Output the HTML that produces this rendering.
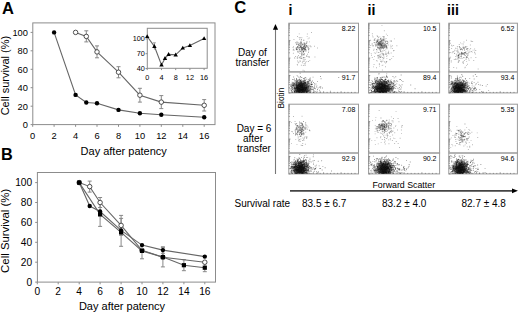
<!DOCTYPE html>
<html><head><meta charset="utf-8"><style>
html,body{margin:0;padding:0;background:#fff;}
body{width:520px;height:314px;overflow:hidden;}
svg{display:block;}
</style></head><body>
<svg width="520" height="314" viewBox="0 0 520 314">
<defs><filter id="soft" x="0" y="0" width="520" height="314" filterUnits="userSpaceOnUse"><feGaussianBlur stdDeviation="0.3"/></filter></defs>
<rect width="520" height="314" fill="#fff"/>
<text x="1.9" y="13.8" font-size="16.5" font-weight="bold" font-family="'Liberation Sans', sans-serif">A</text>
<rect x="32.8" y="22.9" width="182.2" height="101.69999999999999" fill="none" stroke="#8c8c8c" stroke-width="1"/>
<line x1="30.599999999999998" y1="124.6" x2="32.8" y2="124.6" stroke="#8c8c8c"/>
<text x="27.9" y="128.0" font-size="9.3" text-anchor="end" font-family="'Liberation Sans', sans-serif">0</text>
<line x1="30.599999999999998" y1="106.2" x2="32.8" y2="106.2" stroke="#8c8c8c"/>
<text x="27.9" y="109.6" font-size="9.3" text-anchor="end" font-family="'Liberation Sans', sans-serif">20</text>
<line x1="30.599999999999998" y1="87.7" x2="32.8" y2="87.7" stroke="#8c8c8c"/>
<text x="27.9" y="91.1" font-size="9.3" text-anchor="end" font-family="'Liberation Sans', sans-serif">40</text>
<line x1="30.599999999999998" y1="69.3" x2="32.8" y2="69.3" stroke="#8c8c8c"/>
<text x="27.9" y="72.7" font-size="9.3" text-anchor="end" font-family="'Liberation Sans', sans-serif">60</text>
<line x1="30.599999999999998" y1="50.8" x2="32.8" y2="50.8" stroke="#8c8c8c"/>
<text x="27.9" y="54.2" font-size="9.3" text-anchor="end" font-family="'Liberation Sans', sans-serif">80</text>
<line x1="30.599999999999998" y1="32.4" x2="32.8" y2="32.4" stroke="#8c8c8c"/>
<text x="27.9" y="35.8" font-size="9.3" text-anchor="end" font-family="'Liberation Sans', sans-serif">100</text>
<line x1="32.7" y1="124.6" x2="32.7" y2="126.8" stroke="#8c8c8c"/>
<text x="32.7" y="138.9" font-size="9.3" text-anchor="middle" font-family="'Liberation Sans', sans-serif">0</text>
<line x1="54.1" y1="124.6" x2="54.1" y2="126.8" stroke="#8c8c8c"/>
<text x="54.1" y="138.9" font-size="9.3" text-anchor="middle" font-family="'Liberation Sans', sans-serif">2</text>
<line x1="75.6" y1="124.6" x2="75.6" y2="126.8" stroke="#8c8c8c"/>
<text x="75.6" y="138.9" font-size="9.3" text-anchor="middle" font-family="'Liberation Sans', sans-serif">4</text>
<line x1="97.0" y1="124.6" x2="97.0" y2="126.8" stroke="#8c8c8c"/>
<text x="97.0" y="138.9" font-size="9.3" text-anchor="middle" font-family="'Liberation Sans', sans-serif">6</text>
<line x1="118.5" y1="124.6" x2="118.5" y2="126.8" stroke="#8c8c8c"/>
<text x="118.5" y="138.9" font-size="9.3" text-anchor="middle" font-family="'Liberation Sans', sans-serif">8</text>
<line x1="139.9" y1="124.6" x2="139.9" y2="126.8" stroke="#8c8c8c"/>
<text x="139.9" y="138.9" font-size="9.3" text-anchor="middle" font-family="'Liberation Sans', sans-serif">10</text>
<line x1="161.3" y1="124.6" x2="161.3" y2="126.8" stroke="#8c8c8c"/>
<text x="161.3" y="138.9" font-size="9.3" text-anchor="middle" font-family="'Liberation Sans', sans-serif">12</text>
<line x1="182.8" y1="124.6" x2="182.8" y2="126.8" stroke="#8c8c8c"/>
<text x="182.8" y="138.9" font-size="9.3" text-anchor="middle" font-family="'Liberation Sans', sans-serif">14</text>
<line x1="204.2" y1="124.6" x2="204.2" y2="126.8" stroke="#8c8c8c"/>
<text x="204.2" y="138.9" font-size="9.3" text-anchor="middle" font-family="'Liberation Sans', sans-serif">16</text>
<text x="123.7" y="154.7" font-size="11" text-anchor="middle" font-family="'Liberation Sans', sans-serif">Day after patency</text>
<text transform="translate(8.9,75.6) rotate(-90)" font-size="11" text-anchor="middle" font-family="'Liberation Sans', sans-serif">Cell survival (%)</text>
<path d="M86.3 30.8V41.9M84.3 30.8h4M84.3 41.9h4" stroke="#888" stroke-width="1" fill="none"/>
<path d="M97.0 45.9V57.8M95.0 45.9h4M95.0 57.8h4" stroke="#888" stroke-width="1" fill="none"/>
<path d="M118.5 66.7V77.8M116.5 66.7h4M116.5 77.8h4" stroke="#888" stroke-width="1" fill="none"/>
<path d="M139.9 88.3V102.1M137.9 88.3h4M137.9 102.1h4" stroke="#888" stroke-width="1" fill="none"/>
<path d="M161.3 95.6V108.6M159.3 95.6h4M159.3 108.6h4" stroke="#888" stroke-width="1" fill="none"/>
<path d="M204.2 99.6V111.0M202.2 99.6h4M202.2 111.0h4" stroke="#888" stroke-width="1" fill="none"/>
<polyline points="54.1,32.4 75.6,94.9 86.3,102.5 97.0,103.2 118.5,109.9 139.9,113.3 161.3,114.7 204.2,117.3" fill="none" stroke="#666" stroke-width="1.1"/>
<polyline points="75.6,32.4 86.3,36.4 97.0,51.9 118.5,72.2 139.9,95.2 161.3,102.1 204.2,105.3" fill="none" stroke="#666" stroke-width="1.1"/>
<circle cx="54.1" cy="32.4" r="2.2" fill="#000"/>
<circle cx="75.6" cy="94.9" r="2.2" fill="#000"/>
<circle cx="86.3" cy="102.5" r="2.2" fill="#000"/>
<circle cx="97.0" cy="103.2" r="2.2" fill="#000"/>
<circle cx="118.5" cy="109.9" r="2.2" fill="#000"/>
<circle cx="139.9" cy="113.3" r="2.2" fill="#000"/>
<circle cx="161.3" cy="114.7" r="2.2" fill="#000"/>
<circle cx="204.2" cy="117.3" r="2.2" fill="#000"/>
<circle cx="75.6" cy="32.4" r="2.25" fill="#fff" stroke="#333" stroke-width="0.85"/>
<circle cx="86.3" cy="36.4" r="2.25" fill="#fff" stroke="#333" stroke-width="0.85"/>
<circle cx="97.0" cy="51.9" r="2.25" fill="#fff" stroke="#333" stroke-width="0.85"/>
<circle cx="118.5" cy="72.2" r="2.25" fill="#fff" stroke="#333" stroke-width="0.85"/>
<circle cx="139.9" cy="95.2" r="2.25" fill="#fff" stroke="#333" stroke-width="0.85"/>
<circle cx="161.3" cy="102.1" r="2.25" fill="#fff" stroke="#333" stroke-width="0.85"/>
<circle cx="204.2" cy="105.3" r="2.25" fill="#fff" stroke="#333" stroke-width="0.85"/>
<rect x="147.3" y="28.3" width="59.89999999999998" height="40.0" fill="#fff" stroke="#8c8c8c" stroke-width="1"/>
<line x1="145.5" y1="68.5" x2="147.3" y2="68.5" stroke="#8c8c8c"/>
<text x="144.9" y="71.0" font-size="7.3" text-anchor="end" font-family="'Liberation Sans', sans-serif">40</text>
<line x1="145.5" y1="53.7" x2="147.3" y2="53.7" stroke="#8c8c8c"/>
<text x="144.9" y="56.2" font-size="7.3" text-anchor="end" font-family="'Liberation Sans', sans-serif">70</text>
<line x1="145.5" y1="38.9" x2="147.3" y2="38.9" stroke="#8c8c8c"/>
<text x="144.9" y="41.4" font-size="7.3" text-anchor="end" font-family="'Liberation Sans', sans-serif">100</text>
<line x1="147.2" y1="68.3" x2="147.2" y2="70.1" stroke="#8c8c8c"/>
<text x="147.2" y="79.6" font-size="7.3" text-anchor="middle" font-family="'Liberation Sans', sans-serif">0</text>
<line x1="161.5" y1="68.3" x2="161.5" y2="70.1" stroke="#8c8c8c"/>
<text x="161.5" y="79.6" font-size="7.3" text-anchor="middle" font-family="'Liberation Sans', sans-serif">4</text>
<line x1="175.7" y1="68.3" x2="175.7" y2="70.1" stroke="#8c8c8c"/>
<text x="175.7" y="79.6" font-size="7.3" text-anchor="middle" font-family="'Liberation Sans', sans-serif">8</text>
<line x1="189.9" y1="68.3" x2="189.9" y2="70.1" stroke="#8c8c8c"/>
<text x="189.9" y="79.6" font-size="7.3" text-anchor="middle" font-family="'Liberation Sans', sans-serif">12</text>
<line x1="204.1" y1="68.3" x2="204.1" y2="70.1" stroke="#8c8c8c"/>
<text x="204.1" y="79.6" font-size="7.3" text-anchor="middle" font-family="'Liberation Sans', sans-serif">16</text>
<path d="M152.9 42.8h3M154.4 42.8V49.7" stroke="#777" stroke-width="0.7" fill="none"/>
<polyline points="147.2,36.5 154.4,46.3 161.5,64.9 165.0,58.4 168.6,54.4 175.7,54.8 182.8,48.0 189.9,45.5 204.1,38.5" fill="none" stroke="#666" stroke-width="1.1"/>
<path d="M147.2 34.2L149.4 38.1H145.1Z" fill="#000"/>
<path d="M154.4 44.0L156.6 47.9H152.2Z" fill="#000"/>
<path d="M161.5 62.6L163.7 66.5H159.3Z" fill="#000"/>
<path d="M165.0 56.1L167.2 60.0H162.8Z" fill="#000"/>
<path d="M168.6 52.1L170.8 56.0H166.4Z" fill="#000"/>
<path d="M175.7 52.5L177.9 56.4H173.5Z" fill="#000"/>
<path d="M182.8 45.7L185.0 49.6H180.6Z" fill="#000"/>
<path d="M189.9 43.2L192.1 47.1H187.7Z" fill="#000"/>
<path d="M204.1 36.2L206.3 40.1H201.9Z" fill="#000"/>
<text x="0.9" y="159.8" font-size="16.3" font-weight="bold" font-family="'Liberation Sans', sans-serif">B</text>
<rect x="37.4" y="172.5" width="178.1" height="109.60000000000002" fill="none" stroke="#8c8c8c" stroke-width="1"/>
<line x1="35.199999999999996" y1="282.1" x2="37.4" y2="282.1" stroke="#8c8c8c"/>
<text x="32.2" y="285.8" font-size="10.2" text-anchor="end" font-family="'Liberation Sans', sans-serif">0</text>
<line x1="35.199999999999996" y1="262.2" x2="37.4" y2="262.2" stroke="#8c8c8c"/>
<text x="32.2" y="265.9" font-size="10.2" text-anchor="end" font-family="'Liberation Sans', sans-serif">20</text>
<line x1="35.199999999999996" y1="242.3" x2="37.4" y2="242.3" stroke="#8c8c8c"/>
<text x="32.2" y="246.0" font-size="10.2" text-anchor="end" font-family="'Liberation Sans', sans-serif">40</text>
<line x1="35.199999999999996" y1="222.4" x2="37.4" y2="222.4" stroke="#8c8c8c"/>
<text x="32.2" y="226.1" font-size="10.2" text-anchor="end" font-family="'Liberation Sans', sans-serif">60</text>
<line x1="35.199999999999996" y1="202.5" x2="37.4" y2="202.5" stroke="#8c8c8c"/>
<text x="32.2" y="206.2" font-size="10.2" text-anchor="end" font-family="'Liberation Sans', sans-serif">80</text>
<line x1="35.199999999999996" y1="182.6" x2="37.4" y2="182.6" stroke="#8c8c8c"/>
<text x="32.2" y="186.3" font-size="10.2" text-anchor="end" font-family="'Liberation Sans', sans-serif">100</text>
<line x1="37.3" y1="282.1" x2="37.3" y2="284.3" stroke="#8c8c8c"/>
<text x="37.3" y="294.9" font-size="10.2" text-anchor="middle" font-family="'Liberation Sans', sans-serif">0</text>
<line x1="58.2" y1="282.1" x2="58.2" y2="284.3" stroke="#8c8c8c"/>
<text x="58.2" y="294.9" font-size="10.2" text-anchor="middle" font-family="'Liberation Sans', sans-serif">2</text>
<line x1="79.2" y1="282.1" x2="79.2" y2="284.3" stroke="#8c8c8c"/>
<text x="79.2" y="294.9" font-size="10.2" text-anchor="middle" font-family="'Liberation Sans', sans-serif">4</text>
<line x1="100.1" y1="282.1" x2="100.1" y2="284.3" stroke="#8c8c8c"/>
<text x="100.1" y="294.9" font-size="10.2" text-anchor="middle" font-family="'Liberation Sans', sans-serif">6</text>
<line x1="121.1" y1="282.1" x2="121.1" y2="284.3" stroke="#8c8c8c"/>
<text x="121.1" y="294.9" font-size="10.2" text-anchor="middle" font-family="'Liberation Sans', sans-serif">8</text>
<line x1="142.0" y1="282.1" x2="142.0" y2="284.3" stroke="#8c8c8c"/>
<text x="142.0" y="294.9" font-size="10.2" text-anchor="middle" font-family="'Liberation Sans', sans-serif">10</text>
<line x1="162.9" y1="282.1" x2="162.9" y2="284.3" stroke="#8c8c8c"/>
<text x="162.9" y="294.9" font-size="10.2" text-anchor="middle" font-family="'Liberation Sans', sans-serif">12</text>
<line x1="183.9" y1="282.1" x2="183.9" y2="284.3" stroke="#8c8c8c"/>
<text x="183.9" y="294.9" font-size="10.2" text-anchor="middle" font-family="'Liberation Sans', sans-serif">14</text>
<line x1="204.8" y1="282.1" x2="204.8" y2="284.3" stroke="#8c8c8c"/>
<text x="204.8" y="294.9" font-size="10.2" text-anchor="middle" font-family="'Liberation Sans', sans-serif">16</text>
<text x="122" y="309.9" font-size="11" text-anchor="middle" font-family="'Liberation Sans', sans-serif">Day after patency</text>
<text transform="translate(8.6,230.8) rotate(-90)" font-size="11.4" text-anchor="middle" font-family="'Liberation Sans', sans-serif">Cell Survival (%)</text>
<path d="M89.7 181.1V192.1M87.7 181.1h4M87.7 192.1h4" stroke="#888" stroke-width="1" fill="none"/>
<path d="M100.1 197.5V207.5M98.1 197.5h4M98.1 207.5h4" stroke="#888" stroke-width="1" fill="none"/>
<path d="M121.1 215.4V235.3M119.1 215.4h4M119.1 235.3h4" stroke="#888" stroke-width="1" fill="none"/>
<path d="M162.9 246.8V253.3M160.9 246.8h4M160.9 253.3h4" stroke="#888" stroke-width="1" fill="none"/>
<path d="M100.1 202.5V226.4M98.1 202.5h4M98.1 226.4h4" stroke="#888" stroke-width="1" fill="none"/>
<path d="M121.1 218.4V246.3M119.1 218.4h4M119.1 246.3h4" stroke="#888" stroke-width="1" fill="none"/>
<path d="M142.0 250.9V258.8M140.0 250.9h4M140.0 258.8h4" stroke="#888" stroke-width="1" fill="none"/>
<path d="M162.9 247.4V266.9M160.9 247.4h4M160.9 266.9h4" stroke="#888" stroke-width="1" fill="none"/>
<path d="M183.9 259.7V270.7M181.9 259.7h4M181.9 270.7h4" stroke="#888" stroke-width="1" fill="none"/>
<path d="M204.8 263.7V271.7M202.8 263.7h4M202.8 271.7h4" stroke="#888" stroke-width="1" fill="none"/>
<polyline points="79.2,182.6 89.7,186.6 100.1,202.5 121.1,225.4 142.0,250.3 162.9,257.2 204.8,262.2" fill="none" stroke="#666" stroke-width="1.1"/>
<polyline points="79.2,182.6 89.7,206.0 100.1,211.5 121.1,230.4 142.0,245.1 162.9,250.1 204.8,256.6" fill="none" stroke="#666" stroke-width="1.1"/>
<polyline points="79.2,182.6 100.1,214.4 121.1,232.4 142.0,250.9 162.9,257.1 183.9,265.2 204.8,267.7" fill="none" stroke="#666" stroke-width="1.1"/>
<circle cx="79.2" cy="182.6" r="2.25" fill="#fff" stroke="#333" stroke-width="0.85"/>
<circle cx="89.7" cy="186.6" r="2.25" fill="#fff" stroke="#333" stroke-width="0.85"/>
<circle cx="100.1" cy="202.5" r="2.25" fill="#fff" stroke="#333" stroke-width="0.85"/>
<circle cx="121.1" cy="225.4" r="2.25" fill="#fff" stroke="#333" stroke-width="0.85"/>
<circle cx="142.0" cy="250.3" r="2.25" fill="#fff" stroke="#333" stroke-width="0.85"/>
<circle cx="162.9" cy="257.2" r="2.25" fill="#fff" stroke="#333" stroke-width="0.85"/>
<circle cx="204.8" cy="262.2" r="2.25" fill="#fff" stroke="#333" stroke-width="0.85"/>
<circle cx="79.2" cy="182.6" r="2.2" fill="#000"/>
<circle cx="89.7" cy="206.0" r="2.2" fill="#000"/>
<circle cx="100.1" cy="211.5" r="2.2" fill="#000"/>
<circle cx="121.1" cy="230.4" r="2.2" fill="#000"/>
<circle cx="142.0" cy="245.1" r="2.2" fill="#000"/>
<circle cx="162.9" cy="250.1" r="2.2" fill="#000"/>
<circle cx="204.8" cy="256.6" r="2.2" fill="#000"/>
<rect x="77.1" y="180.5" width="4.2" height="4.2" fill="#000"/>
<rect x="98.0" y="212.3" width="4.2" height="4.2" fill="#000"/>
<rect x="119.0" y="230.3" width="4.2" height="4.2" fill="#000"/>
<rect x="139.9" y="248.8" width="4.2" height="4.2" fill="#000"/>
<rect x="160.8" y="255.0" width="4.2" height="4.2" fill="#000"/>
<rect x="181.8" y="263.1" width="4.2" height="4.2" fill="#000"/>
<rect x="202.7" y="265.6" width="4.2" height="4.2" fill="#000"/>
<text x="234.2" y="13.2" font-size="16.6" font-weight="bold" font-family="'Liberation Sans', sans-serif">C</text>
<text x="288.6" y="15.4" font-size="14.2" font-weight="bold" font-family="'Liberation Sans', sans-serif">i</text>
<text x="367.5" y="15.4" font-size="14.2" font-weight="bold" font-family="'Liberation Sans', sans-serif">ii</text>
<text x="447" y="15.4" font-size="14.2" font-weight="bold" font-family="'Liberation Sans', sans-serif">iii</text>
<rect x="288.8" y="23.2" width="69.69999999999999" height="48.7" fill="none" stroke="#999"/>
<rect x="288.8" y="71.9" width="69.69999999999999" height="21.0" fill="none" stroke="#999"/>
<path d="M288.8 92.9h1.6M288.8 87.7h1.0M288.8 84.6h1.0M288.8 82.4h1.0M288.8 80.7h1.0M288.8 79.3h1.0M288.8 78.2h1.0M288.8 77.2h1.0M288.8 76.3h1.0M288.8 75.5h1.6M288.8 70.2h1.0M288.8 67.2h1.0M288.8 65.0h1.0M288.8 63.3h1.0M288.8 61.9h1.0M288.8 60.7h1.0M288.8 59.7h1.0M288.8 58.8h1.0M288.8 58.1h1.6M288.8 52.8h1.0M288.8 49.7h1.0M288.8 47.6h1.0M288.8 45.9h1.0M288.8 44.5h1.0M288.8 43.3h1.0M288.8 42.3h1.0M288.8 41.4h1.0M288.8 40.6h1.6M288.8 35.4h1.0M288.8 32.3h1.0M288.8 30.1h1.0M288.8 28.4h1.0M288.8 27.1h1.0M288.8 25.9h1.0M288.8 24.9h1.0M288.8 24.0h1.0M292.3 92.9v-1.0M295.8 92.9v-1.0M299.3 92.9v-1.0M302.7 92.9v-1.0M306.2 92.9v-1.6M309.7 92.9v-1.0M313.2 92.9v-1.0M316.7 92.9v-1.0M320.2 92.9v-1.0M323.6 92.9v-1.6M327.1 92.9v-1.0M330.6 92.9v-1.0M334.1 92.9v-1.0M337.6 92.9v-1.0M341.1 92.9v-1.6M344.6 92.9v-1.0M348.0 92.9v-1.0M351.5 92.9v-1.0M355.0 92.9v-1.0" stroke="#666" stroke-width="0.7" fill="none"/>
<text x="355.4" y="30.7" font-size="7" text-anchor="end" font-family="'Liberation Sans', sans-serif">8.22</text>
<text x="355.4" y="80.2" font-size="7" text-anchor="end" font-family="'Liberation Sans', sans-serif">91.7</text>
<rect x="368.6" y="23.2" width="71.0" height="48.7" fill="none" stroke="#999"/>
<rect x="368.6" y="71.9" width="71.0" height="21.0" fill="none" stroke="#999"/>
<path d="M368.6 92.9h1.6M368.6 87.7h1.0M368.6 84.6h1.0M368.6 82.4h1.0M368.6 80.7h1.0M368.6 79.3h1.0M368.6 78.2h1.0M368.6 77.2h1.0M368.6 76.3h1.0M368.6 75.5h1.6M368.6 70.2h1.0M368.6 67.2h1.0M368.6 65.0h1.0M368.6 63.3h1.0M368.6 61.9h1.0M368.6 60.7h1.0M368.6 59.7h1.0M368.6 58.8h1.0M368.6 58.1h1.6M368.6 52.8h1.0M368.6 49.7h1.0M368.6 47.6h1.0M368.6 45.9h1.0M368.6 44.5h1.0M368.6 43.3h1.0M368.6 42.3h1.0M368.6 41.4h1.0M368.6 40.6h1.6M368.6 35.4h1.0M368.6 32.3h1.0M368.6 30.1h1.0M368.6 28.4h1.0M368.6 27.1h1.0M368.6 25.9h1.0M368.6 24.9h1.0M368.6 24.0h1.0M372.2 92.9v-1.0M375.7 92.9v-1.0M379.2 92.9v-1.0M382.8 92.9v-1.0M386.4 92.9v-1.6M389.9 92.9v-1.0M393.5 92.9v-1.0M397.0 92.9v-1.0M400.6 92.9v-1.0M404.1 92.9v-1.6M407.7 92.9v-1.0M411.2 92.9v-1.0M414.8 92.9v-1.0M418.3 92.9v-1.0M421.9 92.9v-1.6M425.4 92.9v-1.0M429.0 92.9v-1.0M432.5 92.9v-1.0M436.1 92.9v-1.0" stroke="#666" stroke-width="0.7" fill="none"/>
<text x="436.5" y="30.7" font-size="7" text-anchor="end" font-family="'Liberation Sans', sans-serif">10.5</text>
<text x="436.5" y="80.2" font-size="7" text-anchor="end" font-family="'Liberation Sans', sans-serif">89.4</text>
<rect x="448.8" y="23.2" width="68.59999999999997" height="48.7" fill="none" stroke="#999"/>
<rect x="448.8" y="71.9" width="68.59999999999997" height="21.0" fill="none" stroke="#999"/>
<path d="M448.8 92.9h1.6M448.8 87.7h1.0M448.8 84.6h1.0M448.8 82.4h1.0M448.8 80.7h1.0M448.8 79.3h1.0M448.8 78.2h1.0M448.8 77.2h1.0M448.8 76.3h1.0M448.8 75.5h1.6M448.8 70.2h1.0M448.8 67.2h1.0M448.8 65.0h1.0M448.8 63.3h1.0M448.8 61.9h1.0M448.8 60.7h1.0M448.8 59.7h1.0M448.8 58.8h1.0M448.8 58.1h1.6M448.8 52.8h1.0M448.8 49.7h1.0M448.8 47.6h1.0M448.8 45.9h1.0M448.8 44.5h1.0M448.8 43.3h1.0M448.8 42.3h1.0M448.8 41.4h1.0M448.8 40.6h1.6M448.8 35.4h1.0M448.8 32.3h1.0M448.8 30.1h1.0M448.8 28.4h1.0M448.8 27.1h1.0M448.8 25.9h1.0M448.8 24.9h1.0M448.8 24.0h1.0M452.2 92.9v-1.0M455.7 92.9v-1.0M459.1 92.9v-1.0M462.5 92.9v-1.0M465.9 92.9v-1.6M469.4 92.9v-1.0M472.8 92.9v-1.0M476.2 92.9v-1.0M479.7 92.9v-1.0M483.1 92.9v-1.6M486.5 92.9v-1.0M490.0 92.9v-1.0M493.4 92.9v-1.0M496.8 92.9v-1.0M500.2 92.9v-1.6M503.7 92.9v-1.0M507.1 92.9v-1.0M510.5 92.9v-1.0M514.0 92.9v-1.0" stroke="#666" stroke-width="0.7" fill="none"/>
<text x="514.3" y="30.7" font-size="7" text-anchor="end" font-family="'Liberation Sans', sans-serif">6.52</text>
<text x="514.3" y="80.2" font-size="7" text-anchor="end" font-family="'Liberation Sans', sans-serif">93.4</text>
<rect x="288.8" y="104.2" width="69.69999999999999" height="48.8" fill="none" stroke="#999"/>
<rect x="288.8" y="153" width="69.69999999999999" height="20.900000000000006" fill="none" stroke="#999"/>
<path d="M288.8 173.9h1.6M288.8 168.7h1.0M288.8 165.6h1.0M288.8 163.4h1.0M288.8 161.7h1.0M288.8 160.3h1.0M288.8 159.2h1.0M288.8 158.2h1.0M288.8 157.3h1.0M288.8 156.5h1.6M288.8 151.2h1.0M288.8 148.2h1.0M288.8 146.0h1.0M288.8 144.3h1.0M288.8 142.9h1.0M288.8 141.7h1.0M288.8 140.7h1.0M288.8 139.8h1.0M288.8 139.1h1.6M288.8 133.8h1.0M288.8 130.7h1.0M288.8 128.6h1.0M288.8 126.9h1.0M288.8 125.5h1.0M288.8 124.3h1.0M288.8 123.3h1.0M288.8 122.4h1.0M288.8 121.6h1.6M288.8 116.4h1.0M288.8 113.3h1.0M288.8 111.1h1.0M288.8 109.4h1.0M288.8 108.1h1.0M288.8 106.9h1.0M288.8 105.9h1.0M288.8 105.0h1.0M292.3 173.9v-1.0M295.8 173.9v-1.0M299.3 173.9v-1.0M302.7 173.9v-1.0M306.2 173.9v-1.6M309.7 173.9v-1.0M313.2 173.9v-1.0M316.7 173.9v-1.0M320.2 173.9v-1.0M323.6 173.9v-1.6M327.1 173.9v-1.0M330.6 173.9v-1.0M334.1 173.9v-1.0M337.6 173.9v-1.0M341.1 173.9v-1.6M344.6 173.9v-1.0M348.0 173.9v-1.0M351.5 173.9v-1.0M355.0 173.9v-1.0" stroke="#666" stroke-width="0.7" fill="none"/>
<text x="355.4" y="111.7" font-size="7" text-anchor="end" font-family="'Liberation Sans', sans-serif">7.08</text>
<text x="355.4" y="161.3" font-size="7" text-anchor="end" font-family="'Liberation Sans', sans-serif">92.9</text>
<rect x="368.6" y="104.2" width="71.0" height="48.8" fill="none" stroke="#999"/>
<rect x="368.6" y="153" width="71.0" height="20.900000000000006" fill="none" stroke="#999"/>
<path d="M368.6 173.9h1.6M368.6 168.7h1.0M368.6 165.6h1.0M368.6 163.4h1.0M368.6 161.7h1.0M368.6 160.3h1.0M368.6 159.2h1.0M368.6 158.2h1.0M368.6 157.3h1.0M368.6 156.5h1.6M368.6 151.2h1.0M368.6 148.2h1.0M368.6 146.0h1.0M368.6 144.3h1.0M368.6 142.9h1.0M368.6 141.7h1.0M368.6 140.7h1.0M368.6 139.8h1.0M368.6 139.1h1.6M368.6 133.8h1.0M368.6 130.7h1.0M368.6 128.6h1.0M368.6 126.9h1.0M368.6 125.5h1.0M368.6 124.3h1.0M368.6 123.3h1.0M368.6 122.4h1.0M368.6 121.6h1.6M368.6 116.4h1.0M368.6 113.3h1.0M368.6 111.1h1.0M368.6 109.4h1.0M368.6 108.1h1.0M368.6 106.9h1.0M368.6 105.9h1.0M368.6 105.0h1.0M372.2 173.9v-1.0M375.7 173.9v-1.0M379.2 173.9v-1.0M382.8 173.9v-1.0M386.4 173.9v-1.6M389.9 173.9v-1.0M393.5 173.9v-1.0M397.0 173.9v-1.0M400.6 173.9v-1.0M404.1 173.9v-1.6M407.7 173.9v-1.0M411.2 173.9v-1.0M414.8 173.9v-1.0M418.3 173.9v-1.0M421.9 173.9v-1.6M425.4 173.9v-1.0M429.0 173.9v-1.0M432.5 173.9v-1.0M436.1 173.9v-1.0" stroke="#666" stroke-width="0.7" fill="none"/>
<text x="436.5" y="111.7" font-size="7" text-anchor="end" font-family="'Liberation Sans', sans-serif">9.71</text>
<text x="436.5" y="161.3" font-size="7" text-anchor="end" font-family="'Liberation Sans', sans-serif">90.2</text>
<rect x="448.8" y="104.2" width="68.59999999999997" height="48.8" fill="none" stroke="#999"/>
<rect x="448.8" y="153" width="68.59999999999997" height="20.900000000000006" fill="none" stroke="#999"/>
<path d="M448.8 173.9h1.6M448.8 168.7h1.0M448.8 165.6h1.0M448.8 163.4h1.0M448.8 161.7h1.0M448.8 160.3h1.0M448.8 159.2h1.0M448.8 158.2h1.0M448.8 157.3h1.0M448.8 156.5h1.6M448.8 151.2h1.0M448.8 148.2h1.0M448.8 146.0h1.0M448.8 144.3h1.0M448.8 142.9h1.0M448.8 141.7h1.0M448.8 140.7h1.0M448.8 139.8h1.0M448.8 139.1h1.6M448.8 133.8h1.0M448.8 130.7h1.0M448.8 128.6h1.0M448.8 126.9h1.0M448.8 125.5h1.0M448.8 124.3h1.0M448.8 123.3h1.0M448.8 122.4h1.0M448.8 121.6h1.6M448.8 116.4h1.0M448.8 113.3h1.0M448.8 111.1h1.0M448.8 109.4h1.0M448.8 108.1h1.0M448.8 106.9h1.0M448.8 105.9h1.0M448.8 105.0h1.0M452.2 173.9v-1.0M455.7 173.9v-1.0M459.1 173.9v-1.0M462.5 173.9v-1.0M465.9 173.9v-1.6M469.4 173.9v-1.0M472.8 173.9v-1.0M476.2 173.9v-1.0M479.7 173.9v-1.0M483.1 173.9v-1.6M486.5 173.9v-1.0M490.0 173.9v-1.0M493.4 173.9v-1.0M496.8 173.9v-1.0M500.2 173.9v-1.6M503.7 173.9v-1.0M507.1 173.9v-1.0M510.5 173.9v-1.0M514.0 173.9v-1.0" stroke="#666" stroke-width="0.7" fill="none"/>
<text x="514.3" y="111.7" font-size="7" text-anchor="end" font-family="'Liberation Sans', sans-serif">5.35</text>
<text x="514.3" y="161.3" font-size="7" text-anchor="end" font-family="'Liberation Sans', sans-serif">94.6</text>
<g filter="url(#soft)">
<path d="M297.9 47.7h0.9v0.9h-0.9zM302.6 50.0h0.9v0.9h-0.9zM305.6 49.6h0.9v0.9h-0.9zM299.1 42.9h0.9v0.9h-0.9zM302.1 48.7h0.9v0.9h-0.9zM297.3 46.0h0.9v0.9h-0.9zM310.5 46.3h0.9v0.9h-0.9zM301.0 47.7h0.9v0.9h-0.9zM306.5 44.9h0.9v0.9h-0.9zM304.1 46.1h0.9v0.9h-0.9zM303.4 48.0h0.9v0.9h-0.9zM302.1 47.2h0.9v0.9h-0.9zM303.0 51.3h0.9v0.9h-0.9zM301.8 49.0h0.9v0.9h-0.9zM302.0 49.6h0.9v0.9h-0.9zM301.8 48.9h0.9v0.9h-0.9zM304.4 48.8h0.9v0.9h-0.9zM304.4 45.6h0.9v0.9h-0.9zM305.6 43.3h0.9v0.9h-0.9zM303.6 53.9h0.9v0.9h-0.9zM308.3 48.5h0.9v0.9h-0.9zM299.4 45.0h0.9v0.9h-0.9zM296.2 44.2h0.9v0.9h-0.9zM303.5 46.8h0.9v0.9h-0.9zM300.0 45.8h0.9v0.9h-0.9zM300.0 42.5h0.9v0.9h-0.9zM299.1 38.7h0.9v0.9h-0.9zM296.8 57.6h0.9v0.9h-0.9zM300.9 41.5h0.9v0.9h-0.9zM305.9 42.7h0.9v0.9h-0.9zM299.4 44.3h0.9v0.9h-0.9zM307.1 46.2h0.9v0.9h-0.9zM296.3 48.7h0.9v0.9h-0.9zM299.3 46.8h0.9v0.9h-0.9zM301.3 47.0h0.9v0.9h-0.9zM304.7 43.9h0.9v0.9h-0.9zM302.2 49.7h0.9v0.9h-0.9z" fill="#000" fill-opacity="0.4"/>
<path d="M304.1 44.9h0.9v0.9h-0.9zM297.9 42.4h0.9v0.9h-0.9zM301.0 45.6h0.9v0.9h-0.9zM301.6 47.0h0.9v0.9h-0.9zM304.4 47.2h0.9v0.9h-0.9zM297.2 46.5h0.9v0.9h-0.9zM303.7 42.3h0.9v0.9h-0.9zM301.6 43.3h0.9v0.9h-0.9zM303.2 46.5h0.9v0.9h-0.9zM304.8 48.5h0.9v0.9h-0.9zM305.9 45.3h0.9v0.9h-0.9zM301.8 44.6h0.9v0.9h-0.9zM304.0 49.9h0.9v0.9h-0.9zM306.3 45.5h0.9v0.9h-0.9zM303.7 42.9h0.9v0.9h-0.9zM301.7 43.7h0.9v0.9h-0.9zM301.5 50.8h0.9v0.9h-0.9zM296.3 43.6h0.9v0.9h-0.9zM301.3 48.6h0.9v0.9h-0.9zM304.1 43.6h0.9v0.9h-0.9zM301.6 51.5h0.9v0.9h-0.9zM303.3 51.1h0.9v0.9h-0.9zM299.6 44.8h0.9v0.9h-0.9zM300.4 46.9h0.9v0.9h-0.9zM297.5 51.6h0.9v0.9h-0.9zM301.8 47.2h0.9v0.9h-0.9zM305.2 47.1h0.9v0.9h-0.9zM304.4 48.3h0.9v0.9h-0.9zM303.0 39.7h0.9v0.9h-0.9zM297.0 49.3h0.9v0.9h-0.9zM298.0 44.3h0.9v0.9h-0.9zM300.9 43.4h0.9v0.9h-0.9zM305.3 49.2h0.9v0.9h-0.9zM300.3 42.9h0.9v0.9h-0.9zM300.0 51.1h0.9v0.9h-0.9zM295.8 48.9h0.9v0.9h-0.9zM303.4 39.8h0.9v0.9h-0.9z" fill="#000" fill-opacity="0.4"/>
<path d="M297.6 46.3h0.9v0.9h-0.9zM303.3 48.0h0.9v0.9h-0.9zM308.5 45.6h0.9v0.9h-0.9zM300.3 46.3h0.9v0.9h-0.9zM296.3 48.7h0.9v0.9h-0.9zM299.1 47.2h0.9v0.9h-0.9zM300.5 48.6h0.9v0.9h-0.9zM302.9 43.9h0.9v0.9h-0.9zM304.0 44.6h0.9v0.9h-0.9zM301.7 44.0h0.9v0.9h-0.9zM302.9 48.1h0.9v0.9h-0.9zM298.5 45.2h0.9v0.9h-0.9zM303.5 48.7h0.9v0.9h-0.9zM299.4 52.8h0.9v0.9h-0.9zM308.1 52.2h0.9v0.9h-0.9zM301.0 47.7h0.9v0.9h-0.9zM299.2 49.0h0.9v0.9h-0.9zM302.0 48.2h0.9v0.9h-0.9zM300.9 38.9h0.9v0.9h-0.9zM300.1 47.2h0.9v0.9h-0.9zM301.1 52.5h0.9v0.9h-0.9zM303.1 47.5h0.9v0.9h-0.9zM302.9 45.4h0.9v0.9h-0.9zM302.5 49.2h0.9v0.9h-0.9zM305.4 45.9h0.9v0.9h-0.9zM307.4 47.3h0.9v0.9h-0.9zM296.8 47.1h0.9v0.9h-0.9zM300.8 39.7h0.9v0.9h-0.9zM298.8 50.4h0.9v0.9h-0.9zM303.7 43.3h0.9v0.9h-0.9zM304.8 48.7h0.9v0.9h-0.9zM301.0 42.3h0.9v0.9h-0.9zM305.0 47.3h0.9v0.9h-0.9zM296.6 41.8h0.9v0.9h-0.9zM301.8 48.4h0.9v0.9h-0.9zM299.4 50.7h0.9v0.9h-0.9z" fill="#000" fill-opacity="0.4"/>
<path d="M306.0 45.3h0.9v0.9h-0.9zM306.2 56.2h0.9v0.9h-0.9zM298.8 33.4h0.9v0.9h-0.9zM297.8 51.7h0.9v0.9h-0.9zM297.5 44.2h0.9v0.9h-0.9zM308.0 49.1h0.9v0.9h-0.9zM303.1 48.5h0.9v0.9h-0.9zM298.5 61.6h0.9v0.9h-0.9zM300.8 50.4h0.9v0.9h-0.9zM303.1 51.7h0.9v0.9h-0.9zM296.5 42.6h0.9v0.9h-0.9zM300.5 45.7h0.9v0.9h-0.9zM308.2 50.5h0.9v0.9h-0.9zM301.3 56.4h0.9v0.9h-0.9zM295.0 42.3h0.9v0.9h-0.9zM304.0 48.3h0.9v0.9h-0.9zM306.1 55.6h0.9v0.9h-0.9zM296.9 56.3h0.9v0.9h-0.9zM307.8 47.3h0.9v0.9h-0.9zM300.2 37.3h0.9v0.9h-0.9zM304.7 64.6h0.9v0.9h-0.9zM292.5 47.2h0.9v0.9h-0.9zM305.1 44.9h0.9v0.9h-0.9zM293.1 46.3h0.9v0.9h-0.9zM302.7 47.6h0.9v0.9h-0.9zM297.1 60.6h0.9v0.9h-0.9zM293.2 48.8h0.9v0.9h-0.9zM308.0 47.3h0.9v0.9h-0.9zM303.2 58.4h0.9v0.9h-0.9zM297.7 43.5h0.9v0.9h-0.9zM300.0 56.3h0.9v0.9h-0.9zM304.8 63.2h0.9v0.9h-0.9zM298.7 47.9h0.9v0.9h-0.9zM301.0 49.0h0.9v0.9h-0.9zM294.0 57.4h0.9v0.9h-0.9zM301.3 47.6h0.9v0.9h-0.9zM314.0 45.8h0.9v0.9h-0.9zM306.1 55.3h0.9v0.9h-0.9zM297.2 50.9h0.9v0.9h-0.9zM304.6 48.3h0.9v0.9h-0.9zM303.4 54.7h0.9v0.9h-0.9zM297.3 57.7h0.9v0.9h-0.9zM306.7 55.8h0.9v0.9h-0.9zM296.2 48.6h0.9v0.9h-0.9zM298.8 49.2h0.9v0.9h-0.9zM297.6 43.4h0.9v0.9h-0.9zM304.5 46.0h0.9v0.9h-0.9zM305.9 46.5h0.9v0.9h-0.9zM304.2 47.6h0.9v0.9h-0.9zM301.9 53.2h0.9v0.9h-0.9zM302.7 46.5h0.9v0.9h-0.9zM305.7 50.5h0.9v0.9h-0.9zM304.7 49.3h0.9v0.9h-0.9zM293.6 49.8h0.9v0.9h-0.9zM303.2 51.2h0.9v0.9h-0.9zM299.2 48.4h0.9v0.9h-0.9zM311.0 32.0h0.9v0.9h-0.9zM314.5 56.5h0.9v0.9h-0.9zM299.1 57.0h0.9v0.9h-0.9zM301.3 49.3h0.9v0.9h-0.9zM304.6 65.0h0.9v0.9h-0.9zM303.7 63.3h0.9v0.9h-0.9zM307.9 56.5h0.9v0.9h-0.9zM300.6 58.0h0.9v0.9h-0.9zM309.3 60.2h0.9v0.9h-0.9zM302.8 54.1h0.9v0.9h-0.9zM308.7 56.0h0.9v0.9h-0.9zM303.3 56.9h0.9v0.9h-0.9zM300.9 64.8h0.9v0.9h-0.9zM299.8 56.7h0.9v0.9h-0.9zM301.4 57.9h0.9v0.9h-0.9zM299.6 60.2h0.9v0.9h-0.9zM301.2 54.5h0.9v0.9h-0.9zM298.7 56.7h0.9v0.9h-0.9zM305.2 61.8h0.9v0.9h-0.9z" fill="#000" fill-opacity="0.3"/>
<path d="M297.8 47.0h0.9v0.9h-0.9zM307.6 38.4h0.9v0.9h-0.9zM301.4 54.2h0.9v0.9h-0.9zM303.3 57.1h0.9v0.9h-0.9zM297.8 62.3h0.9v0.9h-0.9zM303.2 50.8h0.9v0.9h-0.9zM300.2 41.2h0.9v0.9h-0.9zM305.0 50.5h0.9v0.9h-0.9zM303.9 45.5h0.9v0.9h-0.9zM297.9 44.5h0.9v0.9h-0.9zM306.9 33.5h0.9v0.9h-0.9zM298.6 50.7h0.9v0.9h-0.9zM301.2 45.7h0.9v0.9h-0.9zM299.8 42.0h0.9v0.9h-0.9zM294.4 57.7h0.9v0.9h-0.9zM310.0 45.4h0.9v0.9h-0.9zM293.5 39.1h0.9v0.9h-0.9zM309.1 41.4h0.9v0.9h-0.9zM299.8 46.1h0.9v0.9h-0.9zM296.5 41.4h0.9v0.9h-0.9zM317.0 47.6h0.9v0.9h-0.9zM296.8 63.9h0.9v0.9h-0.9zM307.1 53.8h0.9v0.9h-0.9zM300.7 50.1h0.9v0.9h-0.9zM303.0 45.9h0.9v0.9h-0.9zM304.0 53.1h0.9v0.9h-0.9zM306.5 41.0h0.9v0.9h-0.9zM304.2 49.1h0.9v0.9h-0.9zM299.8 61.0h0.9v0.9h-0.9zM305.9 42.5h0.9v0.9h-0.9zM308.7 37.6h0.9v0.9h-0.9zM308.6 48.3h0.9v0.9h-0.9zM295.7 48.1h0.9v0.9h-0.9zM308.5 48.4h0.9v0.9h-0.9zM296.1 46.9h0.9v0.9h-0.9zM296.5 48.3h0.9v0.9h-0.9zM301.3 57.9h0.9v0.9h-0.9zM306.7 36.2h0.9v0.9h-0.9zM304.7 59.1h0.9v0.9h-0.9zM302.2 48.5h0.9v0.9h-0.9zM300.1 44.3h0.9v0.9h-0.9zM309.0 56.9h0.9v0.9h-0.9zM302.0 54.6h0.9v0.9h-0.9zM298.0 55.1h0.9v0.9h-0.9zM304.2 59.5h0.9v0.9h-0.9zM306.5 42.3h0.9v0.9h-0.9zM301.4 37.3h0.9v0.9h-0.9zM297.1 64.5h0.9v0.9h-0.9zM302.6 61.2h0.9v0.9h-0.9zM304.8 43.6h0.9v0.9h-0.9zM295.1 56.1h0.9v0.9h-0.9zM297.0 36.0h0.9v0.9h-0.9zM292.7 49.6h0.9v0.9h-0.9zM302.8 52.5h0.9v0.9h-0.9zM295.7 47.3h0.9v0.9h-0.9zM303.5 54.3h0.9v0.9h-0.9zM304.2 48.6h0.9v0.9h-0.9zM292.9 52.8h0.9v0.9h-0.9zM296.2 49.3h0.9v0.9h-0.9zM298.8 37.1h0.9v0.9h-0.9zM302.8 56.9h0.9v0.9h-0.9zM302.4 60.9h0.9v0.9h-0.9zM301.0 53.4h0.9v0.9h-0.9zM299.6 58.2h0.9v0.9h-0.9zM302.6 69.8h0.9v0.9h-0.9zM304.4 57.3h0.9v0.9h-0.9zM301.0 54.6h0.9v0.9h-0.9zM302.8 59.5h0.9v0.9h-0.9zM306.3 61.2h0.9v0.9h-0.9zM303.9 70.6h0.9v0.9h-0.9zM300.6 56.6h0.9v0.9h-0.9zM308.0 61.0h0.9v0.9h-0.9zM303.7 60.9h0.9v0.9h-0.9zM302.9 65.0h0.9v0.9h-0.9zM301.9 62.3h0.9v0.9h-0.9z" fill="#000" fill-opacity="0.3"/>
<path d="M296.4 87.0h0.9v0.9h-0.9zM299.8 87.6h0.9v0.9h-0.9zM300.8 89.7h0.9v0.9h-0.9zM300.1 84.1h0.9v0.9h-0.9zM295.4 90.6h0.9v0.9h-0.9zM302.0 83.0h0.9v0.9h-0.9zM302.1 88.8h0.9v0.9h-0.9zM300.6 80.9h0.9v0.9h-0.9zM294.1 78.6h0.9v0.9h-0.9zM301.0 86.9h0.9v0.9h-0.9zM308.9 83.9h0.9v0.9h-0.9zM302.2 83.7h0.9v0.9h-0.9zM301.3 87.1h0.9v0.9h-0.9zM294.2 87.6h0.9v0.9h-0.9zM303.5 83.2h0.9v0.9h-0.9zM298.9 89.6h0.9v0.9h-0.9zM293.4 84.1h0.9v0.9h-0.9zM303.9 86.6h0.9v0.9h-0.9zM299.2 86.0h0.9v0.9h-0.9zM292.8 78.9h0.9v0.9h-0.9zM305.8 87.0h0.9v0.9h-0.9zM299.5 91.7h0.9v0.9h-0.9zM304.6 88.8h0.9v0.9h-0.9zM299.7 92.0h0.9v0.9h-0.9zM301.9 89.9h0.9v0.9h-0.9zM304.4 86.5h0.9v0.9h-0.9zM297.9 83.9h0.9v0.9h-0.9zM305.5 88.1h0.9v0.9h-0.9zM296.0 87.1h0.9v0.9h-0.9zM303.2 89.0h0.9v0.9h-0.9zM298.6 87.5h0.9v0.9h-0.9zM296.9 89.3h0.9v0.9h-0.9zM296.1 87.7h0.9v0.9h-0.9zM303.8 91.6h0.9v0.9h-0.9zM296.8 81.6h0.9v0.9h-0.9zM300.2 89.8h0.9v0.9h-0.9zM298.2 89.0h0.9v0.9h-0.9zM300.3 85.1h0.9v0.9h-0.9zM300.2 85.9h0.9v0.9h-0.9zM296.4 90.3h0.9v0.9h-0.9zM294.5 90.1h0.9v0.9h-0.9zM303.1 87.8h0.9v0.9h-0.9zM295.7 84.9h0.9v0.9h-0.9zM301.5 85.7h0.9v0.9h-0.9zM304.5 90.0h0.9v0.9h-0.9zM303.6 89.2h0.9v0.9h-0.9zM301.2 91.5h0.9v0.9h-0.9zM300.0 87.4h0.9v0.9h-0.9zM299.7 89.5h0.9v0.9h-0.9zM304.2 87.0h0.9v0.9h-0.9zM300.0 87.9h0.9v0.9h-0.9zM302.7 86.4h0.9v0.9h-0.9zM295.9 79.9h0.9v0.9h-0.9zM297.2 91.1h0.9v0.9h-0.9zM305.1 90.1h0.9v0.9h-0.9zM307.1 86.1h0.9v0.9h-0.9zM301.8 91.2h0.9v0.9h-0.9zM294.0 85.7h0.9v0.9h-0.9zM300.8 83.6h0.9v0.9h-0.9zM301.4 84.0h0.9v0.9h-0.9zM297.1 86.8h0.9v0.9h-0.9zM292.8 83.6h0.9v0.9h-0.9zM301.6 89.3h0.9v0.9h-0.9zM295.9 83.9h0.9v0.9h-0.9zM298.8 88.6h0.9v0.9h-0.9zM303.4 86.4h0.9v0.9h-0.9zM309.1 78.8h0.9v0.9h-0.9zM301.4 88.3h0.9v0.9h-0.9zM300.0 85.6h0.9v0.9h-0.9zM303.6 86.5h0.9v0.9h-0.9zM298.4 91.9h0.9v0.9h-0.9zM302.3 91.9h0.9v0.9h-0.9zM295.8 88.3h0.9v0.9h-0.9zM297.8 85.4h0.9v0.9h-0.9zM303.8 83.6h0.9v0.9h-0.9zM302.5 86.5h0.9v0.9h-0.9zM299.6 89.9h0.9v0.9h-0.9zM300.2 88.8h0.9v0.9h-0.9zM302.1 89.9h0.9v0.9h-0.9zM297.2 90.9h0.9v0.9h-0.9zM298.0 90.1h0.9v0.9h-0.9zM296.7 85.8h0.9v0.9h-0.9zM297.5 89.3h0.9v0.9h-0.9zM304.8 90.3h0.9v0.9h-0.9zM304.0 91.6h0.9v0.9h-0.9zM297.6 88.2h0.9v0.9h-0.9zM305.5 87.6h0.9v0.9h-0.9zM296.1 82.4h0.9v0.9h-0.9zM298.2 90.6h0.9v0.9h-0.9zM305.2 90.4h0.9v0.9h-0.9zM304.8 88.7h0.9v0.9h-0.9zM302.4 89.1h0.9v0.9h-0.9zM307.0 90.9h0.9v0.9h-0.9zM300.5 84.3h0.9v0.9h-0.9zM303.3 90.9h0.9v0.9h-0.9zM299.8 88.7h0.9v0.9h-0.9zM296.9 91.9h0.9v0.9h-0.9zM307.5 91.4h0.9v0.9h-0.9zM306.7 89.9h0.9v0.9h-0.9zM299.3 87.2h0.9v0.9h-0.9zM300.8 89.3h0.9v0.9h-0.9zM305.7 82.4h0.9v0.9h-0.9zM305.1 86.9h0.9v0.9h-0.9zM301.8 87.5h0.9v0.9h-0.9zM298.3 88.1h0.9v0.9h-0.9zM305.7 87.6h0.9v0.9h-0.9zM295.8 85.2h0.9v0.9h-0.9zM301.8 88.7h0.9v0.9h-0.9zM302.8 85.0h0.9v0.9h-0.9zM301.5 85.0h0.9v0.9h-0.9zM300.9 91.3h0.9v0.9h-0.9zM295.5 84.9h0.9v0.9h-0.9zM303.2 87.6h0.9v0.9h-0.9zM299.9 90.9h0.9v0.9h-0.9zM304.9 86.3h0.9v0.9h-0.9zM301.7 88.4h0.9v0.9h-0.9zM304.1 88.8h0.9v0.9h-0.9zM296.6 91.0h0.9v0.9h-0.9zM300.2 90.9h0.9v0.9h-0.9zM297.0 88.2h0.9v0.9h-0.9zM299.3 89.1h0.9v0.9h-0.9zM297.2 88.4h0.9v0.9h-0.9zM301.6 86.1h0.9v0.9h-0.9zM303.1 86.0h0.9v0.9h-0.9zM292.3 84.5h0.9v0.9h-0.9zM299.2 84.0h0.9v0.9h-0.9zM299.2 91.3h0.9v0.9h-0.9zM306.1 86.7h0.9v0.9h-0.9zM303.2 86.8h0.9v0.9h-0.9zM299.1 89.3h0.9v0.9h-0.9zM295.0 85.6h0.9v0.9h-0.9zM304.3 90.3h0.9v0.9h-0.9zM299.7 84.3h0.9v0.9h-0.9zM307.6 87.5h0.9v0.9h-0.9zM290.2 85.8h0.9v0.9h-0.9zM296.8 91.9h0.9v0.9h-0.9zM299.4 78.8h0.9v0.9h-0.9zM303.7 90.0h0.9v0.9h-0.9zM300.8 91.0h0.9v0.9h-0.9zM302.8 86.6h0.9v0.9h-0.9zM305.9 85.4h0.9v0.9h-0.9zM295.8 87.1h0.9v0.9h-0.9zM297.8 83.2h0.9v0.9h-0.9zM297.4 88.2h0.9v0.9h-0.9zM296.1 87.6h0.9v0.9h-0.9zM305.8 82.9h0.9v0.9h-0.9zM303.4 89.9h0.9v0.9h-0.9zM303.1 91.7h0.9v0.9h-0.9zM297.4 87.5h0.9v0.9h-0.9zM298.8 86.1h0.9v0.9h-0.9zM291.1 90.2h0.9v0.9h-0.9zM302.1 85.8h0.9v0.9h-0.9zM301.1 91.8h0.9v0.9h-0.9zM297.2 91.8h0.9v0.9h-0.9zM298.2 87.3h0.9v0.9h-0.9zM302.2 90.4h0.9v0.9h-0.9zM303.2 90.6h0.9v0.9h-0.9zM298.9 86.8h0.9v0.9h-0.9zM300.1 91.8h0.9v0.9h-0.9zM293.5 84.6h0.9v0.9h-0.9zM298.6 86.2h0.9v0.9h-0.9zM304.3 88.5h0.9v0.9h-0.9zM298.1 90.6h0.9v0.9h-0.9zM300.2 83.3h0.9v0.9h-0.9zM299.5 89.9h0.9v0.9h-0.9zM299.7 90.2h0.9v0.9h-0.9zM305.2 88.8h0.9v0.9h-0.9zM296.9 88.9h0.9v0.9h-0.9zM295.5 84.4h0.9v0.9h-0.9zM306.2 90.9h0.9v0.9h-0.9zM301.1 89.7h0.9v0.9h-0.9zM299.8 90.7h0.9v0.9h-0.9zM298.5 85.5h0.9v0.9h-0.9zM296.1 91.7h0.9v0.9h-0.9zM303.7 86.9h0.9v0.9h-0.9zM296.3 83.0h0.9v0.9h-0.9zM304.8 89.4h0.9v0.9h-0.9zM308.6 82.5h0.9v0.9h-0.9zM298.9 83.7h0.9v0.9h-0.9zM297.9 87.2h0.9v0.9h-0.9zM298.8 84.9h0.9v0.9h-0.9zM312.3 88.7h0.9v0.9h-0.9zM304.5 86.1h0.9v0.9h-0.9zM300.0 85.0h0.9v0.9h-0.9zM304.1 89.2h0.9v0.9h-0.9zM302.1 91.7h0.9v0.9h-0.9zM303.4 88.4h0.9v0.9h-0.9zM301.4 87.1h0.9v0.9h-0.9zM299.2 85.3h0.9v0.9h-0.9zM303.5 85.9h0.9v0.9h-0.9zM302.7 81.2h0.9v0.9h-0.9zM300.9 83.0h0.9v0.9h-0.9zM301.3 85.3h0.9v0.9h-0.9zM307.6 82.3h0.9v0.9h-0.9zM306.9 84.4h0.9v0.9h-0.9zM301.4 87.5h0.9v0.9h-0.9zM300.7 81.7h0.9v0.9h-0.9zM305.0 82.5h0.9v0.9h-0.9zM305.0 88.2h0.9v0.9h-0.9zM298.7 83.9h0.9v0.9h-0.9zM308.6 89.5h0.9v0.9h-0.9zM298.2 83.7h0.9v0.9h-0.9zM300.6 88.8h0.9v0.9h-0.9zM304.3 88.8h0.9v0.9h-0.9zM299.4 88.2h0.9v0.9h-0.9zM300.7 80.8h0.9v0.9h-0.9zM300.6 91.3h0.9v0.9h-0.9zM299.8 83.7h0.9v0.9h-0.9zM292.0 87.0h0.9v0.9h-0.9zM310.8 88.6h0.9v0.9h-0.9zM301.1 91.3h0.9v0.9h-0.9zM300.0 85.7h0.9v0.9h-0.9zM308.6 90.7h0.9v0.9h-0.9zM294.2 91.1h0.9v0.9h-0.9zM299.7 89.1h0.9v0.9h-0.9zM296.1 85.3h0.9v0.9h-0.9zM304.5 82.0h0.9v0.9h-0.9zM307.2 87.2h0.9v0.9h-0.9zM303.4 82.5h0.9v0.9h-0.9zM302.0 89.6h0.9v0.9h-0.9zM297.5 84.0h0.9v0.9h-0.9zM303.2 87.4h0.9v0.9h-0.9zM297.2 80.9h0.9v0.9h-0.9zM306.3 78.8h0.9v0.9h-0.9zM300.3 85.7h0.9v0.9h-0.9zM298.1 87.5h0.9v0.9h-0.9zM301.4 90.0h0.9v0.9h-0.9zM291.7 83.0h0.9v0.9h-0.9zM306.2 88.3h0.9v0.9h-0.9zM297.5 84.7h0.9v0.9h-0.9zM302.7 86.9h0.9v0.9h-0.9zM293.5 91.4h0.9v0.9h-0.9zM306.2 90.2h0.9v0.9h-0.9zM302.8 81.6h0.9v0.9h-0.9zM315.5 83.5h0.9v0.9h-0.9zM299.3 91.3h0.9v0.9h-0.9zM311.2 83.4h0.9v0.9h-0.9zM291.6 81.7h0.9v0.9h-0.9zM311.6 89.2h0.9v0.9h-0.9zM304.3 82.3h0.9v0.9h-0.9zM304.1 80.2h0.9v0.9h-0.9zM312.2 86.2h0.9v0.9h-0.9zM305.1 79.8h0.9v0.9h-0.9zM303.7 88.6h0.9v0.9h-0.9zM303.6 82.4h0.9v0.9h-0.9zM298.0 81.9h0.9v0.9h-0.9zM299.8 82.8h0.9v0.9h-0.9zM295.0 87.7h0.9v0.9h-0.9zM307.0 81.4h0.9v0.9h-0.9zM304.7 82.1h0.9v0.9h-0.9zM309.5 88.7h0.9v0.9h-0.9zM301.9 84.6h0.9v0.9h-0.9zM306.6 89.1h0.9v0.9h-0.9zM297.1 89.2h0.9v0.9h-0.9zM310.5 83.8h0.9v0.9h-0.9zM309.2 80.1h0.9v0.9h-0.9zM290.7 86.2h0.9v0.9h-0.9zM303.2 83.1h0.9v0.9h-0.9zM317.6 87.6h0.9v0.9h-0.9zM290.5 83.8h0.9v0.9h-0.9zM316.4 85.4h0.9v0.9h-0.9zM313.8 87.7h0.9v0.9h-0.9zM295.9 90.4h0.9v0.9h-0.9zM305.9 87.3h0.9v0.9h-0.9zM316.7 90.8h0.9v0.9h-0.9z" fill="#000" fill-opacity="0.42"/>
<path d="M305.7 87.4h0.9v0.9h-0.9zM304.6 87.1h0.9v0.9h-0.9zM300.8 87.2h0.9v0.9h-0.9zM307.9 87.5h0.9v0.9h-0.9zM297.9 89.4h0.9v0.9h-0.9zM298.8 91.0h0.9v0.9h-0.9zM299.5 87.2h0.9v0.9h-0.9zM302.6 89.4h0.9v0.9h-0.9zM300.6 79.5h0.9v0.9h-0.9zM303.7 90.2h0.9v0.9h-0.9zM304.4 86.3h0.9v0.9h-0.9zM303.4 84.1h0.9v0.9h-0.9zM294.2 86.5h0.9v0.9h-0.9zM298.0 90.7h0.9v0.9h-0.9zM305.1 82.7h0.9v0.9h-0.9zM300.1 76.2h0.9v0.9h-0.9zM302.6 88.9h0.9v0.9h-0.9zM291.4 85.6h0.9v0.9h-0.9zM305.2 88.8h0.9v0.9h-0.9zM308.0 88.6h0.9v0.9h-0.9zM302.9 85.8h0.9v0.9h-0.9zM303.8 90.1h0.9v0.9h-0.9zM300.1 85.6h0.9v0.9h-0.9zM300.7 91.2h0.9v0.9h-0.9zM298.1 82.9h0.9v0.9h-0.9zM295.2 88.1h0.9v0.9h-0.9zM304.3 88.9h0.9v0.9h-0.9zM299.2 81.1h0.9v0.9h-0.9zM298.0 87.3h0.9v0.9h-0.9zM310.0 87.7h0.9v0.9h-0.9zM297.8 88.1h0.9v0.9h-0.9zM296.6 84.2h0.9v0.9h-0.9zM300.2 89.7h0.9v0.9h-0.9zM296.9 88.4h0.9v0.9h-0.9zM294.6 91.9h0.9v0.9h-0.9zM306.5 84.0h0.9v0.9h-0.9zM302.9 86.9h0.9v0.9h-0.9zM307.2 83.8h0.9v0.9h-0.9zM302.0 91.2h0.9v0.9h-0.9zM299.6 88.3h0.9v0.9h-0.9zM298.3 88.5h0.9v0.9h-0.9zM301.2 86.1h0.9v0.9h-0.9zM293.7 84.9h0.9v0.9h-0.9zM302.8 91.2h0.9v0.9h-0.9zM299.0 90.6h0.9v0.9h-0.9zM302.5 87.1h0.9v0.9h-0.9zM298.1 87.5h0.9v0.9h-0.9zM304.2 84.5h0.9v0.9h-0.9zM299.5 85.0h0.9v0.9h-0.9zM301.4 82.1h0.9v0.9h-0.9zM298.8 87.9h0.9v0.9h-0.9zM301.0 89.6h0.9v0.9h-0.9zM302.7 86.3h0.9v0.9h-0.9zM300.9 90.3h0.9v0.9h-0.9zM297.0 86.2h0.9v0.9h-0.9zM297.0 84.5h0.9v0.9h-0.9zM299.6 85.9h0.9v0.9h-0.9zM304.2 87.8h0.9v0.9h-0.9zM301.0 91.5h0.9v0.9h-0.9zM301.7 87.5h0.9v0.9h-0.9zM299.3 83.1h0.9v0.9h-0.9zM302.9 88.1h0.9v0.9h-0.9zM302.8 88.4h0.9v0.9h-0.9zM304.6 88.0h0.9v0.9h-0.9zM300.5 89.2h0.9v0.9h-0.9zM303.0 89.7h0.9v0.9h-0.9zM293.9 91.1h0.9v0.9h-0.9zM293.8 87.3h0.9v0.9h-0.9zM301.5 88.0h0.9v0.9h-0.9zM303.7 90.5h0.9v0.9h-0.9zM305.4 88.8h0.9v0.9h-0.9zM303.0 88.4h0.9v0.9h-0.9zM299.2 84.4h0.9v0.9h-0.9zM296.4 85.5h0.9v0.9h-0.9zM307.6 85.6h0.9v0.9h-0.9zM305.2 90.8h0.9v0.9h-0.9zM304.3 89.3h0.9v0.9h-0.9zM299.0 91.4h0.9v0.9h-0.9zM305.8 86.5h0.9v0.9h-0.9zM291.5 88.1h0.9v0.9h-0.9zM299.4 85.9h0.9v0.9h-0.9zM304.0 90.5h0.9v0.9h-0.9zM298.3 83.7h0.9v0.9h-0.9zM296.2 91.9h0.9v0.9h-0.9zM308.5 89.3h0.9v0.9h-0.9zM301.3 85.5h0.9v0.9h-0.9zM296.3 91.6h0.9v0.9h-0.9zM304.7 89.7h0.9v0.9h-0.9zM300.6 85.4h0.9v0.9h-0.9zM297.0 87.3h0.9v0.9h-0.9zM301.3 88.4h0.9v0.9h-0.9zM300.8 91.7h0.9v0.9h-0.9zM306.0 90.2h0.9v0.9h-0.9zM296.0 78.1h0.9v0.9h-0.9zM300.7 87.0h0.9v0.9h-0.9zM297.3 90.1h0.9v0.9h-0.9zM302.8 85.3h0.9v0.9h-0.9zM295.9 90.8h0.9v0.9h-0.9zM296.3 86.4h0.9v0.9h-0.9zM301.3 83.2h0.9v0.9h-0.9zM297.9 87.8h0.9v0.9h-0.9zM297.0 85.3h0.9v0.9h-0.9zM297.5 87.0h0.9v0.9h-0.9zM300.1 87.2h0.9v0.9h-0.9zM297.2 87.9h0.9v0.9h-0.9zM303.0 91.0h0.9v0.9h-0.9zM296.7 84.9h0.9v0.9h-0.9zM303.7 83.1h0.9v0.9h-0.9zM299.0 91.7h0.9v0.9h-0.9zM301.9 91.2h0.9v0.9h-0.9zM298.3 91.2h0.9v0.9h-0.9zM293.7 89.6h0.9v0.9h-0.9zM305.4 84.2h0.9v0.9h-0.9zM304.2 91.9h0.9v0.9h-0.9zM302.7 91.5h0.9v0.9h-0.9zM301.1 84.5h0.9v0.9h-0.9zM303.7 89.3h0.9v0.9h-0.9zM297.4 89.4h0.9v0.9h-0.9zM300.3 85.6h0.9v0.9h-0.9zM305.4 88.5h0.9v0.9h-0.9zM301.7 85.7h0.9v0.9h-0.9zM301.7 91.1h0.9v0.9h-0.9zM302.1 85.4h0.9v0.9h-0.9zM301.4 76.9h0.9v0.9h-0.9zM297.9 84.9h0.9v0.9h-0.9zM299.5 91.4h0.9v0.9h-0.9zM296.3 87.8h0.9v0.9h-0.9zM297.4 90.6h0.9v0.9h-0.9zM298.3 88.1h0.9v0.9h-0.9zM291.2 90.1h0.9v0.9h-0.9zM296.2 91.8h0.9v0.9h-0.9zM299.0 88.9h0.9v0.9h-0.9zM298.0 91.7h0.9v0.9h-0.9zM296.1 92.0h0.9v0.9h-0.9zM304.8 88.9h0.9v0.9h-0.9zM299.2 81.9h0.9v0.9h-0.9zM296.3 87.7h0.9v0.9h-0.9zM298.7 82.8h0.9v0.9h-0.9zM302.0 89.6h0.9v0.9h-0.9zM297.5 89.1h0.9v0.9h-0.9zM302.5 91.8h0.9v0.9h-0.9zM301.8 89.2h0.9v0.9h-0.9zM298.5 91.5h0.9v0.9h-0.9zM305.8 84.1h0.9v0.9h-0.9zM302.8 80.3h0.9v0.9h-0.9zM298.4 82.9h0.9v0.9h-0.9zM305.6 87.6h0.9v0.9h-0.9zM299.6 87.0h0.9v0.9h-0.9zM295.9 85.8h0.9v0.9h-0.9zM303.3 82.6h0.9v0.9h-0.9zM299.5 91.3h0.9v0.9h-0.9zM300.3 86.0h0.9v0.9h-0.9zM304.2 83.4h0.9v0.9h-0.9zM301.7 88.8h0.9v0.9h-0.9zM303.3 89.0h0.9v0.9h-0.9zM301.7 88.7h0.9v0.9h-0.9zM301.5 90.3h0.9v0.9h-0.9zM300.5 89.0h0.9v0.9h-0.9zM300.8 81.5h0.9v0.9h-0.9zM308.3 88.5h0.9v0.9h-0.9zM308.0 79.3h0.9v0.9h-0.9zM299.9 87.4h0.9v0.9h-0.9zM300.6 84.0h0.9v0.9h-0.9zM296.1 79.2h0.9v0.9h-0.9zM300.2 87.8h0.9v0.9h-0.9zM297.8 82.8h0.9v0.9h-0.9zM296.1 88.2h0.9v0.9h-0.9zM297.2 89.0h0.9v0.9h-0.9zM297.7 89.6h0.9v0.9h-0.9zM299.8 87.7h0.9v0.9h-0.9zM297.3 85.8h0.9v0.9h-0.9zM300.5 81.8h0.9v0.9h-0.9zM299.2 90.3h0.9v0.9h-0.9zM298.0 91.4h0.9v0.9h-0.9zM299.4 89.9h0.9v0.9h-0.9zM299.6 90.8h0.9v0.9h-0.9zM304.2 84.6h0.9v0.9h-0.9zM301.1 82.7h0.9v0.9h-0.9zM302.6 81.3h0.9v0.9h-0.9zM301.4 85.0h0.9v0.9h-0.9zM298.2 88.2h0.9v0.9h-0.9zM302.7 85.1h0.9v0.9h-0.9zM303.3 91.2h0.9v0.9h-0.9zM298.8 87.6h0.9v0.9h-0.9zM298.5 91.0h0.9v0.9h-0.9zM301.6 82.0h0.9v0.9h-0.9zM301.5 86.6h0.9v0.9h-0.9zM299.3 90.9h0.9v0.9h-0.9zM297.0 88.7h0.9v0.9h-0.9zM296.3 90.2h0.9v0.9h-0.9zM305.7 84.5h0.9v0.9h-0.9zM293.9 83.4h0.9v0.9h-0.9zM306.2 91.6h0.9v0.9h-0.9zM303.8 91.6h0.9v0.9h-0.9zM301.2 91.5h0.9v0.9h-0.9zM301.0 91.5h0.9v0.9h-0.9zM297.7 88.3h0.9v0.9h-0.9zM299.4 87.9h0.9v0.9h-0.9zM298.2 83.2h0.9v0.9h-0.9zM301.1 88.7h0.9v0.9h-0.9zM295.9 84.4h0.9v0.9h-0.9zM304.3 79.0h0.9v0.9h-0.9zM303.4 83.6h0.9v0.9h-0.9zM298.3 90.5h0.9v0.9h-0.9zM298.9 91.2h0.9v0.9h-0.9zM307.5 88.0h0.9v0.9h-0.9zM310.7 81.6h0.9v0.9h-0.9zM307.7 88.6h0.9v0.9h-0.9zM300.0 86.7h0.9v0.9h-0.9zM300.9 77.2h0.9v0.9h-0.9zM301.4 89.3h0.9v0.9h-0.9zM298.0 81.5h0.9v0.9h-0.9zM299.8 89.8h0.9v0.9h-0.9zM300.9 88.2h0.9v0.9h-0.9zM305.5 81.8h0.9v0.9h-0.9zM303.1 81.4h0.9v0.9h-0.9zM301.7 85.9h0.9v0.9h-0.9zM307.3 82.4h0.9v0.9h-0.9zM303.4 85.0h0.9v0.9h-0.9zM298.9 89.5h0.9v0.9h-0.9zM303.3 89.3h0.9v0.9h-0.9zM301.0 89.2h0.9v0.9h-0.9zM298.2 87.0h0.9v0.9h-0.9zM293.5 82.8h0.9v0.9h-0.9zM304.5 89.2h0.9v0.9h-0.9zM303.8 91.5h0.9v0.9h-0.9zM298.4 88.1h0.9v0.9h-0.9zM297.1 85.1h0.9v0.9h-0.9zM299.6 89.6h0.9v0.9h-0.9zM298.3 84.1h0.9v0.9h-0.9zM300.2 86.1h0.9v0.9h-0.9zM304.5 91.8h0.9v0.9h-0.9zM297.6 88.8h0.9v0.9h-0.9zM297.4 87.5h0.9v0.9h-0.9zM305.6 86.2h0.9v0.9h-0.9zM314.3 84.6h0.9v0.9h-0.9zM305.9 91.5h0.9v0.9h-0.9zM310.2 85.9h0.9v0.9h-0.9zM305.1 89.7h0.9v0.9h-0.9zM303.7 83.7h0.9v0.9h-0.9zM299.7 87.5h0.9v0.9h-0.9zM298.5 85.8h0.9v0.9h-0.9zM310.4 89.6h0.9v0.9h-0.9zM320.2 87.7h0.9v0.9h-0.9zM295.2 82.3h0.9v0.9h-0.9zM308.4 80.8h0.9v0.9h-0.9zM295.3 81.9h0.9v0.9h-0.9zM293.9 79.8h0.9v0.9h-0.9zM293.9 83.9h0.9v0.9h-0.9zM319.4 87.2h0.9v0.9h-0.9zM306.9 89.0h0.9v0.9h-0.9zM311.4 84.1h0.9v0.9h-0.9zM304.4 86.8h0.9v0.9h-0.9zM299.2 90.1h0.9v0.9h-0.9zM300.5 85.0h0.9v0.9h-0.9zM310.1 91.9h0.9v0.9h-0.9zM301.4 84.0h0.9v0.9h-0.9zM313.7 90.5h0.9v0.9h-0.9zM291.5 92.0h0.9v0.9h-0.9zM295.7 82.6h0.9v0.9h-0.9zM313.5 91.9h0.9v0.9h-0.9zM307.4 90.6h0.9v0.9h-0.9zM307.5 85.9h0.9v0.9h-0.9zM319.6 86.3h0.9v0.9h-0.9z" fill="#000" fill-opacity="0.42"/>
<path d="M306.4 88.3h0.9v0.9h-0.9zM295.6 87.6h0.9v0.9h-0.9zM310.2 87.8h0.9v0.9h-0.9zM299.3 87.3h0.9v0.9h-0.9zM297.3 86.4h0.9v0.9h-0.9zM298.8 83.8h0.9v0.9h-0.9zM299.3 88.1h0.9v0.9h-0.9zM302.8 83.3h0.9v0.9h-0.9zM297.4 90.2h0.9v0.9h-0.9zM299.9 82.4h0.9v0.9h-0.9zM301.9 85.3h0.9v0.9h-0.9zM303.1 86.3h0.9v0.9h-0.9zM302.2 89.3h0.9v0.9h-0.9zM306.5 87.3h0.9v0.9h-0.9zM304.9 81.3h0.9v0.9h-0.9zM299.1 90.2h0.9v0.9h-0.9zM301.9 91.1h0.9v0.9h-0.9zM298.1 88.8h0.9v0.9h-0.9zM299.6 83.2h0.9v0.9h-0.9zM304.9 82.4h0.9v0.9h-0.9zM301.8 84.5h0.9v0.9h-0.9zM294.7 89.8h0.9v0.9h-0.9zM296.8 86.8h0.9v0.9h-0.9zM300.4 84.9h0.9v0.9h-0.9zM303.5 83.9h0.9v0.9h-0.9zM301.6 81.1h0.9v0.9h-0.9zM303.8 90.9h0.9v0.9h-0.9zM299.0 86.6h0.9v0.9h-0.9zM311.0 81.8h0.9v0.9h-0.9zM299.0 85.6h0.9v0.9h-0.9zM297.6 87.0h0.9v0.9h-0.9zM301.1 81.8h0.9v0.9h-0.9zM299.5 80.0h0.9v0.9h-0.9zM306.5 90.5h0.9v0.9h-0.9zM293.1 85.0h0.9v0.9h-0.9zM297.9 90.8h0.9v0.9h-0.9zM302.7 85.3h0.9v0.9h-0.9zM300.3 86.4h0.9v0.9h-0.9zM297.3 82.4h0.9v0.9h-0.9zM298.2 86.6h0.9v0.9h-0.9zM295.5 86.5h0.9v0.9h-0.9zM298.6 86.7h0.9v0.9h-0.9zM301.8 90.6h0.9v0.9h-0.9zM304.1 89.4h0.9v0.9h-0.9zM301.9 88.3h0.9v0.9h-0.9zM298.2 90.6h0.9v0.9h-0.9zM292.0 90.7h0.9v0.9h-0.9zM304.1 85.6h0.9v0.9h-0.9zM300.7 89.3h0.9v0.9h-0.9zM301.5 88.1h0.9v0.9h-0.9zM300.0 85.5h0.9v0.9h-0.9zM306.2 89.4h0.9v0.9h-0.9zM299.7 87.2h0.9v0.9h-0.9zM299.3 83.7h0.9v0.9h-0.9zM299.4 91.2h0.9v0.9h-0.9zM297.4 90.7h0.9v0.9h-0.9zM305.7 88.5h0.9v0.9h-0.9zM298.8 82.8h0.9v0.9h-0.9zM299.7 90.7h0.9v0.9h-0.9zM301.9 84.7h0.9v0.9h-0.9zM304.2 82.2h0.9v0.9h-0.9zM299.2 84.6h0.9v0.9h-0.9zM300.4 89.3h0.9v0.9h-0.9zM299.1 83.8h0.9v0.9h-0.9zM298.8 87.6h0.9v0.9h-0.9zM296.8 88.9h0.9v0.9h-0.9zM300.4 86.0h0.9v0.9h-0.9zM302.5 82.2h0.9v0.9h-0.9zM298.3 87.2h0.9v0.9h-0.9zM300.7 85.7h0.9v0.9h-0.9zM298.0 90.5h0.9v0.9h-0.9zM298.3 85.6h0.9v0.9h-0.9zM298.7 84.9h0.9v0.9h-0.9zM302.8 87.5h0.9v0.9h-0.9zM302.2 83.9h0.9v0.9h-0.9zM301.8 84.0h0.9v0.9h-0.9zM305.7 82.8h0.9v0.9h-0.9zM298.6 86.1h0.9v0.9h-0.9zM299.2 90.6h0.9v0.9h-0.9zM298.9 84.6h0.9v0.9h-0.9zM299.0 89.6h0.9v0.9h-0.9zM299.1 85.3h0.9v0.9h-0.9zM311.3 86.5h0.9v0.9h-0.9zM303.2 91.6h0.9v0.9h-0.9zM308.6 85.6h0.9v0.9h-0.9zM299.7 89.2h0.9v0.9h-0.9zM307.4 80.7h0.9v0.9h-0.9zM303.5 90.0h0.9v0.9h-0.9zM298.0 91.6h0.9v0.9h-0.9zM301.1 90.3h0.9v0.9h-0.9zM292.5 82.9h0.9v0.9h-0.9zM302.0 84.5h0.9v0.9h-0.9zM292.3 85.6h0.9v0.9h-0.9zM302.1 87.7h0.9v0.9h-0.9zM298.3 84.1h0.9v0.9h-0.9zM296.7 80.3h0.9v0.9h-0.9zM296.9 86.2h0.9v0.9h-0.9zM290.9 84.5h0.9v0.9h-0.9zM299.7 90.5h0.9v0.9h-0.9zM307.9 83.1h0.9v0.9h-0.9zM300.0 91.4h0.9v0.9h-0.9zM300.3 83.6h0.9v0.9h-0.9zM300.0 87.2h0.9v0.9h-0.9zM305.8 89.5h0.9v0.9h-0.9zM298.2 88.5h0.9v0.9h-0.9zM310.7 84.4h0.9v0.9h-0.9zM302.3 87.8h0.9v0.9h-0.9zM295.7 87.8h0.9v0.9h-0.9zM307.5 89.1h0.9v0.9h-0.9zM299.7 91.9h0.9v0.9h-0.9zM310.9 82.0h0.9v0.9h-0.9zM305.4 88.9h0.9v0.9h-0.9zM304.9 87.1h0.9v0.9h-0.9zM295.9 87.2h0.9v0.9h-0.9zM297.8 87.1h0.9v0.9h-0.9zM303.0 89.3h0.9v0.9h-0.9zM298.1 85.9h0.9v0.9h-0.9zM303.2 87.0h0.9v0.9h-0.9zM298.8 87.3h0.9v0.9h-0.9zM297.9 85.2h0.9v0.9h-0.9zM304.1 82.2h0.9v0.9h-0.9zM304.3 82.3h0.9v0.9h-0.9zM305.4 89.2h0.9v0.9h-0.9zM299.4 87.1h0.9v0.9h-0.9zM298.1 91.0h0.9v0.9h-0.9zM297.2 79.7h0.9v0.9h-0.9zM308.4 90.3h0.9v0.9h-0.9zM302.7 88.0h0.9v0.9h-0.9zM300.9 87.1h0.9v0.9h-0.9zM301.8 87.6h0.9v0.9h-0.9zM298.5 83.5h0.9v0.9h-0.9zM308.1 86.3h0.9v0.9h-0.9zM297.6 89.5h0.9v0.9h-0.9zM300.6 85.2h0.9v0.9h-0.9zM301.1 85.4h0.9v0.9h-0.9zM300.7 83.2h0.9v0.9h-0.9zM305.3 84.8h0.9v0.9h-0.9zM302.6 85.1h0.9v0.9h-0.9zM302.5 82.2h0.9v0.9h-0.9zM294.1 91.1h0.9v0.9h-0.9zM300.1 85.8h0.9v0.9h-0.9zM294.5 83.8h0.9v0.9h-0.9zM300.8 91.8h0.9v0.9h-0.9zM296.7 84.4h0.9v0.9h-0.9zM300.9 89.3h0.9v0.9h-0.9zM300.7 84.1h0.9v0.9h-0.9zM297.5 88.2h0.9v0.9h-0.9zM292.3 84.9h0.9v0.9h-0.9zM303.5 88.8h0.9v0.9h-0.9zM300.9 87.1h0.9v0.9h-0.9zM302.0 86.2h0.9v0.9h-0.9zM290.6 88.8h0.9v0.9h-0.9zM306.6 87.7h0.9v0.9h-0.9zM304.5 88.1h0.9v0.9h-0.9zM293.4 90.0h0.9v0.9h-0.9zM303.5 85.8h0.9v0.9h-0.9zM302.0 90.6h0.9v0.9h-0.9zM304.8 85.0h0.9v0.9h-0.9zM298.0 79.9h0.9v0.9h-0.9zM295.3 80.1h0.9v0.9h-0.9zM299.9 86.1h0.9v0.9h-0.9zM300.2 85.7h0.9v0.9h-0.9zM299.9 86.4h0.9v0.9h-0.9zM302.5 89.2h0.9v0.9h-0.9zM300.9 89.5h0.9v0.9h-0.9zM304.5 85.1h0.9v0.9h-0.9zM302.7 89.3h0.9v0.9h-0.9zM302.0 88.5h0.9v0.9h-0.9zM300.9 89.1h0.9v0.9h-0.9zM304.0 87.1h0.9v0.9h-0.9zM305.9 86.7h0.9v0.9h-0.9zM298.7 82.4h0.9v0.9h-0.9zM306.1 87.6h0.9v0.9h-0.9zM298.6 91.5h0.9v0.9h-0.9zM302.1 87.4h0.9v0.9h-0.9zM301.9 89.6h0.9v0.9h-0.9zM305.0 91.2h0.9v0.9h-0.9zM294.1 89.7h0.9v0.9h-0.9zM302.6 89.7h0.9v0.9h-0.9zM304.8 82.5h0.9v0.9h-0.9zM297.9 89.2h0.9v0.9h-0.9zM303.2 88.1h0.9v0.9h-0.9zM299.5 81.7h0.9v0.9h-0.9zM304.5 89.6h0.9v0.9h-0.9zM302.8 85.2h0.9v0.9h-0.9zM301.6 85.5h0.9v0.9h-0.9zM303.9 83.4h0.9v0.9h-0.9zM302.0 89.0h0.9v0.9h-0.9zM300.6 89.8h0.9v0.9h-0.9zM302.6 88.8h0.9v0.9h-0.9zM298.8 84.5h0.9v0.9h-0.9zM305.0 89.9h0.9v0.9h-0.9zM300.6 87.1h0.9v0.9h-0.9zM303.5 90.8h0.9v0.9h-0.9zM295.4 89.9h0.9v0.9h-0.9zM302.7 80.2h0.9v0.9h-0.9zM295.1 87.6h0.9v0.9h-0.9zM300.0 80.9h0.9v0.9h-0.9zM299.5 84.9h0.9v0.9h-0.9zM298.5 90.3h0.9v0.9h-0.9zM298.0 86.0h0.9v0.9h-0.9zM305.3 77.3h0.9v0.9h-0.9zM306.0 88.0h0.9v0.9h-0.9zM300.2 86.8h0.9v0.9h-0.9zM303.5 82.2h0.9v0.9h-0.9zM297.0 84.7h0.9v0.9h-0.9zM307.5 82.7h0.9v0.9h-0.9zM308.4 91.6h0.9v0.9h-0.9zM299.7 82.4h0.9v0.9h-0.9zM299.6 87.7h0.9v0.9h-0.9zM296.7 88.7h0.9v0.9h-0.9zM300.4 85.5h0.9v0.9h-0.9zM299.2 90.6h0.9v0.9h-0.9zM296.2 86.8h0.9v0.9h-0.9zM303.3 87.5h0.9v0.9h-0.9zM303.0 91.1h0.9v0.9h-0.9zM300.1 89.6h0.9v0.9h-0.9zM306.2 90.8h0.9v0.9h-0.9zM299.6 89.0h0.9v0.9h-0.9zM303.3 83.6h0.9v0.9h-0.9zM294.0 91.7h0.9v0.9h-0.9zM307.8 89.8h0.9v0.9h-0.9zM298.8 85.8h0.9v0.9h-0.9zM297.1 84.8h0.9v0.9h-0.9zM293.9 91.6h0.9v0.9h-0.9zM307.9 82.2h0.9v0.9h-0.9zM297.5 84.3h0.9v0.9h-0.9zM301.2 85.2h0.9v0.9h-0.9zM306.0 89.1h0.9v0.9h-0.9zM305.7 91.7h0.9v0.9h-0.9zM311.5 88.9h0.9v0.9h-0.9zM295.9 89.4h0.9v0.9h-0.9zM302.3 90.9h0.9v0.9h-0.9zM291.8 88.9h0.9v0.9h-0.9zM305.7 82.4h0.9v0.9h-0.9zM309.5 80.7h0.9v0.9h-0.9zM305.2 82.2h0.9v0.9h-0.9zM311.8 85.9h0.9v0.9h-0.9zM303.9 80.6h0.9v0.9h-0.9zM309.6 90.3h0.9v0.9h-0.9zM293.2 76.5h0.9v0.9h-0.9zM302.3 82.2h0.9v0.9h-0.9zM302.9 90.2h0.9v0.9h-0.9zM310.5 84.9h0.9v0.9h-0.9zM304.2 87.7h0.9v0.9h-0.9zM320.1 76.0h0.9v0.9h-0.9zM296.4 82.7h0.9v0.9h-0.9zM304.6 77.0h0.9v0.9h-0.9zM302.2 86.5h0.9v0.9h-0.9zM309.1 87.8h0.9v0.9h-0.9zM312.8 88.4h0.9v0.9h-0.9zM292.1 78.9h0.9v0.9h-0.9zM290.1 84.7h0.9v0.9h-0.9zM307.3 90.3h0.9v0.9h-0.9zM298.3 89.4h0.9v0.9h-0.9zM297.0 87.3h0.9v0.9h-0.9zM307.8 87.0h0.9v0.9h-0.9zM306.9 87.3h0.9v0.9h-0.9zM309.7 89.3h0.9v0.9h-0.9zM291.7 88.6h0.9v0.9h-0.9zM317.1 89.0h0.9v0.9h-0.9zM307.7 91.4h0.9v0.9h-0.9zM317.1 81.2h0.9v0.9h-0.9zM314.1 87.9h0.9v0.9h-0.9z" fill="#000" fill-opacity="0.42"/>
<path d="M301.4 87.0h0.9v0.9h-0.9zM298.7 91.0h0.9v0.9h-0.9zM296.8 90.5h0.9v0.9h-0.9zM297.7 85.4h0.9v0.9h-0.9zM301.6 83.7h0.9v0.9h-0.9zM296.2 85.4h0.9v0.9h-0.9zM305.8 91.6h0.9v0.9h-0.9zM301.1 85.7h0.9v0.9h-0.9zM302.2 89.3h0.9v0.9h-0.9zM300.4 90.7h0.9v0.9h-0.9zM308.4 85.1h0.9v0.9h-0.9zM305.5 89.2h0.9v0.9h-0.9zM300.1 80.0h0.9v0.9h-0.9zM296.0 88.7h0.9v0.9h-0.9zM306.2 87.0h0.9v0.9h-0.9zM303.9 89.7h0.9v0.9h-0.9zM298.5 86.9h0.9v0.9h-0.9zM309.8 91.5h0.9v0.9h-0.9zM302.1 90.5h0.9v0.9h-0.9zM303.5 90.1h0.9v0.9h-0.9zM302.3 87.6h0.9v0.9h-0.9zM303.9 91.0h0.9v0.9h-0.9zM312.8 89.3h0.9v0.9h-0.9zM305.5 86.8h0.9v0.9h-0.9zM303.2 90.0h0.9v0.9h-0.9zM298.2 90.9h0.9v0.9h-0.9zM293.9 88.1h0.9v0.9h-0.9zM303.3 90.0h0.9v0.9h-0.9zM303.0 83.6h0.9v0.9h-0.9zM297.8 82.7h0.9v0.9h-0.9zM300.1 87.6h0.9v0.9h-0.9zM304.8 81.8h0.9v0.9h-0.9zM300.2 83.1h0.9v0.9h-0.9zM298.0 88.0h0.9v0.9h-0.9zM304.3 92.0h0.9v0.9h-0.9zM299.8 87.9h0.9v0.9h-0.9zM298.4 88.9h0.9v0.9h-0.9zM297.7 79.6h0.9v0.9h-0.9zM304.7 85.0h0.9v0.9h-0.9zM303.5 90.2h0.9v0.9h-0.9zM301.8 83.8h0.9v0.9h-0.9zM294.5 91.0h0.9v0.9h-0.9zM305.3 89.0h0.9v0.9h-0.9zM297.4 85.1h0.9v0.9h-0.9zM294.2 88.9h0.9v0.9h-0.9zM299.4 89.2h0.9v0.9h-0.9zM298.5 91.2h0.9v0.9h-0.9zM302.2 90.8h0.9v0.9h-0.9zM302.1 91.3h0.9v0.9h-0.9zM299.5 88.3h0.9v0.9h-0.9zM299.9 82.6h0.9v0.9h-0.9zM294.3 85.6h0.9v0.9h-0.9zM297.3 90.3h0.9v0.9h-0.9zM300.5 87.7h0.9v0.9h-0.9zM304.4 89.0h0.9v0.9h-0.9zM303.6 85.8h0.9v0.9h-0.9zM298.5 90.3h0.9v0.9h-0.9zM307.9 86.8h0.9v0.9h-0.9zM298.8 88.3h0.9v0.9h-0.9zM300.2 85.5h0.9v0.9h-0.9zM303.5 91.3h0.9v0.9h-0.9zM298.1 85.5h0.9v0.9h-0.9zM296.5 87.3h0.9v0.9h-0.9zM301.5 86.4h0.9v0.9h-0.9zM298.6 86.2h0.9v0.9h-0.9zM302.2 84.7h0.9v0.9h-0.9zM303.1 88.9h0.9v0.9h-0.9zM303.9 82.5h0.9v0.9h-0.9zM297.9 91.0h0.9v0.9h-0.9zM300.6 83.5h0.9v0.9h-0.9zM291.4 86.2h0.9v0.9h-0.9zM299.1 86.3h0.9v0.9h-0.9zM298.7 90.4h0.9v0.9h-0.9zM300.5 85.0h0.9v0.9h-0.9zM302.2 88.4h0.9v0.9h-0.9zM304.9 83.1h0.9v0.9h-0.9zM302.6 90.2h0.9v0.9h-0.9zM296.0 84.8h0.9v0.9h-0.9zM306.8 88.3h0.9v0.9h-0.9zM304.3 86.9h0.9v0.9h-0.9zM303.2 86.6h0.9v0.9h-0.9zM308.4 82.6h0.9v0.9h-0.9zM304.7 88.3h0.9v0.9h-0.9zM300.7 86.8h0.9v0.9h-0.9zM304.4 89.1h0.9v0.9h-0.9zM296.8 86.9h0.9v0.9h-0.9zM300.3 88.8h0.9v0.9h-0.9zM296.2 81.6h0.9v0.9h-0.9zM297.2 89.0h0.9v0.9h-0.9zM298.5 91.0h0.9v0.9h-0.9zM298.6 91.0h0.9v0.9h-0.9zM303.3 85.4h0.9v0.9h-0.9zM300.3 87.8h0.9v0.9h-0.9zM301.6 84.3h0.9v0.9h-0.9zM302.3 89.8h0.9v0.9h-0.9zM294.8 88.7h0.9v0.9h-0.9zM304.3 88.1h0.9v0.9h-0.9zM304.4 86.1h0.9v0.9h-0.9zM307.1 86.4h0.9v0.9h-0.9zM299.4 85.0h0.9v0.9h-0.9zM303.8 91.9h0.9v0.9h-0.9zM296.1 80.9h0.9v0.9h-0.9zM302.3 87.4h0.9v0.9h-0.9zM306.7 87.8h0.9v0.9h-0.9zM299.7 84.5h0.9v0.9h-0.9zM309.2 85.7h0.9v0.9h-0.9zM291.0 87.3h0.9v0.9h-0.9zM301.1 81.2h0.9v0.9h-0.9zM297.3 87.9h0.9v0.9h-0.9zM299.9 82.6h0.9v0.9h-0.9zM299.2 89.9h0.9v0.9h-0.9zM299.8 89.5h0.9v0.9h-0.9zM299.4 90.0h0.9v0.9h-0.9zM301.2 83.6h0.9v0.9h-0.9zM303.6 78.2h0.9v0.9h-0.9zM301.0 89.3h0.9v0.9h-0.9zM295.4 89.4h0.9v0.9h-0.9zM307.8 85.4h0.9v0.9h-0.9zM303.8 87.4h0.9v0.9h-0.9zM304.7 91.0h0.9v0.9h-0.9zM296.7 88.4h0.9v0.9h-0.9zM309.4 87.3h0.9v0.9h-0.9zM294.2 82.9h0.9v0.9h-0.9zM300.6 87.1h0.9v0.9h-0.9zM303.1 88.8h0.9v0.9h-0.9zM303.5 86.8h0.9v0.9h-0.9zM296.5 87.5h0.9v0.9h-0.9zM295.4 91.0h0.9v0.9h-0.9zM300.3 85.0h0.9v0.9h-0.9zM303.6 89.9h0.9v0.9h-0.9zM306.7 90.3h0.9v0.9h-0.9zM295.6 88.9h0.9v0.9h-0.9zM297.9 85.6h0.9v0.9h-0.9zM299.2 78.8h0.9v0.9h-0.9zM298.7 86.7h0.9v0.9h-0.9zM296.3 86.6h0.9v0.9h-0.9zM298.9 89.6h0.9v0.9h-0.9zM300.0 88.3h0.9v0.9h-0.9zM300.5 87.6h0.9v0.9h-0.9zM296.0 86.2h0.9v0.9h-0.9zM306.7 83.0h0.9v0.9h-0.9zM302.5 89.2h0.9v0.9h-0.9zM300.8 89.2h0.9v0.9h-0.9zM299.2 84.1h0.9v0.9h-0.9zM300.5 89.5h0.9v0.9h-0.9zM296.8 91.5h0.9v0.9h-0.9zM303.8 84.8h0.9v0.9h-0.9zM294.7 91.2h0.9v0.9h-0.9zM299.3 86.2h0.9v0.9h-0.9zM307.6 90.0h0.9v0.9h-0.9zM297.2 84.4h0.9v0.9h-0.9zM301.0 91.7h0.9v0.9h-0.9zM298.1 85.7h0.9v0.9h-0.9zM299.7 90.5h0.9v0.9h-0.9zM296.1 84.0h0.9v0.9h-0.9zM301.8 89.1h0.9v0.9h-0.9zM297.1 87.6h0.9v0.9h-0.9zM297.0 91.6h0.9v0.9h-0.9zM304.8 83.1h0.9v0.9h-0.9zM303.3 91.7h0.9v0.9h-0.9zM302.3 86.3h0.9v0.9h-0.9zM294.6 89.2h0.9v0.9h-0.9zM302.9 78.3h0.9v0.9h-0.9zM305.0 89.5h0.9v0.9h-0.9zM301.5 89.7h0.9v0.9h-0.9zM294.0 84.6h0.9v0.9h-0.9zM296.2 84.7h0.9v0.9h-0.9zM299.5 89.5h0.9v0.9h-0.9zM304.2 85.5h0.9v0.9h-0.9zM301.6 89.2h0.9v0.9h-0.9zM306.5 84.4h0.9v0.9h-0.9zM298.9 89.0h0.9v0.9h-0.9zM296.4 85.3h0.9v0.9h-0.9zM304.8 82.6h0.9v0.9h-0.9zM301.8 91.7h0.9v0.9h-0.9zM302.2 83.3h0.9v0.9h-0.9zM302.2 89.5h0.9v0.9h-0.9zM299.7 86.4h0.9v0.9h-0.9zM303.0 89.2h0.9v0.9h-0.9zM305.7 88.5h0.9v0.9h-0.9zM300.0 86.8h0.9v0.9h-0.9zM301.1 81.1h0.9v0.9h-0.9zM296.8 90.2h0.9v0.9h-0.9zM300.2 89.3h0.9v0.9h-0.9zM301.6 90.2h0.9v0.9h-0.9zM304.1 80.2h0.9v0.9h-0.9zM303.9 84.9h0.9v0.9h-0.9zM296.6 91.1h0.9v0.9h-0.9zM299.9 91.7h0.9v0.9h-0.9zM301.9 83.5h0.9v0.9h-0.9zM295.8 87.4h0.9v0.9h-0.9zM294.5 88.9h0.9v0.9h-0.9zM305.2 86.5h0.9v0.9h-0.9zM297.1 90.9h0.9v0.9h-0.9zM298.0 86.2h0.9v0.9h-0.9zM300.6 90.4h0.9v0.9h-0.9zM301.5 91.3h0.9v0.9h-0.9zM301.4 87.5h0.9v0.9h-0.9zM299.9 87.3h0.9v0.9h-0.9zM301.2 91.3h0.9v0.9h-0.9zM300.0 89.8h0.9v0.9h-0.9zM300.2 88.7h0.9v0.9h-0.9zM304.8 83.0h0.9v0.9h-0.9zM294.6 91.9h0.9v0.9h-0.9zM299.2 83.4h0.9v0.9h-0.9zM297.7 88.3h0.9v0.9h-0.9zM305.2 91.3h0.9v0.9h-0.9zM302.7 84.2h0.9v0.9h-0.9zM297.3 86.5h0.9v0.9h-0.9zM301.4 89.6h0.9v0.9h-0.9zM299.0 88.1h0.9v0.9h-0.9zM308.4 83.9h0.9v0.9h-0.9zM295.9 90.8h0.9v0.9h-0.9zM298.7 79.0h0.9v0.9h-0.9zM302.8 88.6h0.9v0.9h-0.9zM308.5 89.9h0.9v0.9h-0.9zM301.2 84.0h0.9v0.9h-0.9zM305.2 87.1h0.9v0.9h-0.9zM302.0 83.5h0.9v0.9h-0.9zM304.1 84.7h0.9v0.9h-0.9zM305.7 86.6h0.9v0.9h-0.9zM302.4 86.8h0.9v0.9h-0.9zM301.6 89.2h0.9v0.9h-0.9zM299.1 92.0h0.9v0.9h-0.9zM296.3 87.1h0.9v0.9h-0.9zM296.5 88.0h0.9v0.9h-0.9zM297.6 85.3h0.9v0.9h-0.9zM297.9 91.6h0.9v0.9h-0.9zM299.7 83.1h0.9v0.9h-0.9zM299.6 84.5h0.9v0.9h-0.9zM304.4 86.1h0.9v0.9h-0.9zM302.2 83.3h0.9v0.9h-0.9zM297.0 90.1h0.9v0.9h-0.9zM295.5 87.9h0.9v0.9h-0.9zM307.9 86.6h0.9v0.9h-0.9zM313.1 82.0h0.9v0.9h-0.9zM300.0 84.9h0.9v0.9h-0.9zM298.0 85.8h0.9v0.9h-0.9zM314.2 85.8h0.9v0.9h-0.9zM307.1 91.9h0.9v0.9h-0.9zM300.3 82.0h0.9v0.9h-0.9zM298.0 88.2h0.9v0.9h-0.9zM311.7 84.2h0.9v0.9h-0.9zM316.0 86.6h0.9v0.9h-0.9zM306.7 91.6h0.9v0.9h-0.9zM309.5 78.4h0.9v0.9h-0.9zM303.5 90.2h0.9v0.9h-0.9zM299.7 72.8h0.9v0.9h-0.9zM301.4 91.6h0.9v0.9h-0.9zM314.1 83.2h0.9v0.9h-0.9zM292.2 81.9h0.9v0.9h-0.9zM297.2 84.8h0.9v0.9h-0.9zM293.9 81.4h0.9v0.9h-0.9zM314.9 90.9h0.9v0.9h-0.9zM302.3 85.6h0.9v0.9h-0.9zM299.5 89.0h0.9v0.9h-0.9zM301.3 89.0h0.9v0.9h-0.9zM296.3 86.2h0.9v0.9h-0.9zM298.5 85.3h0.9v0.9h-0.9zM309.4 87.1h0.9v0.9h-0.9zM329.9 90.8h0.9v0.9h-0.9zM308.4 90.6h0.9v0.9h-0.9zM310.4 91.0h0.9v0.9h-0.9zM307.6 83.2h0.9v0.9h-0.9z" fill="#000" fill-opacity="0.42"/>
<path d="M295.4 84.6h0.9v0.9h-0.9zM298.0 84.3h0.9v0.9h-0.9zM303.7 88.0h0.9v0.9h-0.9zM301.2 89.8h0.9v0.9h-0.9zM310.4 88.4h0.9v0.9h-0.9zM300.9 85.9h0.9v0.9h-0.9zM295.6 86.7h0.9v0.9h-0.9zM298.1 89.9h0.9v0.9h-0.9zM296.7 86.7h0.9v0.9h-0.9zM299.5 90.0h0.9v0.9h-0.9zM298.3 91.3h0.9v0.9h-0.9zM295.9 87.1h0.9v0.9h-0.9zM305.6 91.4h0.9v0.9h-0.9zM299.7 82.3h0.9v0.9h-0.9zM294.7 87.6h0.9v0.9h-0.9zM301.2 86.0h0.9v0.9h-0.9zM302.1 91.5h0.9v0.9h-0.9zM302.0 84.8h0.9v0.9h-0.9zM299.5 91.3h0.9v0.9h-0.9zM300.4 86.7h0.9v0.9h-0.9zM302.0 86.1h0.9v0.9h-0.9zM290.9 91.0h0.9v0.9h-0.9zM301.6 85.9h0.9v0.9h-0.9zM300.2 85.0h0.9v0.9h-0.9zM301.9 90.2h0.9v0.9h-0.9zM300.2 88.9h0.9v0.9h-0.9zM303.2 83.6h0.9v0.9h-0.9zM295.5 85.6h0.9v0.9h-0.9zM302.0 86.3h0.9v0.9h-0.9zM301.0 87.8h0.9v0.9h-0.9zM299.8 86.5h0.9v0.9h-0.9zM297.3 90.8h0.9v0.9h-0.9zM300.8 85.1h0.9v0.9h-0.9zM300.9 90.0h0.9v0.9h-0.9zM300.9 88.5h0.9v0.9h-0.9zM309.0 90.2h0.9v0.9h-0.9zM310.1 79.5h0.9v0.9h-0.9zM299.3 89.0h0.9v0.9h-0.9zM301.2 91.9h0.9v0.9h-0.9zM300.9 85.5h0.9v0.9h-0.9zM293.3 88.2h0.9v0.9h-0.9zM302.4 81.6h0.9v0.9h-0.9zM296.9 90.2h0.9v0.9h-0.9zM302.2 91.2h0.9v0.9h-0.9zM303.0 88.3h0.9v0.9h-0.9zM313.5 91.3h0.9v0.9h-0.9zM306.1 87.9h0.9v0.9h-0.9zM306.7 88.2h0.9v0.9h-0.9zM300.1 85.4h0.9v0.9h-0.9zM298.5 90.3h0.9v0.9h-0.9zM302.4 90.7h0.9v0.9h-0.9zM304.0 88.0h0.9v0.9h-0.9zM304.4 90.0h0.9v0.9h-0.9zM297.9 90.9h0.9v0.9h-0.9zM304.7 85.3h0.9v0.9h-0.9zM301.7 87.9h0.9v0.9h-0.9zM295.2 88.7h0.9v0.9h-0.9zM295.8 88.8h0.9v0.9h-0.9zM302.2 89.1h0.9v0.9h-0.9zM300.1 85.0h0.9v0.9h-0.9zM299.4 86.0h0.9v0.9h-0.9zM311.5 83.6h0.9v0.9h-0.9zM298.5 91.0h0.9v0.9h-0.9zM301.6 90.2h0.9v0.9h-0.9zM298.8 90.8h0.9v0.9h-0.9zM305.4 90.3h0.9v0.9h-0.9zM301.9 89.6h0.9v0.9h-0.9zM302.6 88.3h0.9v0.9h-0.9zM296.9 82.4h0.9v0.9h-0.9zM299.8 86.2h0.9v0.9h-0.9zM300.1 86.1h0.9v0.9h-0.9zM294.7 82.9h0.9v0.9h-0.9zM296.7 85.4h0.9v0.9h-0.9zM299.8 76.5h0.9v0.9h-0.9zM305.0 83.9h0.9v0.9h-0.9zM292.7 85.9h0.9v0.9h-0.9zM294.6 82.7h0.9v0.9h-0.9zM301.7 90.4h0.9v0.9h-0.9zM300.5 84.7h0.9v0.9h-0.9zM300.6 83.1h0.9v0.9h-0.9zM297.7 90.2h0.9v0.9h-0.9zM306.3 89.3h0.9v0.9h-0.9zM303.5 83.4h0.9v0.9h-0.9zM296.2 83.9h0.9v0.9h-0.9zM296.1 87.4h0.9v0.9h-0.9zM301.9 87.0h0.9v0.9h-0.9zM300.2 82.2h0.9v0.9h-0.9zM305.6 86.8h0.9v0.9h-0.9zM296.9 90.4h0.9v0.9h-0.9zM298.0 88.8h0.9v0.9h-0.9zM296.8 85.1h0.9v0.9h-0.9zM302.5 85.4h0.9v0.9h-0.9zM306.8 85.8h0.9v0.9h-0.9zM300.8 84.6h0.9v0.9h-0.9zM292.6 85.2h0.9v0.9h-0.9zM302.7 91.7h0.9v0.9h-0.9zM299.9 85.7h0.9v0.9h-0.9zM298.0 88.7h0.9v0.9h-0.9zM301.4 86.8h0.9v0.9h-0.9zM306.7 86.6h0.9v0.9h-0.9zM300.3 91.7h0.9v0.9h-0.9zM301.3 85.4h0.9v0.9h-0.9zM299.0 87.7h0.9v0.9h-0.9zM305.0 83.0h0.9v0.9h-0.9zM299.2 88.6h0.9v0.9h-0.9zM306.6 81.2h0.9v0.9h-0.9zM302.7 88.9h0.9v0.9h-0.9zM302.3 88.5h0.9v0.9h-0.9zM298.8 84.6h0.9v0.9h-0.9zM302.0 83.7h0.9v0.9h-0.9zM302.5 81.7h0.9v0.9h-0.9zM302.7 87.4h0.9v0.9h-0.9zM303.0 89.6h0.9v0.9h-0.9zM302.3 88.0h0.9v0.9h-0.9zM295.7 89.9h0.9v0.9h-0.9zM295.1 88.5h0.9v0.9h-0.9zM299.3 91.9h0.9v0.9h-0.9zM302.5 86.9h0.9v0.9h-0.9zM305.7 92.0h0.9v0.9h-0.9zM295.3 89.2h0.9v0.9h-0.9zM291.9 85.2h0.9v0.9h-0.9zM298.0 81.9h0.9v0.9h-0.9zM305.9 86.1h0.9v0.9h-0.9zM305.3 83.4h0.9v0.9h-0.9zM301.6 85.7h0.9v0.9h-0.9zM306.0 86.8h0.9v0.9h-0.9zM300.7 85.5h0.9v0.9h-0.9zM301.2 83.4h0.9v0.9h-0.9zM301.4 82.8h0.9v0.9h-0.9zM299.4 84.5h0.9v0.9h-0.9zM301.7 89.5h0.9v0.9h-0.9zM303.2 90.8h0.9v0.9h-0.9zM296.6 89.8h0.9v0.9h-0.9zM297.6 83.6h0.9v0.9h-0.9zM305.6 90.4h0.9v0.9h-0.9zM302.9 88.3h0.9v0.9h-0.9zM297.4 85.8h0.9v0.9h-0.9zM302.8 91.3h0.9v0.9h-0.9zM304.0 81.3h0.9v0.9h-0.9zM303.6 88.3h0.9v0.9h-0.9zM306.6 90.3h0.9v0.9h-0.9zM306.8 89.3h0.9v0.9h-0.9zM300.6 90.4h0.9v0.9h-0.9zM297.5 90.6h0.9v0.9h-0.9zM302.4 83.2h0.9v0.9h-0.9zM309.6 80.1h0.9v0.9h-0.9zM302.3 88.4h0.9v0.9h-0.9zM296.5 85.6h0.9v0.9h-0.9zM306.7 91.5h0.9v0.9h-0.9zM302.5 90.6h0.9v0.9h-0.9zM301.9 88.0h0.9v0.9h-0.9zM305.9 85.5h0.9v0.9h-0.9zM299.9 83.9h0.9v0.9h-0.9zM293.6 83.6h0.9v0.9h-0.9zM301.2 82.1h0.9v0.9h-0.9zM303.8 84.0h0.9v0.9h-0.9zM296.9 88.3h0.9v0.9h-0.9zM302.7 87.7h0.9v0.9h-0.9zM300.3 80.5h0.9v0.9h-0.9zM298.9 87.7h0.9v0.9h-0.9zM297.5 87.2h0.9v0.9h-0.9zM306.5 81.2h0.9v0.9h-0.9zM301.3 89.4h0.9v0.9h-0.9zM303.5 83.1h0.9v0.9h-0.9zM298.8 88.1h0.9v0.9h-0.9zM296.1 78.8h0.9v0.9h-0.9zM307.7 88.1h0.9v0.9h-0.9zM299.8 86.4h0.9v0.9h-0.9zM302.2 90.1h0.9v0.9h-0.9zM298.3 84.8h0.9v0.9h-0.9zM305.3 89.7h0.9v0.9h-0.9zM302.8 89.9h0.9v0.9h-0.9zM301.5 83.1h0.9v0.9h-0.9zM297.4 81.6h0.9v0.9h-0.9zM298.0 90.0h0.9v0.9h-0.9zM305.1 88.9h0.9v0.9h-0.9zM298.9 89.7h0.9v0.9h-0.9zM296.8 87.7h0.9v0.9h-0.9zM304.0 87.6h0.9v0.9h-0.9zM303.6 89.8h0.9v0.9h-0.9zM302.5 90.5h0.9v0.9h-0.9zM303.3 87.4h0.9v0.9h-0.9zM297.1 89.3h0.9v0.9h-0.9zM304.4 90.5h0.9v0.9h-0.9zM307.4 89.1h0.9v0.9h-0.9zM292.9 82.5h0.9v0.9h-0.9zM303.8 89.5h0.9v0.9h-0.9zM296.7 91.5h0.9v0.9h-0.9zM301.5 89.1h0.9v0.9h-0.9zM297.2 88.7h0.9v0.9h-0.9zM293.7 87.3h0.9v0.9h-0.9zM303.6 88.6h0.9v0.9h-0.9zM305.2 89.5h0.9v0.9h-0.9zM296.0 90.6h0.9v0.9h-0.9zM304.2 88.3h0.9v0.9h-0.9zM311.0 86.3h0.9v0.9h-0.9zM310.1 86.1h0.9v0.9h-0.9zM306.7 90.9h0.9v0.9h-0.9zM305.9 84.7h0.9v0.9h-0.9zM295.6 91.6h0.9v0.9h-0.9zM300.1 87.4h0.9v0.9h-0.9zM296.6 84.7h0.9v0.9h-0.9zM305.1 88.2h0.9v0.9h-0.9zM300.9 89.2h0.9v0.9h-0.9zM305.1 83.6h0.9v0.9h-0.9zM304.6 88.0h0.9v0.9h-0.9zM302.4 89.3h0.9v0.9h-0.9zM299.9 88.8h0.9v0.9h-0.9zM297.7 88.0h0.9v0.9h-0.9zM296.7 84.9h0.9v0.9h-0.9zM306.1 89.5h0.9v0.9h-0.9zM299.6 88.2h0.9v0.9h-0.9zM299.8 87.0h0.9v0.9h-0.9zM299.9 85.8h0.9v0.9h-0.9zM297.3 85.7h0.9v0.9h-0.9zM297.8 81.9h0.9v0.9h-0.9zM304.0 88.2h0.9v0.9h-0.9zM304.8 90.3h0.9v0.9h-0.9zM299.0 89.7h0.9v0.9h-0.9zM302.5 91.2h0.9v0.9h-0.9zM300.7 89.7h0.9v0.9h-0.9zM305.9 89.0h0.9v0.9h-0.9zM298.6 86.6h0.9v0.9h-0.9zM298.1 87.2h0.9v0.9h-0.9zM296.9 85.4h0.9v0.9h-0.9zM303.2 90.0h0.9v0.9h-0.9zM298.3 86.3h0.9v0.9h-0.9zM300.2 82.2h0.9v0.9h-0.9zM301.7 84.3h0.9v0.9h-0.9zM305.2 87.6h0.9v0.9h-0.9zM298.0 85.1h0.9v0.9h-0.9zM298.3 86.6h0.9v0.9h-0.9zM298.3 86.6h0.9v0.9h-0.9zM294.4 83.2h0.9v0.9h-0.9zM307.8 86.4h0.9v0.9h-0.9zM303.5 90.8h0.9v0.9h-0.9zM303.3 89.2h0.9v0.9h-0.9zM312.9 89.7h0.9v0.9h-0.9zM293.6 88.1h0.9v0.9h-0.9zM289.6 89.7h0.9v0.9h-0.9zM295.6 85.3h0.9v0.9h-0.9zM296.0 83.0h0.9v0.9h-0.9zM302.7 83.1h0.9v0.9h-0.9zM301.7 84.7h0.9v0.9h-0.9zM295.7 82.8h0.9v0.9h-0.9zM299.3 80.1h0.9v0.9h-0.9zM297.5 76.2h0.9v0.9h-0.9zM294.7 87.7h0.9v0.9h-0.9zM307.1 85.2h0.9v0.9h-0.9zM309.8 77.5h0.9v0.9h-0.9zM301.2 79.6h0.9v0.9h-0.9zM294.2 87.0h0.9v0.9h-0.9zM301.0 83.1h0.9v0.9h-0.9zM312.1 80.6h0.9v0.9h-0.9zM303.1 84.0h0.9v0.9h-0.9zM291.4 84.4h0.9v0.9h-0.9zM302.1 88.4h0.9v0.9h-0.9zM305.1 80.2h0.9v0.9h-0.9zM319.7 91.3h0.9v0.9h-0.9zM313.3 91.5h0.9v0.9h-0.9zM320.4 86.4h0.9v0.9h-0.9zM319.2 89.8h0.9v0.9h-0.9zM315.0 88.3h0.9v0.9h-0.9zM309.8 86.7h0.9v0.9h-0.9z" fill="#000" fill-opacity="0.42"/>
<path d="M309.4 91.1h0.9v0.9h-0.9zM300.6 89.1h0.9v0.9h-0.9zM291.7 87.1h0.9v0.9h-0.9zM298.8 88.1h0.9v0.9h-0.9zM300.5 85.6h0.9v0.9h-0.9zM307.7 84.3h0.9v0.9h-0.9zM297.7 91.8h0.9v0.9h-0.9zM302.2 84.9h0.9v0.9h-0.9zM299.5 85.4h0.9v0.9h-0.9zM299.5 83.5h0.9v0.9h-0.9zM297.7 90.9h0.9v0.9h-0.9zM306.3 87.3h0.9v0.9h-0.9zM299.1 86.1h0.9v0.9h-0.9zM304.3 86.4h0.9v0.9h-0.9zM302.1 84.5h0.9v0.9h-0.9zM304.8 90.2h0.9v0.9h-0.9zM302.6 84.3h0.9v0.9h-0.9zM296.2 87.7h0.9v0.9h-0.9zM304.0 85.0h0.9v0.9h-0.9zM296.4 89.1h0.9v0.9h-0.9zM296.2 87.2h0.9v0.9h-0.9zM303.5 83.4h0.9v0.9h-0.9zM298.4 86.3h0.9v0.9h-0.9zM301.6 86.9h0.9v0.9h-0.9zM299.5 89.4h0.9v0.9h-0.9zM307.6 87.7h0.9v0.9h-0.9zM304.8 85.6h0.9v0.9h-0.9zM298.0 91.9h0.9v0.9h-0.9zM299.3 88.0h0.9v0.9h-0.9zM303.2 91.6h0.9v0.9h-0.9zM305.9 87.1h0.9v0.9h-0.9zM293.1 85.0h0.9v0.9h-0.9zM299.6 87.7h0.9v0.9h-0.9zM309.4 83.0h0.9v0.9h-0.9zM300.9 91.9h0.9v0.9h-0.9zM310.6 84.1h0.9v0.9h-0.9zM302.6 89.1h0.9v0.9h-0.9zM301.4 91.9h0.9v0.9h-0.9zM306.0 85.9h0.9v0.9h-0.9zM301.8 88.4h0.9v0.9h-0.9zM298.9 84.1h0.9v0.9h-0.9zM299.8 88.5h0.9v0.9h-0.9zM296.4 86.4h0.9v0.9h-0.9zM304.1 82.4h0.9v0.9h-0.9zM294.6 90.3h0.9v0.9h-0.9zM301.3 82.0h0.9v0.9h-0.9zM304.6 89.5h0.9v0.9h-0.9zM302.5 86.4h0.9v0.9h-0.9zM299.4 90.3h0.9v0.9h-0.9zM303.0 89.1h0.9v0.9h-0.9zM297.6 90.7h0.9v0.9h-0.9zM296.6 80.6h0.9v0.9h-0.9zM300.4 90.8h0.9v0.9h-0.9zM304.5 90.1h0.9v0.9h-0.9zM293.5 81.9h0.9v0.9h-0.9zM303.0 88.2h0.9v0.9h-0.9zM295.6 86.8h0.9v0.9h-0.9zM298.6 90.9h0.9v0.9h-0.9zM304.0 91.4h0.9v0.9h-0.9zM304.8 82.2h0.9v0.9h-0.9zM301.1 89.1h0.9v0.9h-0.9zM306.7 90.4h0.9v0.9h-0.9zM303.1 81.2h0.9v0.9h-0.9zM303.5 87.3h0.9v0.9h-0.9zM302.1 89.0h0.9v0.9h-0.9zM297.8 83.8h0.9v0.9h-0.9zM303.5 88.7h0.9v0.9h-0.9zM304.6 87.3h0.9v0.9h-0.9zM298.9 91.1h0.9v0.9h-0.9zM302.5 89.9h0.9v0.9h-0.9zM304.1 87.4h0.9v0.9h-0.9zM304.2 84.1h0.9v0.9h-0.9zM299.8 88.4h0.9v0.9h-0.9zM298.0 88.7h0.9v0.9h-0.9zM296.2 89.9h0.9v0.9h-0.9zM301.4 86.3h0.9v0.9h-0.9zM305.3 84.0h0.9v0.9h-0.9zM299.3 84.3h0.9v0.9h-0.9zM294.4 91.9h0.9v0.9h-0.9zM299.5 89.0h0.9v0.9h-0.9zM304.1 81.5h0.9v0.9h-0.9zM297.2 89.2h0.9v0.9h-0.9zM296.7 75.2h0.9v0.9h-0.9zM300.0 81.6h0.9v0.9h-0.9zM302.0 89.8h0.9v0.9h-0.9zM302.1 86.6h0.9v0.9h-0.9zM302.7 88.8h0.9v0.9h-0.9zM292.4 88.4h0.9v0.9h-0.9zM307.9 90.8h0.9v0.9h-0.9zM300.8 83.9h0.9v0.9h-0.9zM294.3 87.8h0.9v0.9h-0.9zM302.1 82.9h0.9v0.9h-0.9zM300.4 88.3h0.9v0.9h-0.9zM296.8 89.9h0.9v0.9h-0.9zM293.5 86.8h0.9v0.9h-0.9zM296.8 85.9h0.9v0.9h-0.9zM298.1 87.1h0.9v0.9h-0.9zM300.8 86.6h0.9v0.9h-0.9zM301.4 85.8h0.9v0.9h-0.9zM300.4 85.4h0.9v0.9h-0.9zM302.4 86.8h0.9v0.9h-0.9zM309.4 91.6h0.9v0.9h-0.9zM304.1 88.3h0.9v0.9h-0.9zM299.3 88.3h0.9v0.9h-0.9zM295.8 88.9h0.9v0.9h-0.9zM305.3 89.1h0.9v0.9h-0.9zM307.5 81.1h0.9v0.9h-0.9zM303.7 78.0h0.9v0.9h-0.9zM301.8 90.5h0.9v0.9h-0.9zM306.6 91.7h0.9v0.9h-0.9zM298.5 90.8h0.9v0.9h-0.9zM309.6 86.2h0.9v0.9h-0.9zM300.1 89.5h0.9v0.9h-0.9zM301.1 90.1h0.9v0.9h-0.9zM303.3 84.8h0.9v0.9h-0.9zM298.4 89.1h0.9v0.9h-0.9zM304.6 85.0h0.9v0.9h-0.9zM289.6 87.9h0.9v0.9h-0.9zM292.0 88.7h0.9v0.9h-0.9zM303.9 87.9h0.9v0.9h-0.9zM296.3 88.8h0.9v0.9h-0.9zM299.1 81.4h0.9v0.9h-0.9zM306.1 90.8h0.9v0.9h-0.9zM302.5 80.6h0.9v0.9h-0.9zM297.0 82.8h0.9v0.9h-0.9zM307.3 86.9h0.9v0.9h-0.9zM302.0 89.1h0.9v0.9h-0.9zM295.0 81.2h0.9v0.9h-0.9zM299.6 84.2h0.9v0.9h-0.9zM303.7 91.5h0.9v0.9h-0.9zM300.1 88.6h0.9v0.9h-0.9zM296.8 88.3h0.9v0.9h-0.9zM303.9 85.5h0.9v0.9h-0.9zM295.6 90.8h0.9v0.9h-0.9zM304.0 81.6h0.9v0.9h-0.9zM301.5 85.0h0.9v0.9h-0.9zM292.0 84.3h0.9v0.9h-0.9zM307.1 81.8h0.9v0.9h-0.9zM299.7 85.1h0.9v0.9h-0.9zM294.2 91.6h0.9v0.9h-0.9zM307.7 91.4h0.9v0.9h-0.9zM302.2 91.4h0.9v0.9h-0.9zM303.3 84.8h0.9v0.9h-0.9zM296.4 88.4h0.9v0.9h-0.9zM300.2 91.0h0.9v0.9h-0.9zM307.2 84.7h0.9v0.9h-0.9zM301.4 88.5h0.9v0.9h-0.9zM305.5 85.0h0.9v0.9h-0.9zM299.1 87.8h0.9v0.9h-0.9zM303.1 88.9h0.9v0.9h-0.9zM297.3 87.0h0.9v0.9h-0.9zM303.1 89.5h0.9v0.9h-0.9zM305.0 90.2h0.9v0.9h-0.9zM294.2 88.5h0.9v0.9h-0.9zM307.7 90.9h0.9v0.9h-0.9zM301.7 87.9h0.9v0.9h-0.9zM299.7 88.7h0.9v0.9h-0.9zM301.7 87.9h0.9v0.9h-0.9zM308.9 86.3h0.9v0.9h-0.9zM301.1 87.1h0.9v0.9h-0.9zM301.0 88.5h0.9v0.9h-0.9zM297.8 90.2h0.9v0.9h-0.9zM298.7 89.8h0.9v0.9h-0.9zM293.5 86.2h0.9v0.9h-0.9zM295.0 84.0h0.9v0.9h-0.9zM297.9 85.2h0.9v0.9h-0.9zM293.8 88.2h0.9v0.9h-0.9zM303.2 91.9h0.9v0.9h-0.9zM305.8 84.3h0.9v0.9h-0.9zM306.4 84.4h0.9v0.9h-0.9zM308.2 86.0h0.9v0.9h-0.9zM302.9 84.3h0.9v0.9h-0.9zM308.2 81.1h0.9v0.9h-0.9zM300.8 92.0h0.9v0.9h-0.9zM300.7 87.5h0.9v0.9h-0.9zM298.0 86.5h0.9v0.9h-0.9zM305.9 88.2h0.9v0.9h-0.9zM294.7 87.9h0.9v0.9h-0.9zM296.8 90.2h0.9v0.9h-0.9zM301.4 83.2h0.9v0.9h-0.9zM295.8 87.4h0.9v0.9h-0.9zM302.5 90.1h0.9v0.9h-0.9zM295.1 90.2h0.9v0.9h-0.9zM307.8 85.8h0.9v0.9h-0.9zM301.2 86.9h0.9v0.9h-0.9zM303.0 87.6h0.9v0.9h-0.9zM305.7 86.6h0.9v0.9h-0.9zM300.6 89.2h0.9v0.9h-0.9zM300.0 88.6h0.9v0.9h-0.9zM300.8 83.8h0.9v0.9h-0.9zM301.6 87.5h0.9v0.9h-0.9zM300.0 80.3h0.9v0.9h-0.9zM299.8 90.1h0.9v0.9h-0.9zM309.2 85.1h0.9v0.9h-0.9zM302.5 88.7h0.9v0.9h-0.9zM299.9 84.1h0.9v0.9h-0.9zM307.5 85.0h0.9v0.9h-0.9zM292.6 89.1h0.9v0.9h-0.9zM302.2 84.3h0.9v0.9h-0.9zM305.8 85.4h0.9v0.9h-0.9zM297.2 80.5h0.9v0.9h-0.9zM304.3 84.3h0.9v0.9h-0.9zM303.9 86.1h0.9v0.9h-0.9zM297.8 88.0h0.9v0.9h-0.9zM302.7 89.2h0.9v0.9h-0.9zM306.0 91.0h0.9v0.9h-0.9zM302.7 87.8h0.9v0.9h-0.9zM300.5 87.4h0.9v0.9h-0.9zM299.1 90.4h0.9v0.9h-0.9zM303.9 87.6h0.9v0.9h-0.9zM301.7 87.6h0.9v0.9h-0.9zM303.8 89.9h0.9v0.9h-0.9zM299.5 88.2h0.9v0.9h-0.9zM305.9 91.8h0.9v0.9h-0.9zM302.2 90.1h0.9v0.9h-0.9zM292.2 89.1h0.9v0.9h-0.9zM293.7 91.9h0.9v0.9h-0.9zM304.4 90.5h0.9v0.9h-0.9zM299.4 88.9h0.9v0.9h-0.9zM303.6 84.0h0.9v0.9h-0.9zM297.1 87.0h0.9v0.9h-0.9zM306.3 85.0h0.9v0.9h-0.9zM307.5 85.4h0.9v0.9h-0.9zM295.9 82.3h0.9v0.9h-0.9zM298.6 83.9h0.9v0.9h-0.9zM300.3 91.2h0.9v0.9h-0.9zM295.0 89.9h0.9v0.9h-0.9zM305.3 88.0h0.9v0.9h-0.9zM300.5 83.1h0.9v0.9h-0.9zM299.3 90.4h0.9v0.9h-0.9zM302.7 91.7h0.9v0.9h-0.9zM293.3 86.1h0.9v0.9h-0.9zM297.6 85.4h0.9v0.9h-0.9zM293.2 84.1h0.9v0.9h-0.9zM305.6 86.1h0.9v0.9h-0.9zM299.2 86.3h0.9v0.9h-0.9zM290.8 85.7h0.9v0.9h-0.9zM304.7 86.8h0.9v0.9h-0.9zM298.5 76.9h0.9v0.9h-0.9zM311.3 84.1h0.9v0.9h-0.9zM292.3 91.4h0.9v0.9h-0.9zM299.6 81.2h0.9v0.9h-0.9zM300.2 84.2h0.9v0.9h-0.9zM303.3 84.1h0.9v0.9h-0.9zM296.2 81.1h0.9v0.9h-0.9zM303.1 88.3h0.9v0.9h-0.9zM300.1 89.9h0.9v0.9h-0.9zM299.0 82.5h0.9v0.9h-0.9zM320.6 78.3h0.9v0.9h-0.9zM307.1 91.3h0.9v0.9h-0.9zM306.5 83.8h0.9v0.9h-0.9zM296.7 91.3h0.9v0.9h-0.9zM302.5 83.1h0.9v0.9h-0.9zM312.6 76.7h0.9v0.9h-0.9zM294.8 88.7h0.9v0.9h-0.9zM306.0 85.3h0.9v0.9h-0.9zM312.6 87.0h0.9v0.9h-0.9zM295.3 85.3h0.9v0.9h-0.9zM338.3 77.0h0.9v0.9h-0.9zM296.5 86.5h0.9v0.9h-0.9zM322.0 87.6h0.9v0.9h-0.9zM314.2 87.2h0.9v0.9h-0.9zM310.3 89.5h0.9v0.9h-0.9zM308.8 88.8h0.9v0.9h-0.9z" fill="#000" fill-opacity="0.42"/>
<path d="M381.6 40.0h0.9v0.9h-0.9zM383.8 50.2h0.9v0.9h-0.9zM380.3 45.4h0.9v0.9h-0.9zM380.4 50.9h0.9v0.9h-0.9zM375.3 44.6h0.9v0.9h-0.9zM380.4 39.4h0.9v0.9h-0.9zM377.2 40.5h0.9v0.9h-0.9zM383.7 44.2h0.9v0.9h-0.9zM383.7 38.6h0.9v0.9h-0.9zM381.8 45.8h0.9v0.9h-0.9zM380.7 41.1h0.9v0.9h-0.9zM379.3 43.0h0.9v0.9h-0.9zM371.7 43.4h0.9v0.9h-0.9zM374.0 39.8h0.9v0.9h-0.9zM384.8 44.2h0.9v0.9h-0.9zM380.6 41.7h0.9v0.9h-0.9zM377.1 47.2h0.9v0.9h-0.9zM380.6 37.8h0.9v0.9h-0.9zM378.8 48.8h0.9v0.9h-0.9zM384.8 44.2h0.9v0.9h-0.9zM377.8 43.1h0.9v0.9h-0.9zM376.4 41.2h0.9v0.9h-0.9zM381.7 47.4h0.9v0.9h-0.9zM386.2 43.0h0.9v0.9h-0.9zM381.1 44.7h0.9v0.9h-0.9zM377.6 43.0h0.9v0.9h-0.9zM380.4 43.9h0.9v0.9h-0.9zM381.8 43.3h0.9v0.9h-0.9zM378.0 47.3h0.9v0.9h-0.9zM387.2 41.1h0.9v0.9h-0.9zM381.4 39.3h0.9v0.9h-0.9zM378.1 44.5h0.9v0.9h-0.9zM386.3 47.6h0.9v0.9h-0.9zM379.5 44.8h0.9v0.9h-0.9zM383.5 44.9h0.9v0.9h-0.9zM380.0 43.6h0.9v0.9h-0.9zM378.3 43.0h0.9v0.9h-0.9zM382.4 40.8h0.9v0.9h-0.9zM382.4 42.4h0.9v0.9h-0.9zM381.3 45.2h0.9v0.9h-0.9zM378.6 42.1h0.9v0.9h-0.9zM381.9 41.9h0.9v0.9h-0.9zM378.3 42.8h0.9v0.9h-0.9zM386.1 46.7h0.9v0.9h-0.9zM383.6 43.6h0.9v0.9h-0.9zM384.0 43.9h0.9v0.9h-0.9zM374.7 43.5h0.9v0.9h-0.9zM380.3 40.7h0.9v0.9h-0.9zM380.5 47.0h0.9v0.9h-0.9zM378.6 38.9h0.9v0.9h-0.9zM376.7 42.4h0.9v0.9h-0.9zM378.6 47.9h0.9v0.9h-0.9zM376.7 46.2h0.9v0.9h-0.9zM384.2 45.8h0.9v0.9h-0.9zM387.0 43.1h0.9v0.9h-0.9zM381.7 43.5h0.9v0.9h-0.9zM381.0 46.9h0.9v0.9h-0.9z" fill="#000" fill-opacity="0.4"/>
<path d="M384.8 44.5h0.9v0.9h-0.9zM382.1 46.8h0.9v0.9h-0.9zM381.0 44.3h0.9v0.9h-0.9zM377.4 45.0h0.9v0.9h-0.9zM380.3 40.9h0.9v0.9h-0.9zM384.4 46.8h0.9v0.9h-0.9zM383.2 44.8h0.9v0.9h-0.9zM383.2 40.1h0.9v0.9h-0.9zM379.8 41.6h0.9v0.9h-0.9zM381.3 43.3h0.9v0.9h-0.9zM386.1 46.2h0.9v0.9h-0.9zM380.2 39.2h0.9v0.9h-0.9zM377.1 44.3h0.9v0.9h-0.9zM379.6 49.8h0.9v0.9h-0.9zM374.6 38.3h0.9v0.9h-0.9zM378.8 40.7h0.9v0.9h-0.9zM377.8 42.7h0.9v0.9h-0.9zM380.8 42.4h0.9v0.9h-0.9zM380.7 44.0h0.9v0.9h-0.9zM377.3 41.2h0.9v0.9h-0.9zM380.8 45.2h0.9v0.9h-0.9zM379.8 47.5h0.9v0.9h-0.9zM380.0 38.1h0.9v0.9h-0.9zM378.9 45.3h0.9v0.9h-0.9zM378.7 41.1h0.9v0.9h-0.9zM380.1 44.4h0.9v0.9h-0.9zM383.6 43.1h0.9v0.9h-0.9zM375.9 44.2h0.9v0.9h-0.9zM381.6 44.1h0.9v0.9h-0.9zM379.1 43.2h0.9v0.9h-0.9zM378.7 42.8h0.9v0.9h-0.9zM381.5 43.2h0.9v0.9h-0.9zM381.3 47.5h0.9v0.9h-0.9zM379.5 40.8h0.9v0.9h-0.9zM376.0 49.1h0.9v0.9h-0.9zM379.3 43.4h0.9v0.9h-0.9zM378.1 42.2h0.9v0.9h-0.9zM381.7 45.7h0.9v0.9h-0.9zM379.4 44.1h0.9v0.9h-0.9zM376.1 42.3h0.9v0.9h-0.9zM385.4 44.3h0.9v0.9h-0.9zM378.9 47.3h0.9v0.9h-0.9zM380.6 44.8h0.9v0.9h-0.9zM382.2 43.1h0.9v0.9h-0.9zM378.7 45.5h0.9v0.9h-0.9zM378.2 43.8h0.9v0.9h-0.9zM377.3 47.5h0.9v0.9h-0.9zM382.0 46.3h0.9v0.9h-0.9zM382.1 39.7h0.9v0.9h-0.9zM377.9 37.2h0.9v0.9h-0.9zM383.0 42.6h0.9v0.9h-0.9zM380.4 43.4h0.9v0.9h-0.9zM379.0 43.8h0.9v0.9h-0.9zM377.2 40.8h0.9v0.9h-0.9zM375.1 45.7h0.9v0.9h-0.9zM381.0 45.6h0.9v0.9h-0.9zM384.4 40.4h0.9v0.9h-0.9z" fill="#000" fill-opacity="0.4"/>
<path d="M382.8 39.7h0.9v0.9h-0.9zM378.6 43.9h0.9v0.9h-0.9zM377.6 40.0h0.9v0.9h-0.9zM384.7 41.6h0.9v0.9h-0.9zM385.2 45.6h0.9v0.9h-0.9zM383.1 48.3h0.9v0.9h-0.9zM380.3 42.1h0.9v0.9h-0.9zM380.7 44.7h0.9v0.9h-0.9zM380.5 43.1h0.9v0.9h-0.9zM383.3 47.6h0.9v0.9h-0.9zM387.4 42.3h0.9v0.9h-0.9zM383.1 39.1h0.9v0.9h-0.9zM376.8 39.5h0.9v0.9h-0.9zM382.6 41.6h0.9v0.9h-0.9zM375.7 41.8h0.9v0.9h-0.9zM381.0 45.9h0.9v0.9h-0.9zM385.8 45.3h0.9v0.9h-0.9zM379.8 46.8h0.9v0.9h-0.9zM379.5 43.8h0.9v0.9h-0.9zM384.2 45.1h0.9v0.9h-0.9zM377.5 43.8h0.9v0.9h-0.9zM380.2 48.5h0.9v0.9h-0.9zM373.6 42.2h0.9v0.9h-0.9zM379.3 42.4h0.9v0.9h-0.9zM385.6 40.9h0.9v0.9h-0.9zM385.5 47.4h0.9v0.9h-0.9zM381.0 40.2h0.9v0.9h-0.9zM387.6 44.5h0.9v0.9h-0.9zM385.3 46.2h0.9v0.9h-0.9zM381.1 40.0h0.9v0.9h-0.9zM381.3 44.5h0.9v0.9h-0.9zM380.6 42.0h0.9v0.9h-0.9zM377.7 42.0h0.9v0.9h-0.9zM375.7 40.2h0.9v0.9h-0.9zM379.0 42.1h0.9v0.9h-0.9zM383.0 46.2h0.9v0.9h-0.9zM380.2 42.6h0.9v0.9h-0.9zM379.5 42.5h0.9v0.9h-0.9zM372.6 45.6h0.9v0.9h-0.9zM381.9 45.2h0.9v0.9h-0.9zM384.4 39.5h0.9v0.9h-0.9zM377.1 40.7h0.9v0.9h-0.9zM384.4 44.9h0.9v0.9h-0.9zM384.9 42.6h0.9v0.9h-0.9zM382.7 44.4h0.9v0.9h-0.9zM386.4 40.6h0.9v0.9h-0.9zM381.0 40.7h0.9v0.9h-0.9zM384.3 46.6h0.9v0.9h-0.9zM384.8 40.9h0.9v0.9h-0.9zM376.6 41.0h0.9v0.9h-0.9zM381.9 46.8h0.9v0.9h-0.9zM381.6 47.5h0.9v0.9h-0.9zM377.3 36.0h0.9v0.9h-0.9zM376.7 43.4h0.9v0.9h-0.9zM377.6 38.8h0.9v0.9h-0.9zM383.5 37.3h0.9v0.9h-0.9z" fill="#000" fill-opacity="0.4"/>
<path d="M370.2 39.8h0.9v0.9h-0.9zM385.9 46.7h0.9v0.9h-0.9zM379.6 54.2h0.9v0.9h-0.9zM383.6 47.5h0.9v0.9h-0.9zM390.3 44.7h0.9v0.9h-0.9zM383.2 53.1h0.9v0.9h-0.9zM382.5 50.6h0.9v0.9h-0.9zM386.1 54.3h0.9v0.9h-0.9zM370.3 45.0h0.9v0.9h-0.9zM382.5 35.9h0.9v0.9h-0.9zM383.0 47.0h0.9v0.9h-0.9zM384.3 46.7h0.9v0.9h-0.9zM382.9 38.6h0.9v0.9h-0.9zM383.5 57.5h0.9v0.9h-0.9zM385.4 51.5h0.9v0.9h-0.9zM382.1 50.6h0.9v0.9h-0.9zM372.0 35.4h0.9v0.9h-0.9zM373.3 58.9h0.9v0.9h-0.9zM393.9 38.4h0.9v0.9h-0.9zM387.6 52.9h0.9v0.9h-0.9zM380.5 48.7h0.9v0.9h-0.9zM380.2 57.0h0.9v0.9h-0.9zM380.4 44.3h0.9v0.9h-0.9zM378.4 47.4h0.9v0.9h-0.9zM372.6 45.0h0.9v0.9h-0.9zM378.6 52.2h0.9v0.9h-0.9zM381.9 52.8h0.9v0.9h-0.9zM370.8 53.2h0.9v0.9h-0.9zM380.8 55.7h0.9v0.9h-0.9zM376.6 49.6h0.9v0.9h-0.9zM383.5 57.3h0.9v0.9h-0.9zM380.7 52.7h0.9v0.9h-0.9zM383.4 45.4h0.9v0.9h-0.9zM369.6 47.2h0.9v0.9h-0.9zM382.4 48.2h0.9v0.9h-0.9zM386.6 48.3h0.9v0.9h-0.9zM382.3 54.4h0.9v0.9h-0.9zM385.9 53.2h0.9v0.9h-0.9zM390.5 47.6h0.9v0.9h-0.9zM396.4 45.3h0.9v0.9h-0.9zM388.2 50.8h0.9v0.9h-0.9zM381.9 69.6h0.9v0.9h-0.9zM385.0 66.3h0.9v0.9h-0.9zM380.3 46.6h0.9v0.9h-0.9zM382.0 38.7h0.9v0.9h-0.9zM390.9 41.0h0.9v0.9h-0.9zM383.5 54.2h0.9v0.9h-0.9zM380.7 48.3h0.9v0.9h-0.9zM378.9 48.3h0.9v0.9h-0.9zM380.3 51.2h0.9v0.9h-0.9zM385.1 53.2h0.9v0.9h-0.9zM380.6 60.5h0.9v0.9h-0.9zM377.4 46.7h0.9v0.9h-0.9zM389.5 59.3h0.9v0.9h-0.9zM383.4 36.4h0.9v0.9h-0.9zM376.7 60.7h0.9v0.9h-0.9zM388.1 52.1h0.9v0.9h-0.9zM393.6 50.1h0.9v0.9h-0.9zM377.8 55.0h0.9v0.9h-0.9zM379.4 36.4h0.9v0.9h-0.9zM383.1 55.2h0.9v0.9h-0.9zM381.5 24.9h0.9v0.9h-0.9zM390.6 46.1h0.9v0.9h-0.9zM375.2 52.8h0.9v0.9h-0.9zM377.9 52.0h0.9v0.9h-0.9zM376.0 67.3h0.9v0.9h-0.9zM381.7 60.9h0.9v0.9h-0.9zM376.3 60.1h0.9v0.9h-0.9zM383.7 60.9h0.9v0.9h-0.9zM378.9 63.2h0.9v0.9h-0.9zM385.2 62.5h0.9v0.9h-0.9zM380.5 56.7h0.9v0.9h-0.9zM378.9 64.1h0.9v0.9h-0.9zM385.8 61.0h0.9v0.9h-0.9zM382.4 64.7h0.9v0.9h-0.9zM386.0 62.2h0.9v0.9h-0.9zM374.1 56.2h0.9v0.9h-0.9zM373.1 66.4h0.9v0.9h-0.9zM378.5 57.7h0.9v0.9h-0.9zM381.7 64.9h0.9v0.9h-0.9z" fill="#000" fill-opacity="0.3"/>
<path d="M383.3 46.5h0.9v0.9h-0.9zM373.4 39.7h0.9v0.9h-0.9zM389.8 40.6h0.9v0.9h-0.9zM374.1 39.2h0.9v0.9h-0.9zM380.5 51.4h0.9v0.9h-0.9zM376.2 45.2h0.9v0.9h-0.9zM376.7 35.3h0.9v0.9h-0.9zM386.6 47.1h0.9v0.9h-0.9zM393.1 50.3h0.9v0.9h-0.9zM377.1 55.3h0.9v0.9h-0.9zM388.5 53.3h0.9v0.9h-0.9zM383.5 55.7h0.9v0.9h-0.9zM379.9 45.9h0.9v0.9h-0.9zM380.6 44.8h0.9v0.9h-0.9zM376.4 51.5h0.9v0.9h-0.9zM371.9 33.3h0.9v0.9h-0.9zM386.8 55.4h0.9v0.9h-0.9zM374.3 42.0h0.9v0.9h-0.9zM385.2 54.1h0.9v0.9h-0.9zM382.5 59.5h0.9v0.9h-0.9zM383.4 45.5h0.9v0.9h-0.9zM390.7 52.5h0.9v0.9h-0.9zM378.7 45.3h0.9v0.9h-0.9zM379.7 56.0h0.9v0.9h-0.9zM385.9 45.0h0.9v0.9h-0.9zM380.6 40.8h0.9v0.9h-0.9zM371.0 54.8h0.9v0.9h-0.9zM373.2 49.8h0.9v0.9h-0.9zM380.6 44.9h0.9v0.9h-0.9zM379.6 54.6h0.9v0.9h-0.9zM385.3 49.4h0.9v0.9h-0.9zM385.6 38.1h0.9v0.9h-0.9zM383.0 54.0h0.9v0.9h-0.9zM387.0 35.2h0.9v0.9h-0.9zM377.7 54.8h0.9v0.9h-0.9zM389.5 59.0h0.9v0.9h-0.9zM386.3 61.0h0.9v0.9h-0.9zM381.8 53.5h0.9v0.9h-0.9zM380.5 41.0h0.9v0.9h-0.9zM378.2 43.9h0.9v0.9h-0.9zM392.1 47.9h0.9v0.9h-0.9zM379.7 46.6h0.9v0.9h-0.9zM383.8 36.2h0.9v0.9h-0.9zM385.7 45.6h0.9v0.9h-0.9zM373.7 48.7h0.9v0.9h-0.9zM371.8 57.0h0.9v0.9h-0.9zM380.2 50.1h0.9v0.9h-0.9zM391.9 45.3h0.9v0.9h-0.9zM380.2 60.9h0.9v0.9h-0.9zM373.9 52.4h0.9v0.9h-0.9zM371.7 43.7h0.9v0.9h-0.9zM392.7 56.0h0.9v0.9h-0.9zM385.9 33.7h0.9v0.9h-0.9zM386.4 46.2h0.9v0.9h-0.9zM375.6 45.0h0.9v0.9h-0.9zM383.9 30.3h0.9v0.9h-0.9zM379.8 42.9h0.9v0.9h-0.9zM382.8 36.4h0.9v0.9h-0.9zM382.0 44.9h0.9v0.9h-0.9zM372.6 36.6h0.9v0.9h-0.9zM379.2 56.5h0.9v0.9h-0.9zM390.9 40.2h0.9v0.9h-0.9zM380.8 44.7h0.9v0.9h-0.9zM391.2 57.9h0.9v0.9h-0.9zM387.5 52.6h0.9v0.9h-0.9zM378.2 57.2h0.9v0.9h-0.9zM378.9 55.5h0.9v0.9h-0.9zM373.6 64.1h0.9v0.9h-0.9zM382.0 57.1h0.9v0.9h-0.9zM379.1 65.7h0.9v0.9h-0.9zM380.2 56.9h0.9v0.9h-0.9zM379.7 58.9h0.9v0.9h-0.9zM377.6 57.5h0.9v0.9h-0.9zM383.1 57.9h0.9v0.9h-0.9zM381.2 61.6h0.9v0.9h-0.9zM386.1 55.9h0.9v0.9h-0.9zM382.8 57.7h0.9v0.9h-0.9zM386.4 58.2h0.9v0.9h-0.9zM384.0 61.7h0.9v0.9h-0.9zM377.8 55.9h0.9v0.9h-0.9z" fill="#000" fill-opacity="0.3"/>
<path d="M381.6 88.4h0.9v0.9h-0.9zM379.0 90.9h0.9v0.9h-0.9zM382.8 82.4h0.9v0.9h-0.9zM391.2 87.6h0.9v0.9h-0.9zM390.9 81.9h0.9v0.9h-0.9zM380.2 83.8h0.9v0.9h-0.9zM383.3 82.7h0.9v0.9h-0.9zM377.8 81.1h0.9v0.9h-0.9zM378.1 83.6h0.9v0.9h-0.9zM382.5 87.9h0.9v0.9h-0.9zM383.2 91.1h0.9v0.9h-0.9zM386.0 90.5h0.9v0.9h-0.9zM388.2 87.1h0.9v0.9h-0.9zM379.2 90.9h0.9v0.9h-0.9zM377.6 91.2h0.9v0.9h-0.9zM386.4 90.0h0.9v0.9h-0.9zM382.4 88.3h0.9v0.9h-0.9zM381.8 90.1h0.9v0.9h-0.9zM369.8 84.6h0.9v0.9h-0.9zM379.7 83.8h0.9v0.9h-0.9zM380.5 91.6h0.9v0.9h-0.9zM382.7 87.5h0.9v0.9h-0.9zM380.2 82.0h0.9v0.9h-0.9zM376.6 88.8h0.9v0.9h-0.9zM384.7 89.1h0.9v0.9h-0.9zM381.2 83.9h0.9v0.9h-0.9zM387.8 80.6h0.9v0.9h-0.9zM386.2 83.0h0.9v0.9h-0.9zM377.8 88.5h0.9v0.9h-0.9zM382.7 76.6h0.9v0.9h-0.9zM380.9 81.6h0.9v0.9h-0.9zM382.2 88.2h0.9v0.9h-0.9zM376.5 87.0h0.9v0.9h-0.9zM380.4 87.3h0.9v0.9h-0.9zM377.0 87.2h0.9v0.9h-0.9zM387.9 89.6h0.9v0.9h-0.9zM380.2 85.5h0.9v0.9h-0.9zM385.0 85.1h0.9v0.9h-0.9zM379.6 85.8h0.9v0.9h-0.9zM380.9 87.7h0.9v0.9h-0.9zM391.9 88.6h0.9v0.9h-0.9zM382.5 84.6h0.9v0.9h-0.9zM380.6 86.5h0.9v0.9h-0.9zM378.9 84.8h0.9v0.9h-0.9zM379.4 91.0h0.9v0.9h-0.9zM378.0 88.2h0.9v0.9h-0.9zM380.3 83.9h0.9v0.9h-0.9zM373.4 90.4h0.9v0.9h-0.9zM379.3 82.5h0.9v0.9h-0.9zM380.1 87.8h0.9v0.9h-0.9zM384.0 87.6h0.9v0.9h-0.9zM380.2 91.1h0.9v0.9h-0.9zM384.9 88.3h0.9v0.9h-0.9zM376.3 86.5h0.9v0.9h-0.9zM385.2 90.6h0.9v0.9h-0.9zM376.3 87.3h0.9v0.9h-0.9zM383.1 91.7h0.9v0.9h-0.9zM384.0 85.3h0.9v0.9h-0.9zM390.8 81.2h0.9v0.9h-0.9zM383.8 91.0h0.9v0.9h-0.9zM380.2 86.3h0.9v0.9h-0.9zM381.1 82.4h0.9v0.9h-0.9zM387.0 88.1h0.9v0.9h-0.9zM382.0 88.0h0.9v0.9h-0.9zM383.4 82.9h0.9v0.9h-0.9zM384.6 84.9h0.9v0.9h-0.9zM380.7 86.7h0.9v0.9h-0.9zM381.2 90.1h0.9v0.9h-0.9zM379.4 88.4h0.9v0.9h-0.9zM386.2 88.4h0.9v0.9h-0.9zM379.9 88.0h0.9v0.9h-0.9zM381.3 87.7h0.9v0.9h-0.9zM387.2 90.6h0.9v0.9h-0.9zM387.2 90.0h0.9v0.9h-0.9zM384.4 88.1h0.9v0.9h-0.9zM381.9 80.0h0.9v0.9h-0.9zM386.5 81.1h0.9v0.9h-0.9zM374.4 77.9h0.9v0.9h-0.9zM384.0 90.2h0.9v0.9h-0.9zM383.4 91.0h0.9v0.9h-0.9zM385.0 89.4h0.9v0.9h-0.9zM383.3 89.9h0.9v0.9h-0.9zM385.9 86.3h0.9v0.9h-0.9zM389.1 84.0h0.9v0.9h-0.9zM374.0 91.1h0.9v0.9h-0.9zM378.4 83.5h0.9v0.9h-0.9zM375.6 83.2h0.9v0.9h-0.9zM383.1 80.3h0.9v0.9h-0.9zM385.1 84.6h0.9v0.9h-0.9zM378.4 87.5h0.9v0.9h-0.9zM383.3 91.0h0.9v0.9h-0.9zM379.5 85.5h0.9v0.9h-0.9zM387.1 87.9h0.9v0.9h-0.9zM371.9 91.1h0.9v0.9h-0.9zM378.7 84.0h0.9v0.9h-0.9zM380.8 81.8h0.9v0.9h-0.9zM376.6 90.5h0.9v0.9h-0.9zM374.2 89.7h0.9v0.9h-0.9zM382.2 91.6h0.9v0.9h-0.9zM379.6 86.0h0.9v0.9h-0.9zM381.0 87.2h0.9v0.9h-0.9zM376.8 87.9h0.9v0.9h-0.9zM382.8 91.8h0.9v0.9h-0.9zM379.1 90.8h0.9v0.9h-0.9zM384.2 84.1h0.9v0.9h-0.9zM375.0 91.4h0.9v0.9h-0.9zM382.1 91.3h0.9v0.9h-0.9zM384.0 80.3h0.9v0.9h-0.9zM383.7 89.9h0.9v0.9h-0.9zM380.9 85.6h0.9v0.9h-0.9zM379.9 86.5h0.9v0.9h-0.9zM384.0 90.1h0.9v0.9h-0.9zM382.1 87.6h0.9v0.9h-0.9zM378.0 84.5h0.9v0.9h-0.9zM376.3 88.4h0.9v0.9h-0.9zM384.9 86.2h0.9v0.9h-0.9zM380.3 87.3h0.9v0.9h-0.9zM377.7 87.6h0.9v0.9h-0.9zM386.2 89.8h0.9v0.9h-0.9zM380.9 85.7h0.9v0.9h-0.9zM380.4 89.6h0.9v0.9h-0.9zM382.9 86.4h0.9v0.9h-0.9zM375.1 88.0h0.9v0.9h-0.9zM375.4 85.4h0.9v0.9h-0.9zM379.5 87.0h0.9v0.9h-0.9zM387.9 88.1h0.9v0.9h-0.9zM382.9 87.1h0.9v0.9h-0.9zM378.1 82.9h0.9v0.9h-0.9zM384.5 85.0h0.9v0.9h-0.9zM375.2 91.6h0.9v0.9h-0.9zM385.5 89.5h0.9v0.9h-0.9zM378.9 83.5h0.9v0.9h-0.9zM385.4 86.8h0.9v0.9h-0.9zM373.8 83.4h0.9v0.9h-0.9zM378.5 89.0h0.9v0.9h-0.9zM384.3 88.5h0.9v0.9h-0.9zM382.4 91.7h0.9v0.9h-0.9zM384.5 87.4h0.9v0.9h-0.9zM381.8 86.4h0.9v0.9h-0.9zM385.2 90.0h0.9v0.9h-0.9zM387.3 87.3h0.9v0.9h-0.9zM381.7 84.2h0.9v0.9h-0.9zM379.8 87.2h0.9v0.9h-0.9zM383.2 85.8h0.9v0.9h-0.9zM381.7 88.8h0.9v0.9h-0.9zM382.3 90.7h0.9v0.9h-0.9zM379.0 87.8h0.9v0.9h-0.9zM384.9 87.6h0.9v0.9h-0.9zM374.5 85.5h0.9v0.9h-0.9zM382.0 90.6h0.9v0.9h-0.9zM377.5 88.6h0.9v0.9h-0.9zM373.8 86.9h0.9v0.9h-0.9zM381.3 88.5h0.9v0.9h-0.9zM385.7 88.9h0.9v0.9h-0.9zM383.6 87.4h0.9v0.9h-0.9zM377.0 82.4h0.9v0.9h-0.9zM376.4 87.3h0.9v0.9h-0.9zM382.8 82.0h0.9v0.9h-0.9zM378.1 90.5h0.9v0.9h-0.9zM376.6 78.2h0.9v0.9h-0.9zM377.9 90.4h0.9v0.9h-0.9zM383.9 91.0h0.9v0.9h-0.9zM377.7 87.4h0.9v0.9h-0.9zM382.2 91.1h0.9v0.9h-0.9zM382.6 82.0h0.9v0.9h-0.9zM382.4 88.0h0.9v0.9h-0.9zM381.3 89.2h0.9v0.9h-0.9zM379.7 90.4h0.9v0.9h-0.9zM373.0 82.7h0.9v0.9h-0.9zM379.9 78.9h0.9v0.9h-0.9zM381.8 88.8h0.9v0.9h-0.9zM384.6 89.0h0.9v0.9h-0.9zM386.6 86.0h0.9v0.9h-0.9zM387.7 89.3h0.9v0.9h-0.9zM375.8 88.7h0.9v0.9h-0.9zM382.4 89.6h0.9v0.9h-0.9zM380.9 79.0h0.9v0.9h-0.9zM379.3 84.1h0.9v0.9h-0.9zM385.7 91.6h0.9v0.9h-0.9zM385.1 86.7h0.9v0.9h-0.9zM374.5 85.4h0.9v0.9h-0.9zM382.6 89.6h0.9v0.9h-0.9zM385.1 78.9h0.9v0.9h-0.9zM385.7 81.7h0.9v0.9h-0.9zM379.1 86.9h0.9v0.9h-0.9zM377.1 91.2h0.9v0.9h-0.9zM376.8 89.8h0.9v0.9h-0.9zM381.5 84.1h0.9v0.9h-0.9zM381.0 89.1h0.9v0.9h-0.9zM381.9 85.1h0.9v0.9h-0.9zM377.8 82.1h0.9v0.9h-0.9zM375.4 80.6h0.9v0.9h-0.9zM380.5 83.6h0.9v0.9h-0.9zM387.1 86.7h0.9v0.9h-0.9zM389.7 85.7h0.9v0.9h-0.9zM373.4 87.8h0.9v0.9h-0.9zM375.0 81.6h0.9v0.9h-0.9zM378.3 88.5h0.9v0.9h-0.9zM380.2 83.8h0.9v0.9h-0.9zM387.6 89.0h0.9v0.9h-0.9zM380.7 84.2h0.9v0.9h-0.9zM384.5 90.2h0.9v0.9h-0.9zM381.7 85.4h0.9v0.9h-0.9zM381.6 86.6h0.9v0.9h-0.9zM382.6 85.5h0.9v0.9h-0.9zM390.7 79.4h0.9v0.9h-0.9zM384.4 85.4h0.9v0.9h-0.9zM379.8 85.7h0.9v0.9h-0.9zM383.4 83.1h0.9v0.9h-0.9zM385.8 88.1h0.9v0.9h-0.9zM384.7 89.1h0.9v0.9h-0.9zM375.8 85.9h0.9v0.9h-0.9zM379.4 86.8h0.9v0.9h-0.9zM386.7 90.1h0.9v0.9h-0.9zM384.1 86.3h0.9v0.9h-0.9zM380.4 80.9h0.9v0.9h-0.9zM375.6 87.0h0.9v0.9h-0.9zM384.4 86.0h0.9v0.9h-0.9zM383.9 90.1h0.9v0.9h-0.9zM372.2 83.8h0.9v0.9h-0.9zM388.9 83.8h0.9v0.9h-0.9zM375.2 91.3h0.9v0.9h-0.9zM385.7 83.4h0.9v0.9h-0.9zM385.7 87.4h0.9v0.9h-0.9zM379.8 91.1h0.9v0.9h-0.9zM385.4 91.5h0.9v0.9h-0.9zM384.8 86.9h0.9v0.9h-0.9zM380.0 85.6h0.9v0.9h-0.9zM381.9 82.7h0.9v0.9h-0.9zM388.3 84.9h0.9v0.9h-0.9zM380.1 79.8h0.9v0.9h-0.9zM385.6 85.3h0.9v0.9h-0.9zM379.4 87.2h0.9v0.9h-0.9zM385.3 88.8h0.9v0.9h-0.9zM385.3 91.5h0.9v0.9h-0.9zM374.1 83.2h0.9v0.9h-0.9zM377.0 90.7h0.9v0.9h-0.9zM381.9 84.7h0.9v0.9h-0.9zM381.8 84.7h0.9v0.9h-0.9zM381.5 87.6h0.9v0.9h-0.9zM382.2 82.5h0.9v0.9h-0.9zM381.8 89.7h0.9v0.9h-0.9zM383.4 90.3h0.9v0.9h-0.9zM381.6 87.5h0.9v0.9h-0.9zM379.5 84.1h0.9v0.9h-0.9zM386.5 87.3h0.9v0.9h-0.9zM383.1 88.2h0.9v0.9h-0.9zM393.1 83.0h0.9v0.9h-0.9zM375.5 88.7h0.9v0.9h-0.9zM388.9 90.9h0.9v0.9h-0.9zM376.7 87.8h0.9v0.9h-0.9zM389.6 87.9h0.9v0.9h-0.9zM381.6 88.9h0.9v0.9h-0.9zM388.4 86.7h0.9v0.9h-0.9zM381.8 90.2h0.9v0.9h-0.9zM381.2 85.0h0.9v0.9h-0.9zM381.5 89.5h0.9v0.9h-0.9zM377.1 90.6h0.9v0.9h-0.9zM388.8 89.0h0.9v0.9h-0.9zM384.0 87.9h0.9v0.9h-0.9zM400.5 88.6h0.9v0.9h-0.9zM393.5 85.5h0.9v0.9h-0.9zM397.8 88.4h0.9v0.9h-0.9zM387.9 86.3h0.9v0.9h-0.9zM373.9 91.1h0.9v0.9h-0.9zM376.8 78.8h0.9v0.9h-0.9zM381.9 79.1h0.9v0.9h-0.9zM380.0 89.5h0.9v0.9h-0.9zM395.3 76.3h0.9v0.9h-0.9zM381.0 81.9h0.9v0.9h-0.9zM381.2 82.6h0.9v0.9h-0.9zM389.0 88.1h0.9v0.9h-0.9zM377.8 87.7h0.9v0.9h-0.9zM385.5 81.2h0.9v0.9h-0.9zM379.6 85.2h0.9v0.9h-0.9zM372.3 82.7h0.9v0.9h-0.9zM382.8 87.8h0.9v0.9h-0.9zM388.4 88.9h0.9v0.9h-0.9zM378.4 73.7h0.9v0.9h-0.9zM371.0 89.9h0.9v0.9h-0.9zM385.0 90.9h0.9v0.9h-0.9zM390.3 88.8h0.9v0.9h-0.9zM400.1 79.0h0.9v0.9h-0.9zM384.1 81.3h0.9v0.9h-0.9zM382.9 90.6h0.9v0.9h-0.9zM390.9 85.5h0.9v0.9h-0.9zM393.8 91.6h0.9v0.9h-0.9zM386.7 85.9h0.9v0.9h-0.9zM393.6 80.3h0.9v0.9h-0.9zM386.4 86.9h0.9v0.9h-0.9zM388.6 88.3h0.9v0.9h-0.9zM391.3 87.5h0.9v0.9h-0.9zM396.3 83.4h0.9v0.9h-0.9z" fill="#000" fill-opacity="0.42"/>
<path d="M382.1 90.4h0.9v0.9h-0.9zM387.4 88.5h0.9v0.9h-0.9zM381.3 85.6h0.9v0.9h-0.9zM383.4 90.6h0.9v0.9h-0.9zM382.1 81.1h0.9v0.9h-0.9zM388.3 85.7h0.9v0.9h-0.9zM383.3 87.4h0.9v0.9h-0.9zM382.8 86.4h0.9v0.9h-0.9zM383.6 87.8h0.9v0.9h-0.9zM382.2 88.0h0.9v0.9h-0.9zM381.9 87.7h0.9v0.9h-0.9zM377.2 90.7h0.9v0.9h-0.9zM370.6 88.4h0.9v0.9h-0.9zM386.5 87.3h0.9v0.9h-0.9zM369.4 90.0h0.9v0.9h-0.9zM374.3 90.1h0.9v0.9h-0.9zM377.7 89.3h0.9v0.9h-0.9zM372.1 86.3h0.9v0.9h-0.9zM383.2 83.5h0.9v0.9h-0.9zM374.8 81.6h0.9v0.9h-0.9zM385.6 83.9h0.9v0.9h-0.9zM384.2 87.0h0.9v0.9h-0.9zM383.8 84.3h0.9v0.9h-0.9zM384.0 88.1h0.9v0.9h-0.9zM385.7 88.2h0.9v0.9h-0.9zM384.3 90.9h0.9v0.9h-0.9zM385.2 91.5h0.9v0.9h-0.9zM375.6 91.9h0.9v0.9h-0.9zM377.2 88.4h0.9v0.9h-0.9zM381.0 88.4h0.9v0.9h-0.9zM383.1 91.1h0.9v0.9h-0.9zM379.7 91.7h0.9v0.9h-0.9zM376.8 91.5h0.9v0.9h-0.9zM376.9 87.9h0.9v0.9h-0.9zM386.8 86.6h0.9v0.9h-0.9zM380.1 91.6h0.9v0.9h-0.9zM378.9 85.4h0.9v0.9h-0.9zM388.1 81.3h0.9v0.9h-0.9zM381.1 88.9h0.9v0.9h-0.9zM378.7 88.0h0.9v0.9h-0.9zM382.0 83.1h0.9v0.9h-0.9zM385.4 81.6h0.9v0.9h-0.9zM378.9 84.5h0.9v0.9h-0.9zM382.3 85.1h0.9v0.9h-0.9zM378.3 86.0h0.9v0.9h-0.9zM385.5 86.0h0.9v0.9h-0.9zM381.5 87.2h0.9v0.9h-0.9zM390.2 89.2h0.9v0.9h-0.9zM383.7 87.2h0.9v0.9h-0.9zM380.8 91.1h0.9v0.9h-0.9zM381.2 84.6h0.9v0.9h-0.9zM381.5 88.1h0.9v0.9h-0.9zM382.4 81.8h0.9v0.9h-0.9zM386.2 81.7h0.9v0.9h-0.9zM378.5 91.7h0.9v0.9h-0.9zM380.0 84.8h0.9v0.9h-0.9zM379.3 80.0h0.9v0.9h-0.9zM373.9 89.4h0.9v0.9h-0.9zM389.3 86.7h0.9v0.9h-0.9zM384.0 87.2h0.9v0.9h-0.9zM386.2 87.9h0.9v0.9h-0.9zM379.4 87.6h0.9v0.9h-0.9zM388.1 89.6h0.9v0.9h-0.9zM380.1 91.1h0.9v0.9h-0.9zM374.4 90.0h0.9v0.9h-0.9zM375.6 86.1h0.9v0.9h-0.9zM378.8 88.2h0.9v0.9h-0.9zM379.2 82.8h0.9v0.9h-0.9zM380.6 88.9h0.9v0.9h-0.9zM380.7 90.9h0.9v0.9h-0.9zM385.3 82.4h0.9v0.9h-0.9zM384.5 88.9h0.9v0.9h-0.9zM382.5 82.5h0.9v0.9h-0.9zM386.3 88.3h0.9v0.9h-0.9zM380.6 86.1h0.9v0.9h-0.9zM383.5 90.6h0.9v0.9h-0.9zM374.3 79.2h0.9v0.9h-0.9zM376.9 91.6h0.9v0.9h-0.9zM381.8 87.6h0.9v0.9h-0.9zM382.9 91.6h0.9v0.9h-0.9zM376.7 88.9h0.9v0.9h-0.9zM382.9 89.0h0.9v0.9h-0.9zM380.8 83.7h0.9v0.9h-0.9zM385.2 85.7h0.9v0.9h-0.9zM371.0 90.2h0.9v0.9h-0.9zM375.0 87.7h0.9v0.9h-0.9zM382.4 91.1h0.9v0.9h-0.9zM381.2 89.2h0.9v0.9h-0.9zM378.5 87.8h0.9v0.9h-0.9zM375.9 89.1h0.9v0.9h-0.9zM384.5 81.7h0.9v0.9h-0.9zM377.4 91.5h0.9v0.9h-0.9zM378.7 83.8h0.9v0.9h-0.9zM382.2 82.1h0.9v0.9h-0.9zM380.8 83.3h0.9v0.9h-0.9zM390.3 81.5h0.9v0.9h-0.9zM379.4 80.8h0.9v0.9h-0.9zM373.2 91.6h0.9v0.9h-0.9zM387.2 87.4h0.9v0.9h-0.9zM377.8 89.1h0.9v0.9h-0.9zM386.6 84.9h0.9v0.9h-0.9zM383.6 90.4h0.9v0.9h-0.9zM382.6 87.4h0.9v0.9h-0.9zM380.4 84.3h0.9v0.9h-0.9zM388.5 90.2h0.9v0.9h-0.9zM385.4 85.7h0.9v0.9h-0.9zM384.1 82.8h0.9v0.9h-0.9zM393.5 87.3h0.9v0.9h-0.9zM382.4 86.1h0.9v0.9h-0.9zM381.3 82.8h0.9v0.9h-0.9zM384.4 85.1h0.9v0.9h-0.9zM381.2 85.5h0.9v0.9h-0.9zM380.3 87.3h0.9v0.9h-0.9zM375.6 88.7h0.9v0.9h-0.9zM383.9 79.6h0.9v0.9h-0.9zM376.7 88.7h0.9v0.9h-0.9zM375.6 85.4h0.9v0.9h-0.9zM385.2 90.5h0.9v0.9h-0.9zM380.9 89.3h0.9v0.9h-0.9zM381.2 88.9h0.9v0.9h-0.9zM382.6 86.0h0.9v0.9h-0.9zM377.9 88.9h0.9v0.9h-0.9zM381.4 91.2h0.9v0.9h-0.9zM374.2 87.1h0.9v0.9h-0.9zM378.1 87.6h0.9v0.9h-0.9zM376.5 80.0h0.9v0.9h-0.9zM387.6 82.6h0.9v0.9h-0.9zM387.1 90.6h0.9v0.9h-0.9zM380.4 90.5h0.9v0.9h-0.9zM386.2 85.0h0.9v0.9h-0.9zM385.5 87.4h0.9v0.9h-0.9zM374.0 89.1h0.9v0.9h-0.9zM388.2 82.4h0.9v0.9h-0.9zM376.0 87.9h0.9v0.9h-0.9zM379.1 90.4h0.9v0.9h-0.9zM386.2 86.6h0.9v0.9h-0.9zM375.9 88.0h0.9v0.9h-0.9zM386.0 80.8h0.9v0.9h-0.9zM375.4 81.8h0.9v0.9h-0.9zM382.5 82.2h0.9v0.9h-0.9zM381.3 90.8h0.9v0.9h-0.9zM391.4 88.2h0.9v0.9h-0.9zM382.4 92.0h0.9v0.9h-0.9zM381.1 90.8h0.9v0.9h-0.9zM382.1 87.4h0.9v0.9h-0.9zM386.0 76.5h0.9v0.9h-0.9zM384.2 89.5h0.9v0.9h-0.9zM371.8 83.5h0.9v0.9h-0.9zM380.7 81.3h0.9v0.9h-0.9zM378.5 88.2h0.9v0.9h-0.9zM380.9 90.4h0.9v0.9h-0.9zM382.5 89.0h0.9v0.9h-0.9zM377.4 86.2h0.9v0.9h-0.9zM375.7 86.8h0.9v0.9h-0.9zM369.4 87.1h0.9v0.9h-0.9zM381.4 85.9h0.9v0.9h-0.9zM382.2 89.4h0.9v0.9h-0.9zM380.7 86.3h0.9v0.9h-0.9zM383.3 90.5h0.9v0.9h-0.9zM381.0 86.8h0.9v0.9h-0.9zM378.6 84.5h0.9v0.9h-0.9zM380.8 90.0h0.9v0.9h-0.9zM384.8 77.4h0.9v0.9h-0.9zM378.2 87.9h0.9v0.9h-0.9zM380.6 82.4h0.9v0.9h-0.9zM380.7 90.5h0.9v0.9h-0.9zM377.6 83.6h0.9v0.9h-0.9zM375.5 84.9h0.9v0.9h-0.9zM376.6 86.5h0.9v0.9h-0.9zM383.3 87.4h0.9v0.9h-0.9zM378.6 91.9h0.9v0.9h-0.9zM372.8 85.2h0.9v0.9h-0.9zM379.2 90.3h0.9v0.9h-0.9zM383.3 81.1h0.9v0.9h-0.9zM382.4 91.5h0.9v0.9h-0.9zM378.4 83.2h0.9v0.9h-0.9zM375.8 86.4h0.9v0.9h-0.9zM381.7 91.3h0.9v0.9h-0.9zM386.5 91.9h0.9v0.9h-0.9zM384.7 91.7h0.9v0.9h-0.9zM382.9 86.6h0.9v0.9h-0.9zM387.7 84.8h0.9v0.9h-0.9zM378.2 91.9h0.9v0.9h-0.9zM382.8 88.0h0.9v0.9h-0.9zM378.0 88.3h0.9v0.9h-0.9zM385.6 91.8h0.9v0.9h-0.9zM381.6 86.8h0.9v0.9h-0.9zM379.6 88.7h0.9v0.9h-0.9zM372.6 87.3h0.9v0.9h-0.9zM373.4 84.7h0.9v0.9h-0.9zM380.5 87.4h0.9v0.9h-0.9zM382.0 83.9h0.9v0.9h-0.9zM378.8 91.5h0.9v0.9h-0.9zM385.3 86.8h0.9v0.9h-0.9zM382.0 90.7h0.9v0.9h-0.9zM389.3 84.4h0.9v0.9h-0.9zM384.9 88.1h0.9v0.9h-0.9zM386.1 85.9h0.9v0.9h-0.9zM382.7 84.7h0.9v0.9h-0.9zM378.1 87.1h0.9v0.9h-0.9zM383.1 84.3h0.9v0.9h-0.9zM379.3 91.0h0.9v0.9h-0.9zM383.1 89.1h0.9v0.9h-0.9zM376.3 91.4h0.9v0.9h-0.9zM381.5 76.7h0.9v0.9h-0.9zM376.2 86.0h0.9v0.9h-0.9zM376.3 89.1h0.9v0.9h-0.9zM379.9 88.8h0.9v0.9h-0.9zM381.3 87.9h0.9v0.9h-0.9zM380.9 88.8h0.9v0.9h-0.9zM378.9 86.3h0.9v0.9h-0.9zM385.0 89.1h0.9v0.9h-0.9zM385.4 90.3h0.9v0.9h-0.9zM376.1 85.4h0.9v0.9h-0.9zM379.1 90.2h0.9v0.9h-0.9zM381.6 89.8h0.9v0.9h-0.9zM383.6 85.6h0.9v0.9h-0.9zM381.2 84.2h0.9v0.9h-0.9zM378.4 87.6h0.9v0.9h-0.9zM391.1 88.3h0.9v0.9h-0.9zM381.1 88.5h0.9v0.9h-0.9zM383.3 91.9h0.9v0.9h-0.9zM381.2 87.0h0.9v0.9h-0.9zM381.8 85.6h0.9v0.9h-0.9zM382.6 83.7h0.9v0.9h-0.9zM378.4 90.0h0.9v0.9h-0.9zM385.5 90.6h0.9v0.9h-0.9zM384.9 80.1h0.9v0.9h-0.9zM370.4 92.0h0.9v0.9h-0.9zM385.5 91.0h0.9v0.9h-0.9zM390.3 88.9h0.9v0.9h-0.9zM385.6 83.2h0.9v0.9h-0.9zM383.7 91.2h0.9v0.9h-0.9zM383.9 89.7h0.9v0.9h-0.9zM388.8 89.7h0.9v0.9h-0.9zM386.3 91.0h0.9v0.9h-0.9zM385.7 91.5h0.9v0.9h-0.9zM378.9 85.6h0.9v0.9h-0.9zM383.9 82.3h0.9v0.9h-0.9zM380.1 83.6h0.9v0.9h-0.9zM383.0 90.3h0.9v0.9h-0.9zM382.4 88.1h0.9v0.9h-0.9zM384.0 83.4h0.9v0.9h-0.9zM378.5 88.1h0.9v0.9h-0.9zM380.3 87.6h0.9v0.9h-0.9zM378.9 89.0h0.9v0.9h-0.9zM381.6 88.1h0.9v0.9h-0.9zM384.5 82.7h0.9v0.9h-0.9zM381.8 90.3h0.9v0.9h-0.9zM371.5 86.9h0.9v0.9h-0.9zM376.5 82.4h0.9v0.9h-0.9zM380.0 87.5h0.9v0.9h-0.9zM377.0 88.3h0.9v0.9h-0.9zM377.6 85.3h0.9v0.9h-0.9zM379.9 86.8h0.9v0.9h-0.9zM387.1 86.4h0.9v0.9h-0.9zM377.2 87.0h0.9v0.9h-0.9zM380.7 88.8h0.9v0.9h-0.9zM382.9 87.8h0.9v0.9h-0.9zM389.3 87.2h0.9v0.9h-0.9zM372.8 88.1h0.9v0.9h-0.9zM376.4 83.9h0.9v0.9h-0.9zM373.2 86.5h0.9v0.9h-0.9zM387.1 80.6h0.9v0.9h-0.9zM386.0 75.3h0.9v0.9h-0.9zM373.3 88.0h0.9v0.9h-0.9zM378.5 86.0h0.9v0.9h-0.9zM371.4 86.7h0.9v0.9h-0.9zM387.0 76.7h0.9v0.9h-0.9zM375.0 85.8h0.9v0.9h-0.9zM393.6 81.5h0.9v0.9h-0.9zM390.4 88.4h0.9v0.9h-0.9zM384.0 86.4h0.9v0.9h-0.9zM395.3 81.4h0.9v0.9h-0.9zM392.0 85.9h0.9v0.9h-0.9zM379.0 81.3h0.9v0.9h-0.9zM390.7 81.9h0.9v0.9h-0.9zM394.5 91.9h0.9v0.9h-0.9zM384.9 85.9h0.9v0.9h-0.9zM382.2 77.1h0.9v0.9h-0.9zM386.1 88.4h0.9v0.9h-0.9zM384.3 87.9h0.9v0.9h-0.9zM382.9 85.6h0.9v0.9h-0.9zM379.7 91.8h0.9v0.9h-0.9zM391.2 84.2h0.9v0.9h-0.9zM402.5 81.1h0.9v0.9h-0.9zM382.7 89.0h0.9v0.9h-0.9zM377.0 90.1h0.9v0.9h-0.9zM394.3 87.5h0.9v0.9h-0.9zM391.6 87.7h0.9v0.9h-0.9zM386.2 87.8h0.9v0.9h-0.9zM393.7 91.6h0.9v0.9h-0.9zM398.1 90.6h0.9v0.9h-0.9z" fill="#000" fill-opacity="0.42"/>
<path d="M373.8 90.0h0.9v0.9h-0.9zM379.8 83.9h0.9v0.9h-0.9zM380.7 88.4h0.9v0.9h-0.9zM382.1 88.0h0.9v0.9h-0.9zM380.1 84.3h0.9v0.9h-0.9zM381.8 88.1h0.9v0.9h-0.9zM383.4 81.9h0.9v0.9h-0.9zM388.3 89.7h0.9v0.9h-0.9zM379.8 83.4h0.9v0.9h-0.9zM379.7 78.4h0.9v0.9h-0.9zM385.7 89.1h0.9v0.9h-0.9zM375.2 86.3h0.9v0.9h-0.9zM375.2 88.4h0.9v0.9h-0.9zM370.7 91.9h0.9v0.9h-0.9zM378.9 88.0h0.9v0.9h-0.9zM388.6 87.0h0.9v0.9h-0.9zM375.8 85.7h0.9v0.9h-0.9zM386.5 82.4h0.9v0.9h-0.9zM377.7 86.1h0.9v0.9h-0.9zM385.4 85.4h0.9v0.9h-0.9zM377.0 82.8h0.9v0.9h-0.9zM379.9 90.7h0.9v0.9h-0.9zM380.1 86.9h0.9v0.9h-0.9zM378.9 91.4h0.9v0.9h-0.9zM384.8 89.3h0.9v0.9h-0.9zM377.6 90.7h0.9v0.9h-0.9zM379.4 85.0h0.9v0.9h-0.9zM379.4 88.3h0.9v0.9h-0.9zM377.0 87.1h0.9v0.9h-0.9zM380.7 87.6h0.9v0.9h-0.9zM376.6 86.3h0.9v0.9h-0.9zM380.1 86.7h0.9v0.9h-0.9zM386.6 85.5h0.9v0.9h-0.9zM378.6 86.5h0.9v0.9h-0.9zM377.4 87.6h0.9v0.9h-0.9zM378.0 87.4h0.9v0.9h-0.9zM378.0 88.3h0.9v0.9h-0.9zM377.7 90.8h0.9v0.9h-0.9zM380.0 80.8h0.9v0.9h-0.9zM384.9 84.5h0.9v0.9h-0.9zM384.0 90.6h0.9v0.9h-0.9zM379.4 89.2h0.9v0.9h-0.9zM378.5 89.0h0.9v0.9h-0.9zM380.2 89.7h0.9v0.9h-0.9zM383.8 88.7h0.9v0.9h-0.9zM383.6 83.7h0.9v0.9h-0.9zM377.3 81.1h0.9v0.9h-0.9zM379.0 91.7h0.9v0.9h-0.9zM386.8 89.1h0.9v0.9h-0.9zM384.6 85.4h0.9v0.9h-0.9zM387.8 89.9h0.9v0.9h-0.9zM379.2 88.0h0.9v0.9h-0.9zM374.5 88.2h0.9v0.9h-0.9zM377.1 87.8h0.9v0.9h-0.9zM383.6 89.4h0.9v0.9h-0.9zM385.8 90.6h0.9v0.9h-0.9zM380.0 88.4h0.9v0.9h-0.9zM386.4 89.7h0.9v0.9h-0.9zM378.3 81.6h0.9v0.9h-0.9zM383.1 85.6h0.9v0.9h-0.9zM380.4 88.5h0.9v0.9h-0.9zM382.4 90.2h0.9v0.9h-0.9zM384.7 83.3h0.9v0.9h-0.9zM392.5 91.6h0.9v0.9h-0.9zM383.6 91.9h0.9v0.9h-0.9zM381.5 89.8h0.9v0.9h-0.9zM378.5 83.9h0.9v0.9h-0.9zM381.0 91.5h0.9v0.9h-0.9zM383.8 90.3h0.9v0.9h-0.9zM379.6 90.9h0.9v0.9h-0.9zM385.1 88.9h0.9v0.9h-0.9zM375.8 79.4h0.9v0.9h-0.9zM374.1 79.4h0.9v0.9h-0.9zM381.7 89.3h0.9v0.9h-0.9zM376.5 89.7h0.9v0.9h-0.9zM387.7 91.0h0.9v0.9h-0.9zM377.3 88.6h0.9v0.9h-0.9zM377.6 82.9h0.9v0.9h-0.9zM387.1 88.8h0.9v0.9h-0.9zM378.2 87.6h0.9v0.9h-0.9zM379.9 83.3h0.9v0.9h-0.9zM374.7 79.9h0.9v0.9h-0.9zM377.7 88.3h0.9v0.9h-0.9zM384.7 91.3h0.9v0.9h-0.9zM385.3 86.7h0.9v0.9h-0.9zM386.5 88.7h0.9v0.9h-0.9zM384.7 86.1h0.9v0.9h-0.9zM388.3 81.3h0.9v0.9h-0.9zM383.5 91.0h0.9v0.9h-0.9zM377.5 82.8h0.9v0.9h-0.9zM375.9 88.5h0.9v0.9h-0.9zM382.8 87.9h0.9v0.9h-0.9zM380.8 89.1h0.9v0.9h-0.9zM389.5 87.5h0.9v0.9h-0.9zM382.3 86.2h0.9v0.9h-0.9zM377.6 84.2h0.9v0.9h-0.9zM384.2 82.4h0.9v0.9h-0.9zM381.3 90.7h0.9v0.9h-0.9zM386.3 73.4h0.9v0.9h-0.9zM382.2 84.3h0.9v0.9h-0.9zM384.8 82.0h0.9v0.9h-0.9zM382.1 87.7h0.9v0.9h-0.9zM376.4 88.8h0.9v0.9h-0.9zM376.9 85.0h0.9v0.9h-0.9zM370.8 88.4h0.9v0.9h-0.9zM379.8 83.3h0.9v0.9h-0.9zM380.8 90.4h0.9v0.9h-0.9zM385.0 81.1h0.9v0.9h-0.9zM383.6 84.8h0.9v0.9h-0.9zM376.7 86.2h0.9v0.9h-0.9zM391.8 86.2h0.9v0.9h-0.9zM391.7 87.5h0.9v0.9h-0.9zM381.6 86.7h0.9v0.9h-0.9zM377.5 89.9h0.9v0.9h-0.9zM381.7 89.1h0.9v0.9h-0.9zM386.8 88.1h0.9v0.9h-0.9zM379.5 90.0h0.9v0.9h-0.9zM383.8 85.6h0.9v0.9h-0.9zM385.5 87.8h0.9v0.9h-0.9zM379.9 91.7h0.9v0.9h-0.9zM385.3 90.4h0.9v0.9h-0.9zM378.5 87.2h0.9v0.9h-0.9zM380.9 83.9h0.9v0.9h-0.9zM384.3 91.8h0.9v0.9h-0.9zM386.7 88.7h0.9v0.9h-0.9zM384.9 84.0h0.9v0.9h-0.9zM383.2 81.7h0.9v0.9h-0.9zM383.5 86.7h0.9v0.9h-0.9zM385.2 88.6h0.9v0.9h-0.9zM381.3 85.5h0.9v0.9h-0.9zM390.0 86.8h0.9v0.9h-0.9zM375.2 81.9h0.9v0.9h-0.9zM371.7 87.7h0.9v0.9h-0.9zM377.7 89.7h0.9v0.9h-0.9zM383.9 90.7h0.9v0.9h-0.9zM376.1 90.7h0.9v0.9h-0.9zM376.7 87.3h0.9v0.9h-0.9zM377.4 88.8h0.9v0.9h-0.9zM380.1 89.0h0.9v0.9h-0.9zM373.8 91.0h0.9v0.9h-0.9zM379.0 87.7h0.9v0.9h-0.9zM376.6 89.3h0.9v0.9h-0.9zM378.8 82.1h0.9v0.9h-0.9zM377.8 87.3h0.9v0.9h-0.9zM379.0 84.2h0.9v0.9h-0.9zM384.4 88.3h0.9v0.9h-0.9zM381.1 89.6h0.9v0.9h-0.9zM374.9 88.5h0.9v0.9h-0.9zM379.8 92.0h0.9v0.9h-0.9zM384.2 87.3h0.9v0.9h-0.9zM374.2 88.3h0.9v0.9h-0.9zM385.0 86.3h0.9v0.9h-0.9zM382.2 91.2h0.9v0.9h-0.9zM379.2 89.5h0.9v0.9h-0.9zM372.6 87.1h0.9v0.9h-0.9zM380.8 88.3h0.9v0.9h-0.9zM390.6 81.2h0.9v0.9h-0.9zM382.3 91.0h0.9v0.9h-0.9zM380.1 89.4h0.9v0.9h-0.9zM382.4 90.9h0.9v0.9h-0.9zM380.2 84.2h0.9v0.9h-0.9zM383.1 88.5h0.9v0.9h-0.9zM386.5 85.4h0.9v0.9h-0.9zM386.8 86.1h0.9v0.9h-0.9zM382.4 85.5h0.9v0.9h-0.9zM388.3 84.6h0.9v0.9h-0.9zM381.3 83.9h0.9v0.9h-0.9zM380.1 90.3h0.9v0.9h-0.9zM379.2 91.0h0.9v0.9h-0.9zM376.0 80.5h0.9v0.9h-0.9zM374.6 81.0h0.9v0.9h-0.9zM376.5 85.5h0.9v0.9h-0.9zM378.9 83.2h0.9v0.9h-0.9zM379.9 83.3h0.9v0.9h-0.9zM387.6 90.6h0.9v0.9h-0.9zM383.3 91.5h0.9v0.9h-0.9zM373.3 82.8h0.9v0.9h-0.9zM381.5 83.0h0.9v0.9h-0.9zM387.4 91.2h0.9v0.9h-0.9zM387.3 85.4h0.9v0.9h-0.9zM379.4 91.4h0.9v0.9h-0.9zM377.8 84.0h0.9v0.9h-0.9zM384.2 84.4h0.9v0.9h-0.9zM377.7 90.1h0.9v0.9h-0.9zM388.2 84.4h0.9v0.9h-0.9zM387.6 91.5h0.9v0.9h-0.9zM380.1 90.4h0.9v0.9h-0.9zM380.6 91.6h0.9v0.9h-0.9zM372.0 88.6h0.9v0.9h-0.9zM383.4 84.2h0.9v0.9h-0.9zM380.8 88.9h0.9v0.9h-0.9zM377.5 90.4h0.9v0.9h-0.9zM382.1 91.8h0.9v0.9h-0.9zM382.5 91.2h0.9v0.9h-0.9zM379.9 87.9h0.9v0.9h-0.9zM377.7 90.0h0.9v0.9h-0.9zM382.0 90.2h0.9v0.9h-0.9zM372.9 86.1h0.9v0.9h-0.9zM385.8 81.7h0.9v0.9h-0.9zM385.5 86.3h0.9v0.9h-0.9zM374.9 86.3h0.9v0.9h-0.9zM382.4 91.8h0.9v0.9h-0.9zM382.4 87.6h0.9v0.9h-0.9zM389.5 89.3h0.9v0.9h-0.9zM385.9 82.5h0.9v0.9h-0.9zM382.0 90.6h0.9v0.9h-0.9zM382.2 89.0h0.9v0.9h-0.9zM379.3 84.5h0.9v0.9h-0.9zM380.5 89.3h0.9v0.9h-0.9zM380.4 81.8h0.9v0.9h-0.9zM378.1 87.1h0.9v0.9h-0.9zM382.7 89.5h0.9v0.9h-0.9zM381.6 91.5h0.9v0.9h-0.9zM381.2 87.2h0.9v0.9h-0.9zM381.2 86.4h0.9v0.9h-0.9zM381.0 89.0h0.9v0.9h-0.9zM385.1 89.6h0.9v0.9h-0.9zM384.2 83.0h0.9v0.9h-0.9zM383.7 87.2h0.9v0.9h-0.9zM387.0 80.1h0.9v0.9h-0.9zM386.6 87.7h0.9v0.9h-0.9zM381.7 90.0h0.9v0.9h-0.9zM383.3 87.7h0.9v0.9h-0.9zM379.3 88.3h0.9v0.9h-0.9zM380.3 88.0h0.9v0.9h-0.9zM381.1 87.2h0.9v0.9h-0.9zM381.9 84.5h0.9v0.9h-0.9zM374.8 89.9h0.9v0.9h-0.9zM384.0 90.5h0.9v0.9h-0.9zM385.9 90.4h0.9v0.9h-0.9zM380.9 89.4h0.9v0.9h-0.9zM379.6 86.8h0.9v0.9h-0.9zM372.3 91.4h0.9v0.9h-0.9zM381.3 87.3h0.9v0.9h-0.9zM383.4 87.1h0.9v0.9h-0.9zM377.3 89.5h0.9v0.9h-0.9zM385.2 90.3h0.9v0.9h-0.9zM376.5 77.0h0.9v0.9h-0.9zM381.6 91.5h0.9v0.9h-0.9zM373.5 85.3h0.9v0.9h-0.9zM384.6 78.9h0.9v0.9h-0.9zM378.5 88.7h0.9v0.9h-0.9zM385.7 88.1h0.9v0.9h-0.9zM375.8 83.5h0.9v0.9h-0.9zM375.6 80.9h0.9v0.9h-0.9zM378.0 90.6h0.9v0.9h-0.9zM377.6 89.0h0.9v0.9h-0.9zM375.1 91.7h0.9v0.9h-0.9zM376.5 90.5h0.9v0.9h-0.9zM380.3 89.0h0.9v0.9h-0.9zM384.2 91.5h0.9v0.9h-0.9zM379.4 88.3h0.9v0.9h-0.9zM378.5 84.4h0.9v0.9h-0.9zM377.7 88.0h0.9v0.9h-0.9zM384.3 84.7h0.9v0.9h-0.9zM380.9 83.2h0.9v0.9h-0.9zM380.8 77.8h0.9v0.9h-0.9zM381.6 88.3h0.9v0.9h-0.9zM401.6 84.3h0.9v0.9h-0.9zM388.5 87.0h0.9v0.9h-0.9zM397.2 80.8h0.9v0.9h-0.9zM383.5 90.4h0.9v0.9h-0.9zM383.4 86.8h0.9v0.9h-0.9zM380.8 83.4h0.9v0.9h-0.9zM371.5 79.9h0.9v0.9h-0.9zM375.4 80.1h0.9v0.9h-0.9zM379.8 89.6h0.9v0.9h-0.9zM393.8 80.6h0.9v0.9h-0.9zM369.1 79.7h0.9v0.9h-0.9zM386.8 82.0h0.9v0.9h-0.9zM381.3 87.9h0.9v0.9h-0.9zM388.1 87.8h0.9v0.9h-0.9zM381.7 84.9h0.9v0.9h-0.9zM391.2 82.5h0.9v0.9h-0.9zM393.0 83.3h0.9v0.9h-0.9zM385.4 79.2h0.9v0.9h-0.9zM386.2 76.0h0.9v0.9h-0.9zM377.5 84.9h0.9v0.9h-0.9zM391.1 90.4h0.9v0.9h-0.9zM385.6 81.8h0.9v0.9h-0.9zM383.6 86.6h0.9v0.9h-0.9zM376.2 87.4h0.9v0.9h-0.9zM380.7 83.8h0.9v0.9h-0.9zM378.2 80.0h0.9v0.9h-0.9zM389.9 83.9h0.9v0.9h-0.9zM382.7 83.1h0.9v0.9h-0.9zM381.7 86.3h0.9v0.9h-0.9zM388.1 81.1h0.9v0.9h-0.9zM382.5 86.0h0.9v0.9h-0.9zM394.3 90.9h0.9v0.9h-0.9zM395.6 86.1h0.9v0.9h-0.9zM390.5 85.6h0.9v0.9h-0.9zM398.8 84.6h0.9v0.9h-0.9z" fill="#000" fill-opacity="0.42"/>
<path d="M382.6 85.2h0.9v0.9h-0.9zM378.4 85.6h0.9v0.9h-0.9zM380.4 88.4h0.9v0.9h-0.9zM391.3 86.4h0.9v0.9h-0.9zM372.4 84.2h0.9v0.9h-0.9zM385.8 86.8h0.9v0.9h-0.9zM390.4 88.0h0.9v0.9h-0.9zM382.6 86.0h0.9v0.9h-0.9zM385.6 86.2h0.9v0.9h-0.9zM380.1 89.3h0.9v0.9h-0.9zM383.6 86.1h0.9v0.9h-0.9zM377.1 91.4h0.9v0.9h-0.9zM379.0 83.1h0.9v0.9h-0.9zM383.3 80.4h0.9v0.9h-0.9zM377.0 88.1h0.9v0.9h-0.9zM377.6 85.1h0.9v0.9h-0.9zM372.7 83.1h0.9v0.9h-0.9zM377.5 85.3h0.9v0.9h-0.9zM388.4 84.1h0.9v0.9h-0.9zM380.5 86.9h0.9v0.9h-0.9zM377.9 91.3h0.9v0.9h-0.9zM377.3 85.2h0.9v0.9h-0.9zM385.7 90.8h0.9v0.9h-0.9zM376.1 90.5h0.9v0.9h-0.9zM378.7 90.9h0.9v0.9h-0.9zM379.7 87.1h0.9v0.9h-0.9zM386.3 86.8h0.9v0.9h-0.9zM388.3 83.7h0.9v0.9h-0.9zM381.9 82.4h0.9v0.9h-0.9zM376.6 85.4h0.9v0.9h-0.9zM382.5 85.0h0.9v0.9h-0.9zM379.0 80.2h0.9v0.9h-0.9zM381.4 83.8h0.9v0.9h-0.9zM385.7 85.8h0.9v0.9h-0.9zM378.1 89.4h0.9v0.9h-0.9zM380.9 85.0h0.9v0.9h-0.9zM375.3 87.0h0.9v0.9h-0.9zM387.2 87.4h0.9v0.9h-0.9zM380.5 77.3h0.9v0.9h-0.9zM385.9 88.9h0.9v0.9h-0.9zM381.2 86.4h0.9v0.9h-0.9zM384.9 86.5h0.9v0.9h-0.9zM375.7 84.3h0.9v0.9h-0.9zM384.5 89.2h0.9v0.9h-0.9zM378.5 82.5h0.9v0.9h-0.9zM379.0 85.1h0.9v0.9h-0.9zM379.8 83.8h0.9v0.9h-0.9zM379.7 83.3h0.9v0.9h-0.9zM379.3 86.4h0.9v0.9h-0.9zM388.6 82.3h0.9v0.9h-0.9zM380.2 89.0h0.9v0.9h-0.9zM380.1 91.7h0.9v0.9h-0.9zM381.0 81.0h0.9v0.9h-0.9zM388.5 88.0h0.9v0.9h-0.9zM386.8 86.9h0.9v0.9h-0.9zM384.2 82.8h0.9v0.9h-0.9zM383.3 88.9h0.9v0.9h-0.9zM386.6 86.1h0.9v0.9h-0.9zM382.5 91.1h0.9v0.9h-0.9zM382.7 84.5h0.9v0.9h-0.9zM381.3 90.5h0.9v0.9h-0.9zM380.7 88.3h0.9v0.9h-0.9zM383.1 88.7h0.9v0.9h-0.9zM376.7 86.7h0.9v0.9h-0.9zM379.2 86.1h0.9v0.9h-0.9zM375.8 82.2h0.9v0.9h-0.9zM392.1 86.1h0.9v0.9h-0.9zM387.1 88.2h0.9v0.9h-0.9zM380.2 88.2h0.9v0.9h-0.9zM389.0 90.3h0.9v0.9h-0.9zM384.0 84.4h0.9v0.9h-0.9zM381.0 87.6h0.9v0.9h-0.9zM384.8 82.6h0.9v0.9h-0.9zM383.7 91.9h0.9v0.9h-0.9zM382.1 82.6h0.9v0.9h-0.9zM372.4 83.0h0.9v0.9h-0.9zM384.0 86.2h0.9v0.9h-0.9zM378.2 91.1h0.9v0.9h-0.9zM376.1 90.0h0.9v0.9h-0.9zM381.2 90.5h0.9v0.9h-0.9zM381.0 87.0h0.9v0.9h-0.9zM379.1 87.0h0.9v0.9h-0.9zM380.5 88.4h0.9v0.9h-0.9zM389.0 91.4h0.9v0.9h-0.9zM377.0 87.4h0.9v0.9h-0.9zM379.0 82.1h0.9v0.9h-0.9zM389.1 85.3h0.9v0.9h-0.9zM391.9 89.2h0.9v0.9h-0.9zM384.8 87.3h0.9v0.9h-0.9zM391.8 83.2h0.9v0.9h-0.9zM381.4 82.9h0.9v0.9h-0.9zM385.8 85.1h0.9v0.9h-0.9zM377.4 90.5h0.9v0.9h-0.9zM385.0 89.4h0.9v0.9h-0.9zM375.4 89.6h0.9v0.9h-0.9zM376.8 89.2h0.9v0.9h-0.9zM381.5 88.6h0.9v0.9h-0.9zM379.5 87.5h0.9v0.9h-0.9zM379.7 85.8h0.9v0.9h-0.9zM380.2 90.8h0.9v0.9h-0.9zM383.3 91.7h0.9v0.9h-0.9zM388.0 89.5h0.9v0.9h-0.9zM380.8 91.0h0.9v0.9h-0.9zM379.0 79.1h0.9v0.9h-0.9zM377.2 90.9h0.9v0.9h-0.9zM378.6 87.6h0.9v0.9h-0.9zM378.1 82.3h0.9v0.9h-0.9zM382.8 86.0h0.9v0.9h-0.9zM375.7 91.9h0.9v0.9h-0.9zM380.8 88.9h0.9v0.9h-0.9zM382.7 89.2h0.9v0.9h-0.9zM386.6 84.0h0.9v0.9h-0.9zM374.0 89.1h0.9v0.9h-0.9zM382.0 82.5h0.9v0.9h-0.9zM389.7 80.1h0.9v0.9h-0.9zM391.6 83.0h0.9v0.9h-0.9zM377.9 84.5h0.9v0.9h-0.9zM382.3 88.0h0.9v0.9h-0.9zM388.7 88.5h0.9v0.9h-0.9zM383.0 89.7h0.9v0.9h-0.9zM389.9 83.6h0.9v0.9h-0.9zM378.2 87.6h0.9v0.9h-0.9zM378.9 86.5h0.9v0.9h-0.9zM382.3 87.8h0.9v0.9h-0.9zM386.4 87.8h0.9v0.9h-0.9zM376.2 89.5h0.9v0.9h-0.9zM388.2 91.1h0.9v0.9h-0.9zM384.4 86.7h0.9v0.9h-0.9zM376.5 89.7h0.9v0.9h-0.9zM393.2 87.5h0.9v0.9h-0.9zM388.9 90.3h0.9v0.9h-0.9zM390.7 88.0h0.9v0.9h-0.9zM382.1 88.4h0.9v0.9h-0.9zM387.7 87.3h0.9v0.9h-0.9zM381.1 86.6h0.9v0.9h-0.9zM383.6 89.8h0.9v0.9h-0.9zM382.1 85.4h0.9v0.9h-0.9zM383.9 85.1h0.9v0.9h-0.9zM382.7 89.1h0.9v0.9h-0.9zM375.9 91.4h0.9v0.9h-0.9zM382.7 91.1h0.9v0.9h-0.9zM375.8 85.0h0.9v0.9h-0.9zM379.1 87.9h0.9v0.9h-0.9zM383.9 90.9h0.9v0.9h-0.9zM376.6 91.4h0.9v0.9h-0.9zM381.9 88.9h0.9v0.9h-0.9zM393.2 86.7h0.9v0.9h-0.9zM385.1 90.9h0.9v0.9h-0.9zM377.4 86.2h0.9v0.9h-0.9zM374.4 90.8h0.9v0.9h-0.9zM378.5 85.7h0.9v0.9h-0.9zM380.1 80.0h0.9v0.9h-0.9zM389.9 84.5h0.9v0.9h-0.9zM384.0 87.0h0.9v0.9h-0.9zM374.6 89.1h0.9v0.9h-0.9zM387.8 87.4h0.9v0.9h-0.9zM382.9 86.1h0.9v0.9h-0.9zM378.8 88.8h0.9v0.9h-0.9zM381.1 89.7h0.9v0.9h-0.9zM382.9 87.3h0.9v0.9h-0.9zM384.8 83.8h0.9v0.9h-0.9zM387.0 84.8h0.9v0.9h-0.9zM381.6 84.4h0.9v0.9h-0.9zM373.9 91.8h0.9v0.9h-0.9zM378.7 87.9h0.9v0.9h-0.9zM379.2 83.1h0.9v0.9h-0.9zM387.2 85.3h0.9v0.9h-0.9zM376.9 84.6h0.9v0.9h-0.9zM381.1 91.1h0.9v0.9h-0.9zM383.6 89.6h0.9v0.9h-0.9zM385.7 90.2h0.9v0.9h-0.9zM386.4 87.6h0.9v0.9h-0.9zM385.5 87.3h0.9v0.9h-0.9zM374.6 86.4h0.9v0.9h-0.9zM382.8 85.5h0.9v0.9h-0.9zM382.3 87.4h0.9v0.9h-0.9zM387.9 87.5h0.9v0.9h-0.9zM381.9 85.8h0.9v0.9h-0.9zM378.0 87.8h0.9v0.9h-0.9zM383.2 84.1h0.9v0.9h-0.9zM386.3 88.5h0.9v0.9h-0.9zM382.4 90.7h0.9v0.9h-0.9zM383.8 90.5h0.9v0.9h-0.9zM381.2 82.1h0.9v0.9h-0.9zM376.8 82.8h0.9v0.9h-0.9zM386.4 89.6h0.9v0.9h-0.9zM377.5 86.1h0.9v0.9h-0.9zM383.8 81.5h0.9v0.9h-0.9zM379.0 90.6h0.9v0.9h-0.9zM373.8 88.8h0.9v0.9h-0.9zM378.5 82.1h0.9v0.9h-0.9zM374.1 87.6h0.9v0.9h-0.9zM377.2 90.8h0.9v0.9h-0.9zM382.4 86.6h0.9v0.9h-0.9zM385.2 87.3h0.9v0.9h-0.9zM378.6 85.2h0.9v0.9h-0.9zM379.1 91.8h0.9v0.9h-0.9zM377.0 81.7h0.9v0.9h-0.9zM384.3 87.2h0.9v0.9h-0.9zM378.4 88.0h0.9v0.9h-0.9zM383.4 86.7h0.9v0.9h-0.9zM381.1 86.4h0.9v0.9h-0.9zM376.9 85.0h0.9v0.9h-0.9zM384.4 90.6h0.9v0.9h-0.9zM376.1 84.3h0.9v0.9h-0.9zM384.9 84.6h0.9v0.9h-0.9zM378.1 86.3h0.9v0.9h-0.9zM382.4 85.7h0.9v0.9h-0.9zM393.9 84.5h0.9v0.9h-0.9zM375.2 90.8h0.9v0.9h-0.9zM388.1 87.2h0.9v0.9h-0.9zM380.0 88.2h0.9v0.9h-0.9zM381.1 89.2h0.9v0.9h-0.9zM388.1 84.2h0.9v0.9h-0.9zM374.3 90.0h0.9v0.9h-0.9zM387.9 80.1h0.9v0.9h-0.9zM372.9 88.0h0.9v0.9h-0.9zM381.6 88.3h0.9v0.9h-0.9zM381.0 88.3h0.9v0.9h-0.9zM386.5 82.4h0.9v0.9h-0.9zM379.4 88.3h0.9v0.9h-0.9zM381.5 84.2h0.9v0.9h-0.9zM375.1 82.9h0.9v0.9h-0.9zM379.8 86.8h0.9v0.9h-0.9zM383.1 86.1h0.9v0.9h-0.9zM386.6 86.9h0.9v0.9h-0.9zM384.9 79.1h0.9v0.9h-0.9zM387.0 90.2h0.9v0.9h-0.9zM380.7 87.4h0.9v0.9h-0.9zM386.4 83.4h0.9v0.9h-0.9zM377.5 85.0h0.9v0.9h-0.9zM380.7 82.9h0.9v0.9h-0.9zM381.1 86.6h0.9v0.9h-0.9zM378.0 86.2h0.9v0.9h-0.9zM376.1 91.2h0.9v0.9h-0.9zM381.6 91.4h0.9v0.9h-0.9zM384.1 89.8h0.9v0.9h-0.9zM382.5 85.5h0.9v0.9h-0.9zM373.2 90.9h0.9v0.9h-0.9zM385.6 91.7h0.9v0.9h-0.9zM379.7 87.9h0.9v0.9h-0.9zM378.9 90.6h0.9v0.9h-0.9zM382.4 89.3h0.9v0.9h-0.9zM381.9 84.6h0.9v0.9h-0.9zM376.1 90.8h0.9v0.9h-0.9zM381.8 88.0h0.9v0.9h-0.9zM382.3 87.0h0.9v0.9h-0.9zM387.9 87.6h0.9v0.9h-0.9zM380.9 84.3h0.9v0.9h-0.9zM388.4 89.0h0.9v0.9h-0.9zM378.9 88.5h0.9v0.9h-0.9zM383.8 90.8h0.9v0.9h-0.9zM385.7 90.5h0.9v0.9h-0.9zM384.9 85.1h0.9v0.9h-0.9zM380.9 85.2h0.9v0.9h-0.9zM381.9 85.1h0.9v0.9h-0.9zM376.2 85.0h0.9v0.9h-0.9zM381.6 87.6h0.9v0.9h-0.9zM380.3 91.4h0.9v0.9h-0.9zM389.0 81.5h0.9v0.9h-0.9zM370.4 84.5h0.9v0.9h-0.9zM393.5 83.6h0.9v0.9h-0.9zM378.9 81.2h0.9v0.9h-0.9zM401.1 79.9h0.9v0.9h-0.9zM381.8 84.4h0.9v0.9h-0.9zM376.3 88.1h0.9v0.9h-0.9zM380.5 86.3h0.9v0.9h-0.9zM401.2 91.0h0.9v0.9h-0.9zM379.3 81.8h0.9v0.9h-0.9zM369.6 89.2h0.9v0.9h-0.9zM384.7 87.3h0.9v0.9h-0.9zM376.4 83.6h0.9v0.9h-0.9zM389.2 88.2h0.9v0.9h-0.9zM377.8 91.6h0.9v0.9h-0.9zM392.2 90.2h0.9v0.9h-0.9zM400.2 85.6h0.9v0.9h-0.9zM388.0 86.5h0.9v0.9h-0.9zM384.4 81.1h0.9v0.9h-0.9zM375.6 85.5h0.9v0.9h-0.9zM384.3 91.9h0.9v0.9h-0.9zM374.9 82.2h0.9v0.9h-0.9zM384.4 85.0h0.9v0.9h-0.9zM371.8 84.4h0.9v0.9h-0.9zM401.1 86.7h0.9v0.9h-0.9zM377.0 81.3h0.9v0.9h-0.9zM391.7 91.4h0.9v0.9h-0.9zM385.7 85.0h0.9v0.9h-0.9zM391.6 87.5h0.9v0.9h-0.9zM390.2 90.4h0.9v0.9h-0.9zM391.5 87.1h0.9v0.9h-0.9zM390.8 83.2h0.9v0.9h-0.9zM396.8 87.7h0.9v0.9h-0.9z" fill="#000" fill-opacity="0.42"/>
<path d="M380.8 82.9h0.9v0.9h-0.9zM380.9 91.9h0.9v0.9h-0.9zM383.2 89.9h0.9v0.9h-0.9zM383.7 85.5h0.9v0.9h-0.9zM380.6 88.1h0.9v0.9h-0.9zM381.9 88.0h0.9v0.9h-0.9zM374.4 87.2h0.9v0.9h-0.9zM385.9 82.8h0.9v0.9h-0.9zM378.8 90.1h0.9v0.9h-0.9zM384.2 84.3h0.9v0.9h-0.9zM381.3 84.6h0.9v0.9h-0.9zM384.6 82.9h0.9v0.9h-0.9zM375.5 91.3h0.9v0.9h-0.9zM379.2 88.5h0.9v0.9h-0.9zM377.0 88.7h0.9v0.9h-0.9zM378.5 86.8h0.9v0.9h-0.9zM377.6 90.0h0.9v0.9h-0.9zM380.8 90.9h0.9v0.9h-0.9zM379.7 84.9h0.9v0.9h-0.9zM377.9 88.3h0.9v0.9h-0.9zM379.8 86.2h0.9v0.9h-0.9zM376.4 87.4h0.9v0.9h-0.9zM380.1 85.7h0.9v0.9h-0.9zM386.5 90.6h0.9v0.9h-0.9zM376.6 89.3h0.9v0.9h-0.9zM379.4 89.4h0.9v0.9h-0.9zM382.6 87.4h0.9v0.9h-0.9zM384.0 86.6h0.9v0.9h-0.9zM381.0 91.2h0.9v0.9h-0.9zM381.2 89.2h0.9v0.9h-0.9zM386.6 85.1h0.9v0.9h-0.9zM382.3 88.8h0.9v0.9h-0.9zM387.1 83.7h0.9v0.9h-0.9zM383.1 85.6h0.9v0.9h-0.9zM378.3 89.6h0.9v0.9h-0.9zM382.6 87.9h0.9v0.9h-0.9zM383.4 85.8h0.9v0.9h-0.9zM374.0 87.1h0.9v0.9h-0.9zM381.6 86.5h0.9v0.9h-0.9zM391.0 89.1h0.9v0.9h-0.9zM379.4 89.8h0.9v0.9h-0.9zM380.3 87.5h0.9v0.9h-0.9zM381.2 84.3h0.9v0.9h-0.9zM386.1 89.0h0.9v0.9h-0.9zM384.9 88.4h0.9v0.9h-0.9zM383.4 88.5h0.9v0.9h-0.9zM382.1 83.7h0.9v0.9h-0.9zM380.9 90.9h0.9v0.9h-0.9zM386.1 90.4h0.9v0.9h-0.9zM389.8 86.1h0.9v0.9h-0.9zM382.7 81.4h0.9v0.9h-0.9zM371.4 90.8h0.9v0.9h-0.9zM372.0 86.2h0.9v0.9h-0.9zM379.9 87.7h0.9v0.9h-0.9zM387.1 86.1h0.9v0.9h-0.9zM389.5 90.5h0.9v0.9h-0.9zM383.4 90.4h0.9v0.9h-0.9zM376.3 88.4h0.9v0.9h-0.9zM384.1 84.8h0.9v0.9h-0.9zM375.3 86.1h0.9v0.9h-0.9zM379.6 86.8h0.9v0.9h-0.9zM386.9 88.7h0.9v0.9h-0.9zM385.6 81.4h0.9v0.9h-0.9zM381.9 83.1h0.9v0.9h-0.9zM394.9 88.2h0.9v0.9h-0.9zM381.2 91.0h0.9v0.9h-0.9zM380.2 87.2h0.9v0.9h-0.9zM380.4 85.5h0.9v0.9h-0.9zM380.0 87.9h0.9v0.9h-0.9zM380.5 91.7h0.9v0.9h-0.9zM382.2 91.1h0.9v0.9h-0.9zM384.6 86.4h0.9v0.9h-0.9zM381.1 89.0h0.9v0.9h-0.9zM379.5 91.2h0.9v0.9h-0.9zM383.5 89.5h0.9v0.9h-0.9zM384.1 89.3h0.9v0.9h-0.9zM385.1 86.4h0.9v0.9h-0.9zM388.6 90.4h0.9v0.9h-0.9zM386.0 81.8h0.9v0.9h-0.9zM377.0 90.2h0.9v0.9h-0.9zM380.6 91.7h0.9v0.9h-0.9zM377.6 85.4h0.9v0.9h-0.9zM379.8 89.9h0.9v0.9h-0.9zM381.2 78.9h0.9v0.9h-0.9zM388.5 83.7h0.9v0.9h-0.9zM382.7 85.7h0.9v0.9h-0.9zM382.5 88.8h0.9v0.9h-0.9zM372.2 81.0h0.9v0.9h-0.9zM384.5 87.3h0.9v0.9h-0.9zM383.7 88.8h0.9v0.9h-0.9zM385.8 90.7h0.9v0.9h-0.9zM385.3 86.4h0.9v0.9h-0.9zM377.9 88.0h0.9v0.9h-0.9zM388.0 88.6h0.9v0.9h-0.9zM386.6 90.8h0.9v0.9h-0.9zM378.3 86.2h0.9v0.9h-0.9zM382.8 89.7h0.9v0.9h-0.9zM383.7 91.3h0.9v0.9h-0.9zM390.7 87.5h0.9v0.9h-0.9zM380.8 86.4h0.9v0.9h-0.9zM386.9 86.7h0.9v0.9h-0.9zM384.7 90.1h0.9v0.9h-0.9zM380.4 88.5h0.9v0.9h-0.9zM375.2 86.1h0.9v0.9h-0.9zM389.5 82.6h0.9v0.9h-0.9zM380.8 91.7h0.9v0.9h-0.9zM377.1 83.3h0.9v0.9h-0.9zM388.4 84.5h0.9v0.9h-0.9zM387.7 88.3h0.9v0.9h-0.9zM375.2 87.0h0.9v0.9h-0.9zM387.8 90.4h0.9v0.9h-0.9zM384.1 88.6h0.9v0.9h-0.9zM389.3 87.8h0.9v0.9h-0.9zM391.4 87.0h0.9v0.9h-0.9zM378.2 91.2h0.9v0.9h-0.9zM388.9 89.8h0.9v0.9h-0.9zM384.4 81.0h0.9v0.9h-0.9zM376.4 82.9h0.9v0.9h-0.9zM387.3 89.7h0.9v0.9h-0.9zM380.0 89.5h0.9v0.9h-0.9zM375.8 89.7h0.9v0.9h-0.9zM383.6 88.7h0.9v0.9h-0.9zM387.5 86.6h0.9v0.9h-0.9zM377.8 83.1h0.9v0.9h-0.9zM381.9 82.6h0.9v0.9h-0.9zM378.6 86.2h0.9v0.9h-0.9zM382.2 85.7h0.9v0.9h-0.9zM383.3 88.7h0.9v0.9h-0.9zM379.9 87.6h0.9v0.9h-0.9zM377.8 91.6h0.9v0.9h-0.9zM383.4 81.3h0.9v0.9h-0.9zM376.7 87.8h0.9v0.9h-0.9zM372.3 82.9h0.9v0.9h-0.9zM379.6 88.6h0.9v0.9h-0.9zM384.1 84.9h0.9v0.9h-0.9zM385.5 84.0h0.9v0.9h-0.9zM375.4 91.0h0.9v0.9h-0.9zM382.0 83.5h0.9v0.9h-0.9zM377.7 87.6h0.9v0.9h-0.9zM383.0 88.1h0.9v0.9h-0.9zM379.0 84.1h0.9v0.9h-0.9zM383.5 84.6h0.9v0.9h-0.9zM380.6 89.7h0.9v0.9h-0.9zM381.8 85.9h0.9v0.9h-0.9zM388.8 89.3h0.9v0.9h-0.9zM384.4 91.0h0.9v0.9h-0.9zM376.9 89.3h0.9v0.9h-0.9zM379.8 86.1h0.9v0.9h-0.9zM375.9 89.4h0.9v0.9h-0.9zM381.1 90.2h0.9v0.9h-0.9zM379.1 91.0h0.9v0.9h-0.9zM381.0 91.1h0.9v0.9h-0.9zM380.1 91.9h0.9v0.9h-0.9zM378.6 79.2h0.9v0.9h-0.9zM380.8 81.8h0.9v0.9h-0.9zM383.5 80.4h0.9v0.9h-0.9zM379.5 86.5h0.9v0.9h-0.9zM381.3 90.9h0.9v0.9h-0.9zM381.3 86.4h0.9v0.9h-0.9zM382.1 81.3h0.9v0.9h-0.9zM385.8 89.7h0.9v0.9h-0.9zM386.8 86.1h0.9v0.9h-0.9zM379.9 89.2h0.9v0.9h-0.9zM390.3 84.4h0.9v0.9h-0.9zM381.9 88.9h0.9v0.9h-0.9zM376.1 89.1h0.9v0.9h-0.9zM388.7 85.5h0.9v0.9h-0.9zM373.6 86.1h0.9v0.9h-0.9zM386.0 91.7h0.9v0.9h-0.9zM384.2 88.8h0.9v0.9h-0.9zM379.8 81.3h0.9v0.9h-0.9zM378.1 84.5h0.9v0.9h-0.9zM387.7 85.7h0.9v0.9h-0.9zM378.8 89.3h0.9v0.9h-0.9zM381.6 91.8h0.9v0.9h-0.9zM380.5 80.7h0.9v0.9h-0.9zM379.2 88.7h0.9v0.9h-0.9zM379.4 89.2h0.9v0.9h-0.9zM377.4 83.2h0.9v0.9h-0.9zM376.2 81.7h0.9v0.9h-0.9zM386.0 88.4h0.9v0.9h-0.9zM375.2 90.7h0.9v0.9h-0.9zM381.3 88.8h0.9v0.9h-0.9zM393.0 88.1h0.9v0.9h-0.9zM385.1 91.3h0.9v0.9h-0.9zM389.2 88.7h0.9v0.9h-0.9zM381.2 88.3h0.9v0.9h-0.9zM376.4 83.3h0.9v0.9h-0.9zM380.7 90.4h0.9v0.9h-0.9zM379.5 87.5h0.9v0.9h-0.9zM383.8 89.2h0.9v0.9h-0.9zM378.3 88.9h0.9v0.9h-0.9zM383.6 85.1h0.9v0.9h-0.9zM387.8 91.0h0.9v0.9h-0.9zM380.9 89.8h0.9v0.9h-0.9zM378.3 89.4h0.9v0.9h-0.9zM391.5 89.9h0.9v0.9h-0.9zM384.2 90.9h0.9v0.9h-0.9zM373.0 85.8h0.9v0.9h-0.9zM380.9 83.3h0.9v0.9h-0.9zM385.3 91.6h0.9v0.9h-0.9zM375.1 88.3h0.9v0.9h-0.9zM378.9 84.7h0.9v0.9h-0.9zM382.8 83.8h0.9v0.9h-0.9zM387.0 83.1h0.9v0.9h-0.9zM378.7 89.2h0.9v0.9h-0.9zM385.6 82.5h0.9v0.9h-0.9zM387.3 88.8h0.9v0.9h-0.9zM380.1 83.0h0.9v0.9h-0.9zM383.0 86.1h0.9v0.9h-0.9zM384.7 85.6h0.9v0.9h-0.9zM378.9 88.6h0.9v0.9h-0.9zM379.3 88.0h0.9v0.9h-0.9zM381.5 88.0h0.9v0.9h-0.9zM379.5 90.8h0.9v0.9h-0.9zM377.0 85.7h0.9v0.9h-0.9zM370.5 82.0h0.9v0.9h-0.9zM386.3 81.2h0.9v0.9h-0.9zM384.2 87.8h0.9v0.9h-0.9zM374.6 83.9h0.9v0.9h-0.9zM371.6 86.3h0.9v0.9h-0.9zM385.5 91.8h0.9v0.9h-0.9zM376.5 80.2h0.9v0.9h-0.9zM380.6 88.9h0.9v0.9h-0.9zM386.7 90.1h0.9v0.9h-0.9zM389.8 88.1h0.9v0.9h-0.9zM377.2 80.8h0.9v0.9h-0.9zM376.2 80.6h0.9v0.9h-0.9zM381.9 84.9h0.9v0.9h-0.9zM381.9 87.1h0.9v0.9h-0.9zM389.2 86.6h0.9v0.9h-0.9zM380.7 83.9h0.9v0.9h-0.9zM388.4 88.5h0.9v0.9h-0.9zM386.4 85.7h0.9v0.9h-0.9zM380.1 88.2h0.9v0.9h-0.9zM386.3 81.4h0.9v0.9h-0.9zM379.9 88.5h0.9v0.9h-0.9zM386.5 90.0h0.9v0.9h-0.9zM385.3 84.8h0.9v0.9h-0.9zM384.6 87.6h0.9v0.9h-0.9zM371.3 91.1h0.9v0.9h-0.9zM381.7 85.3h0.9v0.9h-0.9zM371.2 91.5h0.9v0.9h-0.9zM382.1 88.1h0.9v0.9h-0.9zM382.5 84.6h0.9v0.9h-0.9zM374.6 90.4h0.9v0.9h-0.9zM381.0 87.7h0.9v0.9h-0.9zM372.3 86.7h0.9v0.9h-0.9zM384.0 86.9h0.9v0.9h-0.9zM383.5 88.1h0.9v0.9h-0.9zM389.5 87.7h0.9v0.9h-0.9zM377.2 91.7h0.9v0.9h-0.9zM383.0 89.4h0.9v0.9h-0.9zM385.1 86.4h0.9v0.9h-0.9zM384.2 86.8h0.9v0.9h-0.9zM384.9 89.8h0.9v0.9h-0.9zM390.4 81.9h0.9v0.9h-0.9zM384.7 88.9h0.9v0.9h-0.9zM389.7 86.1h0.9v0.9h-0.9zM399.4 91.2h0.9v0.9h-0.9zM382.0 85.9h0.9v0.9h-0.9zM381.1 79.3h0.9v0.9h-0.9zM385.6 84.7h0.9v0.9h-0.9zM380.8 88.8h0.9v0.9h-0.9zM387.1 89.2h0.9v0.9h-0.9zM372.2 85.1h0.9v0.9h-0.9zM414.6 88.3h0.9v0.9h-0.9zM387.5 84.7h0.9v0.9h-0.9zM392.7 84.3h0.9v0.9h-0.9zM396.0 91.7h0.9v0.9h-0.9zM382.8 88.6h0.9v0.9h-0.9zM381.4 82.7h0.9v0.9h-0.9zM386.6 90.6h0.9v0.9h-0.9zM387.7 86.0h0.9v0.9h-0.9zM381.8 90.1h0.9v0.9h-0.9zM385.9 85.1h0.9v0.9h-0.9zM372.2 87.1h0.9v0.9h-0.9zM385.1 87.8h0.9v0.9h-0.9zM385.5 89.8h0.9v0.9h-0.9zM383.5 82.1h0.9v0.9h-0.9zM374.4 89.3h0.9v0.9h-0.9zM385.3 90.3h0.9v0.9h-0.9zM395.0 83.9h0.9v0.9h-0.9zM374.4 77.4h0.9v0.9h-0.9zM393.0 86.3h0.9v0.9h-0.9zM389.3 82.9h0.9v0.9h-0.9zM410.3 84.6h0.9v0.9h-0.9zM400.7 74.5h0.9v0.9h-0.9zM392.5 88.8h0.9v0.9h-0.9zM399.5 88.8h0.9v0.9h-0.9zM388.3 88.8h0.9v0.9h-0.9zM394.7 90.9h0.9v0.9h-0.9z" fill="#000" fill-opacity="0.42"/>
<path d="M380.9 87.7h0.9v0.9h-0.9zM383.4 89.6h0.9v0.9h-0.9zM381.9 90.2h0.9v0.9h-0.9zM380.4 78.7h0.9v0.9h-0.9zM373.1 91.3h0.9v0.9h-0.9zM379.9 91.7h0.9v0.9h-0.9zM383.7 83.9h0.9v0.9h-0.9zM382.8 90.6h0.9v0.9h-0.9zM383.7 85.5h0.9v0.9h-0.9zM381.9 87.4h0.9v0.9h-0.9zM382.2 82.4h0.9v0.9h-0.9zM382.3 90.6h0.9v0.9h-0.9zM382.0 85.7h0.9v0.9h-0.9zM380.2 89.8h0.9v0.9h-0.9zM378.9 83.4h0.9v0.9h-0.9zM385.1 84.5h0.9v0.9h-0.9zM381.5 83.2h0.9v0.9h-0.9zM373.7 91.3h0.9v0.9h-0.9zM381.3 84.1h0.9v0.9h-0.9zM379.9 86.5h0.9v0.9h-0.9zM381.7 79.0h0.9v0.9h-0.9zM375.8 83.6h0.9v0.9h-0.9zM385.0 87.6h0.9v0.9h-0.9zM373.7 91.5h0.9v0.9h-0.9zM376.4 86.0h0.9v0.9h-0.9zM374.6 86.7h0.9v0.9h-0.9zM384.2 84.3h0.9v0.9h-0.9zM381.7 87.3h0.9v0.9h-0.9zM376.9 90.8h0.9v0.9h-0.9zM384.1 90.4h0.9v0.9h-0.9zM379.4 83.4h0.9v0.9h-0.9zM374.2 83.3h0.9v0.9h-0.9zM377.8 88.3h0.9v0.9h-0.9zM385.7 85.1h0.9v0.9h-0.9zM385.2 90.4h0.9v0.9h-0.9zM390.0 91.5h0.9v0.9h-0.9zM376.3 86.2h0.9v0.9h-0.9zM377.3 85.4h0.9v0.9h-0.9zM382.2 86.2h0.9v0.9h-0.9zM386.8 84.2h0.9v0.9h-0.9zM379.1 85.3h0.9v0.9h-0.9zM393.2 84.9h0.9v0.9h-0.9zM377.9 87.4h0.9v0.9h-0.9zM393.8 91.7h0.9v0.9h-0.9zM382.0 84.7h0.9v0.9h-0.9zM385.6 83.1h0.9v0.9h-0.9zM381.6 86.0h0.9v0.9h-0.9zM388.5 88.3h0.9v0.9h-0.9zM376.8 87.0h0.9v0.9h-0.9zM380.6 86.6h0.9v0.9h-0.9zM383.9 87.5h0.9v0.9h-0.9zM381.1 84.1h0.9v0.9h-0.9zM370.9 90.5h0.9v0.9h-0.9zM379.8 91.9h0.9v0.9h-0.9zM389.3 86.6h0.9v0.9h-0.9zM386.6 90.0h0.9v0.9h-0.9zM380.8 90.8h0.9v0.9h-0.9zM377.0 83.5h0.9v0.9h-0.9zM388.7 89.4h0.9v0.9h-0.9zM380.9 85.7h0.9v0.9h-0.9zM382.6 90.6h0.9v0.9h-0.9zM379.0 87.3h0.9v0.9h-0.9zM382.3 86.7h0.9v0.9h-0.9zM378.9 89.3h0.9v0.9h-0.9zM377.2 83.2h0.9v0.9h-0.9zM379.2 89.7h0.9v0.9h-0.9zM378.0 88.0h0.9v0.9h-0.9zM388.1 86.1h0.9v0.9h-0.9zM379.9 91.9h0.9v0.9h-0.9zM388.2 79.5h0.9v0.9h-0.9zM377.1 76.9h0.9v0.9h-0.9zM375.6 86.9h0.9v0.9h-0.9zM383.1 88.5h0.9v0.9h-0.9zM393.7 77.4h0.9v0.9h-0.9zM385.3 78.6h0.9v0.9h-0.9zM380.9 86.8h0.9v0.9h-0.9zM381.6 85.8h0.9v0.9h-0.9zM383.3 85.0h0.9v0.9h-0.9zM376.7 89.7h0.9v0.9h-0.9zM389.2 89.1h0.9v0.9h-0.9zM376.9 89.0h0.9v0.9h-0.9zM384.6 89.4h0.9v0.9h-0.9zM376.1 89.2h0.9v0.9h-0.9zM379.7 83.5h0.9v0.9h-0.9zM378.1 90.9h0.9v0.9h-0.9zM391.9 83.6h0.9v0.9h-0.9zM386.7 88.4h0.9v0.9h-0.9zM379.9 84.8h0.9v0.9h-0.9zM383.3 89.2h0.9v0.9h-0.9zM381.4 90.7h0.9v0.9h-0.9zM384.4 88.1h0.9v0.9h-0.9zM380.9 87.8h0.9v0.9h-0.9zM375.9 86.8h0.9v0.9h-0.9zM386.6 84.3h0.9v0.9h-0.9zM383.1 87.6h0.9v0.9h-0.9zM383.2 83.5h0.9v0.9h-0.9zM379.7 88.4h0.9v0.9h-0.9zM379.8 76.9h0.9v0.9h-0.9zM393.0 88.7h0.9v0.9h-0.9zM377.7 85.7h0.9v0.9h-0.9zM375.4 78.6h0.9v0.9h-0.9zM387.1 89.6h0.9v0.9h-0.9zM385.1 88.7h0.9v0.9h-0.9zM379.9 87.9h0.9v0.9h-0.9zM382.1 84.0h0.9v0.9h-0.9zM382.5 88.4h0.9v0.9h-0.9zM380.6 87.9h0.9v0.9h-0.9zM389.6 84.0h0.9v0.9h-0.9zM379.6 91.1h0.9v0.9h-0.9zM390.5 81.2h0.9v0.9h-0.9zM375.4 88.8h0.9v0.9h-0.9zM376.8 85.9h0.9v0.9h-0.9zM382.2 85.0h0.9v0.9h-0.9zM382.2 86.6h0.9v0.9h-0.9zM377.1 83.6h0.9v0.9h-0.9zM385.4 91.7h0.9v0.9h-0.9zM381.7 84.3h0.9v0.9h-0.9zM388.0 83.8h0.9v0.9h-0.9zM382.5 91.8h0.9v0.9h-0.9zM384.6 87.2h0.9v0.9h-0.9zM381.6 85.3h0.9v0.9h-0.9zM382.7 84.1h0.9v0.9h-0.9zM382.9 84.7h0.9v0.9h-0.9zM378.8 82.3h0.9v0.9h-0.9zM386.9 89.7h0.9v0.9h-0.9zM380.4 87.6h0.9v0.9h-0.9zM379.7 89.1h0.9v0.9h-0.9zM381.6 85.8h0.9v0.9h-0.9zM390.7 88.7h0.9v0.9h-0.9zM381.7 91.6h0.9v0.9h-0.9zM379.7 87.6h0.9v0.9h-0.9zM385.2 90.4h0.9v0.9h-0.9zM376.1 86.3h0.9v0.9h-0.9zM380.7 87.5h0.9v0.9h-0.9zM378.5 91.3h0.9v0.9h-0.9zM383.4 80.5h0.9v0.9h-0.9zM384.1 86.5h0.9v0.9h-0.9zM383.7 81.3h0.9v0.9h-0.9zM390.9 90.6h0.9v0.9h-0.9zM376.1 86.2h0.9v0.9h-0.9zM384.8 86.5h0.9v0.9h-0.9zM381.1 91.7h0.9v0.9h-0.9zM386.4 88.4h0.9v0.9h-0.9zM389.9 88.1h0.9v0.9h-0.9zM382.2 87.5h0.9v0.9h-0.9zM388.7 86.8h0.9v0.9h-0.9zM373.6 85.9h0.9v0.9h-0.9zM385.8 87.7h0.9v0.9h-0.9zM381.6 86.2h0.9v0.9h-0.9zM383.6 91.5h0.9v0.9h-0.9zM385.6 91.2h0.9v0.9h-0.9zM382.2 85.0h0.9v0.9h-0.9zM379.3 91.8h0.9v0.9h-0.9zM382.2 84.7h0.9v0.9h-0.9zM381.7 85.6h0.9v0.9h-0.9zM387.9 87.8h0.9v0.9h-0.9zM382.1 88.2h0.9v0.9h-0.9zM382.0 90.4h0.9v0.9h-0.9zM379.2 88.9h0.9v0.9h-0.9zM383.8 84.7h0.9v0.9h-0.9zM376.1 91.0h0.9v0.9h-0.9zM376.9 87.2h0.9v0.9h-0.9zM379.2 84.7h0.9v0.9h-0.9zM389.4 89.7h0.9v0.9h-0.9zM377.0 84.6h0.9v0.9h-0.9zM381.9 90.0h0.9v0.9h-0.9zM377.8 91.5h0.9v0.9h-0.9zM388.5 85.9h0.9v0.9h-0.9zM374.2 91.5h0.9v0.9h-0.9zM390.0 85.7h0.9v0.9h-0.9zM379.0 86.1h0.9v0.9h-0.9zM385.6 90.5h0.9v0.9h-0.9zM386.7 82.3h0.9v0.9h-0.9zM388.8 86.4h0.9v0.9h-0.9zM381.0 86.5h0.9v0.9h-0.9zM379.3 85.5h0.9v0.9h-0.9zM376.9 88.8h0.9v0.9h-0.9zM383.4 91.9h0.9v0.9h-0.9zM387.1 83.2h0.9v0.9h-0.9zM374.6 91.9h0.9v0.9h-0.9zM380.7 87.9h0.9v0.9h-0.9zM376.5 89.7h0.9v0.9h-0.9zM390.1 91.9h0.9v0.9h-0.9zM373.8 82.7h0.9v0.9h-0.9zM378.8 91.5h0.9v0.9h-0.9zM388.3 86.1h0.9v0.9h-0.9zM388.0 81.2h0.9v0.9h-0.9zM375.8 91.0h0.9v0.9h-0.9zM382.4 84.2h0.9v0.9h-0.9zM379.9 89.9h0.9v0.9h-0.9zM384.3 87.2h0.9v0.9h-0.9zM381.4 90.6h0.9v0.9h-0.9zM377.4 85.4h0.9v0.9h-0.9zM379.1 90.4h0.9v0.9h-0.9zM375.9 88.9h0.9v0.9h-0.9zM382.7 90.1h0.9v0.9h-0.9zM377.5 90.9h0.9v0.9h-0.9zM378.3 90.6h0.9v0.9h-0.9zM384.6 85.6h0.9v0.9h-0.9zM381.1 90.7h0.9v0.9h-0.9zM379.3 91.8h0.9v0.9h-0.9zM389.6 89.6h0.9v0.9h-0.9zM376.8 89.9h0.9v0.9h-0.9zM378.6 72.9h0.9v0.9h-0.9zM383.0 91.1h0.9v0.9h-0.9zM387.4 85.5h0.9v0.9h-0.9zM378.7 83.7h0.9v0.9h-0.9zM383.3 88.0h0.9v0.9h-0.9zM381.9 86.3h0.9v0.9h-0.9zM379.5 83.4h0.9v0.9h-0.9zM382.5 80.2h0.9v0.9h-0.9zM387.7 88.0h0.9v0.9h-0.9zM382.1 85.6h0.9v0.9h-0.9zM380.7 91.3h0.9v0.9h-0.9zM378.7 88.3h0.9v0.9h-0.9zM378.0 86.4h0.9v0.9h-0.9zM384.3 76.6h0.9v0.9h-0.9zM385.6 81.7h0.9v0.9h-0.9zM382.4 86.8h0.9v0.9h-0.9zM382.0 79.0h0.9v0.9h-0.9zM383.5 84.3h0.9v0.9h-0.9zM384.1 85.4h0.9v0.9h-0.9zM383.5 86.7h0.9v0.9h-0.9zM387.5 87.7h0.9v0.9h-0.9zM381.8 89.6h0.9v0.9h-0.9zM380.9 90.0h0.9v0.9h-0.9zM379.9 87.6h0.9v0.9h-0.9zM384.1 89.7h0.9v0.9h-0.9zM383.2 83.0h0.9v0.9h-0.9zM377.0 88.9h0.9v0.9h-0.9zM374.0 89.9h0.9v0.9h-0.9zM384.8 89.3h0.9v0.9h-0.9zM380.8 85.4h0.9v0.9h-0.9zM378.1 81.1h0.9v0.9h-0.9zM378.1 90.6h0.9v0.9h-0.9zM375.3 87.9h0.9v0.9h-0.9zM377.5 84.3h0.9v0.9h-0.9zM375.5 88.1h0.9v0.9h-0.9zM376.4 87.6h0.9v0.9h-0.9zM378.9 86.2h0.9v0.9h-0.9zM385.7 90.6h0.9v0.9h-0.9zM384.5 88.2h0.9v0.9h-0.9zM387.8 86.2h0.9v0.9h-0.9zM380.8 90.8h0.9v0.9h-0.9zM379.7 89.3h0.9v0.9h-0.9zM390.5 90.7h0.9v0.9h-0.9zM377.6 85.5h0.9v0.9h-0.9zM379.5 83.1h0.9v0.9h-0.9zM384.0 85.5h0.9v0.9h-0.9zM383.7 83.5h0.9v0.9h-0.9zM379.9 92.0h0.9v0.9h-0.9zM384.2 87.6h0.9v0.9h-0.9zM387.5 81.4h0.9v0.9h-0.9zM380.1 83.9h0.9v0.9h-0.9zM383.1 88.4h0.9v0.9h-0.9zM382.4 91.0h0.9v0.9h-0.9zM373.3 91.4h0.9v0.9h-0.9zM388.0 90.6h0.9v0.9h-0.9zM391.7 87.6h0.9v0.9h-0.9zM387.0 89.1h0.9v0.9h-0.9zM382.8 88.4h0.9v0.9h-0.9zM388.3 84.6h0.9v0.9h-0.9zM386.0 90.7h0.9v0.9h-0.9zM379.8 89.4h0.9v0.9h-0.9zM389.4 88.4h0.9v0.9h-0.9zM390.5 90.2h0.9v0.9h-0.9zM391.6 86.2h0.9v0.9h-0.9zM392.5 76.0h0.9v0.9h-0.9zM395.9 80.3h0.9v0.9h-0.9zM371.2 83.5h0.9v0.9h-0.9zM386.9 86.3h0.9v0.9h-0.9zM379.7 82.7h0.9v0.9h-0.9zM380.1 89.7h0.9v0.9h-0.9zM377.0 77.5h0.9v0.9h-0.9zM399.0 79.2h0.9v0.9h-0.9zM378.9 86.6h0.9v0.9h-0.9zM392.3 85.6h0.9v0.9h-0.9zM386.9 76.7h0.9v0.9h-0.9zM394.4 85.1h0.9v0.9h-0.9zM387.8 84.6h0.9v0.9h-0.9zM391.9 82.1h0.9v0.9h-0.9zM392.4 89.8h0.9v0.9h-0.9zM383.9 88.1h0.9v0.9h-0.9zM377.6 79.6h0.9v0.9h-0.9zM391.9 90.7h0.9v0.9h-0.9zM385.6 78.9h0.9v0.9h-0.9zM393.4 81.7h0.9v0.9h-0.9zM382.9 86.6h0.9v0.9h-0.9zM390.7 90.5h0.9v0.9h-0.9zM398.9 87.1h0.9v0.9h-0.9zM391.3 89.4h0.9v0.9h-0.9zM398.8 91.3h0.9v0.9h-0.9z" fill="#000" fill-opacity="0.42"/>
<path d="M453.4 51.3h0.9v0.9h-0.9zM457.2 52.4h0.9v0.9h-0.9zM458.3 55.4h0.9v0.9h-0.9zM462.7 47.1h0.9v0.9h-0.9zM460.7 49.2h0.9v0.9h-0.9zM464.8 55.1h0.9v0.9h-0.9zM453.2 44.9h0.9v0.9h-0.9zM464.2 52.5h0.9v0.9h-0.9zM454.4 49.8h0.9v0.9h-0.9zM466.0 56.5h0.9v0.9h-0.9zM456.6 47.9h0.9v0.9h-0.9zM456.9 46.3h0.9v0.9h-0.9zM469.4 49.4h0.9v0.9h-0.9zM466.6 53.3h0.9v0.9h-0.9zM461.2 52.1h0.9v0.9h-0.9zM454.2 53.1h0.9v0.9h-0.9zM465.2 51.9h0.9v0.9h-0.9z" fill="#000" fill-opacity="0.4"/>
<path d="M462.9 53.2h0.9v0.9h-0.9zM462.0 53.9h0.9v0.9h-0.9zM458.0 56.6h0.9v0.9h-0.9zM467.1 55.3h0.9v0.9h-0.9zM457.0 50.7h0.9v0.9h-0.9zM462.7 47.5h0.9v0.9h-0.9zM461.1 56.4h0.9v0.9h-0.9zM457.8 54.7h0.9v0.9h-0.9zM464.2 50.2h0.9v0.9h-0.9zM461.3 48.9h0.9v0.9h-0.9zM460.7 48.2h0.9v0.9h-0.9zM461.1 53.6h0.9v0.9h-0.9zM470.2 48.2h0.9v0.9h-0.9zM461.8 48.9h0.9v0.9h-0.9zM458.7 53.9h0.9v0.9h-0.9zM464.6 52.0h0.9v0.9h-0.9zM461.4 53.2h0.9v0.9h-0.9z" fill="#000" fill-opacity="0.4"/>
<path d="M459.9 49.1h0.9v0.9h-0.9zM460.4 56.0h0.9v0.9h-0.9zM464.2 47.2h0.9v0.9h-0.9zM461.1 52.5h0.9v0.9h-0.9zM464.3 52.4h0.9v0.9h-0.9zM457.4 49.6h0.9v0.9h-0.9zM468.5 51.8h0.9v0.9h-0.9zM460.7 53.5h0.9v0.9h-0.9zM460.8 54.5h0.9v0.9h-0.9zM464.2 48.5h0.9v0.9h-0.9zM458.0 55.0h0.9v0.9h-0.9zM459.0 47.3h0.9v0.9h-0.9zM465.4 46.3h0.9v0.9h-0.9zM466.5 56.5h0.9v0.9h-0.9zM460.0 53.4h0.9v0.9h-0.9zM466.6 48.3h0.9v0.9h-0.9z" fill="#000" fill-opacity="0.4"/>
<path d="M470.6 40.6h0.9v0.9h-0.9zM466.9 53.7h0.9v0.9h-0.9zM467.2 48.7h0.9v0.9h-0.9zM458.0 53.7h0.9v0.9h-0.9zM465.5 57.7h0.9v0.9h-0.9zM453.8 59.1h0.9v0.9h-0.9zM462.3 52.0h0.9v0.9h-0.9zM451.0 44.8h0.9v0.9h-0.9zM465.0 51.6h0.9v0.9h-0.9zM468.6 59.8h0.9v0.9h-0.9zM463.9 54.3h0.9v0.9h-0.9zM462.9 56.9h0.9v0.9h-0.9zM462.7 45.7h0.9v0.9h-0.9zM458.7 46.2h0.9v0.9h-0.9zM462.4 62.3h0.9v0.9h-0.9zM464.8 46.2h0.9v0.9h-0.9zM457.5 58.8h0.9v0.9h-0.9zM463.4 54.1h0.9v0.9h-0.9zM457.8 55.1h0.9v0.9h-0.9zM456.2 50.6h0.9v0.9h-0.9zM464.4 67.4h0.9v0.9h-0.9zM459.0 53.0h0.9v0.9h-0.9zM455.0 58.5h0.9v0.9h-0.9zM470.9 41.1h0.9v0.9h-0.9zM463.1 47.9h0.9v0.9h-0.9zM461.8 57.9h0.9v0.9h-0.9zM450.8 60.3h0.9v0.9h-0.9zM466.0 39.8h0.9v0.9h-0.9zM458.2 57.1h0.9v0.9h-0.9zM462.5 62.0h0.9v0.9h-0.9zM477.7 68.5h0.9v0.9h-0.9zM467.1 48.6h0.9v0.9h-0.9zM461.8 53.1h0.9v0.9h-0.9zM460.6 48.0h0.9v0.9h-0.9zM465.4 53.1h0.9v0.9h-0.9zM460.6 57.8h0.9v0.9h-0.9zM462.7 61.0h0.9v0.9h-0.9zM470.6 57.3h0.9v0.9h-0.9zM466.3 51.4h0.9v0.9h-0.9zM474.2 48.5h0.9v0.9h-0.9zM458.5 60.8h0.9v0.9h-0.9zM462.8 43.6h0.9v0.9h-0.9zM463.5 41.6h0.9v0.9h-0.9zM458.8 59.9h0.9v0.9h-0.9zM471.0 51.1h0.9v0.9h-0.9zM449.8 52.0h0.9v0.9h-0.9zM472.2 41.1h0.9v0.9h-0.9zM468.7 59.8h0.9v0.9h-0.9zM464.8 66.8h0.9v0.9h-0.9zM465.6 59.1h0.9v0.9h-0.9zM463.9 54.5h0.9v0.9h-0.9zM457.8 61.8h0.9v0.9h-0.9zM465.3 47.1h0.9v0.9h-0.9zM457.6 56.6h0.9v0.9h-0.9zM471.8 51.7h0.9v0.9h-0.9zM460.0 42.4h0.9v0.9h-0.9zM473.3 60.0h0.9v0.9h-0.9zM459.4 58.2h0.9v0.9h-0.9zM455.9 53.8h0.9v0.9h-0.9zM463.4 57.4h0.9v0.9h-0.9zM462.8 53.6h0.9v0.9h-0.9zM463.4 46.7h0.9v0.9h-0.9zM451.7 45.6h0.9v0.9h-0.9zM459.0 56.9h0.9v0.9h-0.9zM460.8 51.7h0.9v0.9h-0.9z" fill="#000" fill-opacity="0.3"/>
<path d="M462.1 53.0h0.9v0.9h-0.9zM458.8 55.6h0.9v0.9h-0.9zM463.0 52.8h0.9v0.9h-0.9zM474.6 50.2h0.9v0.9h-0.9zM469.6 51.3h0.9v0.9h-0.9zM468.2 58.3h0.9v0.9h-0.9zM458.5 60.2h0.9v0.9h-0.9zM458.4 52.2h0.9v0.9h-0.9zM462.1 49.6h0.9v0.9h-0.9zM450.8 61.6h0.9v0.9h-0.9zM467.2 57.0h0.9v0.9h-0.9zM450.2 56.7h0.9v0.9h-0.9zM458.1 57.8h0.9v0.9h-0.9zM460.1 49.4h0.9v0.9h-0.9zM474.9 53.5h0.9v0.9h-0.9zM466.1 57.3h0.9v0.9h-0.9zM457.7 54.6h0.9v0.9h-0.9zM463.7 56.9h0.9v0.9h-0.9zM466.2 60.9h0.9v0.9h-0.9zM458.8 44.1h0.9v0.9h-0.9zM457.8 51.3h0.9v0.9h-0.9zM456.2 67.6h0.9v0.9h-0.9zM467.9 54.6h0.9v0.9h-0.9zM464.1 52.5h0.9v0.9h-0.9zM455.1 47.8h0.9v0.9h-0.9zM474.1 51.7h0.9v0.9h-0.9zM459.0 46.1h0.9v0.9h-0.9zM453.3 67.1h0.9v0.9h-0.9zM469.9 44.5h0.9v0.9h-0.9zM467.1 63.8h0.9v0.9h-0.9zM466.1 49.0h0.9v0.9h-0.9zM449.9 42.8h0.9v0.9h-0.9zM457.9 61.6h0.9v0.9h-0.9zM461.4 53.2h0.9v0.9h-0.9zM467.4 50.3h0.9v0.9h-0.9zM456.5 55.1h0.9v0.9h-0.9zM459.3 54.0h0.9v0.9h-0.9zM452.4 51.3h0.9v0.9h-0.9zM463.9 60.0h0.9v0.9h-0.9zM451.2 48.0h0.9v0.9h-0.9zM463.1 62.8h0.9v0.9h-0.9zM464.0 48.7h0.9v0.9h-0.9zM466.5 45.9h0.9v0.9h-0.9zM460.0 46.9h0.9v0.9h-0.9zM467.8 52.8h0.9v0.9h-0.9zM463.9 52.4h0.9v0.9h-0.9zM456.8 58.2h0.9v0.9h-0.9zM455.3 56.0h0.9v0.9h-0.9zM475.4 57.1h0.9v0.9h-0.9zM460.8 55.6h0.9v0.9h-0.9zM465.8 53.6h0.9v0.9h-0.9zM467.5 48.1h0.9v0.9h-0.9zM463.6 48.3h0.9v0.9h-0.9zM455.6 59.1h0.9v0.9h-0.9zM456.6 56.4h0.9v0.9h-0.9zM475.4 49.9h0.9v0.9h-0.9zM465.8 56.5h0.9v0.9h-0.9zM457.6 56.4h0.9v0.9h-0.9zM463.8 54.1h0.9v0.9h-0.9zM472.6 49.7h0.9v0.9h-0.9zM466.1 65.2h0.9v0.9h-0.9zM466.2 48.4h0.9v0.9h-0.9zM461.5 43.4h0.9v0.9h-0.9zM474.3 52.3h0.9v0.9h-0.9zM451.7 52.3h0.9v0.9h-0.9z" fill="#000" fill-opacity="0.3"/>
<path d="M454.7 85.6h0.9v0.9h-0.9zM462.1 85.8h0.9v0.9h-0.9zM461.6 88.3h0.9v0.9h-0.9zM463.1 89.7h0.9v0.9h-0.9zM455.1 86.8h0.9v0.9h-0.9zM454.4 89.1h0.9v0.9h-0.9zM458.4 85.8h0.9v0.9h-0.9zM457.1 89.2h0.9v0.9h-0.9zM459.5 88.1h0.9v0.9h-0.9zM459.2 88.6h0.9v0.9h-0.9zM464.9 90.5h0.9v0.9h-0.9zM456.9 84.9h0.9v0.9h-0.9zM458.6 88.7h0.9v0.9h-0.9zM457.3 83.1h0.9v0.9h-0.9zM459.2 91.7h0.9v0.9h-0.9zM454.6 86.2h0.9v0.9h-0.9zM457.3 89.9h0.9v0.9h-0.9zM454.1 87.7h0.9v0.9h-0.9zM456.1 84.2h0.9v0.9h-0.9zM456.6 90.2h0.9v0.9h-0.9zM459.7 87.5h0.9v0.9h-0.9zM459.4 86.6h0.9v0.9h-0.9zM457.0 91.0h0.9v0.9h-0.9zM460.7 87.4h0.9v0.9h-0.9zM456.2 90.0h0.9v0.9h-0.9zM457.6 88.3h0.9v0.9h-0.9zM455.4 91.1h0.9v0.9h-0.9zM466.2 89.4h0.9v0.9h-0.9zM463.4 88.6h0.9v0.9h-0.9zM454.9 85.2h0.9v0.9h-0.9zM458.3 88.0h0.9v0.9h-0.9zM459.6 88.7h0.9v0.9h-0.9zM464.7 83.2h0.9v0.9h-0.9zM456.1 83.9h0.9v0.9h-0.9zM460.3 91.6h0.9v0.9h-0.9zM460.8 88.9h0.9v0.9h-0.9zM461.0 88.4h0.9v0.9h-0.9zM461.8 87.2h0.9v0.9h-0.9zM458.8 84.7h0.9v0.9h-0.9zM457.2 88.3h0.9v0.9h-0.9zM460.5 88.2h0.9v0.9h-0.9zM454.0 89.3h0.9v0.9h-0.9zM462.2 88.5h0.9v0.9h-0.9zM458.5 91.0h0.9v0.9h-0.9zM464.6 87.6h0.9v0.9h-0.9zM454.1 86.8h0.9v0.9h-0.9zM458.8 85.1h0.9v0.9h-0.9zM456.1 85.3h0.9v0.9h-0.9zM461.8 84.2h0.9v0.9h-0.9zM463.7 86.7h0.9v0.9h-0.9zM455.5 87.6h0.9v0.9h-0.9zM463.3 82.8h0.9v0.9h-0.9zM457.6 85.6h0.9v0.9h-0.9zM455.2 80.1h0.9v0.9h-0.9zM458.9 90.9h0.9v0.9h-0.9zM460.1 87.0h0.9v0.9h-0.9zM461.7 84.5h0.9v0.9h-0.9zM455.1 87.3h0.9v0.9h-0.9zM457.9 91.9h0.9v0.9h-0.9zM452.9 91.7h0.9v0.9h-0.9zM456.0 87.2h0.9v0.9h-0.9zM463.5 86.9h0.9v0.9h-0.9zM466.6 90.4h0.9v0.9h-0.9zM461.2 85.1h0.9v0.9h-0.9zM461.1 89.5h0.9v0.9h-0.9zM455.5 81.9h0.9v0.9h-0.9zM453.0 87.0h0.9v0.9h-0.9zM449.8 84.7h0.9v0.9h-0.9zM459.8 90.9h0.9v0.9h-0.9zM462.7 85.8h0.9v0.9h-0.9zM463.4 87.1h0.9v0.9h-0.9zM462.3 84.8h0.9v0.9h-0.9zM456.4 87.4h0.9v0.9h-0.9zM457.7 90.7h0.9v0.9h-0.9zM458.3 90.6h0.9v0.9h-0.9zM460.6 86.4h0.9v0.9h-0.9zM461.1 87.4h0.9v0.9h-0.9zM456.1 87.3h0.9v0.9h-0.9zM463.5 80.1h0.9v0.9h-0.9zM452.2 82.6h0.9v0.9h-0.9zM451.2 89.5h0.9v0.9h-0.9zM461.5 87.3h0.9v0.9h-0.9zM455.3 84.9h0.9v0.9h-0.9zM456.1 91.7h0.9v0.9h-0.9zM462.3 80.2h0.9v0.9h-0.9zM462.8 86.6h0.9v0.9h-0.9zM461.4 83.1h0.9v0.9h-0.9zM458.6 86.3h0.9v0.9h-0.9zM456.3 89.7h0.9v0.9h-0.9zM461.5 88.8h0.9v0.9h-0.9zM462.0 86.3h0.9v0.9h-0.9zM453.7 83.6h0.9v0.9h-0.9zM460.7 86.7h0.9v0.9h-0.9zM457.2 85.1h0.9v0.9h-0.9zM457.4 88.1h0.9v0.9h-0.9zM452.6 87.0h0.9v0.9h-0.9zM453.8 82.2h0.9v0.9h-0.9zM454.9 78.8h0.9v0.9h-0.9zM460.7 86.9h0.9v0.9h-0.9zM461.4 87.6h0.9v0.9h-0.9zM456.9 90.5h0.9v0.9h-0.9zM462.0 85.9h0.9v0.9h-0.9zM456.5 85.2h0.9v0.9h-0.9zM462.5 87.5h0.9v0.9h-0.9zM460.3 89.3h0.9v0.9h-0.9zM468.7 84.9h0.9v0.9h-0.9zM457.4 89.2h0.9v0.9h-0.9zM464.9 87.4h0.9v0.9h-0.9zM454.4 83.5h0.9v0.9h-0.9zM457.6 88.3h0.9v0.9h-0.9zM459.6 84.4h0.9v0.9h-0.9zM455.5 90.8h0.9v0.9h-0.9zM457.1 84.2h0.9v0.9h-0.9zM459.9 87.3h0.9v0.9h-0.9zM457.1 89.8h0.9v0.9h-0.9zM450.7 83.2h0.9v0.9h-0.9zM464.7 91.3h0.9v0.9h-0.9zM463.7 85.4h0.9v0.9h-0.9zM463.4 85.2h0.9v0.9h-0.9zM456.1 83.5h0.9v0.9h-0.9zM456.3 87.1h0.9v0.9h-0.9zM459.3 88.4h0.9v0.9h-0.9zM453.7 91.0h0.9v0.9h-0.9zM452.8 88.0h0.9v0.9h-0.9zM456.6 88.4h0.9v0.9h-0.9zM457.5 89.6h0.9v0.9h-0.9zM460.7 91.9h0.9v0.9h-0.9zM458.6 87.8h0.9v0.9h-0.9zM457.7 86.6h0.9v0.9h-0.9zM456.7 91.6h0.9v0.9h-0.9zM458.0 88.3h0.9v0.9h-0.9zM455.7 90.6h0.9v0.9h-0.9zM459.5 83.1h0.9v0.9h-0.9zM455.3 88.4h0.9v0.9h-0.9zM458.9 87.1h0.9v0.9h-0.9zM460.6 89.1h0.9v0.9h-0.9zM459.2 87.8h0.9v0.9h-0.9zM466.0 87.4h0.9v0.9h-0.9zM459.2 90.3h0.9v0.9h-0.9zM454.7 87.3h0.9v0.9h-0.9zM466.4 91.7h0.9v0.9h-0.9zM460.4 84.3h0.9v0.9h-0.9zM462.7 87.0h0.9v0.9h-0.9zM459.4 86.3h0.9v0.9h-0.9zM453.7 85.4h0.9v0.9h-0.9zM450.1 88.8h0.9v0.9h-0.9zM458.6 91.5h0.9v0.9h-0.9zM451.9 82.0h0.9v0.9h-0.9zM451.5 85.9h0.9v0.9h-0.9zM459.2 88.3h0.9v0.9h-0.9zM461.4 91.4h0.9v0.9h-0.9zM463.7 83.4h0.9v0.9h-0.9zM458.9 89.6h0.9v0.9h-0.9zM457.0 83.0h0.9v0.9h-0.9zM456.4 86.3h0.9v0.9h-0.9zM457.7 89.4h0.9v0.9h-0.9zM461.9 91.9h0.9v0.9h-0.9zM458.9 90.5h0.9v0.9h-0.9zM455.9 90.6h0.9v0.9h-0.9zM460.7 85.6h0.9v0.9h-0.9zM460.0 89.6h0.9v0.9h-0.9zM459.7 89.7h0.9v0.9h-0.9zM460.7 81.1h0.9v0.9h-0.9zM460.2 82.4h0.9v0.9h-0.9zM455.8 91.3h0.9v0.9h-0.9zM457.5 87.6h0.9v0.9h-0.9zM459.1 89.7h0.9v0.9h-0.9zM461.0 83.8h0.9v0.9h-0.9zM457.1 82.6h0.9v0.9h-0.9zM462.3 76.1h0.9v0.9h-0.9zM456.5 91.3h0.9v0.9h-0.9zM462.5 89.7h0.9v0.9h-0.9zM454.5 84.1h0.9v0.9h-0.9zM458.8 84.0h0.9v0.9h-0.9zM458.1 85.2h0.9v0.9h-0.9zM460.0 88.6h0.9v0.9h-0.9zM459.4 84.2h0.9v0.9h-0.9zM458.0 88.0h0.9v0.9h-0.9zM463.6 88.5h0.9v0.9h-0.9zM455.8 84.9h0.9v0.9h-0.9zM458.3 84.0h0.9v0.9h-0.9zM459.3 84.3h0.9v0.9h-0.9zM452.1 89.3h0.9v0.9h-0.9zM458.2 91.8h0.9v0.9h-0.9zM459.2 91.6h0.9v0.9h-0.9zM465.8 82.8h0.9v0.9h-0.9zM459.6 86.3h0.9v0.9h-0.9zM460.7 88.7h0.9v0.9h-0.9zM454.6 90.7h0.9v0.9h-0.9zM464.1 89.4h0.9v0.9h-0.9zM462.0 86.1h0.9v0.9h-0.9zM458.1 91.1h0.9v0.9h-0.9zM461.9 89.2h0.9v0.9h-0.9zM455.4 83.6h0.9v0.9h-0.9zM453.2 86.0h0.9v0.9h-0.9zM456.3 84.4h0.9v0.9h-0.9zM458.2 84.7h0.9v0.9h-0.9zM460.7 89.8h0.9v0.9h-0.9zM461.8 87.9h0.9v0.9h-0.9zM456.6 85.3h0.9v0.9h-0.9zM461.4 89.8h0.9v0.9h-0.9zM456.4 88.9h0.9v0.9h-0.9zM463.8 91.0h0.9v0.9h-0.9zM458.5 86.7h0.9v0.9h-0.9zM459.8 76.7h0.9v0.9h-0.9zM459.0 91.3h0.9v0.9h-0.9zM463.4 86.0h0.9v0.9h-0.9zM459.4 86.0h0.9v0.9h-0.9zM455.6 82.7h0.9v0.9h-0.9zM459.1 86.1h0.9v0.9h-0.9zM459.6 89.1h0.9v0.9h-0.9zM455.6 90.5h0.9v0.9h-0.9zM455.8 85.4h0.9v0.9h-0.9zM464.3 90.0h0.9v0.9h-0.9zM455.0 84.9h0.9v0.9h-0.9zM457.4 88.2h0.9v0.9h-0.9zM458.7 91.6h0.9v0.9h-0.9zM452.7 83.5h0.9v0.9h-0.9zM457.2 82.8h0.9v0.9h-0.9zM465.2 83.8h0.9v0.9h-0.9zM456.9 89.9h0.9v0.9h-0.9zM451.6 88.8h0.9v0.9h-0.9zM462.9 89.3h0.9v0.9h-0.9zM458.3 85.5h0.9v0.9h-0.9zM457.4 89.9h0.9v0.9h-0.9zM463.7 90.8h0.9v0.9h-0.9zM452.2 89.6h0.9v0.9h-0.9zM469.1 86.9h0.9v0.9h-0.9zM460.9 77.4h0.9v0.9h-0.9zM458.6 86.1h0.9v0.9h-0.9zM461.5 83.6h0.9v0.9h-0.9zM456.9 77.6h0.9v0.9h-0.9zM456.5 79.0h0.9v0.9h-0.9zM472.8 88.0h0.9v0.9h-0.9zM464.8 84.8h0.9v0.9h-0.9zM460.1 89.5h0.9v0.9h-0.9zM456.9 78.1h0.9v0.9h-0.9zM469.2 90.3h0.9v0.9h-0.9zM468.7 82.7h0.9v0.9h-0.9zM456.8 79.1h0.9v0.9h-0.9zM458.9 88.2h0.9v0.9h-0.9zM469.5 90.1h0.9v0.9h-0.9zM462.5 79.6h0.9v0.9h-0.9zM457.2 87.7h0.9v0.9h-0.9zM467.4 81.7h0.9v0.9h-0.9zM475.2 84.4h0.9v0.9h-0.9zM461.2 74.2h0.9v0.9h-0.9zM460.5 90.9h0.9v0.9h-0.9zM468.1 88.5h0.9v0.9h-0.9zM462.3 91.7h0.9v0.9h-0.9zM485.7 85.7h0.9v0.9h-0.9zM477.5 81.8h0.9v0.9h-0.9zM459.2 90.8h0.9v0.9h-0.9zM469.1 86.8h0.9v0.9h-0.9zM473.3 89.1h0.9v0.9h-0.9z" fill="#000" fill-opacity="0.42"/>
<path d="M455.9 85.0h0.9v0.9h-0.9zM452.5 80.8h0.9v0.9h-0.9zM456.3 91.0h0.9v0.9h-0.9zM460.8 84.9h0.9v0.9h-0.9zM450.8 84.3h0.9v0.9h-0.9zM458.4 81.7h0.9v0.9h-0.9zM456.3 85.7h0.9v0.9h-0.9zM458.9 89.5h0.9v0.9h-0.9zM456.4 91.9h0.9v0.9h-0.9zM455.0 89.9h0.9v0.9h-0.9zM458.8 88.3h0.9v0.9h-0.9zM464.7 83.3h0.9v0.9h-0.9zM461.4 88.2h0.9v0.9h-0.9zM460.2 85.0h0.9v0.9h-0.9zM460.2 82.9h0.9v0.9h-0.9zM459.5 89.2h0.9v0.9h-0.9zM452.3 84.9h0.9v0.9h-0.9zM461.9 84.7h0.9v0.9h-0.9zM461.1 88.8h0.9v0.9h-0.9zM458.6 85.6h0.9v0.9h-0.9zM458.1 91.9h0.9v0.9h-0.9zM460.0 91.0h0.9v0.9h-0.9zM459.6 86.0h0.9v0.9h-0.9zM459.7 86.7h0.9v0.9h-0.9zM456.9 82.8h0.9v0.9h-0.9zM455.3 90.1h0.9v0.9h-0.9zM461.6 83.1h0.9v0.9h-0.9zM457.3 88.2h0.9v0.9h-0.9zM459.4 87.3h0.9v0.9h-0.9zM454.2 88.4h0.9v0.9h-0.9zM451.5 81.9h0.9v0.9h-0.9zM458.8 88.2h0.9v0.9h-0.9zM464.6 84.6h0.9v0.9h-0.9zM462.0 89.5h0.9v0.9h-0.9zM454.6 91.0h0.9v0.9h-0.9zM455.3 89.8h0.9v0.9h-0.9zM453.3 89.5h0.9v0.9h-0.9zM462.6 90.8h0.9v0.9h-0.9zM458.2 86.3h0.9v0.9h-0.9zM463.4 86.3h0.9v0.9h-0.9zM463.4 86.8h0.9v0.9h-0.9zM460.2 87.8h0.9v0.9h-0.9zM457.5 90.0h0.9v0.9h-0.9zM452.9 89.3h0.9v0.9h-0.9zM455.2 88.0h0.9v0.9h-0.9zM453.4 91.2h0.9v0.9h-0.9zM455.6 88.2h0.9v0.9h-0.9zM463.7 87.1h0.9v0.9h-0.9zM458.5 87.5h0.9v0.9h-0.9zM454.1 83.9h0.9v0.9h-0.9zM455.0 83.3h0.9v0.9h-0.9zM460.1 84.2h0.9v0.9h-0.9zM459.9 87.8h0.9v0.9h-0.9zM461.0 84.6h0.9v0.9h-0.9zM463.5 81.1h0.9v0.9h-0.9zM464.6 91.5h0.9v0.9h-0.9zM460.0 83.6h0.9v0.9h-0.9zM458.8 90.6h0.9v0.9h-0.9zM457.3 89.7h0.9v0.9h-0.9zM462.7 89.3h0.9v0.9h-0.9zM457.1 90.9h0.9v0.9h-0.9zM461.9 90.3h0.9v0.9h-0.9zM461.3 85.9h0.9v0.9h-0.9zM455.3 86.8h0.9v0.9h-0.9zM456.3 90.3h0.9v0.9h-0.9zM455.1 86.2h0.9v0.9h-0.9zM459.2 86.4h0.9v0.9h-0.9zM457.2 91.9h0.9v0.9h-0.9zM461.1 87.8h0.9v0.9h-0.9zM456.6 88.2h0.9v0.9h-0.9zM456.5 84.3h0.9v0.9h-0.9zM457.4 88.8h0.9v0.9h-0.9zM458.9 88.3h0.9v0.9h-0.9zM460.3 90.6h0.9v0.9h-0.9zM453.6 87.9h0.9v0.9h-0.9zM457.1 86.3h0.9v0.9h-0.9zM460.5 87.9h0.9v0.9h-0.9zM459.0 85.0h0.9v0.9h-0.9zM457.7 82.9h0.9v0.9h-0.9zM466.7 87.8h0.9v0.9h-0.9zM458.1 87.6h0.9v0.9h-0.9zM455.1 87.7h0.9v0.9h-0.9zM456.9 92.0h0.9v0.9h-0.9zM457.4 88.6h0.9v0.9h-0.9zM454.9 90.9h0.9v0.9h-0.9zM456.2 87.3h0.9v0.9h-0.9zM460.5 87.3h0.9v0.9h-0.9zM456.7 86.0h0.9v0.9h-0.9zM456.6 88.8h0.9v0.9h-0.9zM453.6 86.3h0.9v0.9h-0.9zM456.8 84.2h0.9v0.9h-0.9zM456.9 86.7h0.9v0.9h-0.9zM459.2 89.0h0.9v0.9h-0.9zM455.4 88.8h0.9v0.9h-0.9zM458.0 86.9h0.9v0.9h-0.9zM452.2 89.7h0.9v0.9h-0.9zM455.6 83.5h0.9v0.9h-0.9zM455.3 90.8h0.9v0.9h-0.9zM455.6 83.0h0.9v0.9h-0.9zM463.9 89.6h0.9v0.9h-0.9zM464.7 81.9h0.9v0.9h-0.9zM457.1 91.5h0.9v0.9h-0.9zM454.1 88.3h0.9v0.9h-0.9zM454.9 84.8h0.9v0.9h-0.9zM462.5 91.4h0.9v0.9h-0.9zM461.5 80.6h0.9v0.9h-0.9zM459.4 90.1h0.9v0.9h-0.9zM456.4 89.2h0.9v0.9h-0.9zM459.2 88.3h0.9v0.9h-0.9zM460.1 85.7h0.9v0.9h-0.9zM467.6 85.9h0.9v0.9h-0.9zM457.9 83.4h0.9v0.9h-0.9zM460.0 88.6h0.9v0.9h-0.9zM453.3 90.1h0.9v0.9h-0.9zM457.4 90.2h0.9v0.9h-0.9zM454.5 91.2h0.9v0.9h-0.9zM456.0 89.3h0.9v0.9h-0.9zM461.5 91.8h0.9v0.9h-0.9zM453.1 90.8h0.9v0.9h-0.9zM450.9 77.5h0.9v0.9h-0.9zM460.7 91.5h0.9v0.9h-0.9zM457.7 88.1h0.9v0.9h-0.9zM456.1 86.9h0.9v0.9h-0.9zM464.3 85.9h0.9v0.9h-0.9zM455.7 91.7h0.9v0.9h-0.9zM456.3 87.7h0.9v0.9h-0.9zM461.7 89.1h0.9v0.9h-0.9zM461.0 90.0h0.9v0.9h-0.9zM453.4 85.2h0.9v0.9h-0.9zM457.6 89.7h0.9v0.9h-0.9zM464.0 90.2h0.9v0.9h-0.9zM457.1 86.4h0.9v0.9h-0.9zM457.2 86.6h0.9v0.9h-0.9zM464.8 85.3h0.9v0.9h-0.9zM459.0 84.9h0.9v0.9h-0.9zM453.4 85.8h0.9v0.9h-0.9zM458.1 90.6h0.9v0.9h-0.9zM450.5 81.3h0.9v0.9h-0.9zM456.3 90.5h0.9v0.9h-0.9zM462.6 83.8h0.9v0.9h-0.9zM457.0 86.7h0.9v0.9h-0.9zM457.3 86.0h0.9v0.9h-0.9zM458.6 86.6h0.9v0.9h-0.9zM459.8 83.8h0.9v0.9h-0.9zM456.7 90.1h0.9v0.9h-0.9zM460.2 84.7h0.9v0.9h-0.9zM459.8 81.7h0.9v0.9h-0.9zM463.1 90.3h0.9v0.9h-0.9zM454.3 89.1h0.9v0.9h-0.9zM458.7 89.2h0.9v0.9h-0.9zM457.5 87.4h0.9v0.9h-0.9zM456.3 88.5h0.9v0.9h-0.9zM455.3 88.8h0.9v0.9h-0.9zM463.8 89.8h0.9v0.9h-0.9zM457.5 88.5h0.9v0.9h-0.9zM458.6 89.2h0.9v0.9h-0.9zM460.5 84.0h0.9v0.9h-0.9zM467.1 85.7h0.9v0.9h-0.9zM454.5 91.0h0.9v0.9h-0.9zM464.3 85.1h0.9v0.9h-0.9zM456.1 90.0h0.9v0.9h-0.9zM459.0 86.6h0.9v0.9h-0.9zM455.5 89.6h0.9v0.9h-0.9zM456.5 90.2h0.9v0.9h-0.9zM457.6 85.5h0.9v0.9h-0.9zM457.1 92.0h0.9v0.9h-0.9zM457.2 86.8h0.9v0.9h-0.9zM458.6 89.1h0.9v0.9h-0.9zM455.7 91.6h0.9v0.9h-0.9zM458.5 90.7h0.9v0.9h-0.9zM454.6 81.9h0.9v0.9h-0.9zM451.6 83.0h0.9v0.9h-0.9zM460.7 90.6h0.9v0.9h-0.9zM458.4 89.2h0.9v0.9h-0.9zM456.3 82.9h0.9v0.9h-0.9zM457.4 89.4h0.9v0.9h-0.9zM456.5 85.5h0.9v0.9h-0.9zM464.3 88.2h0.9v0.9h-0.9zM463.9 84.3h0.9v0.9h-0.9zM457.5 89.3h0.9v0.9h-0.9zM464.9 90.9h0.9v0.9h-0.9zM458.5 87.4h0.9v0.9h-0.9zM458.1 91.4h0.9v0.9h-0.9zM454.5 91.5h0.9v0.9h-0.9zM462.5 84.9h0.9v0.9h-0.9zM461.7 84.6h0.9v0.9h-0.9zM458.3 89.1h0.9v0.9h-0.9zM454.8 91.0h0.9v0.9h-0.9zM454.5 90.0h0.9v0.9h-0.9zM457.7 90.3h0.9v0.9h-0.9zM456.0 87.8h0.9v0.9h-0.9zM459.3 89.1h0.9v0.9h-0.9zM455.6 91.0h0.9v0.9h-0.9zM457.9 84.6h0.9v0.9h-0.9zM462.4 83.3h0.9v0.9h-0.9zM461.4 84.1h0.9v0.9h-0.9zM456.2 91.9h0.9v0.9h-0.9zM457.5 86.5h0.9v0.9h-0.9zM461.1 81.5h0.9v0.9h-0.9zM453.6 89.6h0.9v0.9h-0.9zM461.5 89.1h0.9v0.9h-0.9zM456.3 86.2h0.9v0.9h-0.9zM460.0 90.2h0.9v0.9h-0.9zM458.7 89.7h0.9v0.9h-0.9zM464.0 90.4h0.9v0.9h-0.9zM459.8 85.1h0.9v0.9h-0.9zM452.8 87.6h0.9v0.9h-0.9zM458.0 86.3h0.9v0.9h-0.9zM457.9 91.6h0.9v0.9h-0.9zM459.1 90.5h0.9v0.9h-0.9zM460.8 84.2h0.9v0.9h-0.9zM455.0 86.2h0.9v0.9h-0.9zM458.8 90.6h0.9v0.9h-0.9zM456.3 87.1h0.9v0.9h-0.9zM454.2 91.2h0.9v0.9h-0.9zM457.1 87.8h0.9v0.9h-0.9zM457.3 90.1h0.9v0.9h-0.9zM457.7 91.2h0.9v0.9h-0.9zM458.3 88.4h0.9v0.9h-0.9zM451.7 86.8h0.9v0.9h-0.9zM454.4 87.7h0.9v0.9h-0.9zM467.0 81.7h0.9v0.9h-0.9zM458.0 87.9h0.9v0.9h-0.9zM454.5 90.7h0.9v0.9h-0.9zM462.1 91.3h0.9v0.9h-0.9zM455.6 82.7h0.9v0.9h-0.9zM457.4 87.4h0.9v0.9h-0.9zM474.8 87.8h0.9v0.9h-0.9zM467.1 83.6h0.9v0.9h-0.9zM458.4 90.0h0.9v0.9h-0.9zM463.7 84.4h0.9v0.9h-0.9zM464.0 86.8h0.9v0.9h-0.9zM470.1 89.4h0.9v0.9h-0.9zM453.3 86.2h0.9v0.9h-0.9zM468.4 88.4h0.9v0.9h-0.9zM473.7 78.6h0.9v0.9h-0.9zM457.8 83.4h0.9v0.9h-0.9zM468.1 85.6h0.9v0.9h-0.9zM464.1 89.8h0.9v0.9h-0.9zM467.8 91.7h0.9v0.9h-0.9zM458.4 85.6h0.9v0.9h-0.9zM457.8 80.0h0.9v0.9h-0.9zM450.9 87.9h0.9v0.9h-0.9zM475.8 88.7h0.9v0.9h-0.9zM465.1 78.4h0.9v0.9h-0.9zM475.8 83.3h0.9v0.9h-0.9zM467.5 87.2h0.9v0.9h-0.9zM469.0 91.3h0.9v0.9h-0.9zM464.8 87.4h0.9v0.9h-0.9zM457.0 80.7h0.9v0.9h-0.9zM474.1 88.6h0.9v0.9h-0.9zM466.4 86.6h0.9v0.9h-0.9zM479.3 88.9h0.9v0.9h-0.9zM479.8 84.6h0.9v0.9h-0.9z" fill="#000" fill-opacity="0.42"/>
<path d="M461.2 87.8h0.9v0.9h-0.9zM465.9 86.7h0.9v0.9h-0.9zM459.4 86.2h0.9v0.9h-0.9zM451.5 82.9h0.9v0.9h-0.9zM460.7 86.8h0.9v0.9h-0.9zM457.4 88.0h0.9v0.9h-0.9zM460.1 88.3h0.9v0.9h-0.9zM456.0 86.7h0.9v0.9h-0.9zM458.0 89.9h0.9v0.9h-0.9zM459.7 81.8h0.9v0.9h-0.9zM455.5 87.6h0.9v0.9h-0.9zM459.9 84.7h0.9v0.9h-0.9zM454.3 89.5h0.9v0.9h-0.9zM457.8 90.2h0.9v0.9h-0.9zM456.6 83.2h0.9v0.9h-0.9zM461.6 85.7h0.9v0.9h-0.9zM462.4 85.5h0.9v0.9h-0.9zM457.7 88.8h0.9v0.9h-0.9zM461.3 91.8h0.9v0.9h-0.9zM456.9 90.4h0.9v0.9h-0.9zM458.4 84.9h0.9v0.9h-0.9zM456.5 91.4h0.9v0.9h-0.9zM457.7 90.8h0.9v0.9h-0.9zM453.1 86.8h0.9v0.9h-0.9zM459.4 84.1h0.9v0.9h-0.9zM464.1 90.7h0.9v0.9h-0.9zM452.8 91.4h0.9v0.9h-0.9zM458.8 85.7h0.9v0.9h-0.9zM460.0 91.3h0.9v0.9h-0.9zM456.4 89.8h0.9v0.9h-0.9zM454.4 88.4h0.9v0.9h-0.9zM458.5 89.6h0.9v0.9h-0.9zM458.2 89.3h0.9v0.9h-0.9zM457.9 86.4h0.9v0.9h-0.9zM457.7 89.8h0.9v0.9h-0.9zM458.3 87.8h0.9v0.9h-0.9zM456.0 90.0h0.9v0.9h-0.9zM455.2 86.6h0.9v0.9h-0.9zM454.7 85.6h0.9v0.9h-0.9zM460.8 85.4h0.9v0.9h-0.9zM458.0 89.8h0.9v0.9h-0.9zM458.1 91.5h0.9v0.9h-0.9zM460.0 91.1h0.9v0.9h-0.9zM458.1 87.6h0.9v0.9h-0.9zM458.0 91.9h0.9v0.9h-0.9zM465.5 90.0h0.9v0.9h-0.9zM458.3 91.0h0.9v0.9h-0.9zM462.9 86.9h0.9v0.9h-0.9zM454.6 86.2h0.9v0.9h-0.9zM457.7 89.2h0.9v0.9h-0.9zM458.9 87.0h0.9v0.9h-0.9zM455.6 90.6h0.9v0.9h-0.9zM456.4 89.9h0.9v0.9h-0.9zM467.2 90.3h0.9v0.9h-0.9zM456.0 84.1h0.9v0.9h-0.9zM463.0 89.3h0.9v0.9h-0.9zM465.5 89.8h0.9v0.9h-0.9zM464.1 90.3h0.9v0.9h-0.9zM460.9 86.8h0.9v0.9h-0.9zM460.3 88.1h0.9v0.9h-0.9zM457.7 80.0h0.9v0.9h-0.9zM465.1 89.6h0.9v0.9h-0.9zM460.7 88.5h0.9v0.9h-0.9zM456.5 86.4h0.9v0.9h-0.9zM454.5 89.7h0.9v0.9h-0.9zM456.0 88.3h0.9v0.9h-0.9zM457.1 86.3h0.9v0.9h-0.9zM454.6 84.3h0.9v0.9h-0.9zM460.1 86.5h0.9v0.9h-0.9zM452.9 83.9h0.9v0.9h-0.9zM460.8 87.5h0.9v0.9h-0.9zM459.1 89.7h0.9v0.9h-0.9zM460.6 84.5h0.9v0.9h-0.9zM461.0 90.1h0.9v0.9h-0.9zM456.0 88.5h0.9v0.9h-0.9zM456.6 86.0h0.9v0.9h-0.9zM457.5 86.5h0.9v0.9h-0.9zM457.3 84.3h0.9v0.9h-0.9zM462.7 90.7h0.9v0.9h-0.9zM462.9 80.8h0.9v0.9h-0.9zM459.4 86.7h0.9v0.9h-0.9zM458.9 84.0h0.9v0.9h-0.9zM459.9 88.6h0.9v0.9h-0.9zM466.6 91.5h0.9v0.9h-0.9zM455.4 82.5h0.9v0.9h-0.9zM456.5 86.2h0.9v0.9h-0.9zM463.6 83.7h0.9v0.9h-0.9zM458.5 84.1h0.9v0.9h-0.9zM460.5 90.8h0.9v0.9h-0.9zM456.3 90.3h0.9v0.9h-0.9zM456.7 87.6h0.9v0.9h-0.9zM459.7 86.3h0.9v0.9h-0.9zM458.4 83.4h0.9v0.9h-0.9zM458.3 89.1h0.9v0.9h-0.9zM462.0 87.0h0.9v0.9h-0.9zM458.8 84.7h0.9v0.9h-0.9zM455.4 86.3h0.9v0.9h-0.9zM454.0 88.4h0.9v0.9h-0.9zM459.9 89.7h0.9v0.9h-0.9zM459.3 87.1h0.9v0.9h-0.9zM459.3 87.2h0.9v0.9h-0.9zM455.9 84.5h0.9v0.9h-0.9zM460.5 88.7h0.9v0.9h-0.9zM457.6 86.0h0.9v0.9h-0.9zM458.3 88.7h0.9v0.9h-0.9zM457.3 87.0h0.9v0.9h-0.9zM462.3 89.4h0.9v0.9h-0.9zM456.8 83.5h0.9v0.9h-0.9zM454.1 91.6h0.9v0.9h-0.9zM457.9 87.3h0.9v0.9h-0.9zM461.5 89.8h0.9v0.9h-0.9zM451.3 91.1h0.9v0.9h-0.9zM458.5 83.6h0.9v0.9h-0.9zM458.3 86.0h0.9v0.9h-0.9zM454.7 83.0h0.9v0.9h-0.9zM457.1 84.1h0.9v0.9h-0.9zM457.6 88.3h0.9v0.9h-0.9zM460.2 91.7h0.9v0.9h-0.9zM463.9 87.3h0.9v0.9h-0.9zM460.5 88.3h0.9v0.9h-0.9zM460.2 89.7h0.9v0.9h-0.9zM465.8 84.9h0.9v0.9h-0.9zM463.1 88.6h0.9v0.9h-0.9zM456.5 86.5h0.9v0.9h-0.9zM465.5 81.2h0.9v0.9h-0.9zM455.8 85.2h0.9v0.9h-0.9zM456.5 84.5h0.9v0.9h-0.9zM450.7 88.7h0.9v0.9h-0.9zM458.0 80.9h0.9v0.9h-0.9zM454.0 85.2h0.9v0.9h-0.9zM463.4 85.0h0.9v0.9h-0.9zM457.0 85.2h0.9v0.9h-0.9zM453.9 90.4h0.9v0.9h-0.9zM458.6 91.7h0.9v0.9h-0.9zM462.1 89.7h0.9v0.9h-0.9zM460.0 90.1h0.9v0.9h-0.9zM456.6 88.5h0.9v0.9h-0.9zM458.5 88.1h0.9v0.9h-0.9zM452.5 87.7h0.9v0.9h-0.9zM451.5 82.3h0.9v0.9h-0.9zM458.1 80.4h0.9v0.9h-0.9zM459.0 90.6h0.9v0.9h-0.9zM459.3 88.4h0.9v0.9h-0.9zM454.9 89.6h0.9v0.9h-0.9zM466.2 84.9h0.9v0.9h-0.9zM462.6 86.6h0.9v0.9h-0.9zM458.1 87.3h0.9v0.9h-0.9zM454.1 88.0h0.9v0.9h-0.9zM459.3 90.2h0.9v0.9h-0.9zM462.2 87.1h0.9v0.9h-0.9zM456.0 87.4h0.9v0.9h-0.9zM458.0 90.5h0.9v0.9h-0.9zM458.1 82.1h0.9v0.9h-0.9zM459.0 88.9h0.9v0.9h-0.9zM458.1 83.5h0.9v0.9h-0.9zM455.0 91.3h0.9v0.9h-0.9zM458.7 84.8h0.9v0.9h-0.9zM457.3 91.0h0.9v0.9h-0.9zM450.8 75.8h0.9v0.9h-0.9zM456.7 88.4h0.9v0.9h-0.9zM465.2 88.8h0.9v0.9h-0.9zM459.8 86.6h0.9v0.9h-0.9zM457.8 89.4h0.9v0.9h-0.9zM457.1 91.2h0.9v0.9h-0.9zM458.3 85.6h0.9v0.9h-0.9zM457.1 85.4h0.9v0.9h-0.9zM462.3 83.1h0.9v0.9h-0.9zM463.5 86.7h0.9v0.9h-0.9zM459.2 88.4h0.9v0.9h-0.9zM457.6 89.4h0.9v0.9h-0.9zM458.1 89.1h0.9v0.9h-0.9zM462.3 83.0h0.9v0.9h-0.9zM463.3 91.8h0.9v0.9h-0.9zM452.1 91.5h0.9v0.9h-0.9zM457.0 83.6h0.9v0.9h-0.9zM460.9 89.7h0.9v0.9h-0.9zM457.5 89.6h0.9v0.9h-0.9zM460.0 87.1h0.9v0.9h-0.9zM457.3 91.0h0.9v0.9h-0.9zM458.3 89.0h0.9v0.9h-0.9zM455.5 91.8h0.9v0.9h-0.9zM454.4 83.1h0.9v0.9h-0.9zM454.5 89.2h0.9v0.9h-0.9zM463.7 84.5h0.9v0.9h-0.9zM459.1 89.7h0.9v0.9h-0.9zM459.4 88.9h0.9v0.9h-0.9zM463.6 88.9h0.9v0.9h-0.9zM462.7 88.6h0.9v0.9h-0.9zM460.4 89.0h0.9v0.9h-0.9zM454.2 83.0h0.9v0.9h-0.9zM462.1 90.5h0.9v0.9h-0.9zM455.9 86.9h0.9v0.9h-0.9zM459.7 85.1h0.9v0.9h-0.9zM459.6 83.2h0.9v0.9h-0.9zM456.5 83.5h0.9v0.9h-0.9zM457.0 86.0h0.9v0.9h-0.9zM459.8 79.6h0.9v0.9h-0.9zM456.8 91.4h0.9v0.9h-0.9zM466.8 90.4h0.9v0.9h-0.9zM456.8 88.9h0.9v0.9h-0.9zM455.1 85.4h0.9v0.9h-0.9zM458.7 84.6h0.9v0.9h-0.9zM454.1 89.4h0.9v0.9h-0.9zM458.4 90.8h0.9v0.9h-0.9zM457.7 86.4h0.9v0.9h-0.9zM456.5 87.3h0.9v0.9h-0.9zM457.7 87.1h0.9v0.9h-0.9zM458.0 86.3h0.9v0.9h-0.9zM459.1 88.1h0.9v0.9h-0.9zM455.9 88.4h0.9v0.9h-0.9zM460.9 88.6h0.9v0.9h-0.9zM453.7 87.5h0.9v0.9h-0.9zM455.0 80.6h0.9v0.9h-0.9zM461.8 84.8h0.9v0.9h-0.9zM460.5 87.7h0.9v0.9h-0.9zM455.4 87.7h0.9v0.9h-0.9zM456.9 88.6h0.9v0.9h-0.9zM457.8 84.7h0.9v0.9h-0.9zM455.8 91.3h0.9v0.9h-0.9zM456.3 86.2h0.9v0.9h-0.9zM460.0 87.0h0.9v0.9h-0.9zM456.2 86.6h0.9v0.9h-0.9zM456.5 82.6h0.9v0.9h-0.9zM455.1 87.6h0.9v0.9h-0.9zM458.9 89.2h0.9v0.9h-0.9zM454.5 88.1h0.9v0.9h-0.9zM478.1 83.9h0.9v0.9h-0.9zM461.2 82.1h0.9v0.9h-0.9zM454.4 81.5h0.9v0.9h-0.9zM457.5 87.0h0.9v0.9h-0.9zM464.3 80.8h0.9v0.9h-0.9zM476.1 89.3h0.9v0.9h-0.9zM473.7 81.9h0.9v0.9h-0.9zM474.9 74.0h0.9v0.9h-0.9zM458.4 87.9h0.9v0.9h-0.9zM449.6 82.6h0.9v0.9h-0.9zM455.6 82.5h0.9v0.9h-0.9zM459.0 83.6h0.9v0.9h-0.9zM452.1 89.9h0.9v0.9h-0.9zM457.0 87.6h0.9v0.9h-0.9zM471.2 82.3h0.9v0.9h-0.9zM454.2 82.9h0.9v0.9h-0.9zM454.1 88.4h0.9v0.9h-0.9zM464.8 83.1h0.9v0.9h-0.9zM450.1 90.3h0.9v0.9h-0.9zM474.7 90.0h0.9v0.9h-0.9zM481.9 85.0h0.9v0.9h-0.9zM457.4 80.0h0.9v0.9h-0.9zM455.3 78.0h0.9v0.9h-0.9zM472.1 83.4h0.9v0.9h-0.9zM486.9 84.2h0.9v0.9h-0.9zM471.3 89.7h0.9v0.9h-0.9zM488.2 90.2h0.9v0.9h-0.9zM474.8 87.6h0.9v0.9h-0.9z" fill="#000" fill-opacity="0.42"/>
<path d="M458.7 89.2h0.9v0.9h-0.9zM459.1 85.7h0.9v0.9h-0.9zM459.7 88.4h0.9v0.9h-0.9zM456.9 88.4h0.9v0.9h-0.9zM461.2 88.4h0.9v0.9h-0.9zM455.3 89.8h0.9v0.9h-0.9zM459.9 89.9h0.9v0.9h-0.9zM455.1 87.8h0.9v0.9h-0.9zM465.4 87.9h0.9v0.9h-0.9zM458.8 81.7h0.9v0.9h-0.9zM457.3 84.3h0.9v0.9h-0.9zM460.4 91.5h0.9v0.9h-0.9zM467.3 83.9h0.9v0.9h-0.9zM461.2 89.4h0.9v0.9h-0.9zM460.0 85.2h0.9v0.9h-0.9zM456.7 90.4h0.9v0.9h-0.9zM452.7 84.9h0.9v0.9h-0.9zM461.6 86.3h0.9v0.9h-0.9zM455.3 89.4h0.9v0.9h-0.9zM456.7 89.8h0.9v0.9h-0.9zM461.4 89.6h0.9v0.9h-0.9zM458.7 91.4h0.9v0.9h-0.9zM455.7 87.5h0.9v0.9h-0.9zM461.4 89.3h0.9v0.9h-0.9zM452.1 83.4h0.9v0.9h-0.9zM461.5 82.5h0.9v0.9h-0.9zM459.2 85.8h0.9v0.9h-0.9zM461.1 90.7h0.9v0.9h-0.9zM458.5 87.5h0.9v0.9h-0.9zM457.1 89.8h0.9v0.9h-0.9zM465.7 83.8h0.9v0.9h-0.9zM458.5 90.8h0.9v0.9h-0.9zM458.6 89.0h0.9v0.9h-0.9zM459.9 86.1h0.9v0.9h-0.9zM454.8 92.0h0.9v0.9h-0.9zM456.7 88.6h0.9v0.9h-0.9zM459.7 90.6h0.9v0.9h-0.9zM452.0 85.9h0.9v0.9h-0.9zM464.8 85.5h0.9v0.9h-0.9zM458.1 88.3h0.9v0.9h-0.9zM456.9 89.9h0.9v0.9h-0.9zM455.0 90.9h0.9v0.9h-0.9zM453.5 86.9h0.9v0.9h-0.9zM458.9 86.8h0.9v0.9h-0.9zM460.8 83.6h0.9v0.9h-0.9zM461.7 86.4h0.9v0.9h-0.9zM454.4 86.3h0.9v0.9h-0.9zM458.6 86.8h0.9v0.9h-0.9zM454.4 86.1h0.9v0.9h-0.9zM456.6 91.4h0.9v0.9h-0.9zM454.2 87.5h0.9v0.9h-0.9zM455.6 82.7h0.9v0.9h-0.9zM454.5 83.0h0.9v0.9h-0.9zM462.0 84.6h0.9v0.9h-0.9zM454.2 86.8h0.9v0.9h-0.9zM460.6 92.0h0.9v0.9h-0.9zM453.8 88.8h0.9v0.9h-0.9zM452.8 89.7h0.9v0.9h-0.9zM457.3 87.6h0.9v0.9h-0.9zM454.5 88.4h0.9v0.9h-0.9zM460.9 86.9h0.9v0.9h-0.9zM458.3 86.8h0.9v0.9h-0.9zM463.5 88.6h0.9v0.9h-0.9zM459.0 83.3h0.9v0.9h-0.9zM458.9 89.0h0.9v0.9h-0.9zM459.4 87.6h0.9v0.9h-0.9zM459.9 86.6h0.9v0.9h-0.9zM457.0 83.5h0.9v0.9h-0.9zM464.5 90.5h0.9v0.9h-0.9zM460.1 86.1h0.9v0.9h-0.9zM455.8 91.9h0.9v0.9h-0.9zM453.0 87.2h0.9v0.9h-0.9zM458.6 84.1h0.9v0.9h-0.9zM455.1 91.2h0.9v0.9h-0.9zM462.3 85.1h0.9v0.9h-0.9zM453.7 85.5h0.9v0.9h-0.9zM453.3 87.2h0.9v0.9h-0.9zM455.9 86.7h0.9v0.9h-0.9zM460.0 90.1h0.9v0.9h-0.9zM464.2 89.1h0.9v0.9h-0.9zM463.1 82.0h0.9v0.9h-0.9zM452.8 87.2h0.9v0.9h-0.9zM461.6 88.7h0.9v0.9h-0.9zM461.7 87.3h0.9v0.9h-0.9zM464.6 91.7h0.9v0.9h-0.9zM464.9 84.4h0.9v0.9h-0.9zM461.7 82.8h0.9v0.9h-0.9zM456.9 84.7h0.9v0.9h-0.9zM462.3 88.9h0.9v0.9h-0.9zM454.0 92.0h0.9v0.9h-0.9zM458.9 85.7h0.9v0.9h-0.9zM449.6 91.6h0.9v0.9h-0.9zM455.8 88.7h0.9v0.9h-0.9zM459.0 91.9h0.9v0.9h-0.9zM455.7 91.8h0.9v0.9h-0.9zM453.0 85.3h0.9v0.9h-0.9zM459.4 81.4h0.9v0.9h-0.9zM453.9 91.8h0.9v0.9h-0.9zM464.3 85.2h0.9v0.9h-0.9zM454.0 90.7h0.9v0.9h-0.9zM459.3 87.3h0.9v0.9h-0.9zM454.7 86.2h0.9v0.9h-0.9zM458.4 88.2h0.9v0.9h-0.9zM460.4 85.4h0.9v0.9h-0.9zM463.1 88.7h0.9v0.9h-0.9zM460.1 89.4h0.9v0.9h-0.9zM457.6 90.4h0.9v0.9h-0.9zM462.7 84.8h0.9v0.9h-0.9zM459.1 82.2h0.9v0.9h-0.9zM457.7 85.5h0.9v0.9h-0.9zM463.0 84.5h0.9v0.9h-0.9zM455.2 82.6h0.9v0.9h-0.9zM455.5 88.2h0.9v0.9h-0.9zM455.5 91.8h0.9v0.9h-0.9zM461.5 90.7h0.9v0.9h-0.9zM461.4 86.1h0.9v0.9h-0.9zM461.7 90.9h0.9v0.9h-0.9zM457.5 87.8h0.9v0.9h-0.9zM459.9 87.0h0.9v0.9h-0.9zM458.0 89.0h0.9v0.9h-0.9zM459.9 88.3h0.9v0.9h-0.9zM460.5 85.3h0.9v0.9h-0.9zM460.4 86.8h0.9v0.9h-0.9zM465.9 89.3h0.9v0.9h-0.9zM458.3 91.0h0.9v0.9h-0.9zM453.5 87.7h0.9v0.9h-0.9zM458.5 87.7h0.9v0.9h-0.9zM453.3 83.4h0.9v0.9h-0.9zM462.1 81.9h0.9v0.9h-0.9zM458.2 83.2h0.9v0.9h-0.9zM457.8 90.9h0.9v0.9h-0.9zM455.3 87.2h0.9v0.9h-0.9zM459.3 77.2h0.9v0.9h-0.9zM457.7 85.8h0.9v0.9h-0.9zM457.7 85.2h0.9v0.9h-0.9zM458.9 88.3h0.9v0.9h-0.9zM455.2 87.0h0.9v0.9h-0.9zM463.4 86.8h0.9v0.9h-0.9zM463.2 86.3h0.9v0.9h-0.9zM460.6 86.8h0.9v0.9h-0.9zM450.8 83.6h0.9v0.9h-0.9zM454.9 82.6h0.9v0.9h-0.9zM454.4 83.7h0.9v0.9h-0.9zM455.1 84.9h0.9v0.9h-0.9zM457.3 82.4h0.9v0.9h-0.9zM460.6 83.9h0.9v0.9h-0.9zM463.3 91.7h0.9v0.9h-0.9zM456.3 85.4h0.9v0.9h-0.9zM456.4 87.1h0.9v0.9h-0.9zM464.8 86.7h0.9v0.9h-0.9zM453.3 91.1h0.9v0.9h-0.9zM461.8 90.6h0.9v0.9h-0.9zM457.0 91.6h0.9v0.9h-0.9zM458.9 82.6h0.9v0.9h-0.9zM456.4 89.8h0.9v0.9h-0.9zM457.8 84.4h0.9v0.9h-0.9zM463.4 86.6h0.9v0.9h-0.9zM456.2 90.6h0.9v0.9h-0.9zM459.0 84.2h0.9v0.9h-0.9zM457.8 85.1h0.9v0.9h-0.9zM453.2 91.0h0.9v0.9h-0.9zM463.0 89.3h0.9v0.9h-0.9zM453.8 86.2h0.9v0.9h-0.9zM462.8 90.1h0.9v0.9h-0.9zM462.0 88.9h0.9v0.9h-0.9zM461.0 84.5h0.9v0.9h-0.9zM461.0 82.9h0.9v0.9h-0.9zM458.3 87.8h0.9v0.9h-0.9zM451.0 80.8h0.9v0.9h-0.9zM453.3 84.2h0.9v0.9h-0.9zM453.5 85.1h0.9v0.9h-0.9zM456.5 87.1h0.9v0.9h-0.9zM452.3 81.6h0.9v0.9h-0.9zM461.9 87.9h0.9v0.9h-0.9zM463.9 85.8h0.9v0.9h-0.9zM458.3 87.1h0.9v0.9h-0.9zM459.3 87.6h0.9v0.9h-0.9zM461.0 84.8h0.9v0.9h-0.9zM462.0 87.7h0.9v0.9h-0.9zM460.3 90.5h0.9v0.9h-0.9zM454.5 83.3h0.9v0.9h-0.9zM463.0 86.6h0.9v0.9h-0.9zM451.8 83.0h0.9v0.9h-0.9zM455.1 85.8h0.9v0.9h-0.9zM450.8 87.3h0.9v0.9h-0.9zM458.9 88.7h0.9v0.9h-0.9zM460.1 89.3h0.9v0.9h-0.9zM452.9 91.5h0.9v0.9h-0.9zM455.7 85.9h0.9v0.9h-0.9zM463.3 90.0h0.9v0.9h-0.9zM460.3 88.0h0.9v0.9h-0.9zM461.6 85.4h0.9v0.9h-0.9zM456.2 89.8h0.9v0.9h-0.9zM457.7 84.8h0.9v0.9h-0.9zM459.2 90.6h0.9v0.9h-0.9zM455.8 87.3h0.9v0.9h-0.9zM456.8 90.9h0.9v0.9h-0.9zM462.0 88.9h0.9v0.9h-0.9zM455.5 88.1h0.9v0.9h-0.9zM461.2 89.5h0.9v0.9h-0.9zM463.2 90.4h0.9v0.9h-0.9zM461.0 87.3h0.9v0.9h-0.9zM452.2 87.4h0.9v0.9h-0.9zM463.5 90.1h0.9v0.9h-0.9zM464.2 91.6h0.9v0.9h-0.9zM459.9 88.1h0.9v0.9h-0.9zM456.3 88.5h0.9v0.9h-0.9zM461.1 84.6h0.9v0.9h-0.9zM465.0 90.7h0.9v0.9h-0.9zM460.1 86.0h0.9v0.9h-0.9zM455.7 90.2h0.9v0.9h-0.9zM452.3 84.2h0.9v0.9h-0.9zM453.6 87.6h0.9v0.9h-0.9zM453.9 88.8h0.9v0.9h-0.9zM457.8 85.9h0.9v0.9h-0.9zM458.2 84.1h0.9v0.9h-0.9zM465.7 90.6h0.9v0.9h-0.9zM460.3 91.5h0.9v0.9h-0.9zM455.8 84.8h0.9v0.9h-0.9zM457.4 86.5h0.9v0.9h-0.9zM461.5 87.7h0.9v0.9h-0.9zM459.7 85.1h0.9v0.9h-0.9zM458.3 91.6h0.9v0.9h-0.9zM458.0 88.8h0.9v0.9h-0.9zM453.8 86.5h0.9v0.9h-0.9zM470.9 88.3h0.9v0.9h-0.9zM457.9 89.2h0.9v0.9h-0.9zM462.6 83.4h0.9v0.9h-0.9zM454.9 89.6h0.9v0.9h-0.9zM465.2 82.3h0.9v0.9h-0.9zM452.7 85.1h0.9v0.9h-0.9zM468.4 88.0h0.9v0.9h-0.9zM452.9 82.0h0.9v0.9h-0.9zM465.4 88.1h0.9v0.9h-0.9zM459.1 91.9h0.9v0.9h-0.9zM464.9 90.3h0.9v0.9h-0.9zM457.9 88.5h0.9v0.9h-0.9zM457.4 84.9h0.9v0.9h-0.9zM461.6 83.7h0.9v0.9h-0.9zM461.6 87.7h0.9v0.9h-0.9zM467.1 85.5h0.9v0.9h-0.9zM476.3 76.0h0.9v0.9h-0.9zM452.3 87.7h0.9v0.9h-0.9zM454.6 86.7h0.9v0.9h-0.9zM471.6 81.2h0.9v0.9h-0.9zM450.2 91.8h0.9v0.9h-0.9zM465.3 84.3h0.9v0.9h-0.9zM464.4 80.9h0.9v0.9h-0.9zM456.0 88.4h0.9v0.9h-0.9zM459.5 83.9h0.9v0.9h-0.9zM467.5 89.4h0.9v0.9h-0.9zM472.0 90.1h0.9v0.9h-0.9zM465.0 90.7h0.9v0.9h-0.9zM470.1 89.2h0.9v0.9h-0.9z" fill="#000" fill-opacity="0.42"/>
<path d="M460.3 90.6h0.9v0.9h-0.9zM458.9 88.3h0.9v0.9h-0.9zM460.2 89.6h0.9v0.9h-0.9zM459.0 88.8h0.9v0.9h-0.9zM458.9 87.8h0.9v0.9h-0.9zM450.9 90.7h0.9v0.9h-0.9zM460.0 89.2h0.9v0.9h-0.9zM461.0 85.5h0.9v0.9h-0.9zM459.9 86.9h0.9v0.9h-0.9zM463.9 89.5h0.9v0.9h-0.9zM462.3 82.8h0.9v0.9h-0.9zM462.6 89.1h0.9v0.9h-0.9zM463.5 89.8h0.9v0.9h-0.9zM461.7 88.6h0.9v0.9h-0.9zM462.9 86.5h0.9v0.9h-0.9zM453.1 89.7h0.9v0.9h-0.9zM458.9 90.1h0.9v0.9h-0.9zM463.1 90.0h0.9v0.9h-0.9zM456.0 81.6h0.9v0.9h-0.9zM457.7 88.6h0.9v0.9h-0.9zM460.0 89.5h0.9v0.9h-0.9zM455.6 86.5h0.9v0.9h-0.9zM456.8 85.2h0.9v0.9h-0.9zM456.5 90.1h0.9v0.9h-0.9zM459.5 87.6h0.9v0.9h-0.9zM458.6 86.4h0.9v0.9h-0.9zM463.7 91.1h0.9v0.9h-0.9zM462.0 86.8h0.9v0.9h-0.9zM465.1 85.3h0.9v0.9h-0.9zM457.3 91.7h0.9v0.9h-0.9zM451.3 83.4h0.9v0.9h-0.9zM457.4 86.8h0.9v0.9h-0.9zM457.4 84.9h0.9v0.9h-0.9zM460.6 90.1h0.9v0.9h-0.9zM458.5 88.7h0.9v0.9h-0.9zM460.8 89.3h0.9v0.9h-0.9zM455.1 91.7h0.9v0.9h-0.9zM458.3 87.3h0.9v0.9h-0.9zM455.7 88.4h0.9v0.9h-0.9zM461.6 81.8h0.9v0.9h-0.9zM460.2 87.2h0.9v0.9h-0.9zM462.2 86.0h0.9v0.9h-0.9zM461.7 88.4h0.9v0.9h-0.9zM456.5 85.9h0.9v0.9h-0.9zM453.3 88.2h0.9v0.9h-0.9zM454.1 90.3h0.9v0.9h-0.9zM462.1 91.6h0.9v0.9h-0.9zM460.1 89.8h0.9v0.9h-0.9zM460.0 82.1h0.9v0.9h-0.9zM456.0 91.1h0.9v0.9h-0.9zM458.5 85.9h0.9v0.9h-0.9zM453.9 82.9h0.9v0.9h-0.9zM451.3 91.0h0.9v0.9h-0.9zM457.8 89.7h0.9v0.9h-0.9zM451.1 90.2h0.9v0.9h-0.9zM454.6 82.0h0.9v0.9h-0.9zM458.7 78.9h0.9v0.9h-0.9zM453.7 85.6h0.9v0.9h-0.9zM454.0 85.5h0.9v0.9h-0.9zM459.8 89.9h0.9v0.9h-0.9zM461.8 87.9h0.9v0.9h-0.9zM452.1 90.6h0.9v0.9h-0.9zM462.4 84.0h0.9v0.9h-0.9zM459.7 84.9h0.9v0.9h-0.9zM453.6 90.3h0.9v0.9h-0.9zM454.6 87.5h0.9v0.9h-0.9zM455.0 86.3h0.9v0.9h-0.9zM451.3 88.9h0.9v0.9h-0.9zM456.5 86.6h0.9v0.9h-0.9zM460.3 90.3h0.9v0.9h-0.9zM458.0 85.7h0.9v0.9h-0.9zM457.7 87.1h0.9v0.9h-0.9zM466.7 82.6h0.9v0.9h-0.9zM456.1 84.6h0.9v0.9h-0.9zM456.8 87.2h0.9v0.9h-0.9zM458.7 89.6h0.9v0.9h-0.9zM460.8 86.5h0.9v0.9h-0.9zM459.6 91.0h0.9v0.9h-0.9zM457.2 88.1h0.9v0.9h-0.9zM454.4 87.5h0.9v0.9h-0.9zM455.6 91.0h0.9v0.9h-0.9zM460.0 89.6h0.9v0.9h-0.9zM456.9 90.0h0.9v0.9h-0.9zM457.1 92.0h0.9v0.9h-0.9zM463.9 86.2h0.9v0.9h-0.9zM455.1 83.4h0.9v0.9h-0.9zM460.3 82.0h0.9v0.9h-0.9zM463.8 84.3h0.9v0.9h-0.9zM460.4 82.5h0.9v0.9h-0.9zM457.8 85.6h0.9v0.9h-0.9zM456.4 78.2h0.9v0.9h-0.9zM456.2 90.6h0.9v0.9h-0.9zM457.1 80.4h0.9v0.9h-0.9zM451.2 84.4h0.9v0.9h-0.9zM454.1 88.6h0.9v0.9h-0.9zM460.9 85.8h0.9v0.9h-0.9zM465.2 86.7h0.9v0.9h-0.9zM458.2 87.2h0.9v0.9h-0.9zM462.9 86.7h0.9v0.9h-0.9zM464.9 90.9h0.9v0.9h-0.9zM457.1 87.0h0.9v0.9h-0.9zM453.0 86.2h0.9v0.9h-0.9zM452.9 87.1h0.9v0.9h-0.9zM461.8 83.7h0.9v0.9h-0.9zM461.6 91.6h0.9v0.9h-0.9zM453.5 83.8h0.9v0.9h-0.9zM458.2 86.0h0.9v0.9h-0.9zM457.1 88.9h0.9v0.9h-0.9zM459.1 90.8h0.9v0.9h-0.9zM463.1 88.3h0.9v0.9h-0.9zM466.3 84.4h0.9v0.9h-0.9zM455.5 89.9h0.9v0.9h-0.9zM456.9 90.0h0.9v0.9h-0.9zM460.4 88.4h0.9v0.9h-0.9zM461.8 85.0h0.9v0.9h-0.9zM455.8 86.0h0.9v0.9h-0.9zM457.2 91.9h0.9v0.9h-0.9zM461.0 89.1h0.9v0.9h-0.9zM458.2 88.3h0.9v0.9h-0.9zM458.3 87.5h0.9v0.9h-0.9zM452.6 87.6h0.9v0.9h-0.9zM454.7 88.5h0.9v0.9h-0.9zM456.0 86.6h0.9v0.9h-0.9zM454.3 91.2h0.9v0.9h-0.9zM461.9 89.3h0.9v0.9h-0.9zM458.9 91.1h0.9v0.9h-0.9zM454.2 86.3h0.9v0.9h-0.9zM464.5 87.1h0.9v0.9h-0.9zM453.4 86.4h0.9v0.9h-0.9zM459.9 89.7h0.9v0.9h-0.9zM461.5 87.6h0.9v0.9h-0.9zM458.2 89.0h0.9v0.9h-0.9zM461.6 91.3h0.9v0.9h-0.9zM459.8 84.7h0.9v0.9h-0.9zM457.7 87.2h0.9v0.9h-0.9zM453.8 88.7h0.9v0.9h-0.9zM458.6 89.1h0.9v0.9h-0.9zM460.8 87.8h0.9v0.9h-0.9zM457.3 91.7h0.9v0.9h-0.9zM463.3 82.2h0.9v0.9h-0.9zM456.3 84.0h0.9v0.9h-0.9zM459.6 87.4h0.9v0.9h-0.9zM457.9 85.8h0.9v0.9h-0.9zM461.6 84.3h0.9v0.9h-0.9zM459.5 85.5h0.9v0.9h-0.9zM459.4 91.2h0.9v0.9h-0.9zM453.7 83.3h0.9v0.9h-0.9zM462.2 87.2h0.9v0.9h-0.9zM455.0 88.2h0.9v0.9h-0.9zM461.6 88.2h0.9v0.9h-0.9zM462.2 89.1h0.9v0.9h-0.9zM457.0 82.7h0.9v0.9h-0.9zM451.2 88.6h0.9v0.9h-0.9zM462.7 89.5h0.9v0.9h-0.9zM460.7 91.6h0.9v0.9h-0.9zM451.5 84.3h0.9v0.9h-0.9zM459.4 87.0h0.9v0.9h-0.9zM453.3 90.3h0.9v0.9h-0.9zM458.4 90.9h0.9v0.9h-0.9zM463.4 88.8h0.9v0.9h-0.9zM464.0 88.2h0.9v0.9h-0.9zM458.0 91.6h0.9v0.9h-0.9zM462.3 85.1h0.9v0.9h-0.9zM453.9 90.2h0.9v0.9h-0.9zM459.8 89.5h0.9v0.9h-0.9zM461.5 90.2h0.9v0.9h-0.9zM464.4 82.8h0.9v0.9h-0.9zM454.2 81.5h0.9v0.9h-0.9zM458.3 90.6h0.9v0.9h-0.9zM462.1 90.2h0.9v0.9h-0.9zM453.2 83.3h0.9v0.9h-0.9zM465.1 90.0h0.9v0.9h-0.9zM454.7 88.9h0.9v0.9h-0.9zM459.2 89.4h0.9v0.9h-0.9zM454.5 91.6h0.9v0.9h-0.9zM454.9 89.4h0.9v0.9h-0.9zM453.4 85.4h0.9v0.9h-0.9zM459.9 91.2h0.9v0.9h-0.9zM461.8 79.4h0.9v0.9h-0.9zM465.8 88.4h0.9v0.9h-0.9zM464.3 86.4h0.9v0.9h-0.9zM457.6 90.1h0.9v0.9h-0.9zM462.5 87.3h0.9v0.9h-0.9zM464.8 82.8h0.9v0.9h-0.9zM459.4 91.0h0.9v0.9h-0.9zM453.9 88.1h0.9v0.9h-0.9zM459.2 80.9h0.9v0.9h-0.9zM462.7 91.0h0.9v0.9h-0.9zM460.8 89.8h0.9v0.9h-0.9zM459.8 83.3h0.9v0.9h-0.9zM454.0 89.3h0.9v0.9h-0.9zM462.6 84.2h0.9v0.9h-0.9zM461.2 89.6h0.9v0.9h-0.9zM456.8 83.9h0.9v0.9h-0.9zM460.7 88.4h0.9v0.9h-0.9zM457.9 82.4h0.9v0.9h-0.9zM457.0 76.8h0.9v0.9h-0.9zM455.6 88.1h0.9v0.9h-0.9zM453.9 88.8h0.9v0.9h-0.9zM455.5 85.1h0.9v0.9h-0.9zM459.1 87.7h0.9v0.9h-0.9zM461.6 84.7h0.9v0.9h-0.9zM457.5 91.7h0.9v0.9h-0.9zM459.1 89.1h0.9v0.9h-0.9zM456.1 83.6h0.9v0.9h-0.9zM462.2 90.0h0.9v0.9h-0.9zM467.6 88.4h0.9v0.9h-0.9zM463.5 89.5h0.9v0.9h-0.9zM453.8 89.2h0.9v0.9h-0.9zM461.6 86.2h0.9v0.9h-0.9zM458.2 91.8h0.9v0.9h-0.9zM460.2 91.5h0.9v0.9h-0.9zM461.1 87.8h0.9v0.9h-0.9zM460.6 88.0h0.9v0.9h-0.9zM453.4 86.3h0.9v0.9h-0.9zM458.3 88.9h0.9v0.9h-0.9zM457.5 84.5h0.9v0.9h-0.9zM459.9 90.0h0.9v0.9h-0.9zM463.0 90.2h0.9v0.9h-0.9zM459.2 88.2h0.9v0.9h-0.9zM458.1 89.9h0.9v0.9h-0.9zM457.2 87.2h0.9v0.9h-0.9zM451.5 81.3h0.9v0.9h-0.9zM455.6 87.1h0.9v0.9h-0.9zM463.1 81.1h0.9v0.9h-0.9zM460.0 89.4h0.9v0.9h-0.9zM455.3 88.3h0.9v0.9h-0.9zM463.5 88.5h0.9v0.9h-0.9zM454.0 80.1h0.9v0.9h-0.9zM459.9 87.3h0.9v0.9h-0.9zM465.8 82.6h0.9v0.9h-0.9zM474.5 87.3h0.9v0.9h-0.9zM449.5 86.0h0.9v0.9h-0.9zM458.3 89.2h0.9v0.9h-0.9zM455.4 82.2h0.9v0.9h-0.9zM456.2 88.4h0.9v0.9h-0.9zM470.3 91.3h0.9v0.9h-0.9zM466.0 91.0h0.9v0.9h-0.9zM471.8 86.9h0.9v0.9h-0.9zM469.3 87.0h0.9v0.9h-0.9zM457.7 87.1h0.9v0.9h-0.9zM452.6 81.4h0.9v0.9h-0.9zM462.4 84.2h0.9v0.9h-0.9zM451.9 87.5h0.9v0.9h-0.9zM465.6 84.6h0.9v0.9h-0.9zM463.0 90.9h0.9v0.9h-0.9zM457.4 90.2h0.9v0.9h-0.9zM471.7 85.4h0.9v0.9h-0.9zM466.7 87.7h0.9v0.9h-0.9zM459.5 87.4h0.9v0.9h-0.9zM473.3 90.6h0.9v0.9h-0.9zM481.2 91.0h0.9v0.9h-0.9zM470.0 87.9h0.9v0.9h-0.9zM467.6 85.8h0.9v0.9h-0.9z" fill="#000" fill-opacity="0.42"/>
<path d="M457.5 88.9h0.9v0.9h-0.9zM460.0 89.3h0.9v0.9h-0.9zM461.0 87.8h0.9v0.9h-0.9zM459.4 86.9h0.9v0.9h-0.9zM463.9 85.2h0.9v0.9h-0.9zM455.6 82.7h0.9v0.9h-0.9zM454.1 91.6h0.9v0.9h-0.9zM453.4 89.2h0.9v0.9h-0.9zM462.8 90.7h0.9v0.9h-0.9zM460.2 86.0h0.9v0.9h-0.9zM459.3 90.4h0.9v0.9h-0.9zM458.6 87.8h0.9v0.9h-0.9zM462.2 91.6h0.9v0.9h-0.9zM463.8 87.3h0.9v0.9h-0.9zM449.9 84.1h0.9v0.9h-0.9zM459.9 91.0h0.9v0.9h-0.9zM458.9 89.5h0.9v0.9h-0.9zM459.3 88.0h0.9v0.9h-0.9zM461.8 89.3h0.9v0.9h-0.9zM454.9 86.6h0.9v0.9h-0.9zM454.1 89.2h0.9v0.9h-0.9zM456.7 87.0h0.9v0.9h-0.9zM454.7 85.9h0.9v0.9h-0.9zM458.3 86.9h0.9v0.9h-0.9zM452.9 91.0h0.9v0.9h-0.9zM455.6 87.5h0.9v0.9h-0.9zM460.3 86.9h0.9v0.9h-0.9zM457.4 88.3h0.9v0.9h-0.9zM455.9 91.8h0.9v0.9h-0.9zM462.2 87.6h0.9v0.9h-0.9zM461.4 88.3h0.9v0.9h-0.9zM465.3 87.3h0.9v0.9h-0.9zM461.4 90.9h0.9v0.9h-0.9zM459.0 82.2h0.9v0.9h-0.9zM459.5 84.9h0.9v0.9h-0.9zM459.8 90.0h0.9v0.9h-0.9zM462.0 89.7h0.9v0.9h-0.9zM457.4 86.5h0.9v0.9h-0.9zM460.6 90.7h0.9v0.9h-0.9zM453.0 89.0h0.9v0.9h-0.9zM458.4 90.4h0.9v0.9h-0.9zM454.2 87.7h0.9v0.9h-0.9zM460.8 84.8h0.9v0.9h-0.9zM462.6 87.3h0.9v0.9h-0.9zM461.9 89.7h0.9v0.9h-0.9zM452.4 85.7h0.9v0.9h-0.9zM459.9 86.5h0.9v0.9h-0.9zM458.7 80.3h0.9v0.9h-0.9zM452.2 89.7h0.9v0.9h-0.9zM461.5 89.7h0.9v0.9h-0.9zM455.8 84.6h0.9v0.9h-0.9zM462.5 89.9h0.9v0.9h-0.9zM452.8 86.4h0.9v0.9h-0.9zM451.6 83.3h0.9v0.9h-0.9zM452.1 89.9h0.9v0.9h-0.9zM458.4 84.8h0.9v0.9h-0.9zM454.1 90.2h0.9v0.9h-0.9zM458.4 88.6h0.9v0.9h-0.9zM459.8 89.2h0.9v0.9h-0.9zM455.9 86.0h0.9v0.9h-0.9zM457.9 83.0h0.9v0.9h-0.9zM462.6 89.9h0.9v0.9h-0.9zM458.1 90.4h0.9v0.9h-0.9zM456.3 86.2h0.9v0.9h-0.9zM460.3 90.3h0.9v0.9h-0.9zM460.0 84.9h0.9v0.9h-0.9zM456.5 87.1h0.9v0.9h-0.9zM459.5 87.1h0.9v0.9h-0.9zM454.1 91.9h0.9v0.9h-0.9zM463.3 86.1h0.9v0.9h-0.9zM458.6 83.3h0.9v0.9h-0.9zM455.9 80.0h0.9v0.9h-0.9zM457.4 88.2h0.9v0.9h-0.9zM459.5 87.9h0.9v0.9h-0.9zM459.5 82.5h0.9v0.9h-0.9zM459.8 83.7h0.9v0.9h-0.9zM458.8 89.7h0.9v0.9h-0.9zM455.7 89.2h0.9v0.9h-0.9zM452.9 89.0h0.9v0.9h-0.9zM460.6 88.5h0.9v0.9h-0.9zM462.0 84.0h0.9v0.9h-0.9zM453.3 90.9h0.9v0.9h-0.9zM455.7 90.8h0.9v0.9h-0.9zM461.4 90.5h0.9v0.9h-0.9zM458.0 86.1h0.9v0.9h-0.9zM462.5 85.3h0.9v0.9h-0.9zM449.3 90.6h0.9v0.9h-0.9zM457.1 88.4h0.9v0.9h-0.9zM456.9 81.4h0.9v0.9h-0.9zM461.8 89.1h0.9v0.9h-0.9zM460.1 89.4h0.9v0.9h-0.9zM457.6 91.6h0.9v0.9h-0.9zM461.1 88.7h0.9v0.9h-0.9zM459.9 92.0h0.9v0.9h-0.9zM455.3 88.2h0.9v0.9h-0.9zM461.0 89.9h0.9v0.9h-0.9zM454.5 85.4h0.9v0.9h-0.9zM465.4 85.7h0.9v0.9h-0.9zM453.5 89.7h0.9v0.9h-0.9zM454.9 89.5h0.9v0.9h-0.9zM462.2 91.8h0.9v0.9h-0.9zM454.4 87.9h0.9v0.9h-0.9zM464.8 89.8h0.9v0.9h-0.9zM454.7 89.6h0.9v0.9h-0.9zM456.0 90.9h0.9v0.9h-0.9zM457.9 86.0h0.9v0.9h-0.9zM457.1 91.8h0.9v0.9h-0.9zM457.5 91.7h0.9v0.9h-0.9zM460.8 85.8h0.9v0.9h-0.9zM459.5 88.9h0.9v0.9h-0.9zM458.5 87.5h0.9v0.9h-0.9zM460.8 89.7h0.9v0.9h-0.9zM463.5 90.3h0.9v0.9h-0.9zM461.2 82.6h0.9v0.9h-0.9zM459.1 88.1h0.9v0.9h-0.9zM457.9 88.4h0.9v0.9h-0.9zM461.9 91.0h0.9v0.9h-0.9zM458.8 90.7h0.9v0.9h-0.9zM466.1 82.2h0.9v0.9h-0.9zM456.8 89.1h0.9v0.9h-0.9zM454.7 88.3h0.9v0.9h-0.9zM459.5 91.8h0.9v0.9h-0.9zM460.4 87.5h0.9v0.9h-0.9zM459.7 87.5h0.9v0.9h-0.9zM455.9 86.2h0.9v0.9h-0.9zM456.8 83.8h0.9v0.9h-0.9zM453.6 90.9h0.9v0.9h-0.9zM460.3 92.0h0.9v0.9h-0.9zM456.6 87.1h0.9v0.9h-0.9zM461.6 85.1h0.9v0.9h-0.9zM457.1 87.5h0.9v0.9h-0.9zM457.3 88.0h0.9v0.9h-0.9zM455.1 90.0h0.9v0.9h-0.9zM453.5 86.4h0.9v0.9h-0.9zM457.5 83.2h0.9v0.9h-0.9zM454.1 83.3h0.9v0.9h-0.9zM460.9 91.3h0.9v0.9h-0.9zM457.4 90.9h0.9v0.9h-0.9zM455.6 90.1h0.9v0.9h-0.9zM459.4 80.1h0.9v0.9h-0.9zM463.3 79.9h0.9v0.9h-0.9zM463.6 84.3h0.9v0.9h-0.9zM456.4 87.1h0.9v0.9h-0.9zM452.1 85.3h0.9v0.9h-0.9zM457.7 89.9h0.9v0.9h-0.9zM456.4 84.4h0.9v0.9h-0.9zM458.8 84.6h0.9v0.9h-0.9zM462.8 83.0h0.9v0.9h-0.9zM455.4 90.8h0.9v0.9h-0.9zM457.1 89.7h0.9v0.9h-0.9zM451.0 87.4h0.9v0.9h-0.9zM458.6 86.2h0.9v0.9h-0.9zM462.8 84.6h0.9v0.9h-0.9zM459.1 87.1h0.9v0.9h-0.9zM455.9 91.3h0.9v0.9h-0.9zM461.1 88.9h0.9v0.9h-0.9zM454.0 89.6h0.9v0.9h-0.9zM454.0 90.7h0.9v0.9h-0.9zM456.1 90.5h0.9v0.9h-0.9zM456.5 84.9h0.9v0.9h-0.9zM455.8 91.1h0.9v0.9h-0.9zM456.1 87.2h0.9v0.9h-0.9zM454.7 87.5h0.9v0.9h-0.9zM466.6 86.3h0.9v0.9h-0.9zM457.2 79.1h0.9v0.9h-0.9zM463.4 91.2h0.9v0.9h-0.9zM455.0 87.7h0.9v0.9h-0.9zM458.1 91.2h0.9v0.9h-0.9zM458.4 88.4h0.9v0.9h-0.9zM461.1 84.6h0.9v0.9h-0.9zM458.2 86.5h0.9v0.9h-0.9zM459.7 79.3h0.9v0.9h-0.9zM451.5 83.5h0.9v0.9h-0.9zM459.9 81.8h0.9v0.9h-0.9zM462.7 87.3h0.9v0.9h-0.9zM461.5 88.1h0.9v0.9h-0.9zM460.8 88.7h0.9v0.9h-0.9zM457.2 87.7h0.9v0.9h-0.9zM458.0 90.2h0.9v0.9h-0.9zM472.3 91.5h0.9v0.9h-0.9zM463.7 85.7h0.9v0.9h-0.9zM454.3 90.4h0.9v0.9h-0.9zM457.9 90.2h0.9v0.9h-0.9zM457.0 83.4h0.9v0.9h-0.9zM462.6 88.2h0.9v0.9h-0.9zM462.5 89.3h0.9v0.9h-0.9zM457.8 84.1h0.9v0.9h-0.9zM466.6 85.8h0.9v0.9h-0.9zM458.1 88.5h0.9v0.9h-0.9zM458.0 86.9h0.9v0.9h-0.9zM462.9 83.5h0.9v0.9h-0.9zM455.3 86.5h0.9v0.9h-0.9zM455.8 80.8h0.9v0.9h-0.9zM462.9 88.7h0.9v0.9h-0.9zM451.4 88.6h0.9v0.9h-0.9zM455.4 91.1h0.9v0.9h-0.9zM458.9 89.2h0.9v0.9h-0.9zM454.2 88.4h0.9v0.9h-0.9zM461.2 90.7h0.9v0.9h-0.9zM456.3 90.4h0.9v0.9h-0.9zM459.9 89.8h0.9v0.9h-0.9zM463.6 90.0h0.9v0.9h-0.9zM461.5 87.4h0.9v0.9h-0.9zM450.5 91.4h0.9v0.9h-0.9zM460.6 87.3h0.9v0.9h-0.9zM460.2 90.9h0.9v0.9h-0.9zM458.7 87.7h0.9v0.9h-0.9zM454.0 83.5h0.9v0.9h-0.9zM453.9 88.1h0.9v0.9h-0.9zM455.8 88.2h0.9v0.9h-0.9zM452.0 85.6h0.9v0.9h-0.9zM463.2 91.1h0.9v0.9h-0.9zM462.8 84.0h0.9v0.9h-0.9zM458.3 88.9h0.9v0.9h-0.9zM461.1 89.9h0.9v0.9h-0.9zM458.2 90.0h0.9v0.9h-0.9zM458.4 91.5h0.9v0.9h-0.9zM453.2 90.8h0.9v0.9h-0.9zM451.3 87.9h0.9v0.9h-0.9zM460.7 87.9h0.9v0.9h-0.9zM458.9 88.9h0.9v0.9h-0.9zM452.9 88.8h0.9v0.9h-0.9zM463.3 90.2h0.9v0.9h-0.9zM458.1 88.3h0.9v0.9h-0.9zM457.1 89.1h0.9v0.9h-0.9zM469.7 87.3h0.9v0.9h-0.9zM453.9 88.2h0.9v0.9h-0.9zM466.2 80.1h0.9v0.9h-0.9zM469.3 77.9h0.9v0.9h-0.9zM458.6 77.9h0.9v0.9h-0.9zM455.9 81.1h0.9v0.9h-0.9zM466.6 87.3h0.9v0.9h-0.9zM454.8 86.9h0.9v0.9h-0.9zM464.0 83.6h0.9v0.9h-0.9zM464.9 78.3h0.9v0.9h-0.9zM471.5 91.9h0.9v0.9h-0.9zM472.8 75.6h0.9v0.9h-0.9zM474.1 87.7h0.9v0.9h-0.9zM460.8 90.6h0.9v0.9h-0.9zM466.8 90.6h0.9v0.9h-0.9zM456.9 78.2h0.9v0.9h-0.9zM456.9 75.6h0.9v0.9h-0.9zM460.0 83.7h0.9v0.9h-0.9zM460.1 85.7h0.9v0.9h-0.9zM473.7 88.2h0.9v0.9h-0.9zM454.7 84.4h0.9v0.9h-0.9zM461.8 74.7h0.9v0.9h-0.9zM467.3 88.2h0.9v0.9h-0.9zM452.2 86.6h0.9v0.9h-0.9zM468.3 88.5h0.9v0.9h-0.9zM473.6 85.7h0.9v0.9h-0.9zM471.3 83.1h0.9v0.9h-0.9zM482.4 91.9h0.9v0.9h-0.9zM463.8 89.4h0.9v0.9h-0.9z" fill="#000" fill-opacity="0.42"/>
<path d="M300.6 125.0h0.9v0.9h-0.9zM300.1 127.6h0.9v0.9h-0.9zM296.4 125.3h0.9v0.9h-0.9zM300.4 129.9h0.9v0.9h-0.9zM302.9 125.8h0.9v0.9h-0.9zM302.1 123.0h0.9v0.9h-0.9zM302.2 129.5h0.9v0.9h-0.9zM302.8 130.1h0.9v0.9h-0.9zM300.2 128.8h0.9v0.9h-0.9zM297.4 125.3h0.9v0.9h-0.9zM298.5 130.0h0.9v0.9h-0.9zM297.1 132.1h0.9v0.9h-0.9zM297.7 132.2h0.9v0.9h-0.9zM300.9 134.3h0.9v0.9h-0.9zM296.2 128.7h0.9v0.9h-0.9zM301.1 131.0h0.9v0.9h-0.9zM300.0 132.9h0.9v0.9h-0.9zM302.2 124.4h0.9v0.9h-0.9zM305.3 128.8h0.9v0.9h-0.9zM303.7 127.2h0.9v0.9h-0.9zM303.1 121.1h0.9v0.9h-0.9zM300.8 130.6h0.9v0.9h-0.9zM300.5 129.1h0.9v0.9h-0.9zM295.2 123.9h0.9v0.9h-0.9zM295.7 134.1h0.9v0.9h-0.9zM298.5 129.2h0.9v0.9h-0.9zM301.7 133.7h0.9v0.9h-0.9zM302.2 133.5h0.9v0.9h-0.9zM302.5 129.2h0.9v0.9h-0.9zM299.7 132.1h0.9v0.9h-0.9zM302.5 131.5h0.9v0.9h-0.9zM301.8 132.9h0.9v0.9h-0.9zM307.0 128.7h0.9v0.9h-0.9zM301.8 128.1h0.9v0.9h-0.9z" fill="#000" fill-opacity="0.4"/>
<path d="M301.2 131.5h0.9v0.9h-0.9zM297.7 126.6h0.9v0.9h-0.9zM295.6 129.3h0.9v0.9h-0.9zM302.3 128.6h0.9v0.9h-0.9zM299.3 134.2h0.9v0.9h-0.9zM299.0 124.4h0.9v0.9h-0.9zM299.0 132.5h0.9v0.9h-0.9zM302.0 125.6h0.9v0.9h-0.9zM299.6 130.2h0.9v0.9h-0.9zM303.7 128.5h0.9v0.9h-0.9zM296.6 128.4h0.9v0.9h-0.9zM302.8 129.9h0.9v0.9h-0.9zM295.1 133.3h0.9v0.9h-0.9zM299.9 135.5h0.9v0.9h-0.9zM299.8 126.7h0.9v0.9h-0.9zM305.2 121.9h0.9v0.9h-0.9zM301.0 123.3h0.9v0.9h-0.9zM295.2 131.8h0.9v0.9h-0.9zM304.6 127.9h0.9v0.9h-0.9zM302.9 126.5h0.9v0.9h-0.9zM296.6 132.8h0.9v0.9h-0.9zM301.3 124.9h0.9v0.9h-0.9zM298.3 130.4h0.9v0.9h-0.9zM301.6 129.2h0.9v0.9h-0.9zM297.2 125.3h0.9v0.9h-0.9zM301.3 130.2h0.9v0.9h-0.9zM301.2 122.7h0.9v0.9h-0.9zM301.5 124.6h0.9v0.9h-0.9zM302.2 127.1h0.9v0.9h-0.9zM302.4 124.8h0.9v0.9h-0.9zM295.6 127.7h0.9v0.9h-0.9zM298.8 126.3h0.9v0.9h-0.9zM299.6 125.1h0.9v0.9h-0.9z" fill="#000" fill-opacity="0.4"/>
<path d="M295.8 127.8h0.9v0.9h-0.9zM297.0 134.1h0.9v0.9h-0.9zM297.2 130.7h0.9v0.9h-0.9zM298.9 129.0h0.9v0.9h-0.9zM301.1 132.9h0.9v0.9h-0.9zM300.8 128.3h0.9v0.9h-0.9zM296.2 123.1h0.9v0.9h-0.9zM302.1 130.9h0.9v0.9h-0.9zM296.0 133.2h0.9v0.9h-0.9zM295.4 129.3h0.9v0.9h-0.9zM298.9 134.1h0.9v0.9h-0.9zM299.2 130.4h0.9v0.9h-0.9zM298.9 126.8h0.9v0.9h-0.9zM299.8 129.9h0.9v0.9h-0.9zM296.1 126.9h0.9v0.9h-0.9zM305.3 131.7h0.9v0.9h-0.9zM302.1 124.1h0.9v0.9h-0.9zM298.6 126.5h0.9v0.9h-0.9zM299.7 121.9h0.9v0.9h-0.9zM294.6 129.7h0.9v0.9h-0.9zM304.7 127.4h0.9v0.9h-0.9zM303.2 134.3h0.9v0.9h-0.9zM302.0 126.8h0.9v0.9h-0.9zM299.0 121.5h0.9v0.9h-0.9zM302.9 132.8h0.9v0.9h-0.9zM298.7 128.7h0.9v0.9h-0.9zM297.2 125.5h0.9v0.9h-0.9zM299.0 128.2h0.9v0.9h-0.9zM305.6 124.4h0.9v0.9h-0.9zM298.1 127.3h0.9v0.9h-0.9zM300.6 132.0h0.9v0.9h-0.9zM300.5 129.5h0.9v0.9h-0.9zM300.7 127.0h0.9v0.9h-0.9z" fill="#000" fill-opacity="0.4"/>
<path d="M296.2 125.7h0.9v0.9h-0.9zM299.9 122.9h0.9v0.9h-0.9zM303.8 133.5h0.9v0.9h-0.9zM304.9 123.6h0.9v0.9h-0.9zM297.3 131.1h0.9v0.9h-0.9zM303.0 139.4h0.9v0.9h-0.9zM297.3 129.4h0.9v0.9h-0.9zM303.0 132.7h0.9v0.9h-0.9zM301.2 128.4h0.9v0.9h-0.9zM305.2 123.4h0.9v0.9h-0.9zM300.6 127.7h0.9v0.9h-0.9zM301.0 122.4h0.9v0.9h-0.9zM294.7 123.0h0.9v0.9h-0.9zM305.8 126.9h0.9v0.9h-0.9zM295.5 124.6h0.9v0.9h-0.9zM295.3 138.9h0.9v0.9h-0.9zM302.4 137.5h0.9v0.9h-0.9zM304.9 143.8h0.9v0.9h-0.9zM305.7 136.2h0.9v0.9h-0.9zM294.9 130.8h0.9v0.9h-0.9zM301.5 145.1h0.9v0.9h-0.9zM306.6 125.5h0.9v0.9h-0.9zM302.2 145.0h0.9v0.9h-0.9zM299.6 135.8h0.9v0.9h-0.9zM303.6 126.6h0.9v0.9h-0.9zM298.3 136.4h0.9v0.9h-0.9zM301.2 134.1h0.9v0.9h-0.9zM300.7 132.8h0.9v0.9h-0.9zM302.0 140.0h0.9v0.9h-0.9zM304.0 137.5h0.9v0.9h-0.9zM299.9 141.2h0.9v0.9h-0.9zM309.1 130.0h0.9v0.9h-0.9zM300.4 138.5h0.9v0.9h-0.9zM299.8 131.8h0.9v0.9h-0.9zM308.9 129.6h0.9v0.9h-0.9zM303.9 137.6h0.9v0.9h-0.9zM291.0 142.9h0.9v0.9h-0.9zM306.2 138.1h0.9v0.9h-0.9zM291.1 121.9h0.9v0.9h-0.9zM300.5 126.0h0.9v0.9h-0.9zM300.1 135.9h0.9v0.9h-0.9zM299.4 140.8h0.9v0.9h-0.9zM301.1 131.0h0.9v0.9h-0.9zM301.6 115.8h0.9v0.9h-0.9zM293.0 133.0h0.9v0.9h-0.9z" fill="#000" fill-opacity="0.3"/>
<path d="M297.2 131.7h0.9v0.9h-0.9zM303.7 129.7h0.9v0.9h-0.9zM298.4 140.5h0.9v0.9h-0.9zM299.3 122.9h0.9v0.9h-0.9zM297.7 130.5h0.9v0.9h-0.9zM303.4 138.4h0.9v0.9h-0.9zM305.5 128.3h0.9v0.9h-0.9zM303.5 139.8h0.9v0.9h-0.9zM296.5 143.9h0.9v0.9h-0.9zM293.0 116.1h0.9v0.9h-0.9zM300.6 144.7h0.9v0.9h-0.9zM300.8 132.4h0.9v0.9h-0.9zM297.2 131.6h0.9v0.9h-0.9zM302.3 143.1h0.9v0.9h-0.9zM297.2 135.4h0.9v0.9h-0.9zM297.1 127.5h0.9v0.9h-0.9zM298.2 131.0h0.9v0.9h-0.9zM297.7 137.6h0.9v0.9h-0.9zM301.3 133.7h0.9v0.9h-0.9zM296.3 128.4h0.9v0.9h-0.9zM302.0 129.3h0.9v0.9h-0.9zM305.0 126.7h0.9v0.9h-0.9zM299.9 127.4h0.9v0.9h-0.9zM295.0 134.9h0.9v0.9h-0.9zM299.0 139.2h0.9v0.9h-0.9zM300.2 131.6h0.9v0.9h-0.9zM299.1 139.1h0.9v0.9h-0.9zM304.4 136.5h0.9v0.9h-0.9zM291.1 130.9h0.9v0.9h-0.9zM306.0 137.0h0.9v0.9h-0.9zM297.0 129.5h0.9v0.9h-0.9zM307.6 126.7h0.9v0.9h-0.9zM292.1 131.3h0.9v0.9h-0.9zM305.4 125.3h0.9v0.9h-0.9zM295.1 134.2h0.9v0.9h-0.9zM303.3 126.4h0.9v0.9h-0.9zM301.3 134.5h0.9v0.9h-0.9zM294.6 121.1h0.9v0.9h-0.9zM303.5 132.5h0.9v0.9h-0.9zM300.9 129.3h0.9v0.9h-0.9zM300.6 136.1h0.9v0.9h-0.9zM309.5 130.3h0.9v0.9h-0.9zM298.2 139.5h0.9v0.9h-0.9zM306.7 136.5h0.9v0.9h-0.9zM298.8 133.6h0.9v0.9h-0.9z" fill="#000" fill-opacity="0.3"/>
<path d="M303.7 167.4h0.9v0.9h-0.9zM302.3 170.7h0.9v0.9h-0.9zM299.4 166.3h0.9v0.9h-0.9zM300.4 162.0h0.9v0.9h-0.9zM298.1 163.9h0.9v0.9h-0.9zM296.8 170.1h0.9v0.9h-0.9zM298.4 170.2h0.9v0.9h-0.9zM299.9 167.1h0.9v0.9h-0.9zM301.3 170.4h0.9v0.9h-0.9zM297.8 164.3h0.9v0.9h-0.9zM315.1 168.5h0.9v0.9h-0.9zM303.5 167.6h0.9v0.9h-0.9zM297.6 162.5h0.9v0.9h-0.9zM301.7 169.1h0.9v0.9h-0.9zM303.9 170.1h0.9v0.9h-0.9zM303.8 166.5h0.9v0.9h-0.9zM299.1 168.5h0.9v0.9h-0.9zM296.2 172.3h0.9v0.9h-0.9zM303.4 169.7h0.9v0.9h-0.9zM298.4 165.8h0.9v0.9h-0.9zM296.5 170.6h0.9v0.9h-0.9zM298.5 169.6h0.9v0.9h-0.9zM301.6 164.5h0.9v0.9h-0.9zM294.9 170.3h0.9v0.9h-0.9zM301.7 172.6h0.9v0.9h-0.9zM298.8 168.0h0.9v0.9h-0.9zM303.2 171.4h0.9v0.9h-0.9zM296.5 173.0h0.9v0.9h-0.9zM294.2 170.3h0.9v0.9h-0.9zM301.7 163.8h0.9v0.9h-0.9zM304.1 171.4h0.9v0.9h-0.9zM297.1 165.5h0.9v0.9h-0.9zM295.4 170.0h0.9v0.9h-0.9zM305.8 164.0h0.9v0.9h-0.9zM304.8 168.0h0.9v0.9h-0.9zM299.2 166.2h0.9v0.9h-0.9zM299.8 165.9h0.9v0.9h-0.9zM301.1 166.5h0.9v0.9h-0.9zM291.0 169.5h0.9v0.9h-0.9zM291.2 162.5h0.9v0.9h-0.9zM299.4 172.2h0.9v0.9h-0.9zM293.7 159.2h0.9v0.9h-0.9zM299.0 168.0h0.9v0.9h-0.9zM304.9 163.5h0.9v0.9h-0.9zM298.3 169.3h0.9v0.9h-0.9zM300.2 170.5h0.9v0.9h-0.9zM306.2 166.0h0.9v0.9h-0.9zM302.7 171.3h0.9v0.9h-0.9zM299.1 168.3h0.9v0.9h-0.9zM295.9 169.9h0.9v0.9h-0.9zM298.9 162.4h0.9v0.9h-0.9zM297.5 165.9h0.9v0.9h-0.9zM300.2 171.5h0.9v0.9h-0.9zM297.8 167.1h0.9v0.9h-0.9zM298.7 166.9h0.9v0.9h-0.9zM303.4 167.5h0.9v0.9h-0.9zM301.2 160.6h0.9v0.9h-0.9zM295.8 165.8h0.9v0.9h-0.9zM305.9 168.4h0.9v0.9h-0.9zM291.3 167.1h0.9v0.9h-0.9zM299.5 167.7h0.9v0.9h-0.9zM297.9 172.6h0.9v0.9h-0.9zM292.7 168.7h0.9v0.9h-0.9zM297.0 166.9h0.9v0.9h-0.9zM307.9 169.6h0.9v0.9h-0.9zM303.6 170.8h0.9v0.9h-0.9zM295.2 166.4h0.9v0.9h-0.9zM298.8 162.8h0.9v0.9h-0.9zM305.6 163.8h0.9v0.9h-0.9zM296.1 168.1h0.9v0.9h-0.9zM297.4 172.5h0.9v0.9h-0.9zM298.9 165.2h0.9v0.9h-0.9zM298.7 166.7h0.9v0.9h-0.9zM297.4 167.2h0.9v0.9h-0.9zM296.9 166.1h0.9v0.9h-0.9zM295.4 169.8h0.9v0.9h-0.9zM301.5 170.1h0.9v0.9h-0.9zM293.9 168.6h0.9v0.9h-0.9zM291.0 168.0h0.9v0.9h-0.9zM302.4 171.7h0.9v0.9h-0.9zM297.8 169.8h0.9v0.9h-0.9zM300.3 165.7h0.9v0.9h-0.9zM294.0 162.9h0.9v0.9h-0.9zM296.9 169.0h0.9v0.9h-0.9zM302.7 166.5h0.9v0.9h-0.9zM294.5 161.8h0.9v0.9h-0.9zM299.8 163.4h0.9v0.9h-0.9zM298.3 165.4h0.9v0.9h-0.9zM304.2 168.3h0.9v0.9h-0.9zM300.0 168.7h0.9v0.9h-0.9zM300.6 168.2h0.9v0.9h-0.9zM302.4 164.5h0.9v0.9h-0.9zM301.1 170.4h0.9v0.9h-0.9zM299.0 169.9h0.9v0.9h-0.9zM300.2 166.2h0.9v0.9h-0.9zM296.8 167.3h0.9v0.9h-0.9zM303.4 170.4h0.9v0.9h-0.9zM299.2 167.7h0.9v0.9h-0.9zM299.3 164.8h0.9v0.9h-0.9zM297.6 170.3h0.9v0.9h-0.9zM296.8 165.3h0.9v0.9h-0.9zM303.0 166.1h0.9v0.9h-0.9zM301.4 164.0h0.9v0.9h-0.9zM295.9 169.7h0.9v0.9h-0.9zM301.8 161.5h0.9v0.9h-0.9zM303.8 163.9h0.9v0.9h-0.9zM298.1 170.9h0.9v0.9h-0.9zM291.9 168.2h0.9v0.9h-0.9zM295.6 163.3h0.9v0.9h-0.9zM299.4 167.0h0.9v0.9h-0.9zM303.3 172.8h0.9v0.9h-0.9zM297.1 159.2h0.9v0.9h-0.9zM299.0 165.1h0.9v0.9h-0.9zM307.7 172.9h0.9v0.9h-0.9zM298.8 167.8h0.9v0.9h-0.9zM289.9 167.8h0.9v0.9h-0.9zM298.0 166.2h0.9v0.9h-0.9zM294.5 164.2h0.9v0.9h-0.9zM299.7 171.1h0.9v0.9h-0.9zM302.0 166.5h0.9v0.9h-0.9zM302.4 171.3h0.9v0.9h-0.9zM298.3 167.2h0.9v0.9h-0.9zM297.7 170.3h0.9v0.9h-0.9zM295.4 169.0h0.9v0.9h-0.9zM301.1 169.1h0.9v0.9h-0.9zM298.8 170.9h0.9v0.9h-0.9zM301.2 164.7h0.9v0.9h-0.9zM301.0 172.4h0.9v0.9h-0.9zM292.5 171.8h0.9v0.9h-0.9zM299.6 170.7h0.9v0.9h-0.9zM301.7 172.5h0.9v0.9h-0.9zM301.9 165.6h0.9v0.9h-0.9zM299.7 162.5h0.9v0.9h-0.9zM298.5 167.6h0.9v0.9h-0.9zM298.8 171.1h0.9v0.9h-0.9zM295.0 166.5h0.9v0.9h-0.9zM305.9 171.6h0.9v0.9h-0.9zM301.8 167.3h0.9v0.9h-0.9zM294.7 171.7h0.9v0.9h-0.9zM296.4 169.9h0.9v0.9h-0.9zM298.9 162.5h0.9v0.9h-0.9zM299.0 162.0h0.9v0.9h-0.9zM297.0 167.1h0.9v0.9h-0.9zM292.2 172.9h0.9v0.9h-0.9zM305.5 163.8h0.9v0.9h-0.9zM302.9 168.5h0.9v0.9h-0.9zM298.1 169.1h0.9v0.9h-0.9zM302.4 172.5h0.9v0.9h-0.9zM299.3 172.8h0.9v0.9h-0.9zM302.9 167.8h0.9v0.9h-0.9zM297.2 167.2h0.9v0.9h-0.9zM298.9 162.9h0.9v0.9h-0.9zM300.5 165.3h0.9v0.9h-0.9zM301.2 163.4h0.9v0.9h-0.9zM295.7 168.6h0.9v0.9h-0.9zM304.2 166.6h0.9v0.9h-0.9zM299.5 168.7h0.9v0.9h-0.9zM300.6 166.5h0.9v0.9h-0.9zM297.8 169.3h0.9v0.9h-0.9zM293.1 167.3h0.9v0.9h-0.9zM307.8 164.2h0.9v0.9h-0.9zM295.9 169.7h0.9v0.9h-0.9zM305.7 170.1h0.9v0.9h-0.9zM294.1 168.0h0.9v0.9h-0.9zM300.2 163.6h0.9v0.9h-0.9zM305.6 171.8h0.9v0.9h-0.9zM307.5 163.1h0.9v0.9h-0.9zM295.2 167.5h0.9v0.9h-0.9zM300.6 171.3h0.9v0.9h-0.9zM302.4 172.9h0.9v0.9h-0.9zM304.4 172.0h0.9v0.9h-0.9zM296.2 169.9h0.9v0.9h-0.9zM305.0 169.4h0.9v0.9h-0.9zM295.9 163.9h0.9v0.9h-0.9zM296.3 167.4h0.9v0.9h-0.9zM305.9 160.4h0.9v0.9h-0.9zM299.5 171.7h0.9v0.9h-0.9zM297.8 167.3h0.9v0.9h-0.9zM297.5 170.7h0.9v0.9h-0.9zM301.4 172.4h0.9v0.9h-0.9zM301.5 170.3h0.9v0.9h-0.9zM290.6 170.7h0.9v0.9h-0.9zM302.2 168.8h0.9v0.9h-0.9zM292.9 168.2h0.9v0.9h-0.9zM297.8 169.7h0.9v0.9h-0.9zM293.1 164.1h0.9v0.9h-0.9zM295.0 166.2h0.9v0.9h-0.9zM296.5 163.8h0.9v0.9h-0.9zM300.1 173.0h0.9v0.9h-0.9zM300.6 163.9h0.9v0.9h-0.9zM301.0 170.3h0.9v0.9h-0.9zM294.4 165.5h0.9v0.9h-0.9zM301.8 166.6h0.9v0.9h-0.9zM300.7 168.8h0.9v0.9h-0.9zM300.2 170.5h0.9v0.9h-0.9zM292.4 163.4h0.9v0.9h-0.9zM299.6 170.5h0.9v0.9h-0.9zM296.3 166.9h0.9v0.9h-0.9zM300.6 164.7h0.9v0.9h-0.9zM302.3 167.7h0.9v0.9h-0.9zM294.3 172.8h0.9v0.9h-0.9zM301.9 172.4h0.9v0.9h-0.9zM299.2 166.5h0.9v0.9h-0.9zM298.2 170.0h0.9v0.9h-0.9zM305.3 168.4h0.9v0.9h-0.9zM299.5 167.8h0.9v0.9h-0.9zM300.4 168.8h0.9v0.9h-0.9zM298.8 166.5h0.9v0.9h-0.9zM296.7 162.2h0.9v0.9h-0.9zM298.6 163.6h0.9v0.9h-0.9zM293.2 164.6h0.9v0.9h-0.9zM299.4 165.7h0.9v0.9h-0.9zM295.1 168.8h0.9v0.9h-0.9zM294.5 169.1h0.9v0.9h-0.9zM305.3 165.5h0.9v0.9h-0.9zM301.8 164.7h0.9v0.9h-0.9zM299.7 166.5h0.9v0.9h-0.9zM303.7 164.0h0.9v0.9h-0.9zM306.7 166.1h0.9v0.9h-0.9zM300.8 172.7h0.9v0.9h-0.9zM300.4 159.9h0.9v0.9h-0.9zM300.5 170.0h0.9v0.9h-0.9zM300.7 172.4h0.9v0.9h-0.9zM299.7 162.0h0.9v0.9h-0.9zM299.8 171.9h0.9v0.9h-0.9zM293.7 159.0h0.9v0.9h-0.9zM295.3 164.9h0.9v0.9h-0.9zM300.6 166.9h0.9v0.9h-0.9zM290.9 172.4h0.9v0.9h-0.9zM306.9 166.9h0.9v0.9h-0.9zM302.3 165.8h0.9v0.9h-0.9zM307.3 170.1h0.9v0.9h-0.9zM293.7 166.6h0.9v0.9h-0.9zM290.9 172.6h0.9v0.9h-0.9zM294.9 166.7h0.9v0.9h-0.9zM303.9 163.1h0.9v0.9h-0.9zM298.5 162.3h0.9v0.9h-0.9zM302.9 167.2h0.9v0.9h-0.9zM309.1 165.7h0.9v0.9h-0.9zM308.2 168.8h0.9v0.9h-0.9zM309.3 166.2h0.9v0.9h-0.9zM305.8 166.3h0.9v0.9h-0.9zM314.0 168.5h0.9v0.9h-0.9zM296.6 168.1h0.9v0.9h-0.9zM303.6 156.4h0.9v0.9h-0.9zM306.4 166.0h0.9v0.9h-0.9zM303.0 166.0h0.9v0.9h-0.9zM300.8 163.4h0.9v0.9h-0.9zM300.5 162.2h0.9v0.9h-0.9zM312.9 171.8h0.9v0.9h-0.9zM312.6 167.8h0.9v0.9h-0.9zM322.4 166.2h0.9v0.9h-0.9zM313.9 170.8h0.9v0.9h-0.9zM312.8 167.2h0.9v0.9h-0.9zM315.6 166.7h0.9v0.9h-0.9z" fill="#000" fill-opacity="0.42"/>
<path d="M297.9 170.7h0.9v0.9h-0.9zM304.7 166.0h0.9v0.9h-0.9zM304.7 171.2h0.9v0.9h-0.9zM302.4 169.9h0.9v0.9h-0.9zM296.6 169.9h0.9v0.9h-0.9zM302.0 172.1h0.9v0.9h-0.9zM296.7 166.8h0.9v0.9h-0.9zM303.8 166.5h0.9v0.9h-0.9zM297.8 166.4h0.9v0.9h-0.9zM295.5 169.8h0.9v0.9h-0.9zM302.5 165.5h0.9v0.9h-0.9zM294.3 169.9h0.9v0.9h-0.9zM295.3 166.7h0.9v0.9h-0.9zM294.3 167.3h0.9v0.9h-0.9zM298.5 164.3h0.9v0.9h-0.9zM295.8 169.0h0.9v0.9h-0.9zM298.5 172.6h0.9v0.9h-0.9zM298.8 170.4h0.9v0.9h-0.9zM307.7 165.2h0.9v0.9h-0.9zM303.2 171.8h0.9v0.9h-0.9zM300.6 167.7h0.9v0.9h-0.9zM300.3 163.9h0.9v0.9h-0.9zM301.1 168.2h0.9v0.9h-0.9zM296.4 170.3h0.9v0.9h-0.9zM292.6 170.1h0.9v0.9h-0.9zM304.1 166.0h0.9v0.9h-0.9zM304.1 163.5h0.9v0.9h-0.9zM304.1 168.9h0.9v0.9h-0.9zM305.7 165.9h0.9v0.9h-0.9zM297.4 169.6h0.9v0.9h-0.9zM297.0 171.8h0.9v0.9h-0.9zM296.1 166.5h0.9v0.9h-0.9zM298.9 172.1h0.9v0.9h-0.9zM300.4 169.2h0.9v0.9h-0.9zM297.9 159.9h0.9v0.9h-0.9zM303.1 170.7h0.9v0.9h-0.9zM300.6 167.1h0.9v0.9h-0.9zM300.3 171.9h0.9v0.9h-0.9zM303.9 164.6h0.9v0.9h-0.9zM300.1 165.0h0.9v0.9h-0.9zM304.7 170.1h0.9v0.9h-0.9zM296.0 173.0h0.9v0.9h-0.9zM295.3 169.9h0.9v0.9h-0.9zM298.3 167.6h0.9v0.9h-0.9zM299.7 168.3h0.9v0.9h-0.9zM297.0 167.7h0.9v0.9h-0.9zM300.3 169.5h0.9v0.9h-0.9zM303.8 166.4h0.9v0.9h-0.9zM299.2 167.9h0.9v0.9h-0.9zM304.0 163.6h0.9v0.9h-0.9zM301.1 163.6h0.9v0.9h-0.9zM296.1 168.9h0.9v0.9h-0.9zM293.5 168.7h0.9v0.9h-0.9zM301.7 166.7h0.9v0.9h-0.9zM293.7 167.0h0.9v0.9h-0.9zM301.5 167.8h0.9v0.9h-0.9zM303.6 167.4h0.9v0.9h-0.9zM303.2 167.9h0.9v0.9h-0.9zM302.3 172.0h0.9v0.9h-0.9zM296.6 166.2h0.9v0.9h-0.9zM294.7 164.8h0.9v0.9h-0.9zM297.7 169.7h0.9v0.9h-0.9zM300.2 161.4h0.9v0.9h-0.9zM301.3 164.6h0.9v0.9h-0.9zM299.2 166.5h0.9v0.9h-0.9zM302.6 169.0h0.9v0.9h-0.9zM302.7 167.3h0.9v0.9h-0.9zM301.6 164.0h0.9v0.9h-0.9zM304.2 169.8h0.9v0.9h-0.9zM302.7 171.2h0.9v0.9h-0.9zM298.6 170.0h0.9v0.9h-0.9zM300.7 170.3h0.9v0.9h-0.9zM301.0 166.0h0.9v0.9h-0.9zM299.6 170.5h0.9v0.9h-0.9zM296.9 167.1h0.9v0.9h-0.9zM304.7 166.2h0.9v0.9h-0.9zM294.4 166.3h0.9v0.9h-0.9zM291.2 165.4h0.9v0.9h-0.9zM305.9 164.5h0.9v0.9h-0.9zM308.0 167.5h0.9v0.9h-0.9zM298.6 157.2h0.9v0.9h-0.9zM298.4 170.5h0.9v0.9h-0.9zM300.0 167.8h0.9v0.9h-0.9zM302.5 172.3h0.9v0.9h-0.9zM299.7 169.3h0.9v0.9h-0.9zM298.3 171.5h0.9v0.9h-0.9zM295.8 160.8h0.9v0.9h-0.9zM305.9 168.0h0.9v0.9h-0.9zM303.8 172.7h0.9v0.9h-0.9zM297.7 167.0h0.9v0.9h-0.9zM296.5 166.9h0.9v0.9h-0.9zM297.7 164.8h0.9v0.9h-0.9zM301.5 164.1h0.9v0.9h-0.9zM305.5 162.4h0.9v0.9h-0.9zM307.0 164.7h0.9v0.9h-0.9zM301.0 166.3h0.9v0.9h-0.9zM295.6 168.9h0.9v0.9h-0.9zM304.6 172.6h0.9v0.9h-0.9zM304.2 167.7h0.9v0.9h-0.9zM294.6 170.2h0.9v0.9h-0.9zM294.2 171.2h0.9v0.9h-0.9zM299.9 170.8h0.9v0.9h-0.9zM301.3 168.1h0.9v0.9h-0.9zM299.4 167.2h0.9v0.9h-0.9zM300.4 168.8h0.9v0.9h-0.9zM304.9 172.0h0.9v0.9h-0.9zM291.9 165.8h0.9v0.9h-0.9zM299.8 170.7h0.9v0.9h-0.9zM300.2 166.9h0.9v0.9h-0.9zM296.3 168.8h0.9v0.9h-0.9zM305.9 169.3h0.9v0.9h-0.9zM296.0 170.7h0.9v0.9h-0.9zM303.0 163.4h0.9v0.9h-0.9zM302.5 169.1h0.9v0.9h-0.9zM297.0 170.8h0.9v0.9h-0.9zM298.0 170.8h0.9v0.9h-0.9zM301.3 168.8h0.9v0.9h-0.9zM300.6 171.9h0.9v0.9h-0.9zM298.5 158.6h0.9v0.9h-0.9zM303.3 169.3h0.9v0.9h-0.9zM299.7 165.3h0.9v0.9h-0.9zM302.1 166.7h0.9v0.9h-0.9zM302.1 172.8h0.9v0.9h-0.9zM292.9 166.6h0.9v0.9h-0.9zM303.8 157.0h0.9v0.9h-0.9zM295.1 171.2h0.9v0.9h-0.9zM301.9 165.9h0.9v0.9h-0.9zM295.5 162.5h0.9v0.9h-0.9zM306.7 170.7h0.9v0.9h-0.9zM298.4 169.0h0.9v0.9h-0.9zM303.9 159.8h0.9v0.9h-0.9zM303.5 163.5h0.9v0.9h-0.9zM297.4 166.4h0.9v0.9h-0.9zM299.1 161.2h0.9v0.9h-0.9zM298.0 168.8h0.9v0.9h-0.9zM303.5 163.0h0.9v0.9h-0.9zM297.5 170.4h0.9v0.9h-0.9zM300.5 164.8h0.9v0.9h-0.9zM300.6 161.8h0.9v0.9h-0.9zM306.9 167.4h0.9v0.9h-0.9zM301.0 171.1h0.9v0.9h-0.9zM308.1 164.4h0.9v0.9h-0.9zM306.0 166.9h0.9v0.9h-0.9zM298.3 166.8h0.9v0.9h-0.9zM300.2 165.7h0.9v0.9h-0.9zM303.7 166.7h0.9v0.9h-0.9zM301.8 170.4h0.9v0.9h-0.9zM303.3 171.9h0.9v0.9h-0.9zM300.8 165.9h0.9v0.9h-0.9zM299.1 161.2h0.9v0.9h-0.9zM302.5 172.1h0.9v0.9h-0.9zM303.3 161.7h0.9v0.9h-0.9zM300.1 171.0h0.9v0.9h-0.9zM299.2 170.2h0.9v0.9h-0.9zM295.5 167.4h0.9v0.9h-0.9zM299.6 162.8h0.9v0.9h-0.9zM296.0 165.8h0.9v0.9h-0.9zM301.1 167.6h0.9v0.9h-0.9zM298.2 170.8h0.9v0.9h-0.9zM308.4 171.2h0.9v0.9h-0.9zM302.5 170.6h0.9v0.9h-0.9zM305.6 169.5h0.9v0.9h-0.9zM308.3 166.5h0.9v0.9h-0.9zM302.3 170.0h0.9v0.9h-0.9zM303.8 160.8h0.9v0.9h-0.9zM297.3 170.9h0.9v0.9h-0.9zM295.2 172.8h0.9v0.9h-0.9zM293.3 162.5h0.9v0.9h-0.9zM295.8 168.3h0.9v0.9h-0.9zM300.3 168.8h0.9v0.9h-0.9zM304.2 165.8h0.9v0.9h-0.9zM296.3 172.7h0.9v0.9h-0.9zM301.3 170.8h0.9v0.9h-0.9zM306.2 160.8h0.9v0.9h-0.9zM302.2 168.9h0.9v0.9h-0.9zM299.5 171.6h0.9v0.9h-0.9zM298.6 165.3h0.9v0.9h-0.9zM298.9 166.6h0.9v0.9h-0.9zM299.4 169.7h0.9v0.9h-0.9zM301.5 163.5h0.9v0.9h-0.9zM300.0 162.3h0.9v0.9h-0.9zM299.6 172.0h0.9v0.9h-0.9zM297.8 164.8h0.9v0.9h-0.9zM299.6 171.2h0.9v0.9h-0.9zM303.6 170.4h0.9v0.9h-0.9zM296.1 168.3h0.9v0.9h-0.9zM300.7 171.2h0.9v0.9h-0.9zM308.4 172.3h0.9v0.9h-0.9zM300.7 167.0h0.9v0.9h-0.9zM299.5 166.0h0.9v0.9h-0.9zM300.7 168.5h0.9v0.9h-0.9zM297.6 169.6h0.9v0.9h-0.9zM293.2 165.9h0.9v0.9h-0.9zM297.7 159.2h0.9v0.9h-0.9zM293.4 166.0h0.9v0.9h-0.9zM301.0 163.2h0.9v0.9h-0.9zM295.7 167.2h0.9v0.9h-0.9zM295.3 169.4h0.9v0.9h-0.9zM306.2 169.2h0.9v0.9h-0.9zM301.5 172.9h0.9v0.9h-0.9zM300.0 161.8h0.9v0.9h-0.9zM300.5 165.3h0.9v0.9h-0.9zM302.4 161.6h0.9v0.9h-0.9zM297.6 162.3h0.9v0.9h-0.9zM307.6 164.4h0.9v0.9h-0.9zM295.4 166.4h0.9v0.9h-0.9zM300.4 167.0h0.9v0.9h-0.9zM297.6 170.5h0.9v0.9h-0.9zM295.0 160.3h0.9v0.9h-0.9zM303.2 166.9h0.9v0.9h-0.9zM297.0 165.3h0.9v0.9h-0.9zM296.5 170.5h0.9v0.9h-0.9zM296.1 170.7h0.9v0.9h-0.9zM295.8 164.9h0.9v0.9h-0.9zM298.4 163.3h0.9v0.9h-0.9zM297.9 171.9h0.9v0.9h-0.9zM298.2 167.8h0.9v0.9h-0.9zM301.7 165.1h0.9v0.9h-0.9zM301.2 165.5h0.9v0.9h-0.9zM302.9 161.1h0.9v0.9h-0.9zM307.4 168.9h0.9v0.9h-0.9zM306.4 172.7h0.9v0.9h-0.9zM296.9 168.7h0.9v0.9h-0.9zM300.5 163.8h0.9v0.9h-0.9zM303.3 170.1h0.9v0.9h-0.9zM309.4 160.8h0.9v0.9h-0.9zM307.7 166.3h0.9v0.9h-0.9zM307.5 165.2h0.9v0.9h-0.9zM308.1 170.2h0.9v0.9h-0.9zM300.4 168.9h0.9v0.9h-0.9zM297.7 163.2h0.9v0.9h-0.9zM303.9 163.8h0.9v0.9h-0.9zM296.0 170.0h0.9v0.9h-0.9zM295.2 169.0h0.9v0.9h-0.9zM293.7 165.9h0.9v0.9h-0.9zM294.1 161.9h0.9v0.9h-0.9zM298.5 169.9h0.9v0.9h-0.9zM295.7 169.7h0.9v0.9h-0.9zM314.7 165.5h0.9v0.9h-0.9zM301.3 165.9h0.9v0.9h-0.9zM292.5 170.8h0.9v0.9h-0.9zM300.9 170.3h0.9v0.9h-0.9zM301.9 163.8h0.9v0.9h-0.9zM291.8 162.2h0.9v0.9h-0.9zM299.0 162.8h0.9v0.9h-0.9zM317.7 172.2h0.9v0.9h-0.9zM300.4 168.7h0.9v0.9h-0.9zM303.5 167.4h0.9v0.9h-0.9zM290.0 162.1h0.9v0.9h-0.9zM296.4 162.6h0.9v0.9h-0.9zM311.0 168.4h0.9v0.9h-0.9zM307.3 165.7h0.9v0.9h-0.9zM311.1 170.7h0.9v0.9h-0.9zM316.1 171.3h0.9v0.9h-0.9z" fill="#000" fill-opacity="0.42"/>
<path d="M302.2 171.2h0.9v0.9h-0.9zM297.0 165.6h0.9v0.9h-0.9zM302.4 169.4h0.9v0.9h-0.9zM290.9 166.6h0.9v0.9h-0.9zM299.1 171.4h0.9v0.9h-0.9zM299.3 165.4h0.9v0.9h-0.9zM293.7 169.6h0.9v0.9h-0.9zM305.8 162.7h0.9v0.9h-0.9zM295.4 164.0h0.9v0.9h-0.9zM298.3 168.6h0.9v0.9h-0.9zM292.1 167.7h0.9v0.9h-0.9zM301.2 172.7h0.9v0.9h-0.9zM295.8 167.1h0.9v0.9h-0.9zM297.0 171.5h0.9v0.9h-0.9zM301.8 169.6h0.9v0.9h-0.9zM297.7 167.9h0.9v0.9h-0.9zM305.6 162.3h0.9v0.9h-0.9zM295.1 168.2h0.9v0.9h-0.9zM298.1 170.7h0.9v0.9h-0.9zM294.3 164.1h0.9v0.9h-0.9zM304.2 167.6h0.9v0.9h-0.9zM294.6 164.3h0.9v0.9h-0.9zM305.3 165.8h0.9v0.9h-0.9zM298.0 171.7h0.9v0.9h-0.9zM298.5 168.7h0.9v0.9h-0.9zM304.7 166.4h0.9v0.9h-0.9zM304.0 161.1h0.9v0.9h-0.9zM300.4 166.6h0.9v0.9h-0.9zM301.9 170.7h0.9v0.9h-0.9zM303.1 167.9h0.9v0.9h-0.9zM299.6 166.1h0.9v0.9h-0.9zM303.8 170.8h0.9v0.9h-0.9zM297.0 161.0h0.9v0.9h-0.9zM301.0 170.2h0.9v0.9h-0.9zM302.2 168.0h0.9v0.9h-0.9zM302.6 167.2h0.9v0.9h-0.9zM300.6 162.4h0.9v0.9h-0.9zM301.8 160.8h0.9v0.9h-0.9zM301.6 168.1h0.9v0.9h-0.9zM308.0 167.3h0.9v0.9h-0.9zM306.3 165.5h0.9v0.9h-0.9zM299.9 168.1h0.9v0.9h-0.9zM302.4 170.2h0.9v0.9h-0.9zM297.1 160.2h0.9v0.9h-0.9zM298.6 170.1h0.9v0.9h-0.9zM299.8 166.2h0.9v0.9h-0.9zM301.9 171.0h0.9v0.9h-0.9zM295.7 171.7h0.9v0.9h-0.9zM303.1 170.2h0.9v0.9h-0.9zM306.5 168.0h0.9v0.9h-0.9zM302.0 170.6h0.9v0.9h-0.9zM299.3 168.8h0.9v0.9h-0.9zM298.4 166.8h0.9v0.9h-0.9zM309.0 170.7h0.9v0.9h-0.9zM299.4 167.7h0.9v0.9h-0.9zM298.6 171.7h0.9v0.9h-0.9zM297.3 172.1h0.9v0.9h-0.9zM304.6 170.5h0.9v0.9h-0.9zM310.5 166.9h0.9v0.9h-0.9zM301.4 163.8h0.9v0.9h-0.9zM307.1 173.0h0.9v0.9h-0.9zM301.5 163.6h0.9v0.9h-0.9zM299.2 170.6h0.9v0.9h-0.9zM292.6 168.3h0.9v0.9h-0.9zM298.1 163.9h0.9v0.9h-0.9zM301.6 172.7h0.9v0.9h-0.9zM296.9 172.8h0.9v0.9h-0.9zM300.8 167.2h0.9v0.9h-0.9zM300.7 170.4h0.9v0.9h-0.9zM298.2 168.9h0.9v0.9h-0.9zM302.3 171.5h0.9v0.9h-0.9zM298.8 167.9h0.9v0.9h-0.9zM297.6 163.1h0.9v0.9h-0.9zM299.8 163.3h0.9v0.9h-0.9zM301.3 171.5h0.9v0.9h-0.9zM299.5 172.6h0.9v0.9h-0.9zM297.6 170.7h0.9v0.9h-0.9zM303.3 172.4h0.9v0.9h-0.9zM299.0 169.8h0.9v0.9h-0.9zM300.3 166.2h0.9v0.9h-0.9zM300.9 172.2h0.9v0.9h-0.9zM297.3 167.1h0.9v0.9h-0.9zM300.3 169.7h0.9v0.9h-0.9zM298.0 170.0h0.9v0.9h-0.9zM297.9 169.5h0.9v0.9h-0.9zM291.0 170.4h0.9v0.9h-0.9zM296.5 166.7h0.9v0.9h-0.9zM300.9 172.3h0.9v0.9h-0.9zM299.0 163.6h0.9v0.9h-0.9zM305.5 161.5h0.9v0.9h-0.9zM311.0 167.0h0.9v0.9h-0.9zM302.8 167.0h0.9v0.9h-0.9zM302.4 169.0h0.9v0.9h-0.9zM299.5 167.3h0.9v0.9h-0.9zM299.9 169.7h0.9v0.9h-0.9zM291.9 167.8h0.9v0.9h-0.9zM299.0 169.0h0.9v0.9h-0.9zM299.2 166.8h0.9v0.9h-0.9zM294.5 168.2h0.9v0.9h-0.9zM302.1 169.2h0.9v0.9h-0.9zM298.1 172.4h0.9v0.9h-0.9zM300.4 172.2h0.9v0.9h-0.9zM300.0 168.0h0.9v0.9h-0.9zM295.3 161.8h0.9v0.9h-0.9zM297.9 171.5h0.9v0.9h-0.9zM294.2 161.6h0.9v0.9h-0.9zM293.3 163.8h0.9v0.9h-0.9zM301.1 172.9h0.9v0.9h-0.9zM298.4 167.5h0.9v0.9h-0.9zM295.9 171.0h0.9v0.9h-0.9zM298.5 162.7h0.9v0.9h-0.9zM301.7 170.0h0.9v0.9h-0.9zM297.9 162.5h0.9v0.9h-0.9zM294.8 172.0h0.9v0.9h-0.9zM293.1 168.6h0.9v0.9h-0.9zM292.6 164.4h0.9v0.9h-0.9zM301.6 165.2h0.9v0.9h-0.9zM299.0 172.7h0.9v0.9h-0.9zM300.8 170.9h0.9v0.9h-0.9zM293.9 166.7h0.9v0.9h-0.9zM298.4 165.3h0.9v0.9h-0.9zM297.1 168.4h0.9v0.9h-0.9zM302.4 169.5h0.9v0.9h-0.9zM297.0 168.2h0.9v0.9h-0.9zM302.0 165.8h0.9v0.9h-0.9zM298.0 162.3h0.9v0.9h-0.9zM307.8 163.9h0.9v0.9h-0.9zM305.7 164.2h0.9v0.9h-0.9zM303.3 169.6h0.9v0.9h-0.9zM297.4 165.0h0.9v0.9h-0.9zM307.2 172.0h0.9v0.9h-0.9zM298.2 172.2h0.9v0.9h-0.9zM295.5 169.0h0.9v0.9h-0.9zM293.9 169.2h0.9v0.9h-0.9zM303.2 168.8h0.9v0.9h-0.9zM295.9 167.3h0.9v0.9h-0.9zM299.0 161.3h0.9v0.9h-0.9zM295.1 163.4h0.9v0.9h-0.9zM303.3 166.4h0.9v0.9h-0.9zM301.9 167.0h0.9v0.9h-0.9zM299.1 166.2h0.9v0.9h-0.9zM298.4 169.5h0.9v0.9h-0.9zM301.0 169.4h0.9v0.9h-0.9zM304.0 164.5h0.9v0.9h-0.9zM299.0 169.6h0.9v0.9h-0.9zM295.8 163.8h0.9v0.9h-0.9zM298.2 167.6h0.9v0.9h-0.9zM306.1 169.2h0.9v0.9h-0.9zM302.1 171.8h0.9v0.9h-0.9zM298.0 171.2h0.9v0.9h-0.9zM295.8 171.6h0.9v0.9h-0.9zM302.3 168.1h0.9v0.9h-0.9zM299.0 163.1h0.9v0.9h-0.9zM298.5 161.8h0.9v0.9h-0.9zM294.0 166.6h0.9v0.9h-0.9zM294.8 166.8h0.9v0.9h-0.9zM295.4 165.6h0.9v0.9h-0.9zM304.3 171.2h0.9v0.9h-0.9zM299.2 166.2h0.9v0.9h-0.9zM300.9 162.3h0.9v0.9h-0.9zM308.5 163.1h0.9v0.9h-0.9zM299.1 172.6h0.9v0.9h-0.9zM294.5 169.5h0.9v0.9h-0.9zM300.8 165.9h0.9v0.9h-0.9zM298.6 166.8h0.9v0.9h-0.9zM301.4 162.0h0.9v0.9h-0.9zM296.5 167.3h0.9v0.9h-0.9zM298.3 171.2h0.9v0.9h-0.9zM301.3 165.7h0.9v0.9h-0.9zM301.9 171.7h0.9v0.9h-0.9zM291.6 167.2h0.9v0.9h-0.9zM298.1 167.4h0.9v0.9h-0.9zM301.3 163.5h0.9v0.9h-0.9zM298.0 168.0h0.9v0.9h-0.9zM299.3 166.9h0.9v0.9h-0.9zM301.2 168.7h0.9v0.9h-0.9zM299.0 166.7h0.9v0.9h-0.9zM298.7 167.7h0.9v0.9h-0.9zM304.1 164.4h0.9v0.9h-0.9zM297.8 163.8h0.9v0.9h-0.9zM303.4 170.9h0.9v0.9h-0.9zM298.3 169.1h0.9v0.9h-0.9zM303.5 163.7h0.9v0.9h-0.9zM296.3 168.9h0.9v0.9h-0.9zM301.1 170.0h0.9v0.9h-0.9zM295.3 162.4h0.9v0.9h-0.9zM304.3 169.5h0.9v0.9h-0.9zM303.5 160.7h0.9v0.9h-0.9zM305.0 167.9h0.9v0.9h-0.9zM299.1 167.8h0.9v0.9h-0.9zM301.3 169.5h0.9v0.9h-0.9zM303.9 168.2h0.9v0.9h-0.9zM296.1 167.1h0.9v0.9h-0.9zM297.9 169.7h0.9v0.9h-0.9zM306.2 169.4h0.9v0.9h-0.9zM300.8 167.0h0.9v0.9h-0.9zM296.5 168.8h0.9v0.9h-0.9zM306.5 164.9h0.9v0.9h-0.9zM293.4 162.8h0.9v0.9h-0.9zM302.0 164.6h0.9v0.9h-0.9zM296.7 169.7h0.9v0.9h-0.9zM297.7 169.8h0.9v0.9h-0.9zM295.7 169.3h0.9v0.9h-0.9zM302.8 172.4h0.9v0.9h-0.9zM300.8 167.2h0.9v0.9h-0.9zM294.7 166.5h0.9v0.9h-0.9zM299.6 164.3h0.9v0.9h-0.9zM298.7 171.6h0.9v0.9h-0.9zM300.8 169.9h0.9v0.9h-0.9zM303.4 160.1h0.9v0.9h-0.9zM295.2 165.9h0.9v0.9h-0.9zM305.8 172.7h0.9v0.9h-0.9zM307.6 163.6h0.9v0.9h-0.9zM295.7 166.4h0.9v0.9h-0.9zM300.7 171.1h0.9v0.9h-0.9zM304.0 167.0h0.9v0.9h-0.9zM296.4 166.1h0.9v0.9h-0.9zM301.9 164.7h0.9v0.9h-0.9zM301.9 166.5h0.9v0.9h-0.9zM293.8 169.3h0.9v0.9h-0.9zM298.5 164.6h0.9v0.9h-0.9zM291.2 169.7h0.9v0.9h-0.9zM297.2 166.9h0.9v0.9h-0.9zM304.2 169.5h0.9v0.9h-0.9zM297.6 170.2h0.9v0.9h-0.9zM302.8 166.6h0.9v0.9h-0.9zM298.9 165.3h0.9v0.9h-0.9zM293.5 167.3h0.9v0.9h-0.9zM296.5 169.6h0.9v0.9h-0.9zM299.3 166.0h0.9v0.9h-0.9zM308.3 169.4h0.9v0.9h-0.9zM304.1 169.6h0.9v0.9h-0.9zM296.8 169.2h0.9v0.9h-0.9zM299.2 169.6h0.9v0.9h-0.9zM305.0 159.5h0.9v0.9h-0.9zM301.9 164.3h0.9v0.9h-0.9zM305.1 159.1h0.9v0.9h-0.9zM306.6 165.8h0.9v0.9h-0.9zM297.1 169.8h0.9v0.9h-0.9zM299.3 154.1h0.9v0.9h-0.9zM298.7 161.4h0.9v0.9h-0.9zM293.2 166.9h0.9v0.9h-0.9zM300.1 158.8h0.9v0.9h-0.9zM313.0 164.2h0.9v0.9h-0.9zM302.9 161.8h0.9v0.9h-0.9zM294.0 167.6h0.9v0.9h-0.9zM296.8 160.3h0.9v0.9h-0.9zM290.7 163.5h0.9v0.9h-0.9zM300.8 166.0h0.9v0.9h-0.9zM305.1 169.3h0.9v0.9h-0.9zM331.1 170.5h0.9v0.9h-0.9zM313.9 168.9h0.9v0.9h-0.9zM308.4 169.7h0.9v0.9h-0.9zM314.7 168.0h0.9v0.9h-0.9z" fill="#000" fill-opacity="0.42"/>
<path d="M302.8 161.0h0.9v0.9h-0.9zM303.2 167.0h0.9v0.9h-0.9zM299.5 161.4h0.9v0.9h-0.9zM296.8 170.0h0.9v0.9h-0.9zM300.9 168.6h0.9v0.9h-0.9zM297.7 171.1h0.9v0.9h-0.9zM306.5 164.5h0.9v0.9h-0.9zM300.0 170.1h0.9v0.9h-0.9zM300.9 171.3h0.9v0.9h-0.9zM299.4 165.0h0.9v0.9h-0.9zM301.5 168.9h0.9v0.9h-0.9zM300.8 170.6h0.9v0.9h-0.9zM299.8 169.4h0.9v0.9h-0.9zM300.3 169.9h0.9v0.9h-0.9zM300.6 165.0h0.9v0.9h-0.9zM300.9 168.5h0.9v0.9h-0.9zM303.9 168.3h0.9v0.9h-0.9zM306.5 162.5h0.9v0.9h-0.9zM294.4 169.3h0.9v0.9h-0.9zM299.3 172.0h0.9v0.9h-0.9zM297.2 171.4h0.9v0.9h-0.9zM300.1 160.8h0.9v0.9h-0.9zM304.5 172.0h0.9v0.9h-0.9zM302.6 162.2h0.9v0.9h-0.9zM306.5 170.9h0.9v0.9h-0.9zM307.1 166.9h0.9v0.9h-0.9zM301.1 167.1h0.9v0.9h-0.9zM304.2 172.2h0.9v0.9h-0.9zM305.1 170.4h0.9v0.9h-0.9zM305.3 170.7h0.9v0.9h-0.9zM299.0 169.7h0.9v0.9h-0.9zM296.7 168.9h0.9v0.9h-0.9zM298.0 165.5h0.9v0.9h-0.9zM303.9 170.3h0.9v0.9h-0.9zM303.3 164.7h0.9v0.9h-0.9zM302.2 168.1h0.9v0.9h-0.9zM302.1 170.4h0.9v0.9h-0.9zM299.8 167.6h0.9v0.9h-0.9zM299.7 168.7h0.9v0.9h-0.9zM301.1 164.4h0.9v0.9h-0.9zM306.0 165.9h0.9v0.9h-0.9zM298.8 164.5h0.9v0.9h-0.9zM299.0 163.9h0.9v0.9h-0.9zM298.9 164.1h0.9v0.9h-0.9zM292.0 169.4h0.9v0.9h-0.9zM296.4 172.7h0.9v0.9h-0.9zM294.3 170.1h0.9v0.9h-0.9zM297.2 160.3h0.9v0.9h-0.9zM304.3 161.7h0.9v0.9h-0.9zM292.7 166.3h0.9v0.9h-0.9zM299.7 170.6h0.9v0.9h-0.9zM300.0 159.7h0.9v0.9h-0.9zM297.8 158.8h0.9v0.9h-0.9zM294.7 170.5h0.9v0.9h-0.9zM294.9 167.8h0.9v0.9h-0.9zM300.2 166.0h0.9v0.9h-0.9zM299.5 168.9h0.9v0.9h-0.9zM298.5 164.8h0.9v0.9h-0.9zM298.6 170.6h0.9v0.9h-0.9zM300.8 172.2h0.9v0.9h-0.9zM303.3 162.4h0.9v0.9h-0.9zM294.4 171.1h0.9v0.9h-0.9zM301.5 165.6h0.9v0.9h-0.9zM301.2 171.3h0.9v0.9h-0.9zM301.7 166.3h0.9v0.9h-0.9zM300.5 163.3h0.9v0.9h-0.9zM300.2 170.3h0.9v0.9h-0.9zM301.3 170.8h0.9v0.9h-0.9zM306.4 164.9h0.9v0.9h-0.9zM304.5 165.7h0.9v0.9h-0.9zM293.7 166.0h0.9v0.9h-0.9zM299.5 169.6h0.9v0.9h-0.9zM297.4 167.8h0.9v0.9h-0.9zM303.7 164.4h0.9v0.9h-0.9zM303.4 172.1h0.9v0.9h-0.9zM296.6 166.7h0.9v0.9h-0.9zM297.6 168.9h0.9v0.9h-0.9zM306.7 169.0h0.9v0.9h-0.9zM297.7 165.0h0.9v0.9h-0.9zM298.3 171.9h0.9v0.9h-0.9zM297.8 161.6h0.9v0.9h-0.9zM301.9 168.1h0.9v0.9h-0.9zM298.9 166.6h0.9v0.9h-0.9zM301.1 167.8h0.9v0.9h-0.9zM298.5 170.7h0.9v0.9h-0.9zM298.7 164.1h0.9v0.9h-0.9zM296.9 164.9h0.9v0.9h-0.9zM294.7 167.3h0.9v0.9h-0.9zM300.7 171.4h0.9v0.9h-0.9zM296.2 171.9h0.9v0.9h-0.9zM310.1 167.7h0.9v0.9h-0.9zM303.0 171.3h0.9v0.9h-0.9zM304.3 170.5h0.9v0.9h-0.9zM300.6 164.5h0.9v0.9h-0.9zM305.2 169.8h0.9v0.9h-0.9zM300.5 165.8h0.9v0.9h-0.9zM299.5 162.8h0.9v0.9h-0.9zM302.6 165.4h0.9v0.9h-0.9zM301.9 172.5h0.9v0.9h-0.9zM307.5 165.7h0.9v0.9h-0.9zM304.6 165.1h0.9v0.9h-0.9zM297.1 170.2h0.9v0.9h-0.9zM297.6 169.1h0.9v0.9h-0.9zM302.4 164.5h0.9v0.9h-0.9zM300.2 166.2h0.9v0.9h-0.9zM300.0 160.3h0.9v0.9h-0.9zM298.6 170.0h0.9v0.9h-0.9zM300.8 160.7h0.9v0.9h-0.9zM299.5 165.5h0.9v0.9h-0.9zM305.6 164.1h0.9v0.9h-0.9zM296.1 170.3h0.9v0.9h-0.9zM302.1 163.8h0.9v0.9h-0.9zM301.1 168.8h0.9v0.9h-0.9zM301.3 169.7h0.9v0.9h-0.9zM300.2 168.0h0.9v0.9h-0.9zM301.3 173.0h0.9v0.9h-0.9zM300.0 165.5h0.9v0.9h-0.9zM300.9 166.6h0.9v0.9h-0.9zM298.1 168.2h0.9v0.9h-0.9zM298.4 168.8h0.9v0.9h-0.9zM297.4 165.6h0.9v0.9h-0.9zM297.5 168.2h0.9v0.9h-0.9zM302.6 164.9h0.9v0.9h-0.9zM295.2 169.3h0.9v0.9h-0.9zM302.2 168.4h0.9v0.9h-0.9zM299.1 170.6h0.9v0.9h-0.9zM303.0 165.2h0.9v0.9h-0.9zM295.8 169.8h0.9v0.9h-0.9zM296.0 169.4h0.9v0.9h-0.9zM297.9 168.6h0.9v0.9h-0.9zM303.0 169.5h0.9v0.9h-0.9zM294.9 166.8h0.9v0.9h-0.9zM302.9 167.9h0.9v0.9h-0.9zM297.2 170.0h0.9v0.9h-0.9zM301.7 165.0h0.9v0.9h-0.9zM303.1 172.5h0.9v0.9h-0.9zM297.1 170.5h0.9v0.9h-0.9zM299.8 161.6h0.9v0.9h-0.9zM301.5 160.6h0.9v0.9h-0.9zM298.5 170.8h0.9v0.9h-0.9zM298.1 167.1h0.9v0.9h-0.9zM304.8 167.6h0.9v0.9h-0.9zM299.3 167.2h0.9v0.9h-0.9zM296.2 164.6h0.9v0.9h-0.9zM295.0 160.7h0.9v0.9h-0.9zM299.5 170.8h0.9v0.9h-0.9zM302.2 172.0h0.9v0.9h-0.9zM295.5 164.2h0.9v0.9h-0.9zM295.2 168.1h0.9v0.9h-0.9zM297.8 167.8h0.9v0.9h-0.9zM301.3 168.1h0.9v0.9h-0.9zM301.5 165.4h0.9v0.9h-0.9zM297.4 166.0h0.9v0.9h-0.9zM296.8 169.3h0.9v0.9h-0.9zM299.5 169.9h0.9v0.9h-0.9zM297.7 168.2h0.9v0.9h-0.9zM294.6 171.8h0.9v0.9h-0.9zM295.2 166.4h0.9v0.9h-0.9zM304.6 162.3h0.9v0.9h-0.9zM291.6 166.0h0.9v0.9h-0.9zM297.3 167.2h0.9v0.9h-0.9zM297.1 170.1h0.9v0.9h-0.9zM299.9 171.9h0.9v0.9h-0.9zM295.8 167.8h0.9v0.9h-0.9zM297.5 172.0h0.9v0.9h-0.9zM297.0 169.1h0.9v0.9h-0.9zM294.7 167.9h0.9v0.9h-0.9zM297.1 168.3h0.9v0.9h-0.9zM301.6 172.0h0.9v0.9h-0.9zM301.4 165.4h0.9v0.9h-0.9zM300.1 164.7h0.9v0.9h-0.9zM300.6 169.9h0.9v0.9h-0.9zM301.9 168.1h0.9v0.9h-0.9zM297.3 170.9h0.9v0.9h-0.9zM299.4 170.2h0.9v0.9h-0.9zM299.0 167.6h0.9v0.9h-0.9zM300.7 171.3h0.9v0.9h-0.9zM294.6 163.5h0.9v0.9h-0.9zM301.8 168.4h0.9v0.9h-0.9zM297.7 162.0h0.9v0.9h-0.9zM303.6 166.2h0.9v0.9h-0.9zM295.1 164.8h0.9v0.9h-0.9zM303.5 161.5h0.9v0.9h-0.9zM303.5 171.1h0.9v0.9h-0.9zM296.1 171.5h0.9v0.9h-0.9zM303.9 170.4h0.9v0.9h-0.9zM306.1 165.0h0.9v0.9h-0.9zM303.2 163.7h0.9v0.9h-0.9zM298.1 162.6h0.9v0.9h-0.9zM304.5 172.5h0.9v0.9h-0.9zM301.8 167.3h0.9v0.9h-0.9zM307.0 165.2h0.9v0.9h-0.9zM306.0 169.7h0.9v0.9h-0.9zM298.9 171.4h0.9v0.9h-0.9zM291.7 164.1h0.9v0.9h-0.9zM300.9 164.8h0.9v0.9h-0.9zM302.0 160.7h0.9v0.9h-0.9zM298.4 168.8h0.9v0.9h-0.9zM299.3 169.6h0.9v0.9h-0.9zM301.1 164.7h0.9v0.9h-0.9zM302.2 168.0h0.9v0.9h-0.9zM303.7 170.0h0.9v0.9h-0.9zM299.3 171.3h0.9v0.9h-0.9zM299.5 168.2h0.9v0.9h-0.9zM291.6 167.3h0.9v0.9h-0.9zM303.5 166.2h0.9v0.9h-0.9zM295.9 166.1h0.9v0.9h-0.9zM299.8 165.7h0.9v0.9h-0.9zM293.6 171.3h0.9v0.9h-0.9zM293.3 170.1h0.9v0.9h-0.9zM302.3 170.2h0.9v0.9h-0.9zM295.6 168.1h0.9v0.9h-0.9zM302.7 164.4h0.9v0.9h-0.9zM299.9 170.9h0.9v0.9h-0.9zM294.6 166.0h0.9v0.9h-0.9zM304.3 166.7h0.9v0.9h-0.9zM301.1 161.4h0.9v0.9h-0.9zM293.6 165.8h0.9v0.9h-0.9zM295.6 171.3h0.9v0.9h-0.9zM296.0 171.1h0.9v0.9h-0.9zM300.4 169.1h0.9v0.9h-0.9zM295.5 165.5h0.9v0.9h-0.9zM302.6 167.6h0.9v0.9h-0.9zM304.6 159.9h0.9v0.9h-0.9zM301.3 161.8h0.9v0.9h-0.9zM305.6 154.7h0.9v0.9h-0.9zM298.6 168.5h0.9v0.9h-0.9zM317.8 160.8h0.9v0.9h-0.9zM304.1 155.2h0.9v0.9h-0.9zM301.4 161.9h0.9v0.9h-0.9zM300.2 167.3h0.9v0.9h-0.9zM296.4 171.2h0.9v0.9h-0.9zM324.7 167.3h0.9v0.9h-0.9zM307.5 169.5h0.9v0.9h-0.9zM308.4 161.8h0.9v0.9h-0.9zM306.2 171.2h0.9v0.9h-0.9zM297.1 163.4h0.9v0.9h-0.9zM309.5 157.7h0.9v0.9h-0.9zM294.1 167.3h0.9v0.9h-0.9zM306.4 171.9h0.9v0.9h-0.9zM293.9 166.7h0.9v0.9h-0.9zM298.1 164.9h0.9v0.9h-0.9zM297.7 162.0h0.9v0.9h-0.9zM299.1 166.3h0.9v0.9h-0.9zM313.1 162.7h0.9v0.9h-0.9zM306.1 166.6h0.9v0.9h-0.9zM300.1 165.6h0.9v0.9h-0.9zM297.1 160.7h0.9v0.9h-0.9zM309.8 167.5h0.9v0.9h-0.9zM303.6 164.4h0.9v0.9h-0.9zM309.6 166.9h0.9v0.9h-0.9zM307.8 165.4h0.9v0.9h-0.9zM315.2 168.0h0.9v0.9h-0.9zM321.2 160.3h0.9v0.9h-0.9z" fill="#000" fill-opacity="0.42"/>
<path d="M303.6 173.0h0.9v0.9h-0.9zM301.1 166.8h0.9v0.9h-0.9zM299.6 165.5h0.9v0.9h-0.9zM309.4 166.2h0.9v0.9h-0.9zM299.5 170.6h0.9v0.9h-0.9zM297.4 169.6h0.9v0.9h-0.9zM304.8 170.5h0.9v0.9h-0.9zM306.0 172.1h0.9v0.9h-0.9zM297.4 172.2h0.9v0.9h-0.9zM304.4 167.5h0.9v0.9h-0.9zM304.9 171.9h0.9v0.9h-0.9zM299.6 170.2h0.9v0.9h-0.9zM302.8 169.6h0.9v0.9h-0.9zM293.8 170.6h0.9v0.9h-0.9zM292.6 170.3h0.9v0.9h-0.9zM294.3 157.3h0.9v0.9h-0.9zM293.7 164.0h0.9v0.9h-0.9zM300.8 168.2h0.9v0.9h-0.9zM300.9 168.8h0.9v0.9h-0.9zM298.8 167.2h0.9v0.9h-0.9zM302.6 172.5h0.9v0.9h-0.9zM296.1 169.2h0.9v0.9h-0.9zM295.2 163.1h0.9v0.9h-0.9zM301.5 169.3h0.9v0.9h-0.9zM304.5 166.0h0.9v0.9h-0.9zM297.6 169.8h0.9v0.9h-0.9zM297.2 170.6h0.9v0.9h-0.9zM297.8 164.8h0.9v0.9h-0.9zM302.2 164.1h0.9v0.9h-0.9zM302.1 170.4h0.9v0.9h-0.9zM298.1 165.6h0.9v0.9h-0.9zM299.2 170.3h0.9v0.9h-0.9zM303.0 160.1h0.9v0.9h-0.9zM298.1 169.4h0.9v0.9h-0.9zM299.4 166.0h0.9v0.9h-0.9zM294.8 165.2h0.9v0.9h-0.9zM308.9 168.2h0.9v0.9h-0.9zM305.5 172.6h0.9v0.9h-0.9zM292.1 166.8h0.9v0.9h-0.9zM295.6 168.7h0.9v0.9h-0.9zM301.3 171.4h0.9v0.9h-0.9zM296.4 169.3h0.9v0.9h-0.9zM305.4 162.8h0.9v0.9h-0.9zM297.2 160.8h0.9v0.9h-0.9zM292.8 169.9h0.9v0.9h-0.9zM298.3 169.7h0.9v0.9h-0.9zM295.5 168.0h0.9v0.9h-0.9zM297.2 170.1h0.9v0.9h-0.9zM303.9 165.2h0.9v0.9h-0.9zM302.8 167.9h0.9v0.9h-0.9zM301.2 166.2h0.9v0.9h-0.9zM291.3 170.4h0.9v0.9h-0.9zM300.6 170.2h0.9v0.9h-0.9zM303.1 159.2h0.9v0.9h-0.9zM299.7 164.2h0.9v0.9h-0.9zM297.6 171.4h0.9v0.9h-0.9zM302.5 171.8h0.9v0.9h-0.9zM300.2 167.1h0.9v0.9h-0.9zM302.3 170.2h0.9v0.9h-0.9zM305.5 168.5h0.9v0.9h-0.9zM299.4 170.0h0.9v0.9h-0.9zM302.1 172.2h0.9v0.9h-0.9zM297.1 167.4h0.9v0.9h-0.9zM304.1 171.0h0.9v0.9h-0.9zM301.1 162.4h0.9v0.9h-0.9zM300.4 169.5h0.9v0.9h-0.9zM297.7 168.8h0.9v0.9h-0.9zM299.6 162.0h0.9v0.9h-0.9zM304.3 170.2h0.9v0.9h-0.9zM300.3 172.0h0.9v0.9h-0.9zM303.1 169.6h0.9v0.9h-0.9zM302.8 168.3h0.9v0.9h-0.9zM299.5 171.0h0.9v0.9h-0.9zM295.8 168.3h0.9v0.9h-0.9zM291.4 165.8h0.9v0.9h-0.9zM303.0 167.3h0.9v0.9h-0.9zM303.2 170.1h0.9v0.9h-0.9zM302.6 167.3h0.9v0.9h-0.9zM303.3 168.2h0.9v0.9h-0.9zM302.0 169.4h0.9v0.9h-0.9zM304.6 169.6h0.9v0.9h-0.9zM299.6 166.1h0.9v0.9h-0.9zM289.8 168.1h0.9v0.9h-0.9zM300.7 166.8h0.9v0.9h-0.9zM299.3 170.2h0.9v0.9h-0.9zM302.6 172.7h0.9v0.9h-0.9zM300.0 169.0h0.9v0.9h-0.9zM302.5 167.3h0.9v0.9h-0.9zM295.6 163.5h0.9v0.9h-0.9zM302.2 168.5h0.9v0.9h-0.9zM300.7 170.7h0.9v0.9h-0.9zM297.1 167.0h0.9v0.9h-0.9zM293.5 166.9h0.9v0.9h-0.9zM302.2 165.0h0.9v0.9h-0.9zM304.1 169.5h0.9v0.9h-0.9zM298.9 166.0h0.9v0.9h-0.9zM298.9 170.5h0.9v0.9h-0.9zM295.2 161.0h0.9v0.9h-0.9zM303.8 164.2h0.9v0.9h-0.9zM302.4 161.9h0.9v0.9h-0.9zM300.5 165.8h0.9v0.9h-0.9zM300.0 162.3h0.9v0.9h-0.9zM304.3 170.7h0.9v0.9h-0.9zM300.8 164.2h0.9v0.9h-0.9zM299.9 161.3h0.9v0.9h-0.9zM303.0 169.3h0.9v0.9h-0.9zM294.3 166.0h0.9v0.9h-0.9zM300.7 171.9h0.9v0.9h-0.9zM300.1 169.8h0.9v0.9h-0.9zM299.8 164.3h0.9v0.9h-0.9zM304.0 163.0h0.9v0.9h-0.9zM293.4 164.4h0.9v0.9h-0.9zM298.5 167.1h0.9v0.9h-0.9zM307.6 165.4h0.9v0.9h-0.9zM296.1 163.3h0.9v0.9h-0.9zM297.4 160.3h0.9v0.9h-0.9zM300.8 170.3h0.9v0.9h-0.9zM300.7 166.5h0.9v0.9h-0.9zM295.1 162.8h0.9v0.9h-0.9zM296.3 164.4h0.9v0.9h-0.9zM299.2 162.9h0.9v0.9h-0.9zM301.6 170.1h0.9v0.9h-0.9zM302.4 167.2h0.9v0.9h-0.9zM296.3 169.1h0.9v0.9h-0.9zM300.4 166.9h0.9v0.9h-0.9zM296.4 165.9h0.9v0.9h-0.9zM300.2 167.3h0.9v0.9h-0.9zM301.5 169.4h0.9v0.9h-0.9zM293.8 171.9h0.9v0.9h-0.9zM306.7 170.4h0.9v0.9h-0.9zM303.9 165.4h0.9v0.9h-0.9zM304.5 161.9h0.9v0.9h-0.9zM304.5 166.9h0.9v0.9h-0.9zM294.6 173.0h0.9v0.9h-0.9zM301.1 168.5h0.9v0.9h-0.9zM301.0 165.8h0.9v0.9h-0.9zM299.3 171.7h0.9v0.9h-0.9zM297.3 169.0h0.9v0.9h-0.9zM294.8 172.5h0.9v0.9h-0.9zM296.1 172.5h0.9v0.9h-0.9zM310.3 169.7h0.9v0.9h-0.9zM305.4 166.8h0.9v0.9h-0.9zM301.1 168.2h0.9v0.9h-0.9zM301.6 169.3h0.9v0.9h-0.9zM303.3 167.0h0.9v0.9h-0.9zM296.1 170.5h0.9v0.9h-0.9zM301.7 165.8h0.9v0.9h-0.9zM291.5 161.2h0.9v0.9h-0.9zM301.2 166.5h0.9v0.9h-0.9zM292.2 165.7h0.9v0.9h-0.9zM300.5 171.3h0.9v0.9h-0.9zM299.6 170.5h0.9v0.9h-0.9zM300.7 163.9h0.9v0.9h-0.9zM300.4 171.4h0.9v0.9h-0.9zM301.9 172.5h0.9v0.9h-0.9zM304.1 163.0h0.9v0.9h-0.9zM299.0 169.0h0.9v0.9h-0.9zM300.8 164.9h0.9v0.9h-0.9zM300.6 164.2h0.9v0.9h-0.9zM295.2 169.6h0.9v0.9h-0.9zM301.3 168.1h0.9v0.9h-0.9zM304.5 169.7h0.9v0.9h-0.9zM307.7 171.1h0.9v0.9h-0.9zM299.4 170.6h0.9v0.9h-0.9zM299.8 163.3h0.9v0.9h-0.9zM302.9 166.8h0.9v0.9h-0.9zM300.2 170.2h0.9v0.9h-0.9zM301.8 167.6h0.9v0.9h-0.9zM296.1 170.9h0.9v0.9h-0.9zM305.3 170.3h0.9v0.9h-0.9zM298.3 162.5h0.9v0.9h-0.9zM298.9 166.8h0.9v0.9h-0.9zM300.6 170.9h0.9v0.9h-0.9zM295.6 165.4h0.9v0.9h-0.9zM306.4 162.5h0.9v0.9h-0.9zM294.0 169.0h0.9v0.9h-0.9zM301.1 165.6h0.9v0.9h-0.9zM295.7 172.1h0.9v0.9h-0.9zM303.1 163.3h0.9v0.9h-0.9zM301.8 163.2h0.9v0.9h-0.9zM298.4 164.8h0.9v0.9h-0.9zM310.3 170.8h0.9v0.9h-0.9zM295.3 164.6h0.9v0.9h-0.9zM298.6 167.6h0.9v0.9h-0.9zM294.5 164.4h0.9v0.9h-0.9zM298.9 166.4h0.9v0.9h-0.9zM291.6 171.8h0.9v0.9h-0.9zM303.5 169.1h0.9v0.9h-0.9zM296.4 165.8h0.9v0.9h-0.9zM300.3 169.7h0.9v0.9h-0.9zM300.1 168.6h0.9v0.9h-0.9zM301.3 167.3h0.9v0.9h-0.9zM297.1 167.1h0.9v0.9h-0.9zM302.1 167.0h0.9v0.9h-0.9zM301.8 167.0h0.9v0.9h-0.9zM290.8 171.3h0.9v0.9h-0.9zM304.5 170.1h0.9v0.9h-0.9zM299.1 169.9h0.9v0.9h-0.9zM302.0 165.2h0.9v0.9h-0.9zM301.3 165.9h0.9v0.9h-0.9zM301.2 163.2h0.9v0.9h-0.9zM297.9 167.7h0.9v0.9h-0.9zM299.2 161.4h0.9v0.9h-0.9zM300.3 164.4h0.9v0.9h-0.9zM300.0 162.1h0.9v0.9h-0.9zM304.8 164.9h0.9v0.9h-0.9zM302.9 164.0h0.9v0.9h-0.9zM300.4 170.7h0.9v0.9h-0.9zM295.7 166.0h0.9v0.9h-0.9zM297.9 168.9h0.9v0.9h-0.9zM290.6 167.0h0.9v0.9h-0.9zM294.9 171.5h0.9v0.9h-0.9zM300.3 162.3h0.9v0.9h-0.9zM301.3 162.8h0.9v0.9h-0.9zM295.8 164.6h0.9v0.9h-0.9zM299.4 166.6h0.9v0.9h-0.9zM299.4 168.2h0.9v0.9h-0.9zM293.6 166.5h0.9v0.9h-0.9zM301.2 172.6h0.9v0.9h-0.9zM301.9 167.3h0.9v0.9h-0.9zM303.8 167.9h0.9v0.9h-0.9zM295.6 168.8h0.9v0.9h-0.9zM300.1 167.3h0.9v0.9h-0.9zM298.0 164.6h0.9v0.9h-0.9zM305.0 168.0h0.9v0.9h-0.9zM307.8 167.0h0.9v0.9h-0.9zM297.6 163.6h0.9v0.9h-0.9zM291.0 172.3h0.9v0.9h-0.9zM305.4 168.0h0.9v0.9h-0.9zM291.5 164.2h0.9v0.9h-0.9zM296.5 158.5h0.9v0.9h-0.9zM307.5 168.1h0.9v0.9h-0.9zM307.2 156.9h0.9v0.9h-0.9zM293.7 170.8h0.9v0.9h-0.9zM310.7 168.4h0.9v0.9h-0.9zM301.1 157.2h0.9v0.9h-0.9zM302.2 168.4h0.9v0.9h-0.9zM313.0 154.4h0.9v0.9h-0.9zM297.4 161.4h0.9v0.9h-0.9zM306.2 166.4h0.9v0.9h-0.9zM306.2 169.5h0.9v0.9h-0.9zM297.4 163.0h0.9v0.9h-0.9zM303.3 171.1h0.9v0.9h-0.9zM312.8 156.3h0.9v0.9h-0.9zM290.4 170.7h0.9v0.9h-0.9zM299.8 171.8h0.9v0.9h-0.9zM298.7 167.8h0.9v0.9h-0.9zM299.2 167.0h0.9v0.9h-0.9zM303.0 157.9h0.9v0.9h-0.9zM306.0 159.6h0.9v0.9h-0.9zM321.7 169.5h0.9v0.9h-0.9zM312.3 169.2h0.9v0.9h-0.9zM319.9 168.1h0.9v0.9h-0.9zM306.6 170.0h0.9v0.9h-0.9z" fill="#000" fill-opacity="0.42"/>
<path d="M300.9 170.9h0.9v0.9h-0.9zM296.4 166.7h0.9v0.9h-0.9zM302.6 168.2h0.9v0.9h-0.9zM305.9 172.6h0.9v0.9h-0.9zM297.4 168.5h0.9v0.9h-0.9zM300.9 172.0h0.9v0.9h-0.9zM295.7 162.0h0.9v0.9h-0.9zM298.0 171.0h0.9v0.9h-0.9zM295.3 166.5h0.9v0.9h-0.9zM304.2 166.6h0.9v0.9h-0.9zM298.8 171.5h0.9v0.9h-0.9zM298.4 172.3h0.9v0.9h-0.9zM303.5 168.3h0.9v0.9h-0.9zM303.7 160.2h0.9v0.9h-0.9zM295.4 168.7h0.9v0.9h-0.9zM297.7 161.2h0.9v0.9h-0.9zM300.1 169.9h0.9v0.9h-0.9zM302.5 171.3h0.9v0.9h-0.9zM299.2 172.5h0.9v0.9h-0.9zM292.6 166.8h0.9v0.9h-0.9zM294.0 167.3h0.9v0.9h-0.9zM302.9 164.5h0.9v0.9h-0.9zM300.7 170.4h0.9v0.9h-0.9zM297.1 171.8h0.9v0.9h-0.9zM298.6 165.5h0.9v0.9h-0.9zM299.5 166.2h0.9v0.9h-0.9zM296.2 166.5h0.9v0.9h-0.9zM304.9 164.3h0.9v0.9h-0.9zM301.6 169.1h0.9v0.9h-0.9zM307.1 165.9h0.9v0.9h-0.9zM300.3 168.9h0.9v0.9h-0.9zM301.5 161.7h0.9v0.9h-0.9zM295.6 163.2h0.9v0.9h-0.9zM301.2 171.0h0.9v0.9h-0.9zM296.5 164.0h0.9v0.9h-0.9zM299.5 171.4h0.9v0.9h-0.9zM297.3 172.5h0.9v0.9h-0.9zM295.5 168.7h0.9v0.9h-0.9zM299.1 165.8h0.9v0.9h-0.9zM301.6 168.5h0.9v0.9h-0.9zM292.9 170.4h0.9v0.9h-0.9zM289.7 171.9h0.9v0.9h-0.9zM296.6 171.5h0.9v0.9h-0.9zM296.7 160.6h0.9v0.9h-0.9zM294.5 169.9h0.9v0.9h-0.9zM298.2 165.6h0.9v0.9h-0.9zM302.5 160.3h0.9v0.9h-0.9zM304.4 165.9h0.9v0.9h-0.9zM296.2 169.3h0.9v0.9h-0.9zM302.6 170.8h0.9v0.9h-0.9zM293.5 160.4h0.9v0.9h-0.9zM301.0 165.4h0.9v0.9h-0.9zM296.9 168.6h0.9v0.9h-0.9zM302.5 165.7h0.9v0.9h-0.9zM303.5 169.3h0.9v0.9h-0.9zM296.6 168.5h0.9v0.9h-0.9zM300.6 170.8h0.9v0.9h-0.9zM301.2 165.6h0.9v0.9h-0.9zM304.5 172.6h0.9v0.9h-0.9zM298.9 164.8h0.9v0.9h-0.9zM290.6 166.1h0.9v0.9h-0.9zM299.4 165.4h0.9v0.9h-0.9zM300.4 168.4h0.9v0.9h-0.9zM302.3 160.8h0.9v0.9h-0.9zM303.2 171.4h0.9v0.9h-0.9zM307.5 170.0h0.9v0.9h-0.9zM300.8 166.3h0.9v0.9h-0.9zM303.6 168.7h0.9v0.9h-0.9zM299.5 168.4h0.9v0.9h-0.9zM304.6 172.0h0.9v0.9h-0.9zM300.7 167.0h0.9v0.9h-0.9zM297.6 165.6h0.9v0.9h-0.9zM301.7 170.3h0.9v0.9h-0.9zM299.8 168.8h0.9v0.9h-0.9zM295.8 169.9h0.9v0.9h-0.9zM303.1 163.9h0.9v0.9h-0.9zM298.3 169.3h0.9v0.9h-0.9zM301.9 169.0h0.9v0.9h-0.9zM297.9 172.1h0.9v0.9h-0.9zM303.2 166.1h0.9v0.9h-0.9zM300.5 169.6h0.9v0.9h-0.9zM304.0 166.2h0.9v0.9h-0.9zM306.0 162.5h0.9v0.9h-0.9zM299.5 169.2h0.9v0.9h-0.9zM298.0 167.7h0.9v0.9h-0.9zM298.4 169.5h0.9v0.9h-0.9zM299.4 167.7h0.9v0.9h-0.9zM302.2 171.8h0.9v0.9h-0.9zM301.3 171.6h0.9v0.9h-0.9zM298.4 169.8h0.9v0.9h-0.9zM296.8 169.7h0.9v0.9h-0.9zM300.5 165.7h0.9v0.9h-0.9zM294.6 169.7h0.9v0.9h-0.9zM301.9 167.6h0.9v0.9h-0.9zM297.6 168.9h0.9v0.9h-0.9zM301.5 167.6h0.9v0.9h-0.9zM300.3 169.2h0.9v0.9h-0.9zM295.2 169.6h0.9v0.9h-0.9zM297.1 167.3h0.9v0.9h-0.9zM298.3 168.7h0.9v0.9h-0.9zM296.0 170.5h0.9v0.9h-0.9zM300.6 167.8h0.9v0.9h-0.9zM301.2 169.7h0.9v0.9h-0.9zM297.8 170.0h0.9v0.9h-0.9zM296.0 172.6h0.9v0.9h-0.9zM297.9 172.9h0.9v0.9h-0.9zM300.6 164.5h0.9v0.9h-0.9zM300.8 167.2h0.9v0.9h-0.9zM307.1 170.0h0.9v0.9h-0.9zM304.5 166.0h0.9v0.9h-0.9zM299.4 168.3h0.9v0.9h-0.9zM305.7 163.2h0.9v0.9h-0.9zM298.9 165.9h0.9v0.9h-0.9zM301.4 168.5h0.9v0.9h-0.9zM293.6 163.5h0.9v0.9h-0.9zM298.5 171.9h0.9v0.9h-0.9zM301.6 166.1h0.9v0.9h-0.9zM296.5 167.4h0.9v0.9h-0.9zM303.1 169.6h0.9v0.9h-0.9zM295.7 168.3h0.9v0.9h-0.9zM298.4 168.8h0.9v0.9h-0.9zM300.0 162.3h0.9v0.9h-0.9zM296.3 162.2h0.9v0.9h-0.9zM302.3 164.1h0.9v0.9h-0.9zM297.1 169.0h0.9v0.9h-0.9zM298.5 166.1h0.9v0.9h-0.9zM298.4 164.6h0.9v0.9h-0.9zM294.6 170.8h0.9v0.9h-0.9zM296.5 167.3h0.9v0.9h-0.9zM303.1 167.8h0.9v0.9h-0.9zM293.7 167.7h0.9v0.9h-0.9zM298.4 162.7h0.9v0.9h-0.9zM299.8 166.5h0.9v0.9h-0.9zM300.5 165.8h0.9v0.9h-0.9zM301.0 167.8h0.9v0.9h-0.9zM304.7 172.0h0.9v0.9h-0.9zM297.4 167.2h0.9v0.9h-0.9zM296.3 168.0h0.9v0.9h-0.9zM303.2 171.4h0.9v0.9h-0.9zM303.4 167.9h0.9v0.9h-0.9zM295.0 172.8h0.9v0.9h-0.9zM298.1 166.1h0.9v0.9h-0.9zM291.5 166.2h0.9v0.9h-0.9zM298.9 171.2h0.9v0.9h-0.9zM302.7 165.0h0.9v0.9h-0.9zM301.7 163.7h0.9v0.9h-0.9zM302.9 169.1h0.9v0.9h-0.9zM297.9 166.8h0.9v0.9h-0.9zM306.1 170.5h0.9v0.9h-0.9zM299.6 168.1h0.9v0.9h-0.9zM296.4 168.7h0.9v0.9h-0.9zM296.8 169.0h0.9v0.9h-0.9zM302.3 164.3h0.9v0.9h-0.9zM299.6 172.9h0.9v0.9h-0.9zM296.9 167.0h0.9v0.9h-0.9zM299.3 166.2h0.9v0.9h-0.9zM290.2 168.4h0.9v0.9h-0.9zM300.4 170.9h0.9v0.9h-0.9zM294.3 167.3h0.9v0.9h-0.9zM294.9 166.4h0.9v0.9h-0.9zM304.6 169.9h0.9v0.9h-0.9zM300.0 172.8h0.9v0.9h-0.9zM300.4 172.1h0.9v0.9h-0.9zM302.7 167.8h0.9v0.9h-0.9zM304.6 167.4h0.9v0.9h-0.9zM299.1 158.0h0.9v0.9h-0.9zM303.0 168.8h0.9v0.9h-0.9zM297.6 171.3h0.9v0.9h-0.9zM293.4 167.6h0.9v0.9h-0.9zM302.2 164.4h0.9v0.9h-0.9zM299.7 165.9h0.9v0.9h-0.9zM292.6 168.4h0.9v0.9h-0.9zM300.6 166.6h0.9v0.9h-0.9zM302.5 163.7h0.9v0.9h-0.9zM300.3 162.3h0.9v0.9h-0.9zM300.5 170.7h0.9v0.9h-0.9zM300.9 169.5h0.9v0.9h-0.9zM297.7 167.2h0.9v0.9h-0.9zM300.4 169.9h0.9v0.9h-0.9zM295.0 169.7h0.9v0.9h-0.9zM303.4 164.8h0.9v0.9h-0.9zM297.9 166.5h0.9v0.9h-0.9zM300.2 171.1h0.9v0.9h-0.9zM306.6 163.5h0.9v0.9h-0.9zM297.2 169.3h0.9v0.9h-0.9zM302.5 167.7h0.9v0.9h-0.9zM305.0 164.5h0.9v0.9h-0.9zM298.6 165.8h0.9v0.9h-0.9zM301.2 163.3h0.9v0.9h-0.9zM293.8 170.9h0.9v0.9h-0.9zM293.2 169.8h0.9v0.9h-0.9zM301.0 168.1h0.9v0.9h-0.9zM303.6 169.0h0.9v0.9h-0.9zM297.3 169.0h0.9v0.9h-0.9zM302.0 171.6h0.9v0.9h-0.9zM299.6 168.5h0.9v0.9h-0.9zM301.8 168.9h0.9v0.9h-0.9zM300.0 164.9h0.9v0.9h-0.9zM295.2 163.7h0.9v0.9h-0.9zM308.7 167.7h0.9v0.9h-0.9zM302.2 165.0h0.9v0.9h-0.9zM298.7 172.0h0.9v0.9h-0.9zM300.8 162.8h0.9v0.9h-0.9zM300.9 169.5h0.9v0.9h-0.9zM299.9 169.7h0.9v0.9h-0.9zM296.0 166.3h0.9v0.9h-0.9zM304.8 169.9h0.9v0.9h-0.9zM304.5 167.4h0.9v0.9h-0.9zM298.5 172.5h0.9v0.9h-0.9zM298.2 169.6h0.9v0.9h-0.9zM295.1 168.4h0.9v0.9h-0.9zM293.9 167.0h0.9v0.9h-0.9zM301.0 162.1h0.9v0.9h-0.9zM296.7 166.7h0.9v0.9h-0.9zM301.5 172.5h0.9v0.9h-0.9zM293.4 161.8h0.9v0.9h-0.9zM294.3 171.0h0.9v0.9h-0.9zM298.8 165.1h0.9v0.9h-0.9zM296.1 170.7h0.9v0.9h-0.9zM298.5 171.0h0.9v0.9h-0.9zM301.1 169.0h0.9v0.9h-0.9zM305.3 169.0h0.9v0.9h-0.9zM298.3 168.4h0.9v0.9h-0.9zM302.2 171.0h0.9v0.9h-0.9zM299.0 167.0h0.9v0.9h-0.9zM305.7 161.9h0.9v0.9h-0.9zM302.8 167.5h0.9v0.9h-0.9zM309.5 158.9h0.9v0.9h-0.9zM313.8 160.1h0.9v0.9h-0.9zM301.8 162.0h0.9v0.9h-0.9zM312.5 160.6h0.9v0.9h-0.9zM304.3 165.3h0.9v0.9h-0.9zM297.9 160.7h0.9v0.9h-0.9zM318.7 165.4h0.9v0.9h-0.9zM306.1 157.2h0.9v0.9h-0.9zM294.5 171.4h0.9v0.9h-0.9zM307.3 165.2h0.9v0.9h-0.9zM293.7 172.3h0.9v0.9h-0.9zM307.8 169.3h0.9v0.9h-0.9zM301.5 166.7h0.9v0.9h-0.9zM316.0 164.7h0.9v0.9h-0.9zM299.8 167.6h0.9v0.9h-0.9zM306.9 164.2h0.9v0.9h-0.9zM306.5 166.7h0.9v0.9h-0.9zM304.8 168.7h0.9v0.9h-0.9zM303.1 160.8h0.9v0.9h-0.9zM308.0 160.4h0.9v0.9h-0.9zM310.7 161.6h0.9v0.9h-0.9zM310.6 172.9h0.9v0.9h-0.9zM302.6 160.7h0.9v0.9h-0.9zM317.9 171.2h0.9v0.9h-0.9zM319.4 168.1h0.9v0.9h-0.9zM317.3 172.5h0.9v0.9h-0.9zM297.5 173.0h0.9v0.9h-0.9z" fill="#000" fill-opacity="0.42"/>
<path d="M386.2 123.7h0.9v0.9h-0.9zM386.2 126.8h0.9v0.9h-0.9zM382.3 125.5h0.9v0.9h-0.9zM381.4 126.0h0.9v0.9h-0.9zM379.6 127.6h0.9v0.9h-0.9zM387.3 125.5h0.9v0.9h-0.9zM378.7 124.0h0.9v0.9h-0.9zM385.7 127.0h0.9v0.9h-0.9zM379.9 124.9h0.9v0.9h-0.9zM382.0 125.7h0.9v0.9h-0.9zM381.8 121.4h0.9v0.9h-0.9zM383.7 125.4h0.9v0.9h-0.9zM381.1 126.5h0.9v0.9h-0.9zM379.6 125.6h0.9v0.9h-0.9zM384.1 132.0h0.9v0.9h-0.9zM389.8 123.0h0.9v0.9h-0.9zM382.7 125.8h0.9v0.9h-0.9zM378.2 127.5h0.9v0.9h-0.9zM383.5 124.5h0.9v0.9h-0.9zM382.4 128.7h0.9v0.9h-0.9zM381.7 122.9h0.9v0.9h-0.9zM381.1 124.3h0.9v0.9h-0.9zM379.5 126.8h0.9v0.9h-0.9zM377.6 132.0h0.9v0.9h-0.9zM379.2 127.4h0.9v0.9h-0.9zM381.8 126.4h0.9v0.9h-0.9zM379.8 129.0h0.9v0.9h-0.9zM384.3 125.8h0.9v0.9h-0.9zM376.6 130.6h0.9v0.9h-0.9zM383.7 129.3h0.9v0.9h-0.9zM380.6 124.8h0.9v0.9h-0.9zM382.7 127.6h0.9v0.9h-0.9zM382.0 128.3h0.9v0.9h-0.9zM382.3 129.3h0.9v0.9h-0.9zM383.5 127.4h0.9v0.9h-0.9zM386.4 120.2h0.9v0.9h-0.9zM383.3 123.8h0.9v0.9h-0.9zM382.3 128.2h0.9v0.9h-0.9zM384.1 126.9h0.9v0.9h-0.9zM379.6 128.3h0.9v0.9h-0.9zM383.8 126.5h0.9v0.9h-0.9zM385.7 125.7h0.9v0.9h-0.9zM386.0 123.6h0.9v0.9h-0.9zM384.1 130.1h0.9v0.9h-0.9zM384.9 128.8h0.9v0.9h-0.9zM384.1 121.7h0.9v0.9h-0.9zM383.0 125.7h0.9v0.9h-0.9zM386.1 128.7h0.9v0.9h-0.9zM379.2 130.1h0.9v0.9h-0.9zM379.6 127.8h0.9v0.9h-0.9z" fill="#000" fill-opacity="0.4"/>
<path d="M381.9 124.0h0.9v0.9h-0.9zM384.0 121.2h0.9v0.9h-0.9zM383.8 127.9h0.9v0.9h-0.9zM377.5 126.8h0.9v0.9h-0.9zM379.6 128.1h0.9v0.9h-0.9zM383.7 126.2h0.9v0.9h-0.9zM386.5 124.8h0.9v0.9h-0.9zM377.0 126.2h0.9v0.9h-0.9zM380.1 125.5h0.9v0.9h-0.9zM378.5 126.2h0.9v0.9h-0.9zM378.7 125.9h0.9v0.9h-0.9zM384.4 125.2h0.9v0.9h-0.9zM384.3 125.9h0.9v0.9h-0.9zM384.8 130.6h0.9v0.9h-0.9zM382.1 129.3h0.9v0.9h-0.9zM383.4 124.4h0.9v0.9h-0.9zM381.5 124.7h0.9v0.9h-0.9zM383.0 126.7h0.9v0.9h-0.9zM383.0 120.5h0.9v0.9h-0.9zM383.0 128.3h0.9v0.9h-0.9zM384.1 126.4h0.9v0.9h-0.9zM386.4 128.7h0.9v0.9h-0.9zM383.4 128.3h0.9v0.9h-0.9zM386.5 123.1h0.9v0.9h-0.9zM384.4 122.4h0.9v0.9h-0.9zM379.4 123.5h0.9v0.9h-0.9zM380.8 125.1h0.9v0.9h-0.9zM382.1 127.4h0.9v0.9h-0.9zM383.0 119.9h0.9v0.9h-0.9zM376.3 128.0h0.9v0.9h-0.9zM384.6 124.4h0.9v0.9h-0.9zM378.5 124.7h0.9v0.9h-0.9zM388.4 124.6h0.9v0.9h-0.9zM383.3 123.2h0.9v0.9h-0.9zM382.1 125.2h0.9v0.9h-0.9zM386.5 124.2h0.9v0.9h-0.9zM382.2 127.2h0.9v0.9h-0.9zM381.2 128.7h0.9v0.9h-0.9zM380.5 126.0h0.9v0.9h-0.9zM379.2 124.6h0.9v0.9h-0.9zM383.7 126.0h0.9v0.9h-0.9zM383.7 123.9h0.9v0.9h-0.9zM377.2 126.5h0.9v0.9h-0.9zM389.7 127.7h0.9v0.9h-0.9zM379.6 127.7h0.9v0.9h-0.9zM382.4 127.7h0.9v0.9h-0.9zM381.7 124.6h0.9v0.9h-0.9zM381.6 128.3h0.9v0.9h-0.9zM379.6 127.3h0.9v0.9h-0.9zM385.2 130.9h0.9v0.9h-0.9z" fill="#000" fill-opacity="0.4"/>
<path d="M383.9 123.8h0.9v0.9h-0.9zM383.8 129.3h0.9v0.9h-0.9zM388.0 125.5h0.9v0.9h-0.9zM380.5 117.6h0.9v0.9h-0.9zM378.4 127.3h0.9v0.9h-0.9zM374.9 128.4h0.9v0.9h-0.9zM379.7 123.7h0.9v0.9h-0.9zM385.6 126.5h0.9v0.9h-0.9zM383.9 129.7h0.9v0.9h-0.9zM388.0 122.5h0.9v0.9h-0.9zM381.6 121.3h0.9v0.9h-0.9zM381.5 125.1h0.9v0.9h-0.9zM386.3 119.8h0.9v0.9h-0.9zM382.1 120.4h0.9v0.9h-0.9zM385.1 122.6h0.9v0.9h-0.9zM381.5 126.9h0.9v0.9h-0.9zM380.9 125.1h0.9v0.9h-0.9zM389.3 122.7h0.9v0.9h-0.9zM388.3 126.9h0.9v0.9h-0.9zM388.6 121.5h0.9v0.9h-0.9zM384.8 129.4h0.9v0.9h-0.9zM380.1 126.4h0.9v0.9h-0.9zM381.8 124.6h0.9v0.9h-0.9zM381.9 124.3h0.9v0.9h-0.9zM388.5 129.2h0.9v0.9h-0.9zM385.3 125.2h0.9v0.9h-0.9zM386.4 124.0h0.9v0.9h-0.9zM391.1 124.0h0.9v0.9h-0.9zM383.2 125.5h0.9v0.9h-0.9zM386.1 125.3h0.9v0.9h-0.9zM376.8 130.4h0.9v0.9h-0.9zM384.3 124.0h0.9v0.9h-0.9zM375.8 126.6h0.9v0.9h-0.9zM384.1 125.8h0.9v0.9h-0.9zM384.1 126.6h0.9v0.9h-0.9zM381.8 131.3h0.9v0.9h-0.9zM378.3 123.9h0.9v0.9h-0.9zM388.0 125.9h0.9v0.9h-0.9zM384.5 127.3h0.9v0.9h-0.9zM378.4 125.5h0.9v0.9h-0.9zM385.0 127.5h0.9v0.9h-0.9zM389.0 132.8h0.9v0.9h-0.9zM376.4 128.8h0.9v0.9h-0.9zM377.1 127.9h0.9v0.9h-0.9zM378.6 124.7h0.9v0.9h-0.9zM382.2 126.2h0.9v0.9h-0.9zM381.1 123.4h0.9v0.9h-0.9zM385.7 124.5h0.9v0.9h-0.9zM382.7 125.6h0.9v0.9h-0.9zM379.9 127.1h0.9v0.9h-0.9z" fill="#000" fill-opacity="0.4"/>
<path d="M392.6 121.6h0.9v0.9h-0.9zM377.3 129.7h0.9v0.9h-0.9zM383.3 131.3h0.9v0.9h-0.9zM383.3 121.1h0.9v0.9h-0.9zM391.2 129.8h0.9v0.9h-0.9zM371.3 140.2h0.9v0.9h-0.9zM390.1 131.0h0.9v0.9h-0.9zM382.5 120.0h0.9v0.9h-0.9zM387.1 133.6h0.9v0.9h-0.9zM386.9 135.9h0.9v0.9h-0.9zM374.6 130.9h0.9v0.9h-0.9zM386.5 126.2h0.9v0.9h-0.9zM385.5 134.7h0.9v0.9h-0.9zM390.5 130.6h0.9v0.9h-0.9zM386.4 126.0h0.9v0.9h-0.9zM383.5 133.3h0.9v0.9h-0.9zM380.3 137.4h0.9v0.9h-0.9zM391.0 128.2h0.9v0.9h-0.9zM383.4 135.5h0.9v0.9h-0.9zM384.6 137.4h0.9v0.9h-0.9zM390.5 126.4h0.9v0.9h-0.9zM394.4 137.9h0.9v0.9h-0.9zM386.8 135.2h0.9v0.9h-0.9zM391.4 120.4h0.9v0.9h-0.9zM381.8 139.1h0.9v0.9h-0.9zM391.1 130.5h0.9v0.9h-0.9zM385.4 120.8h0.9v0.9h-0.9zM392.2 131.0h0.9v0.9h-0.9zM382.4 122.9h0.9v0.9h-0.9zM390.2 125.2h0.9v0.9h-0.9zM383.8 131.0h0.9v0.9h-0.9zM376.5 126.1h0.9v0.9h-0.9zM390.9 125.3h0.9v0.9h-0.9zM389.9 131.6h0.9v0.9h-0.9zM391.1 122.9h0.9v0.9h-0.9zM387.1 137.4h0.9v0.9h-0.9zM390.9 116.4h0.9v0.9h-0.9zM385.2 127.4h0.9v0.9h-0.9zM390.0 125.1h0.9v0.9h-0.9zM384.1 141.8h0.9v0.9h-0.9zM374.5 139.9h0.9v0.9h-0.9zM392.5 130.5h0.9v0.9h-0.9zM385.9 126.1h0.9v0.9h-0.9zM401.3 126.8h0.9v0.9h-0.9zM401.0 132.9h0.9v0.9h-0.9zM374.8 124.9h0.9v0.9h-0.9zM377.6 130.3h0.9v0.9h-0.9zM389.2 131.7h0.9v0.9h-0.9zM388.1 123.2h0.9v0.9h-0.9zM391.1 131.8h0.9v0.9h-0.9zM369.4 138.2h0.9v0.9h-0.9zM399.0 147.0h0.9v0.9h-0.9zM384.1 139.1h0.9v0.9h-0.9zM381.3 124.2h0.9v0.9h-0.9zM382.2 130.9h0.9v0.9h-0.9zM374.7 133.4h0.9v0.9h-0.9zM395.8 141.0h0.9v0.9h-0.9zM395.4 125.2h0.9v0.9h-0.9zM394.3 132.3h0.9v0.9h-0.9zM387.7 127.7h0.9v0.9h-0.9zM389.9 137.9h0.9v0.9h-0.9zM383.2 135.3h0.9v0.9h-0.9zM400.9 129.6h0.9v0.9h-0.9zM393.0 118.1h0.9v0.9h-0.9zM386.1 131.2h0.9v0.9h-0.9z" fill="#000" fill-opacity="0.3"/>
<path d="M389.8 139.3h0.9v0.9h-0.9zM378.7 110.1h0.9v0.9h-0.9zM393.0 137.7h0.9v0.9h-0.9zM377.8 143.4h0.9v0.9h-0.9zM387.8 127.0h0.9v0.9h-0.9zM395.1 125.9h0.9v0.9h-0.9zM384.4 129.5h0.9v0.9h-0.9zM375.1 119.7h0.9v0.9h-0.9zM384.2 127.2h0.9v0.9h-0.9zM374.9 144.2h0.9v0.9h-0.9zM387.9 126.2h0.9v0.9h-0.9zM401.9 125.1h0.9v0.9h-0.9zM388.7 126.7h0.9v0.9h-0.9zM392.2 134.6h0.9v0.9h-0.9zM375.4 117.2h0.9v0.9h-0.9zM384.8 143.6h0.9v0.9h-0.9zM378.6 126.4h0.9v0.9h-0.9zM388.7 125.1h0.9v0.9h-0.9zM382.8 128.6h0.9v0.9h-0.9zM380.8 129.3h0.9v0.9h-0.9zM381.3 128.4h0.9v0.9h-0.9zM388.1 139.4h0.9v0.9h-0.9zM385.0 122.7h0.9v0.9h-0.9zM387.5 122.5h0.9v0.9h-0.9zM381.4 133.1h0.9v0.9h-0.9zM379.9 132.5h0.9v0.9h-0.9zM389.8 131.4h0.9v0.9h-0.9zM388.8 119.6h0.9v0.9h-0.9zM394.2 143.0h0.9v0.9h-0.9zM382.9 128.7h0.9v0.9h-0.9zM388.6 132.1h0.9v0.9h-0.9zM399.7 137.8h0.9v0.9h-0.9zM389.8 128.3h0.9v0.9h-0.9zM381.5 124.4h0.9v0.9h-0.9zM393.4 127.5h0.9v0.9h-0.9zM384.1 137.1h0.9v0.9h-0.9zM398.5 121.3h0.9v0.9h-0.9zM387.4 135.0h0.9v0.9h-0.9zM372.1 119.9h0.9v0.9h-0.9zM380.0 128.8h0.9v0.9h-0.9zM380.1 136.7h0.9v0.9h-0.9zM381.7 128.6h0.9v0.9h-0.9zM389.2 123.6h0.9v0.9h-0.9zM387.2 130.3h0.9v0.9h-0.9zM386.9 130.2h0.9v0.9h-0.9zM395.6 110.9h0.9v0.9h-0.9zM380.7 142.2h0.9v0.9h-0.9zM391.9 140.0h0.9v0.9h-0.9zM386.1 138.0h0.9v0.9h-0.9zM397.7 143.0h0.9v0.9h-0.9zM389.7 135.9h0.9v0.9h-0.9zM397.6 118.1h0.9v0.9h-0.9zM392.4 120.3h0.9v0.9h-0.9zM384.7 140.6h0.9v0.9h-0.9zM388.4 128.1h0.9v0.9h-0.9zM397.1 129.6h0.9v0.9h-0.9zM376.5 137.3h0.9v0.9h-0.9zM386.5 133.5h0.9v0.9h-0.9zM388.5 143.3h0.9v0.9h-0.9zM384.0 129.0h0.9v0.9h-0.9zM382.1 133.9h0.9v0.9h-0.9zM380.4 136.2h0.9v0.9h-0.9zM387.7 128.4h0.9v0.9h-0.9zM401.3 125.5h0.9v0.9h-0.9zM388.5 128.2h0.9v0.9h-0.9z" fill="#000" fill-opacity="0.3"/>
<path d="M382.2 166.6h0.9v0.9h-0.9zM383.4 165.4h0.9v0.9h-0.9zM384.0 172.4h0.9v0.9h-0.9zM382.0 168.7h0.9v0.9h-0.9zM383.0 167.3h0.9v0.9h-0.9zM384.4 172.6h0.9v0.9h-0.9zM389.5 165.7h0.9v0.9h-0.9zM391.2 163.5h0.9v0.9h-0.9zM387.7 167.6h0.9v0.9h-0.9zM384.1 169.9h0.9v0.9h-0.9zM388.1 169.1h0.9v0.9h-0.9zM384.9 162.1h0.9v0.9h-0.9zM387.0 166.4h0.9v0.9h-0.9zM381.2 164.3h0.9v0.9h-0.9zM390.9 167.1h0.9v0.9h-0.9zM376.8 170.9h0.9v0.9h-0.9zM382.2 172.0h0.9v0.9h-0.9zM379.4 164.9h0.9v0.9h-0.9zM385.8 164.6h0.9v0.9h-0.9zM387.2 163.5h0.9v0.9h-0.9zM378.7 169.8h0.9v0.9h-0.9zM382.5 164.9h0.9v0.9h-0.9zM381.1 161.8h0.9v0.9h-0.9zM386.3 163.1h0.9v0.9h-0.9zM389.3 163.8h0.9v0.9h-0.9zM386.8 168.6h0.9v0.9h-0.9zM379.2 169.2h0.9v0.9h-0.9zM383.6 170.6h0.9v0.9h-0.9zM388.3 169.1h0.9v0.9h-0.9zM381.4 168.7h0.9v0.9h-0.9zM388.4 162.7h0.9v0.9h-0.9zM383.0 172.1h0.9v0.9h-0.9zM388.0 162.3h0.9v0.9h-0.9zM381.6 170.1h0.9v0.9h-0.9zM384.1 171.1h0.9v0.9h-0.9zM387.3 171.2h0.9v0.9h-0.9zM382.3 171.6h0.9v0.9h-0.9zM384.7 168.7h0.9v0.9h-0.9zM382.1 164.6h0.9v0.9h-0.9zM379.8 169.1h0.9v0.9h-0.9zM386.4 163.2h0.9v0.9h-0.9zM382.8 167.7h0.9v0.9h-0.9zM378.4 169.7h0.9v0.9h-0.9zM382.5 165.3h0.9v0.9h-0.9zM378.2 171.5h0.9v0.9h-0.9zM383.8 168.5h0.9v0.9h-0.9zM381.3 165.8h0.9v0.9h-0.9zM383.0 171.5h0.9v0.9h-0.9zM378.4 163.0h0.9v0.9h-0.9zM385.7 171.6h0.9v0.9h-0.9zM383.6 169.0h0.9v0.9h-0.9zM385.9 161.9h0.9v0.9h-0.9zM386.8 160.0h0.9v0.9h-0.9zM385.3 168.9h0.9v0.9h-0.9zM381.4 170.1h0.9v0.9h-0.9zM384.0 170.1h0.9v0.9h-0.9zM382.7 167.2h0.9v0.9h-0.9zM381.5 171.3h0.9v0.9h-0.9zM388.1 172.0h0.9v0.9h-0.9zM377.7 170.0h0.9v0.9h-0.9zM383.3 164.3h0.9v0.9h-0.9zM384.3 172.5h0.9v0.9h-0.9zM385.9 167.9h0.9v0.9h-0.9zM383.3 172.0h0.9v0.9h-0.9zM385.4 172.5h0.9v0.9h-0.9zM380.3 166.6h0.9v0.9h-0.9zM377.1 165.9h0.9v0.9h-0.9zM380.9 169.5h0.9v0.9h-0.9zM390.7 170.9h0.9v0.9h-0.9zM382.1 170.8h0.9v0.9h-0.9zM385.2 168.6h0.9v0.9h-0.9zM386.6 169.7h0.9v0.9h-0.9zM383.6 167.0h0.9v0.9h-0.9zM384.4 172.6h0.9v0.9h-0.9zM381.2 171.3h0.9v0.9h-0.9zM389.9 166.7h0.9v0.9h-0.9zM382.3 165.8h0.9v0.9h-0.9zM382.1 165.1h0.9v0.9h-0.9zM377.3 169.7h0.9v0.9h-0.9zM388.8 163.1h0.9v0.9h-0.9zM383.5 170.8h0.9v0.9h-0.9zM376.5 172.0h0.9v0.9h-0.9zM387.8 169.2h0.9v0.9h-0.9zM382.2 170.4h0.9v0.9h-0.9zM386.6 168.0h0.9v0.9h-0.9zM383.2 168.7h0.9v0.9h-0.9zM381.2 171.4h0.9v0.9h-0.9zM385.9 168.6h0.9v0.9h-0.9zM381.8 168.0h0.9v0.9h-0.9zM389.0 166.7h0.9v0.9h-0.9zM391.0 167.3h0.9v0.9h-0.9zM386.4 169.3h0.9v0.9h-0.9zM384.4 165.5h0.9v0.9h-0.9zM383.6 165.0h0.9v0.9h-0.9zM381.4 158.8h0.9v0.9h-0.9zM384.8 170.0h0.9v0.9h-0.9zM384.5 170.3h0.9v0.9h-0.9zM385.7 164.7h0.9v0.9h-0.9zM381.8 165.6h0.9v0.9h-0.9zM387.0 168.1h0.9v0.9h-0.9zM385.2 169.9h0.9v0.9h-0.9zM385.1 163.6h0.9v0.9h-0.9zM380.5 170.0h0.9v0.9h-0.9zM385.3 169.4h0.9v0.9h-0.9zM381.0 170.0h0.9v0.9h-0.9zM378.6 167.9h0.9v0.9h-0.9zM391.0 163.7h0.9v0.9h-0.9zM385.1 161.9h0.9v0.9h-0.9zM377.8 163.3h0.9v0.9h-0.9zM385.0 166.8h0.9v0.9h-0.9zM384.4 169.0h0.9v0.9h-0.9zM389.8 168.9h0.9v0.9h-0.9zM387.6 169.8h0.9v0.9h-0.9zM378.1 171.2h0.9v0.9h-0.9zM385.7 161.1h0.9v0.9h-0.9zM388.8 171.6h0.9v0.9h-0.9zM380.8 168.3h0.9v0.9h-0.9zM383.0 166.0h0.9v0.9h-0.9zM385.7 166.5h0.9v0.9h-0.9zM377.1 171.8h0.9v0.9h-0.9zM387.4 167.2h0.9v0.9h-0.9zM378.2 171.4h0.9v0.9h-0.9zM384.7 168.3h0.9v0.9h-0.9zM383.1 164.9h0.9v0.9h-0.9zM382.4 166.1h0.9v0.9h-0.9zM387.4 168.0h0.9v0.9h-0.9zM388.9 171.7h0.9v0.9h-0.9zM381.1 170.1h0.9v0.9h-0.9zM381.8 168.8h0.9v0.9h-0.9zM385.1 171.0h0.9v0.9h-0.9zM381.5 159.5h0.9v0.9h-0.9zM383.4 168.7h0.9v0.9h-0.9zM381.5 166.7h0.9v0.9h-0.9zM383.6 172.6h0.9v0.9h-0.9zM383.9 168.0h0.9v0.9h-0.9zM386.3 165.2h0.9v0.9h-0.9zM379.4 171.4h0.9v0.9h-0.9zM383.1 170.1h0.9v0.9h-0.9zM389.8 169.4h0.9v0.9h-0.9zM389.7 166.6h0.9v0.9h-0.9zM384.4 172.5h0.9v0.9h-0.9zM379.5 170.3h0.9v0.9h-0.9zM384.5 160.4h0.9v0.9h-0.9zM387.4 167.8h0.9v0.9h-0.9zM379.8 167.3h0.9v0.9h-0.9zM388.1 167.0h0.9v0.9h-0.9zM389.1 169.3h0.9v0.9h-0.9zM382.7 167.0h0.9v0.9h-0.9zM384.8 171.6h0.9v0.9h-0.9zM386.4 168.5h0.9v0.9h-0.9zM382.6 171.5h0.9v0.9h-0.9zM383.4 165.2h0.9v0.9h-0.9zM382.7 170.2h0.9v0.9h-0.9zM387.2 164.3h0.9v0.9h-0.9zM390.2 166.2h0.9v0.9h-0.9zM382.6 170.3h0.9v0.9h-0.9zM386.1 163.8h0.9v0.9h-0.9zM381.2 166.6h0.9v0.9h-0.9zM384.9 169.6h0.9v0.9h-0.9zM380.0 167.0h0.9v0.9h-0.9zM380.5 166.2h0.9v0.9h-0.9zM383.1 170.4h0.9v0.9h-0.9zM386.6 169.7h0.9v0.9h-0.9zM386.2 170.7h0.9v0.9h-0.9zM390.0 172.7h0.9v0.9h-0.9zM384.8 166.8h0.9v0.9h-0.9zM386.8 170.9h0.9v0.9h-0.9zM378.0 171.5h0.9v0.9h-0.9zM380.3 172.4h0.9v0.9h-0.9zM384.8 164.8h0.9v0.9h-0.9zM382.1 171.7h0.9v0.9h-0.9zM388.5 169.3h0.9v0.9h-0.9zM380.2 169.3h0.9v0.9h-0.9zM384.7 172.5h0.9v0.9h-0.9zM389.9 172.2h0.9v0.9h-0.9zM383.8 168.8h0.9v0.9h-0.9zM378.1 168.7h0.9v0.9h-0.9zM385.2 170.5h0.9v0.9h-0.9zM381.6 167.8h0.9v0.9h-0.9zM383.0 169.6h0.9v0.9h-0.9zM380.5 171.1h0.9v0.9h-0.9zM386.9 167.8h0.9v0.9h-0.9zM388.5 166.7h0.9v0.9h-0.9zM387.1 166.7h0.9v0.9h-0.9zM385.4 162.6h0.9v0.9h-0.9zM384.4 162.4h0.9v0.9h-0.9zM383.7 170.7h0.9v0.9h-0.9zM384.2 169.4h0.9v0.9h-0.9zM383.7 167.4h0.9v0.9h-0.9zM388.6 171.2h0.9v0.9h-0.9zM383.5 166.6h0.9v0.9h-0.9zM384.6 170.0h0.9v0.9h-0.9zM385.3 163.4h0.9v0.9h-0.9zM382.4 164.5h0.9v0.9h-0.9zM383.7 164.3h0.9v0.9h-0.9zM381.2 162.6h0.9v0.9h-0.9zM386.8 167.4h0.9v0.9h-0.9zM383.5 172.8h0.9v0.9h-0.9zM388.1 167.4h0.9v0.9h-0.9zM392.9 158.6h0.9v0.9h-0.9zM384.9 167.1h0.9v0.9h-0.9zM383.9 167.5h0.9v0.9h-0.9zM387.8 163.1h0.9v0.9h-0.9zM383.7 167.2h0.9v0.9h-0.9zM380.5 157.9h0.9v0.9h-0.9zM384.0 170.8h0.9v0.9h-0.9zM385.9 172.3h0.9v0.9h-0.9zM383.9 172.5h0.9v0.9h-0.9zM383.0 169.2h0.9v0.9h-0.9zM380.2 172.2h0.9v0.9h-0.9zM384.6 169.1h0.9v0.9h-0.9zM387.0 164.3h0.9v0.9h-0.9zM383.7 169.1h0.9v0.9h-0.9zM384.0 164.0h0.9v0.9h-0.9zM380.9 168.6h0.9v0.9h-0.9zM384.1 166.2h0.9v0.9h-0.9zM386.0 165.9h0.9v0.9h-0.9zM377.6 164.6h0.9v0.9h-0.9zM389.8 166.8h0.9v0.9h-0.9zM380.0 166.2h0.9v0.9h-0.9zM383.0 163.3h0.9v0.9h-0.9zM378.7 171.8h0.9v0.9h-0.9zM384.5 165.0h0.9v0.9h-0.9zM385.7 163.1h0.9v0.9h-0.9zM387.5 161.4h0.9v0.9h-0.9zM387.0 163.7h0.9v0.9h-0.9zM380.5 164.7h0.9v0.9h-0.9zM374.4 170.5h0.9v0.9h-0.9zM381.6 166.1h0.9v0.9h-0.9zM385.8 167.5h0.9v0.9h-0.9zM385.1 164.5h0.9v0.9h-0.9zM393.3 162.4h0.9v0.9h-0.9zM370.3 162.1h0.9v0.9h-0.9zM391.8 167.1h0.9v0.9h-0.9zM398.5 172.1h0.9v0.9h-0.9zM408.7 164.1h0.9v0.9h-0.9zM383.8 161.0h0.9v0.9h-0.9zM380.1 169.3h0.9v0.9h-0.9zM380.9 166.5h0.9v0.9h-0.9zM398.6 168.5h0.9v0.9h-0.9zM384.0 166.0h0.9v0.9h-0.9zM385.6 167.8h0.9v0.9h-0.9zM384.2 171.5h0.9v0.9h-0.9zM389.1 164.3h0.9v0.9h-0.9zM383.2 172.4h0.9v0.9h-0.9zM394.6 162.6h0.9v0.9h-0.9zM386.5 170.1h0.9v0.9h-0.9zM392.9 163.7h0.9v0.9h-0.9zM376.0 158.6h0.9v0.9h-0.9zM392.6 172.6h0.9v0.9h-0.9zM405.4 170.4h0.9v0.9h-0.9zM374.1 164.3h0.9v0.9h-0.9zM378.4 167.2h0.9v0.9h-0.9zM371.3 169.7h0.9v0.9h-0.9zM374.9 169.5h0.9v0.9h-0.9zM387.7 159.2h0.9v0.9h-0.9zM387.9 169.3h0.9v0.9h-0.9zM375.9 158.1h0.9v0.9h-0.9zM383.6 163.1h0.9v0.9h-0.9zM386.7 160.4h0.9v0.9h-0.9zM377.4 166.8h0.9v0.9h-0.9zM389.3 168.8h0.9v0.9h-0.9zM381.6 169.1h0.9v0.9h-0.9zM373.6 168.4h0.9v0.9h-0.9zM389.2 166.5h0.9v0.9h-0.9zM375.6 168.5h0.9v0.9h-0.9zM383.8 169.7h0.9v0.9h-0.9zM369.6 172.4h0.9v0.9h-0.9zM390.9 166.8h0.9v0.9h-0.9zM403.6 166.3h0.9v0.9h-0.9zM394.0 165.8h0.9v0.9h-0.9zM399.4 169.7h0.9v0.9h-0.9zM403.8 168.6h0.9v0.9h-0.9z" fill="#000" fill-opacity="0.42"/>
<path d="M385.0 165.0h0.9v0.9h-0.9zM378.2 171.6h0.9v0.9h-0.9zM383.8 160.8h0.9v0.9h-0.9zM379.2 157.9h0.9v0.9h-0.9zM382.3 167.6h0.9v0.9h-0.9zM382.7 163.7h0.9v0.9h-0.9zM382.1 170.0h0.9v0.9h-0.9zM387.5 168.3h0.9v0.9h-0.9zM384.4 168.9h0.9v0.9h-0.9zM387.4 167.0h0.9v0.9h-0.9zM390.0 167.8h0.9v0.9h-0.9zM378.9 168.5h0.9v0.9h-0.9zM381.0 168.6h0.9v0.9h-0.9zM376.7 163.2h0.9v0.9h-0.9zM385.7 164.8h0.9v0.9h-0.9zM384.2 168.9h0.9v0.9h-0.9zM383.0 172.6h0.9v0.9h-0.9zM379.6 168.7h0.9v0.9h-0.9zM381.1 172.8h0.9v0.9h-0.9zM383.2 171.3h0.9v0.9h-0.9zM373.3 168.7h0.9v0.9h-0.9zM383.9 166.6h0.9v0.9h-0.9zM382.0 165.8h0.9v0.9h-0.9zM386.0 169.0h0.9v0.9h-0.9zM379.2 165.9h0.9v0.9h-0.9zM381.5 164.7h0.9v0.9h-0.9zM382.6 170.4h0.9v0.9h-0.9zM387.3 167.2h0.9v0.9h-0.9zM388.5 168.0h0.9v0.9h-0.9zM381.6 164.9h0.9v0.9h-0.9zM382.4 168.9h0.9v0.9h-0.9zM387.2 172.4h0.9v0.9h-0.9zM379.2 168.6h0.9v0.9h-0.9zM384.7 169.5h0.9v0.9h-0.9zM381.9 165.2h0.9v0.9h-0.9zM385.8 167.3h0.9v0.9h-0.9zM378.3 172.0h0.9v0.9h-0.9zM382.1 164.5h0.9v0.9h-0.9zM378.8 165.9h0.9v0.9h-0.9zM386.4 170.8h0.9v0.9h-0.9zM382.2 165.5h0.9v0.9h-0.9zM382.6 169.9h0.9v0.9h-0.9zM382.1 163.7h0.9v0.9h-0.9zM379.0 166.0h0.9v0.9h-0.9zM383.7 160.9h0.9v0.9h-0.9zM390.0 166.2h0.9v0.9h-0.9zM382.6 166.5h0.9v0.9h-0.9zM386.5 168.2h0.9v0.9h-0.9zM384.1 168.2h0.9v0.9h-0.9zM374.2 169.7h0.9v0.9h-0.9zM385.9 166.6h0.9v0.9h-0.9zM374.6 170.6h0.9v0.9h-0.9zM389.6 172.1h0.9v0.9h-0.9zM383.2 172.8h0.9v0.9h-0.9zM384.2 166.6h0.9v0.9h-0.9zM385.8 166.9h0.9v0.9h-0.9zM382.3 172.0h0.9v0.9h-0.9zM388.2 167.3h0.9v0.9h-0.9zM378.2 160.3h0.9v0.9h-0.9zM385.8 166.1h0.9v0.9h-0.9zM379.4 166.4h0.9v0.9h-0.9zM386.2 168.2h0.9v0.9h-0.9zM385.1 163.5h0.9v0.9h-0.9zM383.1 161.8h0.9v0.9h-0.9zM386.0 165.9h0.9v0.9h-0.9zM383.6 165.1h0.9v0.9h-0.9zM384.1 170.6h0.9v0.9h-0.9zM381.3 167.9h0.9v0.9h-0.9zM370.5 164.6h0.9v0.9h-0.9zM385.5 167.6h0.9v0.9h-0.9zM385.1 170.4h0.9v0.9h-0.9zM390.4 167.4h0.9v0.9h-0.9zM386.2 167.8h0.9v0.9h-0.9zM386.5 169.6h0.9v0.9h-0.9zM386.5 165.9h0.9v0.9h-0.9zM386.0 172.4h0.9v0.9h-0.9zM378.1 172.6h0.9v0.9h-0.9zM381.3 169.3h0.9v0.9h-0.9zM384.0 160.2h0.9v0.9h-0.9zM386.1 172.0h0.9v0.9h-0.9zM374.8 172.0h0.9v0.9h-0.9zM384.8 164.8h0.9v0.9h-0.9zM377.5 166.8h0.9v0.9h-0.9zM378.8 165.2h0.9v0.9h-0.9zM387.5 170.9h0.9v0.9h-0.9zM388.1 170.7h0.9v0.9h-0.9zM380.8 164.8h0.9v0.9h-0.9zM376.8 166.7h0.9v0.9h-0.9zM385.7 168.7h0.9v0.9h-0.9zM383.9 169.1h0.9v0.9h-0.9zM384.9 166.9h0.9v0.9h-0.9zM382.4 167.3h0.9v0.9h-0.9zM383.6 164.5h0.9v0.9h-0.9zM381.3 166.5h0.9v0.9h-0.9zM381.4 165.2h0.9v0.9h-0.9zM382.2 171.4h0.9v0.9h-0.9zM386.0 171.5h0.9v0.9h-0.9zM389.0 163.0h0.9v0.9h-0.9zM389.7 172.4h0.9v0.9h-0.9zM380.9 168.2h0.9v0.9h-0.9zM383.5 167.0h0.9v0.9h-0.9zM388.5 172.2h0.9v0.9h-0.9zM385.9 166.6h0.9v0.9h-0.9zM383.0 169.9h0.9v0.9h-0.9zM386.7 162.4h0.9v0.9h-0.9zM385.4 169.1h0.9v0.9h-0.9zM387.1 165.7h0.9v0.9h-0.9zM388.3 160.6h0.9v0.9h-0.9zM380.7 172.2h0.9v0.9h-0.9zM381.1 171.8h0.9v0.9h-0.9zM379.7 168.5h0.9v0.9h-0.9zM390.8 169.5h0.9v0.9h-0.9zM388.9 171.1h0.9v0.9h-0.9zM388.0 172.2h0.9v0.9h-0.9zM383.7 165.4h0.9v0.9h-0.9zM377.8 169.0h0.9v0.9h-0.9zM384.8 160.4h0.9v0.9h-0.9zM382.8 171.1h0.9v0.9h-0.9zM381.9 167.8h0.9v0.9h-0.9zM382.2 166.7h0.9v0.9h-0.9zM381.8 172.7h0.9v0.9h-0.9zM384.9 164.3h0.9v0.9h-0.9zM383.4 169.3h0.9v0.9h-0.9zM385.3 171.4h0.9v0.9h-0.9zM380.2 162.0h0.9v0.9h-0.9zM382.2 166.5h0.9v0.9h-0.9zM386.0 168.0h0.9v0.9h-0.9zM383.9 170.6h0.9v0.9h-0.9zM383.6 165.2h0.9v0.9h-0.9zM382.1 167.3h0.9v0.9h-0.9zM381.4 171.9h0.9v0.9h-0.9zM384.8 170.2h0.9v0.9h-0.9zM383.4 163.5h0.9v0.9h-0.9zM385.9 162.8h0.9v0.9h-0.9zM381.7 167.1h0.9v0.9h-0.9zM386.8 170.3h0.9v0.9h-0.9zM385.2 167.9h0.9v0.9h-0.9zM381.1 165.8h0.9v0.9h-0.9zM381.8 172.9h0.9v0.9h-0.9zM376.5 170.6h0.9v0.9h-0.9zM386.0 155.6h0.9v0.9h-0.9zM385.3 169.2h0.9v0.9h-0.9zM387.3 170.5h0.9v0.9h-0.9zM383.4 171.2h0.9v0.9h-0.9zM381.6 169.8h0.9v0.9h-0.9zM380.5 167.8h0.9v0.9h-0.9zM385.1 168.7h0.9v0.9h-0.9zM385.1 167.5h0.9v0.9h-0.9zM388.2 163.7h0.9v0.9h-0.9zM375.6 169.5h0.9v0.9h-0.9zM390.9 166.9h0.9v0.9h-0.9zM379.1 163.3h0.9v0.9h-0.9zM386.9 166.0h0.9v0.9h-0.9zM381.1 172.8h0.9v0.9h-0.9zM383.2 167.2h0.9v0.9h-0.9zM382.2 164.9h0.9v0.9h-0.9zM383.8 168.0h0.9v0.9h-0.9zM379.2 170.7h0.9v0.9h-0.9zM384.0 168.4h0.9v0.9h-0.9zM384.7 166.4h0.9v0.9h-0.9zM379.1 171.6h0.9v0.9h-0.9zM376.2 164.9h0.9v0.9h-0.9zM382.7 169.6h0.9v0.9h-0.9zM385.4 165.5h0.9v0.9h-0.9zM383.5 172.5h0.9v0.9h-0.9zM384.8 165.5h0.9v0.9h-0.9zM390.7 170.5h0.9v0.9h-0.9zM381.9 166.8h0.9v0.9h-0.9zM382.3 163.4h0.9v0.9h-0.9zM392.5 172.7h0.9v0.9h-0.9zM383.1 162.7h0.9v0.9h-0.9zM377.7 163.7h0.9v0.9h-0.9zM387.4 165.8h0.9v0.9h-0.9zM379.0 164.7h0.9v0.9h-0.9zM382.8 167.7h0.9v0.9h-0.9zM387.5 171.8h0.9v0.9h-0.9zM384.6 168.7h0.9v0.9h-0.9zM386.3 171.9h0.9v0.9h-0.9zM380.6 171.8h0.9v0.9h-0.9zM384.2 166.1h0.9v0.9h-0.9zM377.9 163.9h0.9v0.9h-0.9zM393.8 165.6h0.9v0.9h-0.9zM383.5 172.4h0.9v0.9h-0.9zM381.7 165.3h0.9v0.9h-0.9zM387.9 171.3h0.9v0.9h-0.9zM385.9 164.9h0.9v0.9h-0.9zM389.7 171.1h0.9v0.9h-0.9zM379.3 171.8h0.9v0.9h-0.9zM383.1 162.6h0.9v0.9h-0.9zM380.1 166.3h0.9v0.9h-0.9zM387.2 167.8h0.9v0.9h-0.9zM380.1 171.6h0.9v0.9h-0.9zM377.0 168.8h0.9v0.9h-0.9zM385.3 169.3h0.9v0.9h-0.9zM382.2 163.4h0.9v0.9h-0.9zM387.0 167.0h0.9v0.9h-0.9zM383.9 166.0h0.9v0.9h-0.9zM389.7 167.3h0.9v0.9h-0.9zM386.8 161.0h0.9v0.9h-0.9zM381.5 167.3h0.9v0.9h-0.9zM385.7 165.2h0.9v0.9h-0.9zM382.0 171.4h0.9v0.9h-0.9zM383.6 172.3h0.9v0.9h-0.9zM386.7 164.3h0.9v0.9h-0.9zM389.3 168.7h0.9v0.9h-0.9zM382.7 171.3h0.9v0.9h-0.9zM381.8 162.0h0.9v0.9h-0.9zM380.9 171.7h0.9v0.9h-0.9zM385.2 172.0h0.9v0.9h-0.9zM381.8 172.3h0.9v0.9h-0.9zM378.9 163.8h0.9v0.9h-0.9zM381.6 166.9h0.9v0.9h-0.9zM387.5 173.0h0.9v0.9h-0.9zM385.0 169.1h0.9v0.9h-0.9zM384.7 169.2h0.9v0.9h-0.9zM387.3 172.6h0.9v0.9h-0.9zM389.8 171.9h0.9v0.9h-0.9zM388.1 172.0h0.9v0.9h-0.9zM385.4 167.5h0.9v0.9h-0.9zM390.2 165.1h0.9v0.9h-0.9zM387.7 163.0h0.9v0.9h-0.9zM388.4 163.6h0.9v0.9h-0.9zM386.6 172.7h0.9v0.9h-0.9zM383.8 164.8h0.9v0.9h-0.9zM385.7 163.8h0.9v0.9h-0.9zM396.5 170.0h0.9v0.9h-0.9zM381.3 169.9h0.9v0.9h-0.9zM383.9 164.5h0.9v0.9h-0.9zM386.7 163.4h0.9v0.9h-0.9zM395.4 165.0h0.9v0.9h-0.9zM395.5 157.1h0.9v0.9h-0.9zM403.7 168.3h0.9v0.9h-0.9zM386.4 169.4h0.9v0.9h-0.9zM394.7 162.5h0.9v0.9h-0.9zM375.6 161.4h0.9v0.9h-0.9zM392.1 168.5h0.9v0.9h-0.9zM391.4 168.1h0.9v0.9h-0.9zM393.1 168.3h0.9v0.9h-0.9zM385.2 156.5h0.9v0.9h-0.9zM388.4 164.5h0.9v0.9h-0.9zM378.7 162.9h0.9v0.9h-0.9zM397.9 168.6h0.9v0.9h-0.9zM380.8 162.6h0.9v0.9h-0.9zM378.4 171.7h0.9v0.9h-0.9zM387.6 170.9h0.9v0.9h-0.9zM376.9 167.1h0.9v0.9h-0.9zM373.9 170.0h0.9v0.9h-0.9zM396.5 163.5h0.9v0.9h-0.9zM397.6 169.4h0.9v0.9h-0.9zM397.7 164.7h0.9v0.9h-0.9zM378.6 159.0h0.9v0.9h-0.9zM387.6 171.2h0.9v0.9h-0.9zM377.5 165.2h0.9v0.9h-0.9zM378.8 161.8h0.9v0.9h-0.9zM396.6 171.1h0.9v0.9h-0.9zM388.6 172.5h0.9v0.9h-0.9zM370.6 164.0h0.9v0.9h-0.9zM379.1 171.8h0.9v0.9h-0.9zM391.4 162.9h0.9v0.9h-0.9zM387.2 167.0h0.9v0.9h-0.9zM380.5 160.7h0.9v0.9h-0.9zM383.4 172.4h0.9v0.9h-0.9zM391.9 169.7h0.9v0.9h-0.9zM378.5 165.5h0.9v0.9h-0.9zM381.0 172.1h0.9v0.9h-0.9zM397.1 163.8h0.9v0.9h-0.9zM379.0 165.5h0.9v0.9h-0.9zM388.8 164.3h0.9v0.9h-0.9zM389.6 169.5h0.9v0.9h-0.9zM397.4 171.7h0.9v0.9h-0.9zM401.5 172.1h0.9v0.9h-0.9zM405.8 167.9h0.9v0.9h-0.9zM390.2 171.6h0.9v0.9h-0.9z" fill="#000" fill-opacity="0.42"/>
<path d="M384.7 171.7h0.9v0.9h-0.9zM385.1 172.6h0.9v0.9h-0.9zM375.5 169.2h0.9v0.9h-0.9zM381.2 169.3h0.9v0.9h-0.9zM389.6 165.1h0.9v0.9h-0.9zM380.0 167.9h0.9v0.9h-0.9zM380.6 172.6h0.9v0.9h-0.9zM384.4 165.2h0.9v0.9h-0.9zM384.1 170.4h0.9v0.9h-0.9zM381.0 171.7h0.9v0.9h-0.9zM381.1 168.2h0.9v0.9h-0.9zM380.3 171.4h0.9v0.9h-0.9zM386.5 170.2h0.9v0.9h-0.9zM387.7 170.1h0.9v0.9h-0.9zM383.9 166.2h0.9v0.9h-0.9zM384.6 165.7h0.9v0.9h-0.9zM383.7 169.6h0.9v0.9h-0.9zM379.6 167.3h0.9v0.9h-0.9zM391.5 167.1h0.9v0.9h-0.9zM381.8 167.7h0.9v0.9h-0.9zM385.0 171.8h0.9v0.9h-0.9zM377.4 168.6h0.9v0.9h-0.9zM384.2 172.5h0.9v0.9h-0.9zM385.5 166.6h0.9v0.9h-0.9zM392.0 165.0h0.9v0.9h-0.9zM392.6 159.8h0.9v0.9h-0.9zM377.0 169.0h0.9v0.9h-0.9zM379.0 171.3h0.9v0.9h-0.9zM379.7 166.3h0.9v0.9h-0.9zM382.7 165.8h0.9v0.9h-0.9zM380.6 163.4h0.9v0.9h-0.9zM379.3 164.7h0.9v0.9h-0.9zM373.5 167.0h0.9v0.9h-0.9zM384.7 166.9h0.9v0.9h-0.9zM389.7 170.2h0.9v0.9h-0.9zM382.5 169.3h0.9v0.9h-0.9zM383.0 172.2h0.9v0.9h-0.9zM374.2 167.5h0.9v0.9h-0.9zM385.6 165.0h0.9v0.9h-0.9zM382.0 165.6h0.9v0.9h-0.9zM389.8 166.4h0.9v0.9h-0.9zM385.3 168.3h0.9v0.9h-0.9zM381.3 166.4h0.9v0.9h-0.9zM380.0 167.6h0.9v0.9h-0.9zM385.4 166.0h0.9v0.9h-0.9zM391.5 166.5h0.9v0.9h-0.9zM385.5 161.1h0.9v0.9h-0.9zM381.6 170.8h0.9v0.9h-0.9zM385.3 172.7h0.9v0.9h-0.9zM373.6 165.1h0.9v0.9h-0.9zM391.1 165.5h0.9v0.9h-0.9zM384.6 167.0h0.9v0.9h-0.9zM380.2 159.1h0.9v0.9h-0.9zM380.8 169.7h0.9v0.9h-0.9zM388.2 171.7h0.9v0.9h-0.9zM389.0 168.8h0.9v0.9h-0.9zM384.8 168.3h0.9v0.9h-0.9zM379.7 171.2h0.9v0.9h-0.9zM382.6 163.5h0.9v0.9h-0.9zM385.1 166.8h0.9v0.9h-0.9zM387.7 170.4h0.9v0.9h-0.9zM378.3 162.7h0.9v0.9h-0.9zM388.1 157.9h0.9v0.9h-0.9zM386.2 162.5h0.9v0.9h-0.9zM378.7 164.4h0.9v0.9h-0.9zM387.7 170.3h0.9v0.9h-0.9zM386.7 170.0h0.9v0.9h-0.9zM383.0 171.4h0.9v0.9h-0.9zM382.5 172.9h0.9v0.9h-0.9zM390.6 161.1h0.9v0.9h-0.9zM381.2 163.7h0.9v0.9h-0.9zM386.0 169.1h0.9v0.9h-0.9zM391.6 172.5h0.9v0.9h-0.9zM387.4 165.8h0.9v0.9h-0.9zM389.4 170.8h0.9v0.9h-0.9zM386.4 172.9h0.9v0.9h-0.9zM386.3 166.5h0.9v0.9h-0.9zM381.5 165.2h0.9v0.9h-0.9zM385.7 164.3h0.9v0.9h-0.9zM376.4 170.5h0.9v0.9h-0.9zM380.3 169.8h0.9v0.9h-0.9zM383.1 170.6h0.9v0.9h-0.9zM381.0 172.7h0.9v0.9h-0.9zM384.8 171.8h0.9v0.9h-0.9zM383.7 164.4h0.9v0.9h-0.9zM388.6 165.4h0.9v0.9h-0.9zM381.3 163.2h0.9v0.9h-0.9zM388.1 166.4h0.9v0.9h-0.9zM383.7 167.5h0.9v0.9h-0.9zM380.7 165.7h0.9v0.9h-0.9zM381.5 168.1h0.9v0.9h-0.9zM383.7 168.6h0.9v0.9h-0.9zM383.5 167.6h0.9v0.9h-0.9zM382.0 163.6h0.9v0.9h-0.9zM385.8 166.9h0.9v0.9h-0.9zM383.0 163.1h0.9v0.9h-0.9zM392.9 165.0h0.9v0.9h-0.9zM380.0 167.9h0.9v0.9h-0.9zM383.1 168.9h0.9v0.9h-0.9zM389.6 167.6h0.9v0.9h-0.9zM377.2 171.8h0.9v0.9h-0.9zM384.6 171.0h0.9v0.9h-0.9zM376.6 169.4h0.9v0.9h-0.9zM387.1 171.9h0.9v0.9h-0.9zM384.1 164.4h0.9v0.9h-0.9zM384.8 166.0h0.9v0.9h-0.9zM383.8 166.3h0.9v0.9h-0.9zM384.7 166.3h0.9v0.9h-0.9zM385.3 162.0h0.9v0.9h-0.9zM383.0 168.5h0.9v0.9h-0.9zM381.8 163.0h0.9v0.9h-0.9zM387.4 171.8h0.9v0.9h-0.9zM379.5 166.5h0.9v0.9h-0.9zM387.7 171.6h0.9v0.9h-0.9zM379.7 164.4h0.9v0.9h-0.9zM382.4 169.5h0.9v0.9h-0.9zM389.0 170.0h0.9v0.9h-0.9zM393.2 168.9h0.9v0.9h-0.9zM381.1 171.2h0.9v0.9h-0.9zM381.7 172.9h0.9v0.9h-0.9zM390.3 162.7h0.9v0.9h-0.9zM382.6 170.4h0.9v0.9h-0.9zM379.3 164.9h0.9v0.9h-0.9zM387.6 169.5h0.9v0.9h-0.9zM383.8 171.8h0.9v0.9h-0.9zM381.2 163.6h0.9v0.9h-0.9zM382.6 167.5h0.9v0.9h-0.9zM379.6 172.4h0.9v0.9h-0.9zM382.0 167.5h0.9v0.9h-0.9zM383.3 172.6h0.9v0.9h-0.9zM385.3 171.3h0.9v0.9h-0.9zM387.0 171.8h0.9v0.9h-0.9zM387.1 168.1h0.9v0.9h-0.9zM386.4 169.7h0.9v0.9h-0.9zM382.0 168.5h0.9v0.9h-0.9zM381.0 171.9h0.9v0.9h-0.9zM386.6 168.5h0.9v0.9h-0.9zM382.5 171.0h0.9v0.9h-0.9zM382.7 168.8h0.9v0.9h-0.9zM384.4 161.0h0.9v0.9h-0.9zM382.1 169.3h0.9v0.9h-0.9zM387.0 163.3h0.9v0.9h-0.9zM384.7 167.6h0.9v0.9h-0.9zM378.0 163.9h0.9v0.9h-0.9zM389.1 165.4h0.9v0.9h-0.9zM379.8 166.7h0.9v0.9h-0.9zM383.4 166.5h0.9v0.9h-0.9zM379.9 162.9h0.9v0.9h-0.9zM387.0 167.6h0.9v0.9h-0.9zM384.9 162.3h0.9v0.9h-0.9zM384.9 169.5h0.9v0.9h-0.9zM382.0 164.9h0.9v0.9h-0.9zM381.5 163.5h0.9v0.9h-0.9zM390.7 169.3h0.9v0.9h-0.9zM383.2 167.0h0.9v0.9h-0.9zM374.9 169.8h0.9v0.9h-0.9zM382.4 167.7h0.9v0.9h-0.9zM380.4 170.6h0.9v0.9h-0.9zM376.5 170.9h0.9v0.9h-0.9zM381.7 165.6h0.9v0.9h-0.9zM384.7 166.6h0.9v0.9h-0.9zM386.0 168.2h0.9v0.9h-0.9zM385.3 163.7h0.9v0.9h-0.9zM376.6 170.9h0.9v0.9h-0.9zM378.7 167.2h0.9v0.9h-0.9zM391.4 163.9h0.9v0.9h-0.9zM382.3 171.4h0.9v0.9h-0.9zM376.8 166.0h0.9v0.9h-0.9zM387.8 168.4h0.9v0.9h-0.9zM383.2 171.5h0.9v0.9h-0.9zM379.1 172.7h0.9v0.9h-0.9zM385.5 165.4h0.9v0.9h-0.9zM386.3 167.5h0.9v0.9h-0.9zM386.8 167.7h0.9v0.9h-0.9zM382.3 168.1h0.9v0.9h-0.9zM387.6 169.9h0.9v0.9h-0.9zM385.5 167.5h0.9v0.9h-0.9zM387.6 168.6h0.9v0.9h-0.9zM384.8 165.5h0.9v0.9h-0.9zM387.3 167.9h0.9v0.9h-0.9zM385.2 168.2h0.9v0.9h-0.9zM381.8 162.8h0.9v0.9h-0.9zM383.1 170.3h0.9v0.9h-0.9zM377.4 169.0h0.9v0.9h-0.9zM381.6 164.8h0.9v0.9h-0.9zM382.0 170.2h0.9v0.9h-0.9zM384.0 172.8h0.9v0.9h-0.9zM382.2 167.1h0.9v0.9h-0.9zM378.4 166.0h0.9v0.9h-0.9zM382.8 161.6h0.9v0.9h-0.9zM385.0 169.1h0.9v0.9h-0.9zM381.5 168.1h0.9v0.9h-0.9zM388.4 165.4h0.9v0.9h-0.9zM383.6 163.9h0.9v0.9h-0.9zM382.5 165.0h0.9v0.9h-0.9zM379.0 172.2h0.9v0.9h-0.9zM380.0 169.9h0.9v0.9h-0.9zM386.6 168.1h0.9v0.9h-0.9zM387.0 163.9h0.9v0.9h-0.9zM383.7 163.3h0.9v0.9h-0.9zM388.1 163.2h0.9v0.9h-0.9zM384.8 162.8h0.9v0.9h-0.9zM381.8 163.5h0.9v0.9h-0.9zM386.4 167.4h0.9v0.9h-0.9zM375.1 170.2h0.9v0.9h-0.9zM383.8 169.4h0.9v0.9h-0.9zM387.7 172.6h0.9v0.9h-0.9zM386.2 171.8h0.9v0.9h-0.9zM379.1 168.6h0.9v0.9h-0.9zM388.1 169.9h0.9v0.9h-0.9zM383.3 167.0h0.9v0.9h-0.9zM386.4 163.6h0.9v0.9h-0.9zM384.5 171.5h0.9v0.9h-0.9zM383.1 166.8h0.9v0.9h-0.9zM378.7 167.7h0.9v0.9h-0.9zM386.3 166.6h0.9v0.9h-0.9zM381.8 169.0h0.9v0.9h-0.9zM380.2 169.2h0.9v0.9h-0.9zM387.3 168.3h0.9v0.9h-0.9zM380.2 169.7h0.9v0.9h-0.9zM380.5 163.2h0.9v0.9h-0.9zM382.6 164.8h0.9v0.9h-0.9zM381.3 167.5h0.9v0.9h-0.9zM383.6 171.6h0.9v0.9h-0.9zM384.4 171.2h0.9v0.9h-0.9zM398.6 169.2h0.9v0.9h-0.9zM383.4 165.6h0.9v0.9h-0.9zM381.5 169.5h0.9v0.9h-0.9zM385.7 167.8h0.9v0.9h-0.9zM397.5 158.3h0.9v0.9h-0.9zM390.8 167.0h0.9v0.9h-0.9zM388.8 164.6h0.9v0.9h-0.9zM393.2 171.3h0.9v0.9h-0.9zM379.7 170.4h0.9v0.9h-0.9zM384.8 158.9h0.9v0.9h-0.9zM388.1 168.3h0.9v0.9h-0.9zM379.8 164.6h0.9v0.9h-0.9zM403.2 166.5h0.9v0.9h-0.9zM370.6 163.4h0.9v0.9h-0.9zM381.6 156.7h0.9v0.9h-0.9zM378.4 166.9h0.9v0.9h-0.9zM399.2 169.3h0.9v0.9h-0.9zM372.7 165.6h0.9v0.9h-0.9zM380.1 161.1h0.9v0.9h-0.9zM398.8 169.3h0.9v0.9h-0.9zM381.3 163.7h0.9v0.9h-0.9zM397.0 168.2h0.9v0.9h-0.9zM382.9 169.1h0.9v0.9h-0.9zM406.0 160.2h0.9v0.9h-0.9zM398.5 164.1h0.9v0.9h-0.9zM386.3 159.8h0.9v0.9h-0.9zM386.0 166.7h0.9v0.9h-0.9zM385.1 172.4h0.9v0.9h-0.9zM387.8 167.0h0.9v0.9h-0.9zM383.1 168.1h0.9v0.9h-0.9zM379.5 171.0h0.9v0.9h-0.9zM374.1 166.6h0.9v0.9h-0.9zM385.3 164.6h0.9v0.9h-0.9zM382.0 166.9h0.9v0.9h-0.9zM392.3 169.2h0.9v0.9h-0.9zM372.4 160.9h0.9v0.9h-0.9zM379.0 164.6h0.9v0.9h-0.9zM387.5 161.8h0.9v0.9h-0.9zM383.0 167.5h0.9v0.9h-0.9zM386.1 162.0h0.9v0.9h-0.9zM372.8 166.8h0.9v0.9h-0.9zM374.0 159.0h0.9v0.9h-0.9zM370.3 170.3h0.9v0.9h-0.9zM408.1 166.6h0.9v0.9h-0.9zM401.6 169.2h0.9v0.9h-0.9zM400.3 172.6h0.9v0.9h-0.9zM406.1 169.0h0.9v0.9h-0.9zM391.2 169.9h0.9v0.9h-0.9z" fill="#000" fill-opacity="0.42"/>
<path d="M385.7 172.5h0.9v0.9h-0.9zM385.9 171.7h0.9v0.9h-0.9zM390.4 164.3h0.9v0.9h-0.9zM381.0 171.1h0.9v0.9h-0.9zM379.9 166.9h0.9v0.9h-0.9zM386.1 170.9h0.9v0.9h-0.9zM378.8 160.9h0.9v0.9h-0.9zM385.2 170.0h0.9v0.9h-0.9zM383.7 163.9h0.9v0.9h-0.9zM375.6 171.5h0.9v0.9h-0.9zM389.5 167.8h0.9v0.9h-0.9zM384.7 167.8h0.9v0.9h-0.9zM381.0 168.9h0.9v0.9h-0.9zM384.2 164.7h0.9v0.9h-0.9zM372.9 169.6h0.9v0.9h-0.9zM381.7 164.0h0.9v0.9h-0.9zM380.5 171.4h0.9v0.9h-0.9zM384.4 168.2h0.9v0.9h-0.9zM382.1 172.9h0.9v0.9h-0.9zM383.7 172.8h0.9v0.9h-0.9zM385.2 165.1h0.9v0.9h-0.9zM390.5 167.2h0.9v0.9h-0.9zM383.5 169.5h0.9v0.9h-0.9zM383.1 170.6h0.9v0.9h-0.9zM383.4 166.0h0.9v0.9h-0.9zM383.1 168.9h0.9v0.9h-0.9zM383.1 167.7h0.9v0.9h-0.9zM382.3 171.7h0.9v0.9h-0.9zM383.5 162.5h0.9v0.9h-0.9zM378.6 172.5h0.9v0.9h-0.9zM383.8 161.4h0.9v0.9h-0.9zM388.3 171.7h0.9v0.9h-0.9zM382.9 168.2h0.9v0.9h-0.9zM384.3 172.1h0.9v0.9h-0.9zM375.7 172.0h0.9v0.9h-0.9zM382.1 172.1h0.9v0.9h-0.9zM382.8 172.1h0.9v0.9h-0.9zM391.9 166.4h0.9v0.9h-0.9zM386.3 169.7h0.9v0.9h-0.9zM383.3 165.6h0.9v0.9h-0.9zM381.3 162.9h0.9v0.9h-0.9zM381.6 167.6h0.9v0.9h-0.9zM376.4 163.6h0.9v0.9h-0.9zM385.1 169.2h0.9v0.9h-0.9zM380.4 165.7h0.9v0.9h-0.9zM385.0 169.2h0.9v0.9h-0.9zM389.4 166.3h0.9v0.9h-0.9zM382.0 167.5h0.9v0.9h-0.9zM386.2 166.1h0.9v0.9h-0.9zM378.5 163.3h0.9v0.9h-0.9zM388.9 165.7h0.9v0.9h-0.9zM384.8 168.9h0.9v0.9h-0.9zM380.7 168.3h0.9v0.9h-0.9zM381.4 171.5h0.9v0.9h-0.9zM381.3 168.2h0.9v0.9h-0.9zM379.1 168.3h0.9v0.9h-0.9zM374.9 165.9h0.9v0.9h-0.9zM384.8 162.8h0.9v0.9h-0.9zM385.2 172.3h0.9v0.9h-0.9zM384.3 170.6h0.9v0.9h-0.9zM388.4 167.5h0.9v0.9h-0.9zM385.9 167.5h0.9v0.9h-0.9zM380.1 171.5h0.9v0.9h-0.9zM383.6 168.8h0.9v0.9h-0.9zM382.6 168.8h0.9v0.9h-0.9zM383.0 172.7h0.9v0.9h-0.9zM385.1 166.8h0.9v0.9h-0.9zM380.4 165.2h0.9v0.9h-0.9zM388.6 167.9h0.9v0.9h-0.9zM387.6 172.6h0.9v0.9h-0.9zM383.5 164.6h0.9v0.9h-0.9zM382.4 165.8h0.9v0.9h-0.9zM384.7 170.9h0.9v0.9h-0.9zM385.2 170.8h0.9v0.9h-0.9zM387.4 172.4h0.9v0.9h-0.9zM384.6 165.5h0.9v0.9h-0.9zM381.0 172.9h0.9v0.9h-0.9zM380.2 168.0h0.9v0.9h-0.9zM383.4 167.3h0.9v0.9h-0.9zM382.3 168.6h0.9v0.9h-0.9zM384.5 172.1h0.9v0.9h-0.9zM379.4 168.8h0.9v0.9h-0.9zM382.7 163.9h0.9v0.9h-0.9zM385.5 171.4h0.9v0.9h-0.9zM380.7 166.0h0.9v0.9h-0.9zM374.9 166.8h0.9v0.9h-0.9zM382.1 170.6h0.9v0.9h-0.9zM375.3 169.7h0.9v0.9h-0.9zM384.8 167.2h0.9v0.9h-0.9zM388.4 167.2h0.9v0.9h-0.9zM382.9 165.4h0.9v0.9h-0.9zM386.9 166.4h0.9v0.9h-0.9zM381.2 167.1h0.9v0.9h-0.9zM380.2 168.8h0.9v0.9h-0.9zM381.4 168.6h0.9v0.9h-0.9zM383.9 164.4h0.9v0.9h-0.9zM386.8 167.9h0.9v0.9h-0.9zM387.5 167.8h0.9v0.9h-0.9zM381.9 162.5h0.9v0.9h-0.9zM388.6 171.3h0.9v0.9h-0.9zM386.5 170.6h0.9v0.9h-0.9zM386.8 164.1h0.9v0.9h-0.9zM382.3 162.7h0.9v0.9h-0.9zM381.6 167.1h0.9v0.9h-0.9zM384.6 162.5h0.9v0.9h-0.9zM383.8 167.5h0.9v0.9h-0.9zM379.4 164.0h0.9v0.9h-0.9zM386.7 167.8h0.9v0.9h-0.9zM378.8 168.4h0.9v0.9h-0.9zM381.7 171.3h0.9v0.9h-0.9zM380.3 170.2h0.9v0.9h-0.9zM380.5 162.3h0.9v0.9h-0.9zM387.0 166.3h0.9v0.9h-0.9zM380.7 170.7h0.9v0.9h-0.9zM391.1 169.4h0.9v0.9h-0.9zM379.1 171.4h0.9v0.9h-0.9zM381.3 160.7h0.9v0.9h-0.9zM378.7 163.4h0.9v0.9h-0.9zM388.8 171.2h0.9v0.9h-0.9zM380.2 166.9h0.9v0.9h-0.9zM383.1 171.0h0.9v0.9h-0.9zM380.2 163.3h0.9v0.9h-0.9zM384.4 164.1h0.9v0.9h-0.9zM385.9 164.4h0.9v0.9h-0.9zM385.0 163.3h0.9v0.9h-0.9zM376.8 166.1h0.9v0.9h-0.9zM385.6 169.9h0.9v0.9h-0.9zM381.6 168.2h0.9v0.9h-0.9zM384.2 172.6h0.9v0.9h-0.9zM378.4 168.1h0.9v0.9h-0.9zM383.9 162.6h0.9v0.9h-0.9zM386.2 169.6h0.9v0.9h-0.9zM382.4 166.4h0.9v0.9h-0.9zM388.1 168.0h0.9v0.9h-0.9zM386.9 161.6h0.9v0.9h-0.9zM387.5 170.8h0.9v0.9h-0.9zM385.8 170.6h0.9v0.9h-0.9zM383.2 168.6h0.9v0.9h-0.9zM386.2 168.0h0.9v0.9h-0.9zM383.2 172.2h0.9v0.9h-0.9zM386.6 164.9h0.9v0.9h-0.9zM376.9 170.1h0.9v0.9h-0.9zM389.4 168.3h0.9v0.9h-0.9zM388.5 166.0h0.9v0.9h-0.9zM387.7 172.9h0.9v0.9h-0.9zM387.2 166.3h0.9v0.9h-0.9zM383.3 163.0h0.9v0.9h-0.9zM384.1 159.5h0.9v0.9h-0.9zM381.9 171.2h0.9v0.9h-0.9zM383.1 170.6h0.9v0.9h-0.9zM387.1 167.4h0.9v0.9h-0.9zM385.8 171.6h0.9v0.9h-0.9zM390.6 167.0h0.9v0.9h-0.9zM378.1 161.3h0.9v0.9h-0.9zM385.0 166.4h0.9v0.9h-0.9zM377.1 163.7h0.9v0.9h-0.9zM390.2 162.5h0.9v0.9h-0.9zM378.9 168.8h0.9v0.9h-0.9zM380.9 170.1h0.9v0.9h-0.9zM386.8 164.2h0.9v0.9h-0.9zM387.2 168.3h0.9v0.9h-0.9zM379.4 160.9h0.9v0.9h-0.9zM379.5 165.2h0.9v0.9h-0.9zM385.2 170.4h0.9v0.9h-0.9zM385.6 169.1h0.9v0.9h-0.9zM383.2 170.5h0.9v0.9h-0.9zM389.2 169.7h0.9v0.9h-0.9zM384.2 161.5h0.9v0.9h-0.9zM384.6 171.1h0.9v0.9h-0.9zM384.1 170.9h0.9v0.9h-0.9zM388.1 161.9h0.9v0.9h-0.9zM390.0 165.5h0.9v0.9h-0.9zM389.2 160.2h0.9v0.9h-0.9zM384.0 164.7h0.9v0.9h-0.9zM384.5 170.4h0.9v0.9h-0.9zM380.2 160.0h0.9v0.9h-0.9zM379.3 172.7h0.9v0.9h-0.9zM384.5 170.3h0.9v0.9h-0.9zM378.7 164.9h0.9v0.9h-0.9zM384.6 167.2h0.9v0.9h-0.9zM381.4 170.4h0.9v0.9h-0.9zM382.0 167.2h0.9v0.9h-0.9zM382.1 165.3h0.9v0.9h-0.9zM384.0 168.2h0.9v0.9h-0.9zM381.4 167.7h0.9v0.9h-0.9zM379.1 166.2h0.9v0.9h-0.9zM385.8 167.8h0.9v0.9h-0.9zM380.4 167.5h0.9v0.9h-0.9zM381.0 172.9h0.9v0.9h-0.9zM381.5 166.5h0.9v0.9h-0.9zM384.3 169.7h0.9v0.9h-0.9zM384.9 166.8h0.9v0.9h-0.9zM384.1 170.0h0.9v0.9h-0.9zM382.3 170.0h0.9v0.9h-0.9zM382.6 166.6h0.9v0.9h-0.9zM382.9 159.2h0.9v0.9h-0.9zM382.6 165.3h0.9v0.9h-0.9zM381.8 171.4h0.9v0.9h-0.9zM385.6 169.3h0.9v0.9h-0.9zM380.9 161.9h0.9v0.9h-0.9zM384.3 164.2h0.9v0.9h-0.9zM389.3 172.7h0.9v0.9h-0.9zM380.7 161.2h0.9v0.9h-0.9zM382.0 169.8h0.9v0.9h-0.9zM382.1 170.9h0.9v0.9h-0.9zM383.2 171.4h0.9v0.9h-0.9zM390.8 165.7h0.9v0.9h-0.9zM386.8 159.0h0.9v0.9h-0.9zM385.8 167.1h0.9v0.9h-0.9zM384.2 162.8h0.9v0.9h-0.9zM384.8 166.2h0.9v0.9h-0.9zM386.5 166.4h0.9v0.9h-0.9zM380.1 161.0h0.9v0.9h-0.9zM385.1 169.5h0.9v0.9h-0.9zM381.5 169.1h0.9v0.9h-0.9zM387.1 165.1h0.9v0.9h-0.9zM379.3 166.6h0.9v0.9h-0.9zM381.0 166.1h0.9v0.9h-0.9zM382.2 172.0h0.9v0.9h-0.9zM379.0 166.9h0.9v0.9h-0.9zM381.3 168.8h0.9v0.9h-0.9zM387.9 166.7h0.9v0.9h-0.9zM385.9 172.3h0.9v0.9h-0.9zM384.1 165.4h0.9v0.9h-0.9zM383.8 162.6h0.9v0.9h-0.9zM378.1 169.5h0.9v0.9h-0.9zM376.1 170.5h0.9v0.9h-0.9zM393.8 169.8h0.9v0.9h-0.9zM391.5 170.0h0.9v0.9h-0.9zM394.9 168.0h0.9v0.9h-0.9zM392.7 171.7h0.9v0.9h-0.9zM375.6 171.3h0.9v0.9h-0.9zM390.1 167.1h0.9v0.9h-0.9zM387.6 164.1h0.9v0.9h-0.9zM384.3 167.0h0.9v0.9h-0.9zM376.7 167.6h0.9v0.9h-0.9zM394.1 161.0h0.9v0.9h-0.9zM373.0 155.7h0.9v0.9h-0.9zM386.6 170.6h0.9v0.9h-0.9zM385.0 166.9h0.9v0.9h-0.9zM387.3 163.8h0.9v0.9h-0.9zM403.9 170.1h0.9v0.9h-0.9zM384.0 165.9h0.9v0.9h-0.9zM389.8 169.6h0.9v0.9h-0.9zM383.2 167.6h0.9v0.9h-0.9zM386.6 165.8h0.9v0.9h-0.9zM380.5 171.3h0.9v0.9h-0.9zM384.7 172.0h0.9v0.9h-0.9zM399.2 168.3h0.9v0.9h-0.9zM401.4 170.2h0.9v0.9h-0.9zM388.7 163.7h0.9v0.9h-0.9zM380.0 164.3h0.9v0.9h-0.9zM391.7 165.3h0.9v0.9h-0.9zM383.0 164.4h0.9v0.9h-0.9zM381.3 172.5h0.9v0.9h-0.9zM377.1 167.8h0.9v0.9h-0.9zM382.6 164.1h0.9v0.9h-0.9zM384.2 157.4h0.9v0.9h-0.9zM383.5 159.0h0.9v0.9h-0.9zM387.9 170.7h0.9v0.9h-0.9zM372.5 164.6h0.9v0.9h-0.9zM394.9 167.0h0.9v0.9h-0.9zM380.9 171.4h0.9v0.9h-0.9zM384.1 170.7h0.9v0.9h-0.9zM385.9 166.0h0.9v0.9h-0.9zM396.7 167.4h0.9v0.9h-0.9zM388.0 171.2h0.9v0.9h-0.9zM383.8 168.7h0.9v0.9h-0.9zM408.8 165.7h0.9v0.9h-0.9zM403.3 168.5h0.9v0.9h-0.9zM395.2 168.5h0.9v0.9h-0.9zM396.5 171.5h0.9v0.9h-0.9z" fill="#000" fill-opacity="0.42"/>
<path d="M384.0 169.7h0.9v0.9h-0.9zM392.1 159.7h0.9v0.9h-0.9zM386.1 166.1h0.9v0.9h-0.9zM380.5 166.6h0.9v0.9h-0.9zM374.0 170.1h0.9v0.9h-0.9zM376.2 172.7h0.9v0.9h-0.9zM384.5 163.1h0.9v0.9h-0.9zM394.8 169.1h0.9v0.9h-0.9zM387.2 167.3h0.9v0.9h-0.9zM384.1 168.9h0.9v0.9h-0.9zM378.7 169.8h0.9v0.9h-0.9zM384.9 169.2h0.9v0.9h-0.9zM381.7 163.1h0.9v0.9h-0.9zM387.1 165.2h0.9v0.9h-0.9zM385.7 171.2h0.9v0.9h-0.9zM386.6 164.0h0.9v0.9h-0.9zM388.3 170.3h0.9v0.9h-0.9zM380.0 170.1h0.9v0.9h-0.9zM380.6 168.2h0.9v0.9h-0.9zM380.9 169.9h0.9v0.9h-0.9zM387.0 172.6h0.9v0.9h-0.9zM377.8 164.9h0.9v0.9h-0.9zM379.9 168.6h0.9v0.9h-0.9zM391.8 166.5h0.9v0.9h-0.9zM385.5 169.6h0.9v0.9h-0.9zM382.0 171.4h0.9v0.9h-0.9zM381.6 166.9h0.9v0.9h-0.9zM384.8 162.9h0.9v0.9h-0.9zM385.5 171.0h0.9v0.9h-0.9zM375.9 164.5h0.9v0.9h-0.9zM381.1 167.2h0.9v0.9h-0.9zM379.8 168.9h0.9v0.9h-0.9zM385.8 165.5h0.9v0.9h-0.9zM383.2 163.1h0.9v0.9h-0.9zM382.2 167.3h0.9v0.9h-0.9zM385.5 166.3h0.9v0.9h-0.9zM384.2 168.5h0.9v0.9h-0.9zM384.4 172.2h0.9v0.9h-0.9zM388.1 159.7h0.9v0.9h-0.9zM386.7 164.4h0.9v0.9h-0.9zM383.6 170.8h0.9v0.9h-0.9zM380.8 171.5h0.9v0.9h-0.9zM387.7 172.4h0.9v0.9h-0.9zM379.7 172.3h0.9v0.9h-0.9zM374.7 171.1h0.9v0.9h-0.9zM388.6 159.3h0.9v0.9h-0.9zM385.8 166.1h0.9v0.9h-0.9zM379.8 169.8h0.9v0.9h-0.9zM380.5 170.3h0.9v0.9h-0.9zM384.6 162.9h0.9v0.9h-0.9zM379.9 171.6h0.9v0.9h-0.9zM382.7 169.4h0.9v0.9h-0.9zM385.1 172.0h0.9v0.9h-0.9zM387.9 163.4h0.9v0.9h-0.9zM385.9 165.6h0.9v0.9h-0.9zM380.9 164.6h0.9v0.9h-0.9zM376.4 168.2h0.9v0.9h-0.9zM384.6 164.0h0.9v0.9h-0.9zM392.8 164.9h0.9v0.9h-0.9zM387.0 169.0h0.9v0.9h-0.9zM382.0 169.0h0.9v0.9h-0.9zM388.3 165.2h0.9v0.9h-0.9zM385.3 168.7h0.9v0.9h-0.9zM381.8 164.9h0.9v0.9h-0.9zM383.9 166.4h0.9v0.9h-0.9zM391.6 169.4h0.9v0.9h-0.9zM382.7 168.7h0.9v0.9h-0.9zM384.5 165.7h0.9v0.9h-0.9zM374.1 165.8h0.9v0.9h-0.9zM389.2 168.7h0.9v0.9h-0.9zM387.1 168.4h0.9v0.9h-0.9zM387.7 164.9h0.9v0.9h-0.9zM389.0 160.0h0.9v0.9h-0.9zM386.6 168.3h0.9v0.9h-0.9zM386.7 168.6h0.9v0.9h-0.9zM376.5 164.5h0.9v0.9h-0.9zM384.2 169.1h0.9v0.9h-0.9zM386.1 171.5h0.9v0.9h-0.9zM379.9 164.9h0.9v0.9h-0.9zM383.6 172.6h0.9v0.9h-0.9zM379.6 172.9h0.9v0.9h-0.9zM382.3 163.7h0.9v0.9h-0.9zM389.7 171.5h0.9v0.9h-0.9zM384.2 168.9h0.9v0.9h-0.9zM387.1 165.9h0.9v0.9h-0.9zM383.0 163.5h0.9v0.9h-0.9zM381.1 168.5h0.9v0.9h-0.9zM385.8 172.3h0.9v0.9h-0.9zM380.1 167.6h0.9v0.9h-0.9zM382.2 169.6h0.9v0.9h-0.9zM383.9 167.9h0.9v0.9h-0.9zM382.4 163.1h0.9v0.9h-0.9zM377.6 167.5h0.9v0.9h-0.9zM384.5 165.7h0.9v0.9h-0.9zM380.3 171.5h0.9v0.9h-0.9zM382.1 168.7h0.9v0.9h-0.9zM384.3 171.2h0.9v0.9h-0.9zM381.8 171.4h0.9v0.9h-0.9zM380.6 169.2h0.9v0.9h-0.9zM385.7 170.2h0.9v0.9h-0.9zM384.6 172.2h0.9v0.9h-0.9zM384.0 170.5h0.9v0.9h-0.9zM380.4 170.8h0.9v0.9h-0.9zM387.0 169.7h0.9v0.9h-0.9zM386.4 167.8h0.9v0.9h-0.9zM385.2 168.3h0.9v0.9h-0.9zM391.2 165.1h0.9v0.9h-0.9zM386.4 172.3h0.9v0.9h-0.9zM385.0 171.1h0.9v0.9h-0.9zM383.2 172.5h0.9v0.9h-0.9zM397.4 168.1h0.9v0.9h-0.9zM386.7 170.9h0.9v0.9h-0.9zM386.4 169.7h0.9v0.9h-0.9zM379.2 162.9h0.9v0.9h-0.9zM391.2 163.3h0.9v0.9h-0.9zM380.2 162.0h0.9v0.9h-0.9zM381.0 168.2h0.9v0.9h-0.9zM381.3 164.9h0.9v0.9h-0.9zM380.8 165.3h0.9v0.9h-0.9zM379.6 168.8h0.9v0.9h-0.9zM385.6 172.8h0.9v0.9h-0.9zM391.4 172.1h0.9v0.9h-0.9zM378.8 169.8h0.9v0.9h-0.9zM379.3 169.7h0.9v0.9h-0.9zM386.2 171.4h0.9v0.9h-0.9zM391.3 169.8h0.9v0.9h-0.9zM393.0 167.3h0.9v0.9h-0.9zM378.5 166.1h0.9v0.9h-0.9zM387.0 163.2h0.9v0.9h-0.9zM383.6 171.8h0.9v0.9h-0.9zM391.0 172.2h0.9v0.9h-0.9zM388.2 172.5h0.9v0.9h-0.9zM380.9 170.5h0.9v0.9h-0.9zM388.3 171.0h0.9v0.9h-0.9zM381.6 170.9h0.9v0.9h-0.9zM384.6 167.3h0.9v0.9h-0.9zM384.5 168.3h0.9v0.9h-0.9zM383.9 167.9h0.9v0.9h-0.9zM385.4 169.0h0.9v0.9h-0.9zM382.4 173.0h0.9v0.9h-0.9zM382.7 169.7h0.9v0.9h-0.9zM378.7 170.7h0.9v0.9h-0.9zM391.3 168.4h0.9v0.9h-0.9zM381.0 163.7h0.9v0.9h-0.9zM385.3 169.3h0.9v0.9h-0.9zM387.9 164.7h0.9v0.9h-0.9zM388.4 172.9h0.9v0.9h-0.9zM381.3 172.0h0.9v0.9h-0.9zM385.7 172.5h0.9v0.9h-0.9zM387.8 164.2h0.9v0.9h-0.9zM377.8 166.5h0.9v0.9h-0.9zM383.6 170.9h0.9v0.9h-0.9zM387.3 168.3h0.9v0.9h-0.9zM380.2 169.6h0.9v0.9h-0.9zM377.1 167.3h0.9v0.9h-0.9zM379.1 167.7h0.9v0.9h-0.9zM381.8 164.9h0.9v0.9h-0.9zM389.8 171.4h0.9v0.9h-0.9zM378.5 168.2h0.9v0.9h-0.9zM379.8 163.0h0.9v0.9h-0.9zM379.8 167.7h0.9v0.9h-0.9zM385.2 168.1h0.9v0.9h-0.9zM381.1 171.1h0.9v0.9h-0.9zM380.1 168.8h0.9v0.9h-0.9zM385.6 164.8h0.9v0.9h-0.9zM383.7 166.7h0.9v0.9h-0.9zM381.9 169.3h0.9v0.9h-0.9zM384.7 162.6h0.9v0.9h-0.9zM386.1 165.4h0.9v0.9h-0.9zM378.0 168.9h0.9v0.9h-0.9zM380.9 172.7h0.9v0.9h-0.9zM384.8 171.3h0.9v0.9h-0.9zM385.0 168.0h0.9v0.9h-0.9zM387.6 169.1h0.9v0.9h-0.9zM379.9 160.5h0.9v0.9h-0.9zM388.6 172.0h0.9v0.9h-0.9zM381.3 164.3h0.9v0.9h-0.9zM381.2 168.7h0.9v0.9h-0.9zM385.7 165.8h0.9v0.9h-0.9zM382.5 172.4h0.9v0.9h-0.9zM381.4 169.9h0.9v0.9h-0.9zM386.5 169.4h0.9v0.9h-0.9zM382.0 170.5h0.9v0.9h-0.9zM386.1 165.9h0.9v0.9h-0.9zM381.9 168.1h0.9v0.9h-0.9zM382.8 172.8h0.9v0.9h-0.9zM379.7 165.2h0.9v0.9h-0.9zM379.8 163.5h0.9v0.9h-0.9zM382.9 171.1h0.9v0.9h-0.9zM389.9 165.4h0.9v0.9h-0.9zM385.4 171.9h0.9v0.9h-0.9zM378.9 169.2h0.9v0.9h-0.9zM391.7 165.4h0.9v0.9h-0.9zM385.2 170.5h0.9v0.9h-0.9zM382.1 167.7h0.9v0.9h-0.9zM389.1 162.2h0.9v0.9h-0.9zM384.5 168.1h0.9v0.9h-0.9zM387.9 168.2h0.9v0.9h-0.9zM383.5 169.8h0.9v0.9h-0.9zM380.3 168.1h0.9v0.9h-0.9zM380.6 165.0h0.9v0.9h-0.9zM385.5 169.4h0.9v0.9h-0.9zM385.0 167.0h0.9v0.9h-0.9zM388.3 166.5h0.9v0.9h-0.9zM388.8 169.4h0.9v0.9h-0.9zM378.0 171.2h0.9v0.9h-0.9zM388.9 164.8h0.9v0.9h-0.9zM382.5 164.5h0.9v0.9h-0.9zM381.7 165.2h0.9v0.9h-0.9zM387.3 164.0h0.9v0.9h-0.9zM380.0 163.3h0.9v0.9h-0.9zM389.3 169.8h0.9v0.9h-0.9zM381.9 165.1h0.9v0.9h-0.9zM386.9 170.4h0.9v0.9h-0.9zM384.8 167.3h0.9v0.9h-0.9zM384.9 162.6h0.9v0.9h-0.9zM385.2 172.0h0.9v0.9h-0.9zM381.4 172.6h0.9v0.9h-0.9zM385.9 167.2h0.9v0.9h-0.9zM388.2 167.8h0.9v0.9h-0.9zM389.9 167.8h0.9v0.9h-0.9zM379.4 167.6h0.9v0.9h-0.9zM385.9 172.9h0.9v0.9h-0.9zM384.6 172.5h0.9v0.9h-0.9zM380.6 167.5h0.9v0.9h-0.9zM383.1 167.7h0.9v0.9h-0.9zM377.2 168.6h0.9v0.9h-0.9zM387.2 169.0h0.9v0.9h-0.9zM388.8 168.2h0.9v0.9h-0.9zM380.9 162.3h0.9v0.9h-0.9zM376.6 166.2h0.9v0.9h-0.9zM394.8 171.5h0.9v0.9h-0.9zM399.3 168.8h0.9v0.9h-0.9zM393.0 166.4h0.9v0.9h-0.9zM390.0 165.6h0.9v0.9h-0.9zM383.3 166.8h0.9v0.9h-0.9zM377.6 158.8h0.9v0.9h-0.9zM407.4 167.7h0.9v0.9h-0.9zM381.4 157.6h0.9v0.9h-0.9zM375.7 160.0h0.9v0.9h-0.9zM376.9 166.1h0.9v0.9h-0.9zM387.2 163.0h0.9v0.9h-0.9zM389.1 169.0h0.9v0.9h-0.9zM397.0 163.1h0.9v0.9h-0.9zM388.8 159.0h0.9v0.9h-0.9zM384.6 170.9h0.9v0.9h-0.9zM391.9 171.3h0.9v0.9h-0.9zM385.6 166.1h0.9v0.9h-0.9zM370.9 164.9h0.9v0.9h-0.9zM386.8 169.7h0.9v0.9h-0.9zM373.6 165.6h0.9v0.9h-0.9zM373.7 169.8h0.9v0.9h-0.9zM389.5 170.5h0.9v0.9h-0.9zM384.0 170.5h0.9v0.9h-0.9zM385.8 171.0h0.9v0.9h-0.9zM374.5 171.5h0.9v0.9h-0.9zM390.1 162.6h0.9v0.9h-0.9zM370.1 161.4h0.9v0.9h-0.9zM377.9 169.5h0.9v0.9h-0.9zM382.3 166.3h0.9v0.9h-0.9zM394.9 161.0h0.9v0.9h-0.9zM389.0 171.6h0.9v0.9h-0.9zM389.9 160.0h0.9v0.9h-0.9zM384.3 167.2h0.9v0.9h-0.9zM387.4 166.4h0.9v0.9h-0.9zM383.4 165.3h0.9v0.9h-0.9zM392.4 167.1h0.9v0.9h-0.9zM378.6 170.2h0.9v0.9h-0.9zM394.2 167.0h0.9v0.9h-0.9zM393.4 165.2h0.9v0.9h-0.9zM393.4 170.4h0.9v0.9h-0.9zM392.8 169.1h0.9v0.9h-0.9z" fill="#000" fill-opacity="0.42"/>
<path d="M387.8 167.3h0.9v0.9h-0.9zM384.8 172.7h0.9v0.9h-0.9zM380.4 163.3h0.9v0.9h-0.9zM378.4 172.9h0.9v0.9h-0.9zM385.8 165.8h0.9v0.9h-0.9zM382.1 165.0h0.9v0.9h-0.9zM390.6 167.5h0.9v0.9h-0.9zM385.9 167.7h0.9v0.9h-0.9zM380.0 165.4h0.9v0.9h-0.9zM378.3 167.7h0.9v0.9h-0.9zM384.2 170.4h0.9v0.9h-0.9zM377.5 170.0h0.9v0.9h-0.9zM377.4 166.7h0.9v0.9h-0.9zM375.1 167.8h0.9v0.9h-0.9zM389.4 172.5h0.9v0.9h-0.9zM384.9 171.7h0.9v0.9h-0.9zM387.3 166.8h0.9v0.9h-0.9zM384.7 164.0h0.9v0.9h-0.9zM382.0 164.4h0.9v0.9h-0.9zM388.4 168.7h0.9v0.9h-0.9zM384.4 169.2h0.9v0.9h-0.9zM382.9 166.2h0.9v0.9h-0.9zM386.8 166.4h0.9v0.9h-0.9zM384.8 169.9h0.9v0.9h-0.9zM381.0 168.0h0.9v0.9h-0.9zM375.9 168.2h0.9v0.9h-0.9zM390.0 172.5h0.9v0.9h-0.9zM388.1 167.6h0.9v0.9h-0.9zM384.5 170.8h0.9v0.9h-0.9zM387.9 171.4h0.9v0.9h-0.9zM383.1 171.9h0.9v0.9h-0.9zM382.3 171.5h0.9v0.9h-0.9zM389.7 171.4h0.9v0.9h-0.9zM378.7 170.7h0.9v0.9h-0.9zM388.7 169.6h0.9v0.9h-0.9zM379.8 169.4h0.9v0.9h-0.9zM385.5 166.3h0.9v0.9h-0.9zM387.0 166.4h0.9v0.9h-0.9zM380.0 166.9h0.9v0.9h-0.9zM387.3 165.9h0.9v0.9h-0.9zM386.9 168.2h0.9v0.9h-0.9zM383.3 168.6h0.9v0.9h-0.9zM382.4 171.2h0.9v0.9h-0.9zM382.0 165.5h0.9v0.9h-0.9zM388.1 167.0h0.9v0.9h-0.9zM381.5 172.2h0.9v0.9h-0.9zM388.3 167.2h0.9v0.9h-0.9zM386.0 170.3h0.9v0.9h-0.9zM385.0 172.4h0.9v0.9h-0.9zM390.8 167.5h0.9v0.9h-0.9zM392.6 163.2h0.9v0.9h-0.9zM381.7 168.7h0.9v0.9h-0.9zM380.0 169.0h0.9v0.9h-0.9zM378.7 167.6h0.9v0.9h-0.9zM381.4 166.0h0.9v0.9h-0.9zM385.0 170.7h0.9v0.9h-0.9zM380.0 165.9h0.9v0.9h-0.9zM387.2 168.7h0.9v0.9h-0.9zM380.9 163.6h0.9v0.9h-0.9zM378.0 171.1h0.9v0.9h-0.9zM384.7 166.9h0.9v0.9h-0.9zM385.5 168.1h0.9v0.9h-0.9zM377.9 166.1h0.9v0.9h-0.9zM383.8 170.2h0.9v0.9h-0.9zM384.8 161.2h0.9v0.9h-0.9zM383.2 168.8h0.9v0.9h-0.9zM387.9 165.8h0.9v0.9h-0.9zM385.1 164.0h0.9v0.9h-0.9zM385.2 169.3h0.9v0.9h-0.9zM386.4 167.1h0.9v0.9h-0.9zM383.9 168.3h0.9v0.9h-0.9zM383.3 171.1h0.9v0.9h-0.9zM380.3 170.2h0.9v0.9h-0.9zM389.1 169.8h0.9v0.9h-0.9zM380.0 160.9h0.9v0.9h-0.9zM387.5 165.6h0.9v0.9h-0.9zM383.5 172.0h0.9v0.9h-0.9zM379.3 168.2h0.9v0.9h-0.9zM388.9 165.5h0.9v0.9h-0.9zM388.1 170.4h0.9v0.9h-0.9zM377.6 170.1h0.9v0.9h-0.9zM383.6 169.6h0.9v0.9h-0.9zM381.4 166.0h0.9v0.9h-0.9zM381.8 171.7h0.9v0.9h-0.9zM386.2 169.4h0.9v0.9h-0.9zM380.0 167.3h0.9v0.9h-0.9zM380.1 171.8h0.9v0.9h-0.9zM380.9 166.6h0.9v0.9h-0.9zM380.4 168.0h0.9v0.9h-0.9zM382.8 165.8h0.9v0.9h-0.9zM380.4 166.9h0.9v0.9h-0.9zM389.6 163.6h0.9v0.9h-0.9zM384.3 172.2h0.9v0.9h-0.9zM381.9 172.1h0.9v0.9h-0.9zM380.4 164.0h0.9v0.9h-0.9zM384.8 165.3h0.9v0.9h-0.9zM380.7 169.1h0.9v0.9h-0.9zM378.6 169.3h0.9v0.9h-0.9zM379.2 168.4h0.9v0.9h-0.9zM376.1 170.0h0.9v0.9h-0.9zM382.0 170.8h0.9v0.9h-0.9zM381.3 168.4h0.9v0.9h-0.9zM380.4 163.8h0.9v0.9h-0.9zM382.9 167.1h0.9v0.9h-0.9zM387.0 164.2h0.9v0.9h-0.9zM377.7 168.2h0.9v0.9h-0.9zM374.5 168.9h0.9v0.9h-0.9zM382.8 171.2h0.9v0.9h-0.9zM383.3 167.5h0.9v0.9h-0.9zM382.0 169.3h0.9v0.9h-0.9zM379.2 164.5h0.9v0.9h-0.9zM391.1 168.4h0.9v0.9h-0.9zM380.2 166.6h0.9v0.9h-0.9zM380.7 166.3h0.9v0.9h-0.9zM387.4 169.2h0.9v0.9h-0.9zM385.5 169.5h0.9v0.9h-0.9zM378.0 168.9h0.9v0.9h-0.9zM389.9 167.6h0.9v0.9h-0.9zM383.1 164.2h0.9v0.9h-0.9zM376.0 168.8h0.9v0.9h-0.9zM381.1 167.8h0.9v0.9h-0.9zM379.6 169.3h0.9v0.9h-0.9zM388.8 170.3h0.9v0.9h-0.9zM388.3 163.9h0.9v0.9h-0.9zM383.4 169.4h0.9v0.9h-0.9zM387.4 162.7h0.9v0.9h-0.9zM386.3 169.2h0.9v0.9h-0.9zM386.1 167.9h0.9v0.9h-0.9zM389.5 171.4h0.9v0.9h-0.9zM386.6 159.8h0.9v0.9h-0.9zM390.9 167.7h0.9v0.9h-0.9zM384.2 171.1h0.9v0.9h-0.9zM385.7 158.8h0.9v0.9h-0.9zM387.8 162.1h0.9v0.9h-0.9zM385.6 163.9h0.9v0.9h-0.9zM386.2 165.7h0.9v0.9h-0.9zM386.9 165.3h0.9v0.9h-0.9zM388.2 161.0h0.9v0.9h-0.9zM382.6 169.1h0.9v0.9h-0.9zM385.7 171.9h0.9v0.9h-0.9zM381.6 169.4h0.9v0.9h-0.9zM389.2 166.6h0.9v0.9h-0.9zM380.0 168.9h0.9v0.9h-0.9zM386.9 164.1h0.9v0.9h-0.9zM389.5 165.9h0.9v0.9h-0.9zM379.6 165.9h0.9v0.9h-0.9zM377.7 167.5h0.9v0.9h-0.9zM383.1 165.8h0.9v0.9h-0.9zM386.0 169.5h0.9v0.9h-0.9zM384.4 167.6h0.9v0.9h-0.9zM385.0 170.8h0.9v0.9h-0.9zM381.8 171.5h0.9v0.9h-0.9zM384.8 167.0h0.9v0.9h-0.9zM384.9 169.4h0.9v0.9h-0.9zM384.8 170.1h0.9v0.9h-0.9zM381.6 169.4h0.9v0.9h-0.9zM382.9 170.4h0.9v0.9h-0.9zM388.3 167.4h0.9v0.9h-0.9zM385.4 169.8h0.9v0.9h-0.9zM389.6 169.1h0.9v0.9h-0.9zM384.8 164.3h0.9v0.9h-0.9zM382.6 161.0h0.9v0.9h-0.9zM388.2 169.4h0.9v0.9h-0.9zM388.8 162.3h0.9v0.9h-0.9zM379.8 172.4h0.9v0.9h-0.9zM382.9 172.5h0.9v0.9h-0.9zM382.8 168.0h0.9v0.9h-0.9zM385.5 171.3h0.9v0.9h-0.9zM381.0 165.5h0.9v0.9h-0.9zM383.2 168.0h0.9v0.9h-0.9zM382.1 165.3h0.9v0.9h-0.9zM385.8 168.3h0.9v0.9h-0.9zM389.8 164.8h0.9v0.9h-0.9zM378.3 171.6h0.9v0.9h-0.9zM382.1 163.5h0.9v0.9h-0.9zM383.2 165.7h0.9v0.9h-0.9zM383.3 172.3h0.9v0.9h-0.9zM382.8 161.5h0.9v0.9h-0.9zM383.0 167.4h0.9v0.9h-0.9zM388.7 165.6h0.9v0.9h-0.9zM385.1 170.3h0.9v0.9h-0.9zM386.0 171.5h0.9v0.9h-0.9zM384.6 172.1h0.9v0.9h-0.9zM377.4 172.2h0.9v0.9h-0.9zM381.7 171.0h0.9v0.9h-0.9zM385.8 168.1h0.9v0.9h-0.9zM384.5 166.8h0.9v0.9h-0.9zM381.4 170.7h0.9v0.9h-0.9zM383.5 167.4h0.9v0.9h-0.9zM387.7 163.8h0.9v0.9h-0.9zM386.0 172.1h0.9v0.9h-0.9zM384.2 164.4h0.9v0.9h-0.9zM386.7 168.3h0.9v0.9h-0.9zM381.4 164.1h0.9v0.9h-0.9zM387.6 163.5h0.9v0.9h-0.9zM385.0 167.0h0.9v0.9h-0.9zM379.3 170.2h0.9v0.9h-0.9zM390.4 169.5h0.9v0.9h-0.9zM385.5 170.8h0.9v0.9h-0.9zM383.6 168.7h0.9v0.9h-0.9zM387.2 171.5h0.9v0.9h-0.9zM377.7 166.9h0.9v0.9h-0.9zM388.7 169.0h0.9v0.9h-0.9zM384.1 166.0h0.9v0.9h-0.9zM377.0 158.1h0.9v0.9h-0.9zM380.7 164.6h0.9v0.9h-0.9zM383.8 160.6h0.9v0.9h-0.9zM386.0 160.5h0.9v0.9h-0.9zM372.2 168.1h0.9v0.9h-0.9zM380.9 167.5h0.9v0.9h-0.9zM384.1 166.5h0.9v0.9h-0.9zM389.3 170.7h0.9v0.9h-0.9zM387.5 171.2h0.9v0.9h-0.9zM389.5 173.0h0.9v0.9h-0.9zM376.8 169.7h0.9v0.9h-0.9zM373.5 171.5h0.9v0.9h-0.9zM384.9 167.2h0.9v0.9h-0.9zM384.3 166.3h0.9v0.9h-0.9zM381.3 160.6h0.9v0.9h-0.9zM382.3 171.1h0.9v0.9h-0.9zM391.1 168.6h0.9v0.9h-0.9zM387.9 172.3h0.9v0.9h-0.9zM388.3 171.3h0.9v0.9h-0.9zM378.4 167.8h0.9v0.9h-0.9zM380.2 172.3h0.9v0.9h-0.9zM403.0 167.0h0.9v0.9h-0.9zM401.2 164.8h0.9v0.9h-0.9zM377.2 162.4h0.9v0.9h-0.9zM370.9 164.0h0.9v0.9h-0.9zM388.1 163.0h0.9v0.9h-0.9zM384.6 170.4h0.9v0.9h-0.9zM387.7 167.4h0.9v0.9h-0.9zM383.0 163.2h0.9v0.9h-0.9zM385.4 170.0h0.9v0.9h-0.9zM378.0 165.6h0.9v0.9h-0.9zM379.4 171.4h0.9v0.9h-0.9zM388.2 166.1h0.9v0.9h-0.9zM395.2 168.1h0.9v0.9h-0.9zM387.6 167.4h0.9v0.9h-0.9zM381.6 157.4h0.9v0.9h-0.9zM371.4 171.5h0.9v0.9h-0.9zM386.3 169.3h0.9v0.9h-0.9zM379.8 165.6h0.9v0.9h-0.9zM384.5 163.7h0.9v0.9h-0.9zM371.8 163.4h0.9v0.9h-0.9zM384.2 157.4h0.9v0.9h-0.9zM409.8 161.5h0.9v0.9h-0.9zM374.3 161.3h0.9v0.9h-0.9zM380.3 162.1h0.9v0.9h-0.9zM382.1 172.4h0.9v0.9h-0.9zM381.2 165.7h0.9v0.9h-0.9zM399.3 172.9h0.9v0.9h-0.9zM387.6 168.5h0.9v0.9h-0.9zM389.9 163.7h0.9v0.9h-0.9zM389.8 165.3h0.9v0.9h-0.9zM398.9 164.4h0.9v0.9h-0.9zM393.8 171.2h0.9v0.9h-0.9zM388.0 166.3h0.9v0.9h-0.9zM387.4 165.5h0.9v0.9h-0.9zM393.7 170.3h0.9v0.9h-0.9zM376.6 166.3h0.9v0.9h-0.9zM388.9 166.2h0.9v0.9h-0.9zM393.5 169.8h0.9v0.9h-0.9zM388.4 169.9h0.9v0.9h-0.9zM376.8 162.7h0.9v0.9h-0.9zM385.2 161.4h0.9v0.9h-0.9zM388.5 171.8h0.9v0.9h-0.9zM393.4 165.5h0.9v0.9h-0.9zM399.4 172.6h0.9v0.9h-0.9zM404.0 168.6h0.9v0.9h-0.9zM390.0 172.2h0.9v0.9h-0.9zM391.3 168.9h0.9v0.9h-0.9z" fill="#000" fill-opacity="0.42"/>
<path d="M464.5 123.5h0.9v0.9h-0.9zM462.7 135.7h0.9v0.9h-0.9zM459.8 132.3h0.9v0.9h-0.9zM460.8 131.1h0.9v0.9h-0.9zM463.6 133.7h0.9v0.9h-0.9zM461.2 134.6h0.9v0.9h-0.9zM462.7 136.0h0.9v0.9h-0.9zM458.0 136.5h0.9v0.9h-0.9zM458.4 133.8h0.9v0.9h-0.9zM460.1 134.6h0.9v0.9h-0.9zM462.1 134.8h0.9v0.9h-0.9zM459.8 139.7h0.9v0.9h-0.9zM463.6 133.1h0.9v0.9h-0.9zM456.7 129.8h0.9v0.9h-0.9zM468.7 136.5h0.9v0.9h-0.9zM461.0 134.9h0.9v0.9h-0.9zM455.9 133.3h0.9v0.9h-0.9z" fill="#000" fill-opacity="0.4"/>
<path d="M458.9 140.2h0.9v0.9h-0.9zM464.8 135.8h0.9v0.9h-0.9zM461.9 139.6h0.9v0.9h-0.9zM458.0 130.0h0.9v0.9h-0.9zM463.6 136.3h0.9v0.9h-0.9zM465.3 132.7h0.9v0.9h-0.9zM466.9 138.4h0.9v0.9h-0.9zM462.4 131.6h0.9v0.9h-0.9zM462.3 139.5h0.9v0.9h-0.9zM464.3 133.1h0.9v0.9h-0.9zM464.4 138.8h0.9v0.9h-0.9zM462.1 131.4h0.9v0.9h-0.9zM460.7 133.0h0.9v0.9h-0.9zM464.2 136.0h0.9v0.9h-0.9zM461.2 139.5h0.9v0.9h-0.9zM462.9 135.1h0.9v0.9h-0.9zM461.4 137.8h0.9v0.9h-0.9z" fill="#000" fill-opacity="0.4"/>
<path d="M464.0 139.3h0.9v0.9h-0.9zM461.7 136.7h0.9v0.9h-0.9zM460.0 142.1h0.9v0.9h-0.9zM467.6 137.9h0.9v0.9h-0.9zM461.2 132.9h0.9v0.9h-0.9zM460.5 138.9h0.9v0.9h-0.9zM458.8 130.2h0.9v0.9h-0.9zM463.2 136.2h0.9v0.9h-0.9zM468.4 133.9h0.9v0.9h-0.9zM460.2 137.2h0.9v0.9h-0.9zM463.7 134.1h0.9v0.9h-0.9zM456.2 133.3h0.9v0.9h-0.9zM461.0 136.0h0.9v0.9h-0.9zM459.7 129.2h0.9v0.9h-0.9zM458.8 137.6h0.9v0.9h-0.9zM467.5 132.6h0.9v0.9h-0.9z" fill="#000" fill-opacity="0.4"/>
<path d="M460.7 134.0h0.9v0.9h-0.9zM459.8 144.4h0.9v0.9h-0.9zM465.7 132.1h0.9v0.9h-0.9zM454.7 134.1h0.9v0.9h-0.9zM463.8 136.1h0.9v0.9h-0.9zM462.2 136.2h0.9v0.9h-0.9zM460.9 140.6h0.9v0.9h-0.9zM463.2 136.1h0.9v0.9h-0.9zM468.5 129.1h0.9v0.9h-0.9zM461.9 136.0h0.9v0.9h-0.9zM457.8 129.8h0.9v0.9h-0.9zM455.2 139.0h0.9v0.9h-0.9zM460.3 132.1h0.9v0.9h-0.9zM458.1 131.4h0.9v0.9h-0.9zM454.6 135.3h0.9v0.9h-0.9zM460.7 130.0h0.9v0.9h-0.9zM466.0 138.4h0.9v0.9h-0.9zM468.4 132.0h0.9v0.9h-0.9zM450.3 147.2h0.9v0.9h-0.9zM467.1 132.8h0.9v0.9h-0.9zM468.8 141.9h0.9v0.9h-0.9zM459.9 135.3h0.9v0.9h-0.9zM461.8 135.6h0.9v0.9h-0.9zM463.6 139.6h0.9v0.9h-0.9zM458.4 139.5h0.9v0.9h-0.9zM472.1 144.3h0.9v0.9h-0.9zM466.2 127.2h0.9v0.9h-0.9zM469.3 130.2h0.9v0.9h-0.9zM462.2 132.0h0.9v0.9h-0.9zM455.5 141.1h0.9v0.9h-0.9zM458.4 136.6h0.9v0.9h-0.9zM460.2 130.9h0.9v0.9h-0.9zM469.3 145.8h0.9v0.9h-0.9zM466.3 139.6h0.9v0.9h-0.9zM458.6 144.1h0.9v0.9h-0.9zM455.2 137.2h0.9v0.9h-0.9zM454.1 135.7h0.9v0.9h-0.9zM463.2 139.8h0.9v0.9h-0.9zM452.3 145.4h0.9v0.9h-0.9zM467.7 134.1h0.9v0.9h-0.9zM464.7 144.4h0.9v0.9h-0.9zM462.1 140.5h0.9v0.9h-0.9zM466.8 138.8h0.9v0.9h-0.9zM467.8 137.8h0.9v0.9h-0.9zM461.8 141.1h0.9v0.9h-0.9zM459.1 142.1h0.9v0.9h-0.9zM456.6 133.0h0.9v0.9h-0.9zM469.3 146.8h0.9v0.9h-0.9zM459.5 137.8h0.9v0.9h-0.9zM461.3 135.0h0.9v0.9h-0.9z" fill="#000" fill-opacity="0.3"/>
<path d="M461.2 135.2h0.9v0.9h-0.9zM459.2 143.3h0.9v0.9h-0.9zM462.1 139.4h0.9v0.9h-0.9zM465.8 141.8h0.9v0.9h-0.9zM456.1 143.0h0.9v0.9h-0.9zM467.9 149.1h0.9v0.9h-0.9zM462.6 141.3h0.9v0.9h-0.9zM454.8 145.3h0.9v0.9h-0.9zM454.4 137.0h0.9v0.9h-0.9zM459.5 130.4h0.9v0.9h-0.9zM460.9 132.2h0.9v0.9h-0.9zM466.0 138.3h0.9v0.9h-0.9zM460.5 139.2h0.9v0.9h-0.9zM461.3 138.6h0.9v0.9h-0.9zM456.4 125.9h0.9v0.9h-0.9zM458.8 130.8h0.9v0.9h-0.9zM464.4 129.6h0.9v0.9h-0.9zM467.2 133.7h0.9v0.9h-0.9zM463.4 145.6h0.9v0.9h-0.9zM449.8 129.6h0.9v0.9h-0.9zM469.4 132.7h0.9v0.9h-0.9zM459.6 139.4h0.9v0.9h-0.9zM462.4 141.5h0.9v0.9h-0.9zM469.8 132.9h0.9v0.9h-0.9zM477.3 137.0h0.9v0.9h-0.9zM470.6 139.9h0.9v0.9h-0.9zM465.9 143.1h0.9v0.9h-0.9zM464.9 141.5h0.9v0.9h-0.9zM465.1 136.4h0.9v0.9h-0.9zM450.9 137.4h0.9v0.9h-0.9zM457.1 142.9h0.9v0.9h-0.9zM464.9 132.1h0.9v0.9h-0.9zM452.5 135.0h0.9v0.9h-0.9zM450.8 130.8h0.9v0.9h-0.9zM476.8 132.4h0.9v0.9h-0.9zM455.8 135.2h0.9v0.9h-0.9zM467.3 140.2h0.9v0.9h-0.9zM451.5 144.1h0.9v0.9h-0.9zM462.2 136.6h0.9v0.9h-0.9zM460.5 135.2h0.9v0.9h-0.9zM459.9 137.5h0.9v0.9h-0.9zM462.9 136.7h0.9v0.9h-0.9zM466.8 146.4h0.9v0.9h-0.9zM460.8 137.1h0.9v0.9h-0.9zM461.4 141.8h0.9v0.9h-0.9zM462.7 139.2h0.9v0.9h-0.9zM456.6 138.7h0.9v0.9h-0.9zM467.6 131.4h0.9v0.9h-0.9zM455.1 132.8h0.9v0.9h-0.9zM471.4 131.8h0.9v0.9h-0.9z" fill="#000" fill-opacity="0.3"/>
<path d="M463.2 165.3h0.9v0.9h-0.9zM460.0 163.3h0.9v0.9h-0.9zM462.3 170.9h0.9v0.9h-0.9zM459.8 164.6h0.9v0.9h-0.9zM460.7 164.8h0.9v0.9h-0.9zM464.0 169.4h0.9v0.9h-0.9zM456.4 170.3h0.9v0.9h-0.9zM465.3 171.6h0.9v0.9h-0.9zM457.0 166.5h0.9v0.9h-0.9zM457.4 170.4h0.9v0.9h-0.9zM459.5 168.0h0.9v0.9h-0.9zM456.0 166.8h0.9v0.9h-0.9zM458.5 172.9h0.9v0.9h-0.9zM450.8 168.9h0.9v0.9h-0.9zM461.7 171.8h0.9v0.9h-0.9zM461.5 166.0h0.9v0.9h-0.9zM457.5 168.4h0.9v0.9h-0.9zM462.2 166.3h0.9v0.9h-0.9zM466.2 167.6h0.9v0.9h-0.9zM459.4 169.3h0.9v0.9h-0.9zM461.0 169.4h0.9v0.9h-0.9zM462.6 167.9h0.9v0.9h-0.9zM459.8 168.1h0.9v0.9h-0.9zM461.9 172.7h0.9v0.9h-0.9zM457.3 162.2h0.9v0.9h-0.9zM463.2 169.1h0.9v0.9h-0.9zM462.3 165.9h0.9v0.9h-0.9zM459.2 170.8h0.9v0.9h-0.9zM464.6 169.2h0.9v0.9h-0.9zM460.8 171.0h0.9v0.9h-0.9zM453.9 170.2h0.9v0.9h-0.9zM458.3 169.9h0.9v0.9h-0.9zM470.2 172.0h0.9v0.9h-0.9zM460.7 169.4h0.9v0.9h-0.9zM460.9 162.4h0.9v0.9h-0.9zM457.5 169.0h0.9v0.9h-0.9zM459.3 172.5h0.9v0.9h-0.9zM458.3 168.6h0.9v0.9h-0.9zM461.7 166.5h0.9v0.9h-0.9zM458.7 163.2h0.9v0.9h-0.9zM462.9 163.8h0.9v0.9h-0.9zM459.6 160.0h0.9v0.9h-0.9zM461.3 159.5h0.9v0.9h-0.9zM455.8 164.8h0.9v0.9h-0.9zM453.1 166.2h0.9v0.9h-0.9zM463.4 164.7h0.9v0.9h-0.9zM460.2 170.1h0.9v0.9h-0.9zM459.5 169.5h0.9v0.9h-0.9zM464.0 163.6h0.9v0.9h-0.9zM460.9 170.4h0.9v0.9h-0.9zM463.2 165.7h0.9v0.9h-0.9zM456.3 162.1h0.9v0.9h-0.9zM452.0 165.2h0.9v0.9h-0.9zM461.1 165.1h0.9v0.9h-0.9zM464.0 171.8h0.9v0.9h-0.9zM462.6 166.2h0.9v0.9h-0.9zM459.0 163.4h0.9v0.9h-0.9zM451.9 167.0h0.9v0.9h-0.9zM459.0 166.9h0.9v0.9h-0.9zM462.4 165.9h0.9v0.9h-0.9zM459.2 170.2h0.9v0.9h-0.9zM457.5 170.9h0.9v0.9h-0.9zM464.0 166.3h0.9v0.9h-0.9zM457.8 166.0h0.9v0.9h-0.9zM458.0 165.2h0.9v0.9h-0.9zM459.4 167.2h0.9v0.9h-0.9zM452.8 172.9h0.9v0.9h-0.9zM463.7 169.0h0.9v0.9h-0.9zM465.9 163.6h0.9v0.9h-0.9zM454.8 169.8h0.9v0.9h-0.9zM460.4 167.4h0.9v0.9h-0.9zM459.8 168.5h0.9v0.9h-0.9zM462.7 169.6h0.9v0.9h-0.9zM458.6 170.9h0.9v0.9h-0.9zM454.5 163.7h0.9v0.9h-0.9zM456.5 167.2h0.9v0.9h-0.9zM460.2 167.0h0.9v0.9h-0.9zM460.4 169.5h0.9v0.9h-0.9zM464.2 169.9h0.9v0.9h-0.9zM461.4 168.6h0.9v0.9h-0.9zM459.4 162.9h0.9v0.9h-0.9zM461.1 160.9h0.9v0.9h-0.9zM459.0 172.7h0.9v0.9h-0.9zM459.8 165.8h0.9v0.9h-0.9zM462.7 171.9h0.9v0.9h-0.9zM457.2 171.6h0.9v0.9h-0.9zM461.4 168.5h0.9v0.9h-0.9zM454.0 168.2h0.9v0.9h-0.9zM462.6 170.0h0.9v0.9h-0.9zM459.4 170.2h0.9v0.9h-0.9zM458.7 166.6h0.9v0.9h-0.9zM459.6 168.2h0.9v0.9h-0.9zM463.4 164.8h0.9v0.9h-0.9zM455.0 170.0h0.9v0.9h-0.9zM457.2 163.9h0.9v0.9h-0.9zM461.7 170.7h0.9v0.9h-0.9zM454.6 168.0h0.9v0.9h-0.9zM460.2 172.5h0.9v0.9h-0.9zM461.8 169.5h0.9v0.9h-0.9zM463.8 169.9h0.9v0.9h-0.9zM463.3 164.4h0.9v0.9h-0.9zM452.0 165.7h0.9v0.9h-0.9zM460.7 161.8h0.9v0.9h-0.9zM455.7 168.3h0.9v0.9h-0.9zM458.0 166.7h0.9v0.9h-0.9zM458.4 164.0h0.9v0.9h-0.9zM458.3 170.4h0.9v0.9h-0.9zM461.9 161.8h0.9v0.9h-0.9zM455.9 168.4h0.9v0.9h-0.9zM459.3 171.8h0.9v0.9h-0.9zM459.3 164.0h0.9v0.9h-0.9zM458.4 167.1h0.9v0.9h-0.9zM460.2 169.9h0.9v0.9h-0.9zM466.0 172.4h0.9v0.9h-0.9zM462.3 166.9h0.9v0.9h-0.9zM458.3 169.4h0.9v0.9h-0.9zM459.1 163.5h0.9v0.9h-0.9zM456.2 162.9h0.9v0.9h-0.9zM456.9 172.8h0.9v0.9h-0.9zM463.5 161.6h0.9v0.9h-0.9zM463.4 171.9h0.9v0.9h-0.9zM459.3 172.1h0.9v0.9h-0.9zM454.9 163.0h0.9v0.9h-0.9zM457.7 171.8h0.9v0.9h-0.9zM457.8 159.6h0.9v0.9h-0.9zM456.7 172.2h0.9v0.9h-0.9zM465.7 169.0h0.9v0.9h-0.9zM453.5 165.7h0.9v0.9h-0.9zM455.9 170.8h0.9v0.9h-0.9zM458.4 171.5h0.9v0.9h-0.9zM462.2 164.7h0.9v0.9h-0.9zM459.8 170.7h0.9v0.9h-0.9zM451.9 168.7h0.9v0.9h-0.9zM461.2 165.3h0.9v0.9h-0.9zM457.8 172.5h0.9v0.9h-0.9zM461.3 167.5h0.9v0.9h-0.9zM468.4 169.5h0.9v0.9h-0.9zM460.2 165.3h0.9v0.9h-0.9zM455.8 172.6h0.9v0.9h-0.9zM458.2 166.8h0.9v0.9h-0.9zM460.3 168.8h0.9v0.9h-0.9zM460.8 162.3h0.9v0.9h-0.9zM458.4 168.8h0.9v0.9h-0.9zM460.3 171.6h0.9v0.9h-0.9zM456.9 167.4h0.9v0.9h-0.9zM458.2 172.0h0.9v0.9h-0.9zM457.3 170.8h0.9v0.9h-0.9zM460.9 166.9h0.9v0.9h-0.9zM457.4 166.0h0.9v0.9h-0.9zM460.0 157.2h0.9v0.9h-0.9zM453.0 166.1h0.9v0.9h-0.9zM456.3 170.4h0.9v0.9h-0.9zM461.2 171.0h0.9v0.9h-0.9zM467.7 167.5h0.9v0.9h-0.9zM461.6 163.9h0.9v0.9h-0.9zM460.3 168.8h0.9v0.9h-0.9zM460.3 172.7h0.9v0.9h-0.9zM461.4 166.9h0.9v0.9h-0.9zM463.3 169.6h0.9v0.9h-0.9zM457.8 172.3h0.9v0.9h-0.9zM460.9 166.5h0.9v0.9h-0.9zM456.7 163.4h0.9v0.9h-0.9zM459.2 172.4h0.9v0.9h-0.9zM462.0 167.8h0.9v0.9h-0.9zM459.2 162.0h0.9v0.9h-0.9zM465.2 171.7h0.9v0.9h-0.9zM458.2 172.3h0.9v0.9h-0.9zM457.0 166.1h0.9v0.9h-0.9zM455.5 169.5h0.9v0.9h-0.9zM454.9 165.7h0.9v0.9h-0.9zM457.6 171.8h0.9v0.9h-0.9zM452.1 170.4h0.9v0.9h-0.9zM469.8 170.1h0.9v0.9h-0.9zM460.2 168.9h0.9v0.9h-0.9zM455.5 164.7h0.9v0.9h-0.9zM460.5 170.6h0.9v0.9h-0.9zM466.0 164.1h0.9v0.9h-0.9zM457.9 167.7h0.9v0.9h-0.9zM460.6 162.1h0.9v0.9h-0.9zM455.8 163.5h0.9v0.9h-0.9zM456.0 168.7h0.9v0.9h-0.9zM467.8 171.6h0.9v0.9h-0.9zM458.7 168.3h0.9v0.9h-0.9zM455.7 166.1h0.9v0.9h-0.9zM461.7 169.7h0.9v0.9h-0.9zM467.8 167.1h0.9v0.9h-0.9zM460.5 172.3h0.9v0.9h-0.9zM460.5 164.0h0.9v0.9h-0.9zM452.9 167.6h0.9v0.9h-0.9zM460.8 165.5h0.9v0.9h-0.9zM459.6 165.2h0.9v0.9h-0.9zM461.0 163.8h0.9v0.9h-0.9zM460.8 171.6h0.9v0.9h-0.9zM454.9 166.4h0.9v0.9h-0.9zM461.6 165.5h0.9v0.9h-0.9zM462.1 161.9h0.9v0.9h-0.9zM462.0 165.4h0.9v0.9h-0.9zM462.2 166.9h0.9v0.9h-0.9zM458.2 168.8h0.9v0.9h-0.9zM457.3 173.0h0.9v0.9h-0.9zM463.2 170.7h0.9v0.9h-0.9zM454.3 171.7h0.9v0.9h-0.9zM453.0 168.5h0.9v0.9h-0.9zM464.3 169.7h0.9v0.9h-0.9zM459.0 166.8h0.9v0.9h-0.9zM454.5 168.2h0.9v0.9h-0.9zM469.9 169.9h0.9v0.9h-0.9zM459.7 166.9h0.9v0.9h-0.9zM457.9 170.8h0.9v0.9h-0.9zM459.5 165.1h0.9v0.9h-0.9zM457.3 167.8h0.9v0.9h-0.9zM465.9 170.9h0.9v0.9h-0.9zM455.7 168.2h0.9v0.9h-0.9zM457.2 167.8h0.9v0.9h-0.9zM461.5 162.3h0.9v0.9h-0.9zM457.3 169.7h0.9v0.9h-0.9zM453.8 164.4h0.9v0.9h-0.9zM463.1 168.7h0.9v0.9h-0.9zM452.5 161.2h0.9v0.9h-0.9zM460.9 168.6h0.9v0.9h-0.9zM459.0 169.3h0.9v0.9h-0.9zM456.5 168.2h0.9v0.9h-0.9zM461.4 165.2h0.9v0.9h-0.9zM460.6 169.1h0.9v0.9h-0.9zM458.1 172.3h0.9v0.9h-0.9zM461.6 166.4h0.9v0.9h-0.9zM470.1 162.0h0.9v0.9h-0.9zM463.9 171.8h0.9v0.9h-0.9zM462.7 168.1h0.9v0.9h-0.9zM455.9 167.8h0.9v0.9h-0.9zM452.7 168.7h0.9v0.9h-0.9zM453.8 162.4h0.9v0.9h-0.9zM465.5 164.6h0.9v0.9h-0.9zM467.0 163.8h0.9v0.9h-0.9zM458.8 167.3h0.9v0.9h-0.9zM466.3 162.0h0.9v0.9h-0.9zM461.6 166.8h0.9v0.9h-0.9zM461.6 155.4h0.9v0.9h-0.9zM465.7 167.5h0.9v0.9h-0.9zM461.2 159.1h0.9v0.9h-0.9zM465.7 168.6h0.9v0.9h-0.9zM454.0 156.8h0.9v0.9h-0.9zM462.5 172.8h0.9v0.9h-0.9zM453.9 163.1h0.9v0.9h-0.9zM461.0 168.5h0.9v0.9h-0.9zM461.0 172.2h0.9v0.9h-0.9zM465.7 159.6h0.9v0.9h-0.9zM466.0 170.2h0.9v0.9h-0.9zM475.2 165.4h0.9v0.9h-0.9zM460.8 166.4h0.9v0.9h-0.9zM466.5 166.8h0.9v0.9h-0.9zM468.8 168.5h0.9v0.9h-0.9zM474.8 171.2h0.9v0.9h-0.9zM480.4 164.0h0.9v0.9h-0.9zM484.6 172.0h0.9v0.9h-0.9z" fill="#000" fill-opacity="0.42"/>
<path d="M451.3 171.0h0.9v0.9h-0.9zM465.9 172.5h0.9v0.9h-0.9zM460.4 170.9h0.9v0.9h-0.9zM458.5 170.2h0.9v0.9h-0.9zM468.1 163.9h0.9v0.9h-0.9zM459.1 170.8h0.9v0.9h-0.9zM452.8 166.5h0.9v0.9h-0.9zM463.0 168.7h0.9v0.9h-0.9zM462.7 166.7h0.9v0.9h-0.9zM464.5 163.2h0.9v0.9h-0.9zM455.9 160.8h0.9v0.9h-0.9zM462.1 169.6h0.9v0.9h-0.9zM461.5 165.7h0.9v0.9h-0.9zM464.2 168.6h0.9v0.9h-0.9zM461.0 164.2h0.9v0.9h-0.9zM462.6 166.8h0.9v0.9h-0.9zM462.5 171.3h0.9v0.9h-0.9zM457.8 170.0h0.9v0.9h-0.9zM456.2 170.0h0.9v0.9h-0.9zM461.6 171.7h0.9v0.9h-0.9zM457.5 170.7h0.9v0.9h-0.9zM461.5 162.6h0.9v0.9h-0.9zM457.9 168.8h0.9v0.9h-0.9zM458.4 170.1h0.9v0.9h-0.9zM462.5 168.7h0.9v0.9h-0.9zM462.1 163.2h0.9v0.9h-0.9zM460.4 169.8h0.9v0.9h-0.9zM453.9 170.4h0.9v0.9h-0.9zM461.3 166.6h0.9v0.9h-0.9zM458.0 167.8h0.9v0.9h-0.9zM463.1 170.8h0.9v0.9h-0.9zM457.9 164.7h0.9v0.9h-0.9zM456.2 163.8h0.9v0.9h-0.9zM450.0 171.8h0.9v0.9h-0.9zM463.5 168.5h0.9v0.9h-0.9zM460.9 169.8h0.9v0.9h-0.9zM460.2 163.7h0.9v0.9h-0.9zM455.6 165.3h0.9v0.9h-0.9zM459.2 168.3h0.9v0.9h-0.9zM463.1 169.3h0.9v0.9h-0.9zM456.7 172.6h0.9v0.9h-0.9zM459.5 169.4h0.9v0.9h-0.9zM462.2 164.4h0.9v0.9h-0.9zM457.2 166.2h0.9v0.9h-0.9zM456.0 168.6h0.9v0.9h-0.9zM459.3 170.0h0.9v0.9h-0.9zM469.1 165.4h0.9v0.9h-0.9zM468.1 168.2h0.9v0.9h-0.9zM465.0 170.5h0.9v0.9h-0.9zM461.4 168.8h0.9v0.9h-0.9zM460.3 166.3h0.9v0.9h-0.9zM460.4 165.5h0.9v0.9h-0.9zM459.3 171.2h0.9v0.9h-0.9zM460.6 164.8h0.9v0.9h-0.9zM455.7 162.1h0.9v0.9h-0.9zM452.5 171.4h0.9v0.9h-0.9zM461.6 162.1h0.9v0.9h-0.9zM455.3 169.2h0.9v0.9h-0.9zM460.2 168.6h0.9v0.9h-0.9zM458.0 163.4h0.9v0.9h-0.9zM466.0 169.4h0.9v0.9h-0.9zM462.0 161.0h0.9v0.9h-0.9zM457.3 167.8h0.9v0.9h-0.9zM462.1 170.6h0.9v0.9h-0.9zM456.7 163.6h0.9v0.9h-0.9zM462.3 168.7h0.9v0.9h-0.9zM461.3 166.1h0.9v0.9h-0.9zM457.8 171.6h0.9v0.9h-0.9zM460.4 165.4h0.9v0.9h-0.9zM459.1 165.6h0.9v0.9h-0.9zM462.1 168.3h0.9v0.9h-0.9zM463.3 167.3h0.9v0.9h-0.9zM459.3 165.1h0.9v0.9h-0.9zM459.1 172.9h0.9v0.9h-0.9zM450.3 167.6h0.9v0.9h-0.9zM457.6 170.8h0.9v0.9h-0.9zM459.6 168.8h0.9v0.9h-0.9zM465.4 166.0h0.9v0.9h-0.9zM457.4 161.9h0.9v0.9h-0.9zM460.8 167.2h0.9v0.9h-0.9zM461.3 169.8h0.9v0.9h-0.9zM462.5 170.9h0.9v0.9h-0.9zM459.4 163.6h0.9v0.9h-0.9zM462.8 172.6h0.9v0.9h-0.9zM458.6 173.0h0.9v0.9h-0.9zM456.9 168.5h0.9v0.9h-0.9zM457.7 167.9h0.9v0.9h-0.9zM459.5 169.1h0.9v0.9h-0.9zM458.8 169.8h0.9v0.9h-0.9zM458.5 162.1h0.9v0.9h-0.9zM457.3 160.9h0.9v0.9h-0.9zM463.5 169.1h0.9v0.9h-0.9zM454.7 156.1h0.9v0.9h-0.9zM454.6 169.0h0.9v0.9h-0.9zM456.8 172.4h0.9v0.9h-0.9zM457.2 161.6h0.9v0.9h-0.9zM457.9 171.2h0.9v0.9h-0.9zM460.6 167.9h0.9v0.9h-0.9zM462.2 166.9h0.9v0.9h-0.9zM457.3 168.9h0.9v0.9h-0.9zM463.3 159.1h0.9v0.9h-0.9zM463.7 165.6h0.9v0.9h-0.9zM456.4 167.7h0.9v0.9h-0.9zM454.9 167.0h0.9v0.9h-0.9zM466.4 165.9h0.9v0.9h-0.9zM455.7 168.5h0.9v0.9h-0.9zM462.5 166.2h0.9v0.9h-0.9zM457.3 172.1h0.9v0.9h-0.9zM465.5 164.8h0.9v0.9h-0.9zM460.9 170.1h0.9v0.9h-0.9zM455.2 168.2h0.9v0.9h-0.9zM461.9 161.6h0.9v0.9h-0.9zM463.2 170.6h0.9v0.9h-0.9zM456.4 167.4h0.9v0.9h-0.9zM461.4 166.0h0.9v0.9h-0.9zM457.7 167.8h0.9v0.9h-0.9zM460.7 170.7h0.9v0.9h-0.9zM458.2 167.9h0.9v0.9h-0.9zM461.6 164.4h0.9v0.9h-0.9zM460.6 169.4h0.9v0.9h-0.9zM459.8 164.9h0.9v0.9h-0.9zM463.0 163.7h0.9v0.9h-0.9zM461.4 167.6h0.9v0.9h-0.9zM465.0 165.9h0.9v0.9h-0.9zM463.8 171.0h0.9v0.9h-0.9zM459.7 164.3h0.9v0.9h-0.9zM463.2 171.1h0.9v0.9h-0.9zM465.0 171.4h0.9v0.9h-0.9zM464.5 164.7h0.9v0.9h-0.9zM458.3 165.8h0.9v0.9h-0.9zM466.4 170.6h0.9v0.9h-0.9zM462.3 166.6h0.9v0.9h-0.9zM457.6 166.9h0.9v0.9h-0.9zM460.8 172.4h0.9v0.9h-0.9zM464.2 170.9h0.9v0.9h-0.9zM461.9 169.5h0.9v0.9h-0.9zM458.0 165.8h0.9v0.9h-0.9zM457.1 171.8h0.9v0.9h-0.9zM463.9 169.3h0.9v0.9h-0.9zM460.2 170.9h0.9v0.9h-0.9zM457.3 169.0h0.9v0.9h-0.9zM458.5 169.5h0.9v0.9h-0.9zM459.8 165.7h0.9v0.9h-0.9zM450.1 169.2h0.9v0.9h-0.9zM451.6 168.4h0.9v0.9h-0.9zM464.9 171.1h0.9v0.9h-0.9zM461.4 170.1h0.9v0.9h-0.9zM459.4 165.5h0.9v0.9h-0.9zM466.5 163.5h0.9v0.9h-0.9zM457.6 171.1h0.9v0.9h-0.9zM459.0 170.8h0.9v0.9h-0.9zM459.9 169.4h0.9v0.9h-0.9zM462.8 169.2h0.9v0.9h-0.9zM460.4 172.3h0.9v0.9h-0.9zM453.4 168.9h0.9v0.9h-0.9zM460.6 170.1h0.9v0.9h-0.9zM455.7 169.1h0.9v0.9h-0.9zM456.5 160.7h0.9v0.9h-0.9zM460.1 164.0h0.9v0.9h-0.9zM457.5 171.6h0.9v0.9h-0.9zM456.1 167.7h0.9v0.9h-0.9zM454.3 165.6h0.9v0.9h-0.9zM456.2 168.3h0.9v0.9h-0.9zM459.4 166.5h0.9v0.9h-0.9zM459.4 170.3h0.9v0.9h-0.9zM462.1 167.0h0.9v0.9h-0.9zM467.1 164.0h0.9v0.9h-0.9zM459.5 166.0h0.9v0.9h-0.9zM458.0 169.0h0.9v0.9h-0.9zM452.6 169.5h0.9v0.9h-0.9zM457.3 168.4h0.9v0.9h-0.9zM454.4 172.6h0.9v0.9h-0.9zM460.6 172.5h0.9v0.9h-0.9zM458.1 161.8h0.9v0.9h-0.9zM451.3 160.2h0.9v0.9h-0.9zM462.8 168.0h0.9v0.9h-0.9zM461.0 171.9h0.9v0.9h-0.9zM460.0 167.9h0.9v0.9h-0.9zM460.2 172.9h0.9v0.9h-0.9zM461.8 163.9h0.9v0.9h-0.9zM462.0 171.8h0.9v0.9h-0.9zM460.3 165.6h0.9v0.9h-0.9zM461.2 162.0h0.9v0.9h-0.9zM459.1 171.4h0.9v0.9h-0.9zM459.9 171.2h0.9v0.9h-0.9zM453.1 165.4h0.9v0.9h-0.9zM457.7 166.9h0.9v0.9h-0.9zM459.3 167.7h0.9v0.9h-0.9zM458.9 168.3h0.9v0.9h-0.9zM453.3 165.0h0.9v0.9h-0.9zM462.1 171.4h0.9v0.9h-0.9zM463.4 162.7h0.9v0.9h-0.9zM458.8 169.7h0.9v0.9h-0.9zM459.5 163.9h0.9v0.9h-0.9zM460.8 169.2h0.9v0.9h-0.9zM459.8 164.4h0.9v0.9h-0.9zM465.5 164.8h0.9v0.9h-0.9zM457.5 168.2h0.9v0.9h-0.9zM464.6 169.4h0.9v0.9h-0.9zM461.8 168.0h0.9v0.9h-0.9zM460.3 166.7h0.9v0.9h-0.9zM464.1 156.1h0.9v0.9h-0.9zM458.4 165.2h0.9v0.9h-0.9zM462.6 166.7h0.9v0.9h-0.9zM460.3 170.7h0.9v0.9h-0.9zM466.6 160.9h0.9v0.9h-0.9zM461.3 168.6h0.9v0.9h-0.9zM464.8 169.8h0.9v0.9h-0.9zM459.0 166.4h0.9v0.9h-0.9zM451.1 161.1h0.9v0.9h-0.9zM457.0 168.6h0.9v0.9h-0.9zM458.1 169.2h0.9v0.9h-0.9zM461.6 171.0h0.9v0.9h-0.9zM462.2 168.2h0.9v0.9h-0.9zM462.2 162.7h0.9v0.9h-0.9zM456.1 166.4h0.9v0.9h-0.9zM468.9 170.7h0.9v0.9h-0.9zM456.0 161.6h0.9v0.9h-0.9zM461.8 165.5h0.9v0.9h-0.9zM452.1 169.8h0.9v0.9h-0.9zM456.5 168.4h0.9v0.9h-0.9zM462.9 172.3h0.9v0.9h-0.9zM457.6 172.1h0.9v0.9h-0.9zM461.4 161.7h0.9v0.9h-0.9zM459.2 167.2h0.9v0.9h-0.9zM456.8 159.0h0.9v0.9h-0.9zM450.8 164.9h0.9v0.9h-0.9zM472.2 160.2h0.9v0.9h-0.9zM463.3 169.1h0.9v0.9h-0.9zM460.0 172.3h0.9v0.9h-0.9zM463.1 171.8h0.9v0.9h-0.9zM459.4 161.2h0.9v0.9h-0.9zM470.0 169.0h0.9v0.9h-0.9zM458.0 172.1h0.9v0.9h-0.9zM454.7 171.4h0.9v0.9h-0.9zM463.7 169.4h0.9v0.9h-0.9zM472.8 170.0h0.9v0.9h-0.9zM462.2 156.8h0.9v0.9h-0.9zM469.0 171.7h0.9v0.9h-0.9zM461.1 160.5h0.9v0.9h-0.9zM452.8 157.1h0.9v0.9h-0.9zM452.3 169.9h0.9v0.9h-0.9zM453.8 165.5h0.9v0.9h-0.9zM460.5 171.5h0.9v0.9h-0.9zM462.1 170.8h0.9v0.9h-0.9zM466.9 161.3h0.9v0.9h-0.9zM455.7 167.8h0.9v0.9h-0.9zM451.5 167.4h0.9v0.9h-0.9zM461.7 172.5h0.9v0.9h-0.9zM453.2 166.0h0.9v0.9h-0.9zM477.9 169.0h0.9v0.9h-0.9zM475.5 168.0h0.9v0.9h-0.9zM477.3 170.9h0.9v0.9h-0.9zM467.6 171.8h0.9v0.9h-0.9z" fill="#000" fill-opacity="0.42"/>
<path d="M456.9 169.3h0.9v0.9h-0.9zM456.6 170.4h0.9v0.9h-0.9zM466.4 168.3h0.9v0.9h-0.9zM461.9 160.6h0.9v0.9h-0.9zM463.8 162.9h0.9v0.9h-0.9zM454.6 164.3h0.9v0.9h-0.9zM453.7 171.7h0.9v0.9h-0.9zM461.5 167.2h0.9v0.9h-0.9zM464.4 169.2h0.9v0.9h-0.9zM460.1 170.1h0.9v0.9h-0.9zM463.3 171.3h0.9v0.9h-0.9zM457.6 169.0h0.9v0.9h-0.9zM461.0 171.7h0.9v0.9h-0.9zM461.9 169.1h0.9v0.9h-0.9zM457.6 163.4h0.9v0.9h-0.9zM462.5 167.8h0.9v0.9h-0.9zM463.0 171.6h0.9v0.9h-0.9zM457.8 161.6h0.9v0.9h-0.9zM462.5 168.7h0.9v0.9h-0.9zM461.7 167.3h0.9v0.9h-0.9zM465.2 169.5h0.9v0.9h-0.9zM460.1 163.2h0.9v0.9h-0.9zM454.3 166.9h0.9v0.9h-0.9zM465.8 171.4h0.9v0.9h-0.9zM466.8 170.6h0.9v0.9h-0.9zM458.5 170.9h0.9v0.9h-0.9zM458.6 170.9h0.9v0.9h-0.9zM454.4 161.2h0.9v0.9h-0.9zM460.4 163.6h0.9v0.9h-0.9zM457.1 171.4h0.9v0.9h-0.9zM454.1 169.5h0.9v0.9h-0.9zM459.3 169.6h0.9v0.9h-0.9zM467.0 165.7h0.9v0.9h-0.9zM452.6 172.8h0.9v0.9h-0.9zM462.9 166.0h0.9v0.9h-0.9zM454.4 169.2h0.9v0.9h-0.9zM463.0 160.8h0.9v0.9h-0.9zM460.3 170.6h0.9v0.9h-0.9zM460.5 171.6h0.9v0.9h-0.9zM457.3 165.2h0.9v0.9h-0.9zM462.6 166.3h0.9v0.9h-0.9zM456.2 168.0h0.9v0.9h-0.9zM451.8 166.0h0.9v0.9h-0.9zM462.2 168.3h0.9v0.9h-0.9zM463.3 171.5h0.9v0.9h-0.9zM461.5 172.4h0.9v0.9h-0.9zM455.9 168.6h0.9v0.9h-0.9zM468.0 168.9h0.9v0.9h-0.9zM459.8 164.3h0.9v0.9h-0.9zM458.3 168.9h0.9v0.9h-0.9zM456.7 161.3h0.9v0.9h-0.9zM456.5 172.6h0.9v0.9h-0.9zM460.4 169.8h0.9v0.9h-0.9zM460.2 169.0h0.9v0.9h-0.9zM454.2 167.6h0.9v0.9h-0.9zM463.3 163.2h0.9v0.9h-0.9zM460.9 170.3h0.9v0.9h-0.9zM460.4 167.2h0.9v0.9h-0.9zM453.9 168.4h0.9v0.9h-0.9zM455.4 171.1h0.9v0.9h-0.9zM459.5 172.3h0.9v0.9h-0.9zM459.6 168.5h0.9v0.9h-0.9zM454.8 170.6h0.9v0.9h-0.9zM461.9 166.9h0.9v0.9h-0.9zM464.5 162.7h0.9v0.9h-0.9zM455.7 168.5h0.9v0.9h-0.9zM464.9 169.2h0.9v0.9h-0.9zM463.9 168.6h0.9v0.9h-0.9zM464.5 171.1h0.9v0.9h-0.9zM461.7 166.5h0.9v0.9h-0.9zM463.9 171.7h0.9v0.9h-0.9zM459.0 163.7h0.9v0.9h-0.9zM460.1 160.3h0.9v0.9h-0.9zM457.8 172.4h0.9v0.9h-0.9zM464.4 168.5h0.9v0.9h-0.9zM459.0 167.7h0.9v0.9h-0.9zM461.1 165.4h0.9v0.9h-0.9zM460.3 170.4h0.9v0.9h-0.9zM461.9 169.9h0.9v0.9h-0.9zM460.0 171.4h0.9v0.9h-0.9zM456.8 167.2h0.9v0.9h-0.9zM458.3 166.5h0.9v0.9h-0.9zM461.0 167.4h0.9v0.9h-0.9zM463.5 171.0h0.9v0.9h-0.9zM459.9 167.9h0.9v0.9h-0.9zM465.2 167.9h0.9v0.9h-0.9zM465.1 168.5h0.9v0.9h-0.9zM460.6 166.9h0.9v0.9h-0.9zM459.5 167.1h0.9v0.9h-0.9zM461.3 169.3h0.9v0.9h-0.9zM462.4 167.2h0.9v0.9h-0.9zM458.8 166.8h0.9v0.9h-0.9zM462.8 167.0h0.9v0.9h-0.9zM466.2 171.1h0.9v0.9h-0.9zM465.3 163.7h0.9v0.9h-0.9zM453.0 167.9h0.9v0.9h-0.9zM462.8 167.0h0.9v0.9h-0.9zM462.1 170.2h0.9v0.9h-0.9zM458.4 167.6h0.9v0.9h-0.9zM463.3 163.7h0.9v0.9h-0.9zM456.0 161.5h0.9v0.9h-0.9zM458.7 168.0h0.9v0.9h-0.9zM462.7 168.2h0.9v0.9h-0.9zM460.5 172.3h0.9v0.9h-0.9zM463.9 163.8h0.9v0.9h-0.9zM464.1 167.6h0.9v0.9h-0.9zM462.9 170.0h0.9v0.9h-0.9zM454.5 166.4h0.9v0.9h-0.9zM458.8 162.7h0.9v0.9h-0.9zM459.1 167.2h0.9v0.9h-0.9zM457.7 170.9h0.9v0.9h-0.9zM457.7 167.5h0.9v0.9h-0.9zM466.1 166.0h0.9v0.9h-0.9zM459.9 166.9h0.9v0.9h-0.9zM459.6 164.0h0.9v0.9h-0.9zM460.9 163.0h0.9v0.9h-0.9zM463.0 161.8h0.9v0.9h-0.9zM458.7 165.8h0.9v0.9h-0.9zM462.7 165.1h0.9v0.9h-0.9zM464.4 168.8h0.9v0.9h-0.9zM459.0 165.1h0.9v0.9h-0.9zM460.6 163.7h0.9v0.9h-0.9zM458.6 166.4h0.9v0.9h-0.9zM464.6 170.4h0.9v0.9h-0.9zM464.8 166.5h0.9v0.9h-0.9zM464.5 169.4h0.9v0.9h-0.9zM460.0 169.9h0.9v0.9h-0.9zM459.0 170.0h0.9v0.9h-0.9zM460.5 162.0h0.9v0.9h-0.9zM460.2 170.4h0.9v0.9h-0.9zM458.9 169.3h0.9v0.9h-0.9zM457.1 160.0h0.9v0.9h-0.9zM460.1 168.6h0.9v0.9h-0.9zM463.2 167.1h0.9v0.9h-0.9zM452.6 164.7h0.9v0.9h-0.9zM455.6 166.3h0.9v0.9h-0.9zM462.0 166.6h0.9v0.9h-0.9zM457.1 169.2h0.9v0.9h-0.9zM457.9 168.5h0.9v0.9h-0.9zM456.7 171.8h0.9v0.9h-0.9zM461.9 169.6h0.9v0.9h-0.9zM457.8 170.1h0.9v0.9h-0.9zM464.8 163.7h0.9v0.9h-0.9zM461.8 169.0h0.9v0.9h-0.9zM456.9 169.3h0.9v0.9h-0.9zM460.6 171.3h0.9v0.9h-0.9zM455.2 171.9h0.9v0.9h-0.9zM458.4 168.8h0.9v0.9h-0.9zM462.2 166.9h0.9v0.9h-0.9zM463.9 162.7h0.9v0.9h-0.9zM458.8 171.7h0.9v0.9h-0.9zM455.8 164.7h0.9v0.9h-0.9zM455.2 169.1h0.9v0.9h-0.9zM464.0 169.1h0.9v0.9h-0.9zM456.4 171.4h0.9v0.9h-0.9zM462.0 168.4h0.9v0.9h-0.9zM462.8 170.8h0.9v0.9h-0.9zM461.9 164.3h0.9v0.9h-0.9zM462.6 170.7h0.9v0.9h-0.9zM460.1 172.6h0.9v0.9h-0.9zM463.1 162.6h0.9v0.9h-0.9zM457.6 170.3h0.9v0.9h-0.9zM458.3 169.8h0.9v0.9h-0.9zM462.6 168.3h0.9v0.9h-0.9zM458.3 166.5h0.9v0.9h-0.9zM460.8 168.5h0.9v0.9h-0.9zM463.7 166.1h0.9v0.9h-0.9zM456.1 165.5h0.9v0.9h-0.9zM457.7 163.3h0.9v0.9h-0.9zM462.3 168.2h0.9v0.9h-0.9zM460.5 171.4h0.9v0.9h-0.9zM467.3 171.7h0.9v0.9h-0.9zM463.6 171.5h0.9v0.9h-0.9zM461.5 169.2h0.9v0.9h-0.9zM455.7 162.3h0.9v0.9h-0.9zM456.2 171.5h0.9v0.9h-0.9zM463.5 169.8h0.9v0.9h-0.9zM456.0 170.8h0.9v0.9h-0.9zM458.5 166.6h0.9v0.9h-0.9zM459.5 164.6h0.9v0.9h-0.9zM459.4 165.5h0.9v0.9h-0.9zM467.4 167.3h0.9v0.9h-0.9zM461.6 172.9h0.9v0.9h-0.9zM459.9 166.3h0.9v0.9h-0.9zM455.5 168.0h0.9v0.9h-0.9zM461.5 172.6h0.9v0.9h-0.9zM454.4 173.0h0.9v0.9h-0.9zM458.5 163.0h0.9v0.9h-0.9zM464.8 162.3h0.9v0.9h-0.9zM462.9 164.4h0.9v0.9h-0.9zM459.9 165.9h0.9v0.9h-0.9zM462.5 167.0h0.9v0.9h-0.9zM456.9 166.8h0.9v0.9h-0.9zM466.0 172.4h0.9v0.9h-0.9zM464.1 165.1h0.9v0.9h-0.9zM460.2 171.9h0.9v0.9h-0.9zM463.9 162.6h0.9v0.9h-0.9zM458.0 167.7h0.9v0.9h-0.9zM463.7 172.6h0.9v0.9h-0.9zM458.5 168.9h0.9v0.9h-0.9zM465.3 169.8h0.9v0.9h-0.9zM466.5 168.9h0.9v0.9h-0.9zM456.7 168.5h0.9v0.9h-0.9zM455.1 170.5h0.9v0.9h-0.9zM460.4 168.2h0.9v0.9h-0.9zM455.1 166.8h0.9v0.9h-0.9zM461.1 166.2h0.9v0.9h-0.9zM460.9 169.7h0.9v0.9h-0.9zM463.3 171.4h0.9v0.9h-0.9zM462.7 161.2h0.9v0.9h-0.9zM456.5 169.2h0.9v0.9h-0.9zM458.4 166.5h0.9v0.9h-0.9zM467.5 171.0h0.9v0.9h-0.9zM464.0 171.2h0.9v0.9h-0.9zM455.6 172.7h0.9v0.9h-0.9zM460.1 171.0h0.9v0.9h-0.9zM454.9 168.0h0.9v0.9h-0.9zM464.5 169.2h0.9v0.9h-0.9zM457.9 166.7h0.9v0.9h-0.9zM462.0 166.1h0.9v0.9h-0.9zM460.0 167.2h0.9v0.9h-0.9zM458.9 168.8h0.9v0.9h-0.9zM454.5 171.6h0.9v0.9h-0.9zM458.0 162.9h0.9v0.9h-0.9zM455.6 167.3h0.9v0.9h-0.9zM461.2 170.3h0.9v0.9h-0.9zM458.8 160.4h0.9v0.9h-0.9zM457.3 172.3h0.9v0.9h-0.9zM477.1 169.0h0.9v0.9h-0.9zM473.0 158.8h0.9v0.9h-0.9zM470.3 165.1h0.9v0.9h-0.9zM465.4 172.5h0.9v0.9h-0.9zM470.8 172.8h0.9v0.9h-0.9zM477.5 167.8h0.9v0.9h-0.9zM463.0 165.6h0.9v0.9h-0.9zM464.1 166.5h0.9v0.9h-0.9zM477.2 164.6h0.9v0.9h-0.9zM466.5 165.0h0.9v0.9h-0.9zM471.2 160.6h0.9v0.9h-0.9zM455.0 166.3h0.9v0.9h-0.9zM466.5 171.3h0.9v0.9h-0.9zM471.1 164.4h0.9v0.9h-0.9zM461.7 172.5h0.9v0.9h-0.9zM464.3 167.8h0.9v0.9h-0.9zM464.3 165.7h0.9v0.9h-0.9zM459.4 171.6h0.9v0.9h-0.9zM472.5 166.2h0.9v0.9h-0.9zM472.6 160.3h0.9v0.9h-0.9zM462.4 155.4h0.9v0.9h-0.9zM467.5 172.6h0.9v0.9h-0.9zM474.1 171.8h0.9v0.9h-0.9zM465.8 170.2h0.9v0.9h-0.9zM484.6 168.2h0.9v0.9h-0.9zM469.5 172.8h0.9v0.9h-0.9z" fill="#000" fill-opacity="0.42"/>
<path d="M467.0 170.4h0.9v0.9h-0.9zM456.3 162.9h0.9v0.9h-0.9zM464.1 167.4h0.9v0.9h-0.9zM460.2 167.6h0.9v0.9h-0.9zM456.8 167.0h0.9v0.9h-0.9zM459.9 163.7h0.9v0.9h-0.9zM464.6 167.0h0.9v0.9h-0.9zM465.8 164.9h0.9v0.9h-0.9zM459.0 162.1h0.9v0.9h-0.9zM456.1 165.2h0.9v0.9h-0.9zM461.6 163.8h0.9v0.9h-0.9zM462.4 172.2h0.9v0.9h-0.9zM461.1 169.6h0.9v0.9h-0.9zM453.3 162.4h0.9v0.9h-0.9zM461.7 169.5h0.9v0.9h-0.9zM462.9 170.5h0.9v0.9h-0.9zM459.6 166.5h0.9v0.9h-0.9zM458.1 165.9h0.9v0.9h-0.9zM455.9 162.3h0.9v0.9h-0.9zM461.6 171.3h0.9v0.9h-0.9zM462.0 172.1h0.9v0.9h-0.9zM456.4 168.6h0.9v0.9h-0.9zM458.5 170.8h0.9v0.9h-0.9zM457.0 167.5h0.9v0.9h-0.9zM464.3 168.6h0.9v0.9h-0.9zM465.4 163.8h0.9v0.9h-0.9zM454.9 172.7h0.9v0.9h-0.9zM459.1 169.7h0.9v0.9h-0.9zM455.3 169.4h0.9v0.9h-0.9zM458.3 166.6h0.9v0.9h-0.9zM456.9 160.4h0.9v0.9h-0.9zM468.4 171.6h0.9v0.9h-0.9zM462.7 167.3h0.9v0.9h-0.9zM463.9 168.2h0.9v0.9h-0.9zM456.1 169.0h0.9v0.9h-0.9zM464.4 166.8h0.9v0.9h-0.9zM462.5 169.3h0.9v0.9h-0.9zM458.1 167.7h0.9v0.9h-0.9zM468.2 168.7h0.9v0.9h-0.9zM458.1 170.7h0.9v0.9h-0.9zM456.8 168.4h0.9v0.9h-0.9zM464.6 168.9h0.9v0.9h-0.9zM458.1 172.8h0.9v0.9h-0.9zM457.7 172.8h0.9v0.9h-0.9zM457.9 171.4h0.9v0.9h-0.9zM458.9 165.5h0.9v0.9h-0.9zM461.2 172.0h0.9v0.9h-0.9zM461.7 164.0h0.9v0.9h-0.9zM457.5 169.5h0.9v0.9h-0.9zM465.2 164.3h0.9v0.9h-0.9zM461.4 171.4h0.9v0.9h-0.9zM459.5 167.0h0.9v0.9h-0.9zM459.3 165.6h0.9v0.9h-0.9zM463.4 170.6h0.9v0.9h-0.9zM454.5 169.0h0.9v0.9h-0.9zM462.8 171.8h0.9v0.9h-0.9zM456.2 163.8h0.9v0.9h-0.9zM461.7 165.5h0.9v0.9h-0.9zM452.1 170.3h0.9v0.9h-0.9zM456.0 171.7h0.9v0.9h-0.9zM458.8 170.4h0.9v0.9h-0.9zM461.4 163.9h0.9v0.9h-0.9zM463.8 166.6h0.9v0.9h-0.9zM461.0 171.1h0.9v0.9h-0.9zM459.7 169.0h0.9v0.9h-0.9zM460.9 169.5h0.9v0.9h-0.9zM462.2 172.4h0.9v0.9h-0.9zM456.0 167.4h0.9v0.9h-0.9zM461.3 172.5h0.9v0.9h-0.9zM461.3 166.6h0.9v0.9h-0.9zM460.0 164.8h0.9v0.9h-0.9zM459.3 168.0h0.9v0.9h-0.9zM462.3 166.2h0.9v0.9h-0.9zM458.1 163.6h0.9v0.9h-0.9zM457.7 170.1h0.9v0.9h-0.9zM451.4 156.1h0.9v0.9h-0.9zM461.3 171.7h0.9v0.9h-0.9zM455.6 168.3h0.9v0.9h-0.9zM455.9 170.5h0.9v0.9h-0.9zM463.0 169.3h0.9v0.9h-0.9zM463.7 171.3h0.9v0.9h-0.9zM462.0 165.6h0.9v0.9h-0.9zM464.9 168.5h0.9v0.9h-0.9zM452.8 167.7h0.9v0.9h-0.9zM465.8 165.4h0.9v0.9h-0.9zM461.6 167.0h0.9v0.9h-0.9zM463.2 168.9h0.9v0.9h-0.9zM464.5 164.8h0.9v0.9h-0.9zM458.1 159.2h0.9v0.9h-0.9zM462.9 168.1h0.9v0.9h-0.9zM458.1 166.8h0.9v0.9h-0.9zM459.6 171.3h0.9v0.9h-0.9zM461.6 165.2h0.9v0.9h-0.9zM455.9 162.7h0.9v0.9h-0.9zM456.4 172.1h0.9v0.9h-0.9zM469.8 162.4h0.9v0.9h-0.9zM459.7 165.7h0.9v0.9h-0.9zM464.5 160.3h0.9v0.9h-0.9zM459.4 164.3h0.9v0.9h-0.9zM464.6 169.4h0.9v0.9h-0.9zM455.9 166.7h0.9v0.9h-0.9zM457.7 165.7h0.9v0.9h-0.9zM457.7 165.6h0.9v0.9h-0.9zM460.9 165.1h0.9v0.9h-0.9zM459.6 167.6h0.9v0.9h-0.9zM465.5 169.4h0.9v0.9h-0.9zM455.8 171.4h0.9v0.9h-0.9zM455.5 166.2h0.9v0.9h-0.9zM465.4 164.8h0.9v0.9h-0.9zM461.2 165.9h0.9v0.9h-0.9zM455.7 168.6h0.9v0.9h-0.9zM455.6 170.4h0.9v0.9h-0.9zM460.5 163.4h0.9v0.9h-0.9zM458.9 168.9h0.9v0.9h-0.9zM461.8 172.1h0.9v0.9h-0.9zM453.3 167.3h0.9v0.9h-0.9zM459.4 162.8h0.9v0.9h-0.9zM461.0 171.1h0.9v0.9h-0.9zM458.9 166.3h0.9v0.9h-0.9zM458.9 171.9h0.9v0.9h-0.9zM455.7 168.1h0.9v0.9h-0.9zM461.0 164.2h0.9v0.9h-0.9zM459.4 171.7h0.9v0.9h-0.9zM463.1 166.6h0.9v0.9h-0.9zM460.4 168.6h0.9v0.9h-0.9zM455.9 169.4h0.9v0.9h-0.9zM455.7 164.6h0.9v0.9h-0.9zM458.2 164.2h0.9v0.9h-0.9zM458.8 165.1h0.9v0.9h-0.9zM461.3 165.0h0.9v0.9h-0.9zM459.1 163.0h0.9v0.9h-0.9zM462.8 167.3h0.9v0.9h-0.9zM458.1 166.2h0.9v0.9h-0.9zM463.7 160.4h0.9v0.9h-0.9zM459.9 169.5h0.9v0.9h-0.9zM453.7 168.1h0.9v0.9h-0.9zM468.1 167.3h0.9v0.9h-0.9zM453.5 163.2h0.9v0.9h-0.9zM459.0 166.1h0.9v0.9h-0.9zM462.5 171.5h0.9v0.9h-0.9zM460.3 170.7h0.9v0.9h-0.9zM460.6 164.5h0.9v0.9h-0.9zM455.9 170.9h0.9v0.9h-0.9zM452.0 171.4h0.9v0.9h-0.9zM458.6 172.7h0.9v0.9h-0.9zM460.6 170.9h0.9v0.9h-0.9zM456.9 169.3h0.9v0.9h-0.9zM455.3 166.2h0.9v0.9h-0.9zM457.9 166.2h0.9v0.9h-0.9zM457.9 168.4h0.9v0.9h-0.9zM462.9 169.2h0.9v0.9h-0.9zM457.2 167.4h0.9v0.9h-0.9zM463.0 167.9h0.9v0.9h-0.9zM458.6 168.9h0.9v0.9h-0.9zM464.7 168.3h0.9v0.9h-0.9zM460.1 166.5h0.9v0.9h-0.9zM455.7 170.8h0.9v0.9h-0.9zM462.8 169.6h0.9v0.9h-0.9zM467.5 161.8h0.9v0.9h-0.9zM462.3 166.4h0.9v0.9h-0.9zM461.9 171.8h0.9v0.9h-0.9zM461.0 169.1h0.9v0.9h-0.9zM455.5 168.6h0.9v0.9h-0.9zM458.5 164.7h0.9v0.9h-0.9zM457.9 166.9h0.9v0.9h-0.9zM455.0 168.4h0.9v0.9h-0.9zM458.7 165.8h0.9v0.9h-0.9zM463.7 172.1h0.9v0.9h-0.9zM456.4 162.1h0.9v0.9h-0.9zM460.1 169.6h0.9v0.9h-0.9zM460.1 165.9h0.9v0.9h-0.9zM457.7 168.0h0.9v0.9h-0.9zM460.5 170.8h0.9v0.9h-0.9zM456.1 167.8h0.9v0.9h-0.9zM460.0 165.1h0.9v0.9h-0.9zM456.2 159.5h0.9v0.9h-0.9zM460.6 172.3h0.9v0.9h-0.9zM457.4 166.2h0.9v0.9h-0.9zM456.9 166.8h0.9v0.9h-0.9zM458.0 171.6h0.9v0.9h-0.9zM459.8 170.5h0.9v0.9h-0.9zM456.6 168.4h0.9v0.9h-0.9zM459.6 159.0h0.9v0.9h-0.9zM462.8 168.2h0.9v0.9h-0.9zM463.2 171.2h0.9v0.9h-0.9zM467.0 172.2h0.9v0.9h-0.9zM460.9 165.5h0.9v0.9h-0.9zM464.2 166.5h0.9v0.9h-0.9zM461.5 170.0h0.9v0.9h-0.9zM459.1 162.4h0.9v0.9h-0.9zM463.5 159.9h0.9v0.9h-0.9zM460.8 167.4h0.9v0.9h-0.9zM459.9 172.0h0.9v0.9h-0.9zM464.2 164.4h0.9v0.9h-0.9zM456.2 166.9h0.9v0.9h-0.9zM461.6 162.6h0.9v0.9h-0.9zM465.4 171.8h0.9v0.9h-0.9zM459.9 161.3h0.9v0.9h-0.9zM458.9 167.5h0.9v0.9h-0.9zM459.1 168.8h0.9v0.9h-0.9zM458.6 164.3h0.9v0.9h-0.9zM455.3 172.7h0.9v0.9h-0.9zM459.4 172.0h0.9v0.9h-0.9zM457.3 170.4h0.9v0.9h-0.9zM451.3 172.2h0.9v0.9h-0.9zM460.8 171.4h0.9v0.9h-0.9zM462.4 168.7h0.9v0.9h-0.9zM464.0 170.8h0.9v0.9h-0.9zM464.5 170.2h0.9v0.9h-0.9zM459.7 165.2h0.9v0.9h-0.9zM461.8 160.7h0.9v0.9h-0.9zM455.2 161.3h0.9v0.9h-0.9zM459.8 169.8h0.9v0.9h-0.9zM455.8 171.9h0.9v0.9h-0.9zM458.8 171.1h0.9v0.9h-0.9zM455.7 167.8h0.9v0.9h-0.9zM463.0 165.3h0.9v0.9h-0.9zM463.6 167.1h0.9v0.9h-0.9zM459.0 169.0h0.9v0.9h-0.9zM455.1 166.6h0.9v0.9h-0.9zM461.8 170.2h0.9v0.9h-0.9zM454.2 170.8h0.9v0.9h-0.9zM459.6 165.7h0.9v0.9h-0.9zM458.1 166.4h0.9v0.9h-0.9zM459.4 167.2h0.9v0.9h-0.9zM455.1 166.8h0.9v0.9h-0.9zM472.6 161.9h0.9v0.9h-0.9zM460.1 173.0h0.9v0.9h-0.9zM464.9 162.8h0.9v0.9h-0.9zM463.0 169.7h0.9v0.9h-0.9zM461.7 165.7h0.9v0.9h-0.9zM467.0 163.6h0.9v0.9h-0.9zM456.7 167.9h0.9v0.9h-0.9zM466.4 161.2h0.9v0.9h-0.9zM470.1 161.7h0.9v0.9h-0.9zM465.0 165.0h0.9v0.9h-0.9zM449.8 167.3h0.9v0.9h-0.9zM466.2 162.6h0.9v0.9h-0.9zM469.7 167.4h0.9v0.9h-0.9zM469.5 165.4h0.9v0.9h-0.9zM464.3 170.1h0.9v0.9h-0.9zM456.8 171.5h0.9v0.9h-0.9zM473.1 165.8h0.9v0.9h-0.9zM453.0 166.8h0.9v0.9h-0.9zM450.4 155.0h0.9v0.9h-0.9zM474.4 165.1h0.9v0.9h-0.9zM462.5 163.3h0.9v0.9h-0.9zM461.1 160.5h0.9v0.9h-0.9zM466.7 169.5h0.9v0.9h-0.9zM453.3 166.8h0.9v0.9h-0.9zM476.1 170.7h0.9v0.9h-0.9zM463.3 169.5h0.9v0.9h-0.9zM469.7 170.6h0.9v0.9h-0.9zM471.1 170.0h0.9v0.9h-0.9z" fill="#000" fill-opacity="0.42"/>
<path d="M460.9 161.6h0.9v0.9h-0.9zM458.6 170.7h0.9v0.9h-0.9zM457.3 170.2h0.9v0.9h-0.9zM458.1 169.5h0.9v0.9h-0.9zM459.5 171.4h0.9v0.9h-0.9zM461.6 159.5h0.9v0.9h-0.9zM456.9 168.7h0.9v0.9h-0.9zM462.4 167.7h0.9v0.9h-0.9zM464.2 169.0h0.9v0.9h-0.9zM454.2 155.1h0.9v0.9h-0.9zM462.4 166.5h0.9v0.9h-0.9zM453.2 169.8h0.9v0.9h-0.9zM457.8 170.4h0.9v0.9h-0.9zM460.4 166.5h0.9v0.9h-0.9zM463.8 169.0h0.9v0.9h-0.9zM457.5 171.8h0.9v0.9h-0.9zM464.3 168.9h0.9v0.9h-0.9zM456.6 171.7h0.9v0.9h-0.9zM455.5 170.8h0.9v0.9h-0.9zM464.5 171.3h0.9v0.9h-0.9zM457.3 168.7h0.9v0.9h-0.9zM458.8 171.4h0.9v0.9h-0.9zM455.1 164.9h0.9v0.9h-0.9zM455.9 167.2h0.9v0.9h-0.9zM456.9 164.7h0.9v0.9h-0.9zM463.0 171.4h0.9v0.9h-0.9zM465.8 168.3h0.9v0.9h-0.9zM459.0 171.6h0.9v0.9h-0.9zM454.3 168.2h0.9v0.9h-0.9zM463.5 169.9h0.9v0.9h-0.9zM469.3 171.4h0.9v0.9h-0.9zM463.7 165.8h0.9v0.9h-0.9zM452.2 164.7h0.9v0.9h-0.9zM456.8 166.3h0.9v0.9h-0.9zM458.5 166.2h0.9v0.9h-0.9zM457.2 172.0h0.9v0.9h-0.9zM459.7 171.5h0.9v0.9h-0.9zM460.7 166.8h0.9v0.9h-0.9zM463.9 164.2h0.9v0.9h-0.9zM459.6 161.7h0.9v0.9h-0.9zM456.8 160.5h0.9v0.9h-0.9zM457.0 165.3h0.9v0.9h-0.9zM463.7 170.9h0.9v0.9h-0.9zM457.9 159.2h0.9v0.9h-0.9zM461.6 164.7h0.9v0.9h-0.9zM469.3 172.4h0.9v0.9h-0.9zM460.1 165.1h0.9v0.9h-0.9zM460.8 167.6h0.9v0.9h-0.9zM457.7 170.2h0.9v0.9h-0.9zM462.4 171.9h0.9v0.9h-0.9zM462.7 167.4h0.9v0.9h-0.9zM463.6 166.3h0.9v0.9h-0.9zM464.6 168.2h0.9v0.9h-0.9zM453.0 169.5h0.9v0.9h-0.9zM458.5 171.8h0.9v0.9h-0.9zM452.1 170.9h0.9v0.9h-0.9zM458.5 170.3h0.9v0.9h-0.9zM462.7 170.4h0.9v0.9h-0.9zM456.4 166.5h0.9v0.9h-0.9zM458.7 171.1h0.9v0.9h-0.9zM457.9 165.0h0.9v0.9h-0.9zM458.3 167.1h0.9v0.9h-0.9zM459.4 171.2h0.9v0.9h-0.9zM457.6 170.1h0.9v0.9h-0.9zM461.6 168.5h0.9v0.9h-0.9zM460.8 172.5h0.9v0.9h-0.9zM464.1 170.6h0.9v0.9h-0.9zM461.2 169.2h0.9v0.9h-0.9zM457.2 168.1h0.9v0.9h-0.9zM455.6 171.7h0.9v0.9h-0.9zM456.0 158.3h0.9v0.9h-0.9zM461.3 169.1h0.9v0.9h-0.9zM463.9 161.7h0.9v0.9h-0.9zM458.0 167.8h0.9v0.9h-0.9zM461.6 166.2h0.9v0.9h-0.9zM459.4 164.4h0.9v0.9h-0.9zM461.8 168.8h0.9v0.9h-0.9zM458.6 170.0h0.9v0.9h-0.9zM458.7 165.4h0.9v0.9h-0.9zM460.2 169.5h0.9v0.9h-0.9zM465.7 165.5h0.9v0.9h-0.9zM463.2 169.0h0.9v0.9h-0.9zM458.7 164.6h0.9v0.9h-0.9zM462.0 168.1h0.9v0.9h-0.9zM460.0 171.9h0.9v0.9h-0.9zM464.3 166.7h0.9v0.9h-0.9zM458.9 169.8h0.9v0.9h-0.9zM452.7 166.4h0.9v0.9h-0.9zM461.2 165.4h0.9v0.9h-0.9zM466.2 164.1h0.9v0.9h-0.9zM465.4 166.2h0.9v0.9h-0.9zM456.3 170.1h0.9v0.9h-0.9zM464.6 170.6h0.9v0.9h-0.9zM468.5 168.3h0.9v0.9h-0.9zM457.0 169.8h0.9v0.9h-0.9zM459.3 164.5h0.9v0.9h-0.9zM465.0 171.9h0.9v0.9h-0.9zM457.9 170.7h0.9v0.9h-0.9zM460.7 166.6h0.9v0.9h-0.9zM456.9 168.8h0.9v0.9h-0.9zM457.8 167.2h0.9v0.9h-0.9zM458.7 167.8h0.9v0.9h-0.9zM458.6 172.0h0.9v0.9h-0.9zM461.7 169.7h0.9v0.9h-0.9zM462.1 167.7h0.9v0.9h-0.9zM463.8 167.8h0.9v0.9h-0.9zM465.2 165.3h0.9v0.9h-0.9zM458.4 165.8h0.9v0.9h-0.9zM458.7 167.9h0.9v0.9h-0.9zM461.9 168.9h0.9v0.9h-0.9zM456.5 168.5h0.9v0.9h-0.9zM461.0 169.5h0.9v0.9h-0.9zM461.4 171.6h0.9v0.9h-0.9zM458.9 172.2h0.9v0.9h-0.9zM465.1 169.7h0.9v0.9h-0.9zM464.0 161.5h0.9v0.9h-0.9zM452.6 167.5h0.9v0.9h-0.9zM457.6 170.5h0.9v0.9h-0.9zM458.6 172.9h0.9v0.9h-0.9zM460.6 170.0h0.9v0.9h-0.9zM458.9 160.7h0.9v0.9h-0.9zM461.2 162.6h0.9v0.9h-0.9zM457.7 169.0h0.9v0.9h-0.9zM462.4 162.8h0.9v0.9h-0.9zM451.0 170.9h0.9v0.9h-0.9zM468.1 164.2h0.9v0.9h-0.9zM459.4 165.9h0.9v0.9h-0.9zM457.5 166.5h0.9v0.9h-0.9zM457.6 169.3h0.9v0.9h-0.9zM465.9 165.2h0.9v0.9h-0.9zM456.4 167.8h0.9v0.9h-0.9zM460.6 169.0h0.9v0.9h-0.9zM460.9 172.0h0.9v0.9h-0.9zM459.4 171.3h0.9v0.9h-0.9zM461.3 169.8h0.9v0.9h-0.9zM461.7 168.5h0.9v0.9h-0.9zM462.8 169.2h0.9v0.9h-0.9zM458.9 165.8h0.9v0.9h-0.9zM458.9 165.5h0.9v0.9h-0.9zM467.6 160.7h0.9v0.9h-0.9zM462.8 170.7h0.9v0.9h-0.9zM466.7 169.7h0.9v0.9h-0.9zM455.2 162.7h0.9v0.9h-0.9zM455.3 162.7h0.9v0.9h-0.9zM459.8 163.6h0.9v0.9h-0.9zM461.5 167.4h0.9v0.9h-0.9zM457.3 171.9h0.9v0.9h-0.9zM457.1 172.7h0.9v0.9h-0.9zM460.7 168.4h0.9v0.9h-0.9zM458.0 161.2h0.9v0.9h-0.9zM462.2 171.9h0.9v0.9h-0.9zM455.8 163.0h0.9v0.9h-0.9zM458.3 170.7h0.9v0.9h-0.9zM463.2 171.6h0.9v0.9h-0.9zM456.3 164.7h0.9v0.9h-0.9zM464.2 171.3h0.9v0.9h-0.9zM462.5 164.2h0.9v0.9h-0.9zM459.2 170.5h0.9v0.9h-0.9zM457.2 172.2h0.9v0.9h-0.9zM455.8 164.2h0.9v0.9h-0.9zM459.9 162.5h0.9v0.9h-0.9zM456.7 170.3h0.9v0.9h-0.9zM463.2 166.6h0.9v0.9h-0.9zM462.1 173.0h0.9v0.9h-0.9zM467.4 171.3h0.9v0.9h-0.9zM458.3 171.3h0.9v0.9h-0.9zM455.0 170.7h0.9v0.9h-0.9zM458.4 166.9h0.9v0.9h-0.9zM458.1 166.6h0.9v0.9h-0.9zM460.3 170.8h0.9v0.9h-0.9zM453.1 164.5h0.9v0.9h-0.9zM461.2 172.7h0.9v0.9h-0.9zM468.3 172.5h0.9v0.9h-0.9zM454.0 166.8h0.9v0.9h-0.9zM460.3 168.6h0.9v0.9h-0.9zM462.2 172.6h0.9v0.9h-0.9zM459.2 171.2h0.9v0.9h-0.9zM456.6 170.8h0.9v0.9h-0.9zM456.1 167.8h0.9v0.9h-0.9zM449.4 165.9h0.9v0.9h-0.9zM458.3 167.4h0.9v0.9h-0.9zM460.0 168.5h0.9v0.9h-0.9zM460.4 169.2h0.9v0.9h-0.9zM463.9 163.9h0.9v0.9h-0.9zM464.2 166.6h0.9v0.9h-0.9zM456.0 166.1h0.9v0.9h-0.9zM454.8 166.6h0.9v0.9h-0.9zM455.8 167.1h0.9v0.9h-0.9zM462.7 164.2h0.9v0.9h-0.9zM463.4 166.8h0.9v0.9h-0.9zM453.4 168.8h0.9v0.9h-0.9zM459.1 169.7h0.9v0.9h-0.9zM456.3 160.2h0.9v0.9h-0.9zM460.9 168.2h0.9v0.9h-0.9zM458.3 171.4h0.9v0.9h-0.9zM462.5 170.6h0.9v0.9h-0.9zM459.7 169.5h0.9v0.9h-0.9zM453.3 168.3h0.9v0.9h-0.9zM467.4 162.9h0.9v0.9h-0.9zM454.6 170.9h0.9v0.9h-0.9zM469.1 166.7h0.9v0.9h-0.9zM463.3 169.1h0.9v0.9h-0.9zM465.2 163.1h0.9v0.9h-0.9zM456.9 161.7h0.9v0.9h-0.9zM459.5 167.0h0.9v0.9h-0.9zM460.8 160.4h0.9v0.9h-0.9zM466.6 165.8h0.9v0.9h-0.9zM460.1 172.7h0.9v0.9h-0.9zM457.4 161.8h0.9v0.9h-0.9zM457.5 160.2h0.9v0.9h-0.9zM454.4 168.4h0.9v0.9h-0.9zM460.4 169.8h0.9v0.9h-0.9zM461.9 165.2h0.9v0.9h-0.9zM457.7 170.2h0.9v0.9h-0.9zM461.9 167.1h0.9v0.9h-0.9zM459.1 171.3h0.9v0.9h-0.9zM466.9 163.5h0.9v0.9h-0.9zM460.5 167.5h0.9v0.9h-0.9zM454.6 168.0h0.9v0.9h-0.9zM465.8 170.4h0.9v0.9h-0.9zM457.2 169.0h0.9v0.9h-0.9zM458.6 171.8h0.9v0.9h-0.9zM450.8 168.7h0.9v0.9h-0.9zM457.1 162.4h0.9v0.9h-0.9zM461.8 169.1h0.9v0.9h-0.9zM470.5 159.7h0.9v0.9h-0.9zM464.5 168.8h0.9v0.9h-0.9zM456.3 163.3h0.9v0.9h-0.9zM466.9 164.9h0.9v0.9h-0.9zM454.8 162.1h0.9v0.9h-0.9zM456.4 169.2h0.9v0.9h-0.9zM464.8 165.6h0.9v0.9h-0.9zM454.6 154.2h0.9v0.9h-0.9zM463.6 163.5h0.9v0.9h-0.9zM461.0 164.0h0.9v0.9h-0.9zM473.7 162.8h0.9v0.9h-0.9zM465.5 164.6h0.9v0.9h-0.9zM456.9 167.1h0.9v0.9h-0.9zM457.8 166.1h0.9v0.9h-0.9zM465.7 164.9h0.9v0.9h-0.9zM472.1 162.6h0.9v0.9h-0.9zM459.3 155.5h0.9v0.9h-0.9zM466.5 169.7h0.9v0.9h-0.9zM463.2 171.1h0.9v0.9h-0.9zM462.6 165.4h0.9v0.9h-0.9zM472.8 168.1h0.9v0.9h-0.9zM455.2 161.3h0.9v0.9h-0.9zM456.5 165.4h0.9v0.9h-0.9zM456.4 164.3h0.9v0.9h-0.9zM461.7 163.9h0.9v0.9h-0.9zM472.9 168.3h0.9v0.9h-0.9zM478.9 172.6h0.9v0.9h-0.9zM470.1 171.5h0.9v0.9h-0.9zM466.3 171.0h0.9v0.9h-0.9z" fill="#000" fill-opacity="0.42"/>
<path d="M461.8 169.4h0.9v0.9h-0.9zM457.6 166.5h0.9v0.9h-0.9zM459.0 167.0h0.9v0.9h-0.9zM460.2 170.1h0.9v0.9h-0.9zM463.1 172.9h0.9v0.9h-0.9zM453.2 165.7h0.9v0.9h-0.9zM465.6 166.2h0.9v0.9h-0.9zM458.9 168.6h0.9v0.9h-0.9zM453.1 171.3h0.9v0.9h-0.9zM464.0 171.6h0.9v0.9h-0.9zM454.2 169.4h0.9v0.9h-0.9zM460.6 167.7h0.9v0.9h-0.9zM463.3 170.6h0.9v0.9h-0.9zM465.6 162.4h0.9v0.9h-0.9zM463.1 170.1h0.9v0.9h-0.9zM457.4 172.2h0.9v0.9h-0.9zM459.9 167.0h0.9v0.9h-0.9zM465.7 167.8h0.9v0.9h-0.9zM466.3 172.2h0.9v0.9h-0.9zM464.5 159.2h0.9v0.9h-0.9zM456.1 163.5h0.9v0.9h-0.9zM459.8 163.1h0.9v0.9h-0.9zM459.0 170.5h0.9v0.9h-0.9zM458.4 159.3h0.9v0.9h-0.9zM459.3 166.4h0.9v0.9h-0.9zM461.4 170.7h0.9v0.9h-0.9zM462.2 166.9h0.9v0.9h-0.9zM458.9 166.3h0.9v0.9h-0.9zM460.0 167.3h0.9v0.9h-0.9zM463.5 172.2h0.9v0.9h-0.9zM452.5 169.4h0.9v0.9h-0.9zM458.7 163.3h0.9v0.9h-0.9zM456.0 167.5h0.9v0.9h-0.9zM460.2 170.3h0.9v0.9h-0.9zM465.5 166.5h0.9v0.9h-0.9zM464.3 171.5h0.9v0.9h-0.9zM458.7 171.3h0.9v0.9h-0.9zM456.5 172.2h0.9v0.9h-0.9zM464.1 162.3h0.9v0.9h-0.9zM461.7 162.6h0.9v0.9h-0.9zM459.5 168.3h0.9v0.9h-0.9zM456.9 165.3h0.9v0.9h-0.9zM461.7 164.4h0.9v0.9h-0.9zM457.9 170.4h0.9v0.9h-0.9zM461.3 168.4h0.9v0.9h-0.9zM461.0 164.2h0.9v0.9h-0.9zM456.8 164.3h0.9v0.9h-0.9zM466.0 168.0h0.9v0.9h-0.9zM462.9 169.2h0.9v0.9h-0.9zM459.1 163.7h0.9v0.9h-0.9zM460.5 162.8h0.9v0.9h-0.9zM459.8 170.2h0.9v0.9h-0.9zM459.6 164.8h0.9v0.9h-0.9zM463.1 169.6h0.9v0.9h-0.9zM458.3 163.6h0.9v0.9h-0.9zM462.7 163.5h0.9v0.9h-0.9zM457.2 161.1h0.9v0.9h-0.9zM459.3 166.4h0.9v0.9h-0.9zM468.3 169.3h0.9v0.9h-0.9zM462.4 171.9h0.9v0.9h-0.9zM463.9 170.1h0.9v0.9h-0.9zM455.7 168.6h0.9v0.9h-0.9zM461.8 168.3h0.9v0.9h-0.9zM453.1 170.0h0.9v0.9h-0.9zM455.6 169.6h0.9v0.9h-0.9zM460.0 164.6h0.9v0.9h-0.9zM464.0 166.7h0.9v0.9h-0.9zM456.9 170.3h0.9v0.9h-0.9zM455.3 168.7h0.9v0.9h-0.9zM456.4 166.9h0.9v0.9h-0.9zM460.1 170.5h0.9v0.9h-0.9zM458.0 167.5h0.9v0.9h-0.9zM464.2 163.6h0.9v0.9h-0.9zM458.7 166.8h0.9v0.9h-0.9zM452.4 167.7h0.9v0.9h-0.9zM460.1 168.5h0.9v0.9h-0.9zM461.5 164.2h0.9v0.9h-0.9zM463.7 167.9h0.9v0.9h-0.9zM461.4 167.0h0.9v0.9h-0.9zM457.2 167.4h0.9v0.9h-0.9zM467.1 169.1h0.9v0.9h-0.9zM463.2 167.8h0.9v0.9h-0.9zM456.7 171.0h0.9v0.9h-0.9zM463.7 166.2h0.9v0.9h-0.9zM459.6 165.4h0.9v0.9h-0.9zM461.1 161.9h0.9v0.9h-0.9zM461.4 162.0h0.9v0.9h-0.9zM461.9 163.3h0.9v0.9h-0.9zM459.7 166.7h0.9v0.9h-0.9zM461.5 172.7h0.9v0.9h-0.9zM458.3 169.7h0.9v0.9h-0.9zM458.8 169.3h0.9v0.9h-0.9zM456.5 167.7h0.9v0.9h-0.9zM458.2 167.9h0.9v0.9h-0.9zM459.2 168.4h0.9v0.9h-0.9zM451.4 161.9h0.9v0.9h-0.9zM454.1 170.0h0.9v0.9h-0.9zM460.9 168.8h0.9v0.9h-0.9zM466.2 167.5h0.9v0.9h-0.9zM458.3 168.3h0.9v0.9h-0.9zM461.7 166.2h0.9v0.9h-0.9zM461.7 169.2h0.9v0.9h-0.9zM467.0 169.8h0.9v0.9h-0.9zM465.1 166.7h0.9v0.9h-0.9zM460.5 164.4h0.9v0.9h-0.9zM463.0 165.5h0.9v0.9h-0.9zM457.8 164.6h0.9v0.9h-0.9zM463.7 171.6h0.9v0.9h-0.9zM461.0 168.1h0.9v0.9h-0.9zM463.8 168.2h0.9v0.9h-0.9zM453.9 170.2h0.9v0.9h-0.9zM458.7 168.2h0.9v0.9h-0.9zM452.5 167.4h0.9v0.9h-0.9zM452.6 171.0h0.9v0.9h-0.9zM455.7 166.0h0.9v0.9h-0.9zM460.8 165.4h0.9v0.9h-0.9zM465.3 169.9h0.9v0.9h-0.9zM456.0 171.9h0.9v0.9h-0.9zM459.8 164.3h0.9v0.9h-0.9zM459.4 162.7h0.9v0.9h-0.9zM456.3 165.4h0.9v0.9h-0.9zM459.4 167.8h0.9v0.9h-0.9zM453.6 165.3h0.9v0.9h-0.9zM460.5 163.7h0.9v0.9h-0.9zM464.3 167.7h0.9v0.9h-0.9zM461.1 170.9h0.9v0.9h-0.9zM458.4 166.0h0.9v0.9h-0.9zM449.3 167.3h0.9v0.9h-0.9zM461.3 168.1h0.9v0.9h-0.9zM461.9 168.1h0.9v0.9h-0.9zM457.1 161.6h0.9v0.9h-0.9zM461.5 165.6h0.9v0.9h-0.9zM457.0 166.7h0.9v0.9h-0.9zM461.2 172.2h0.9v0.9h-0.9zM467.6 171.1h0.9v0.9h-0.9zM463.5 164.1h0.9v0.9h-0.9zM460.7 164.0h0.9v0.9h-0.9zM458.3 171.5h0.9v0.9h-0.9zM456.9 171.8h0.9v0.9h-0.9zM453.4 166.2h0.9v0.9h-0.9zM459.3 162.8h0.9v0.9h-0.9zM458.5 167.9h0.9v0.9h-0.9zM456.2 165.8h0.9v0.9h-0.9zM458.2 171.6h0.9v0.9h-0.9zM461.4 162.0h0.9v0.9h-0.9zM464.0 166.5h0.9v0.9h-0.9zM460.1 165.1h0.9v0.9h-0.9zM457.7 166.8h0.9v0.9h-0.9zM463.4 169.9h0.9v0.9h-0.9zM467.0 172.4h0.9v0.9h-0.9zM456.2 170.0h0.9v0.9h-0.9zM460.4 162.9h0.9v0.9h-0.9zM456.7 170.5h0.9v0.9h-0.9zM467.9 172.0h0.9v0.9h-0.9zM459.8 168.5h0.9v0.9h-0.9zM459.3 165.6h0.9v0.9h-0.9zM461.7 170.2h0.9v0.9h-0.9zM456.1 163.5h0.9v0.9h-0.9zM459.1 168.1h0.9v0.9h-0.9zM460.4 172.1h0.9v0.9h-0.9zM454.3 166.6h0.9v0.9h-0.9zM458.6 165.2h0.9v0.9h-0.9zM453.3 167.5h0.9v0.9h-0.9zM457.7 162.6h0.9v0.9h-0.9zM459.7 166.8h0.9v0.9h-0.9zM463.1 165.1h0.9v0.9h-0.9zM457.0 171.9h0.9v0.9h-0.9zM460.9 170.0h0.9v0.9h-0.9zM456.2 169.9h0.9v0.9h-0.9zM463.8 170.3h0.9v0.9h-0.9zM459.5 170.9h0.9v0.9h-0.9zM461.1 164.4h0.9v0.9h-0.9zM459.6 165.8h0.9v0.9h-0.9zM463.4 164.1h0.9v0.9h-0.9zM459.9 167.2h0.9v0.9h-0.9zM456.6 170.5h0.9v0.9h-0.9zM460.8 171.3h0.9v0.9h-0.9zM460.4 172.3h0.9v0.9h-0.9zM465.8 166.5h0.9v0.9h-0.9zM454.9 170.7h0.9v0.9h-0.9zM453.1 168.5h0.9v0.9h-0.9zM456.0 164.4h0.9v0.9h-0.9zM462.3 170.9h0.9v0.9h-0.9zM459.3 167.6h0.9v0.9h-0.9zM461.3 163.6h0.9v0.9h-0.9zM464.5 169.6h0.9v0.9h-0.9zM464.0 163.5h0.9v0.9h-0.9zM458.7 169.1h0.9v0.9h-0.9zM455.0 167.9h0.9v0.9h-0.9zM462.0 169.8h0.9v0.9h-0.9zM459.6 170.7h0.9v0.9h-0.9zM456.3 170.1h0.9v0.9h-0.9zM453.7 170.0h0.9v0.9h-0.9zM459.7 167.6h0.9v0.9h-0.9zM459.9 169.7h0.9v0.9h-0.9zM460.8 165.6h0.9v0.9h-0.9zM460.2 168.3h0.9v0.9h-0.9zM452.9 169.8h0.9v0.9h-0.9zM463.4 164.0h0.9v0.9h-0.9zM458.1 170.0h0.9v0.9h-0.9zM459.2 172.0h0.9v0.9h-0.9zM459.5 164.5h0.9v0.9h-0.9zM458.5 163.7h0.9v0.9h-0.9zM462.6 168.8h0.9v0.9h-0.9zM457.0 165.8h0.9v0.9h-0.9zM467.2 171.0h0.9v0.9h-0.9zM457.1 167.9h0.9v0.9h-0.9zM462.8 171.9h0.9v0.9h-0.9zM457.7 170.9h0.9v0.9h-0.9zM458.9 165.8h0.9v0.9h-0.9zM454.9 164.2h0.9v0.9h-0.9zM457.1 170.2h0.9v0.9h-0.9zM470.7 165.9h0.9v0.9h-0.9zM459.5 172.3h0.9v0.9h-0.9zM463.1 171.7h0.9v0.9h-0.9zM454.6 167.4h0.9v0.9h-0.9zM464.2 166.7h0.9v0.9h-0.9zM459.5 166.0h0.9v0.9h-0.9zM460.5 170.3h0.9v0.9h-0.9zM461.7 171.9h0.9v0.9h-0.9zM456.7 167.8h0.9v0.9h-0.9zM459.0 171.7h0.9v0.9h-0.9zM461.9 158.0h0.9v0.9h-0.9zM465.0 167.5h0.9v0.9h-0.9zM461.0 168.1h0.9v0.9h-0.9zM458.5 155.7h0.9v0.9h-0.9zM459.3 156.7h0.9v0.9h-0.9zM468.3 172.0h0.9v0.9h-0.9zM470.7 168.5h0.9v0.9h-0.9zM454.7 164.2h0.9v0.9h-0.9zM459.4 165.5h0.9v0.9h-0.9zM454.6 171.4h0.9v0.9h-0.9zM473.5 166.3h0.9v0.9h-0.9zM457.6 161.1h0.9v0.9h-0.9zM473.2 166.6h0.9v0.9h-0.9zM459.1 172.9h0.9v0.9h-0.9zM470.6 161.2h0.9v0.9h-0.9zM457.0 165.4h0.9v0.9h-0.9zM456.2 163.7h0.9v0.9h-0.9zM458.7 163.8h0.9v0.9h-0.9zM469.5 168.1h0.9v0.9h-0.9zM463.6 161.6h0.9v0.9h-0.9zM453.9 164.7h0.9v0.9h-0.9zM460.5 170.9h0.9v0.9h-0.9zM450.5 157.8h0.9v0.9h-0.9zM467.1 164.3h0.9v0.9h-0.9zM458.6 171.1h0.9v0.9h-0.9zM457.8 158.8h0.9v0.9h-0.9zM471.7 164.2h0.9v0.9h-0.9zM467.6 169.3h0.9v0.9h-0.9zM467.3 171.2h0.9v0.9h-0.9zM476.2 172.0h0.9v0.9h-0.9zM468.9 168.9h0.9v0.9h-0.9zM474.9 170.9h0.9v0.9h-0.9z" fill="#000" fill-opacity="0.42"/>
</g>
<line x1="275.5" y1="28" x2="275.5" y2="174" stroke="#777" stroke-width="1.1"/>
<path d="M275.5 24L278.1 29.8H272.9Z" fill="#000"/>
<line x1="290" y1="190.8" x2="513" y2="190.8" stroke="#444" stroke-width="1.7"/>
<path d="M518 190.8L512 188.4V193.2Z" fill="#000"/>
<text x="403.8" y="187.6" font-size="8.8" text-anchor="middle" font-family="'Liberation Sans', sans-serif">Forward Scatter</text>
<text transform="translate(284.4,98.1) rotate(-90)" font-size="8.4" text-anchor="middle" font-family="'Liberation Sans', sans-serif">Biotin</text>
<text x="252.4" y="56.2" font-size="10" text-anchor="middle" font-family="'Liberation Sans', sans-serif">Day of</text>
<text x="252.4" y="65.6" font-size="10" text-anchor="middle" font-family="'Liberation Sans', sans-serif">transfer</text>
<text x="254" y="132.3" font-size="10" text-anchor="middle" font-family="'Liberation Sans', sans-serif">Day = 6</text>
<text x="253" y="141.8" font-size="10" text-anchor="middle" font-family="'Liberation Sans', sans-serif">after</text>
<text x="254" y="151.5" font-size="10" text-anchor="middle" font-family="'Liberation Sans', sans-serif">transfer</text>
<text x="234.5" y="207.3" font-size="10" font-family="'Liberation Sans', sans-serif">Survival rate</text>
<text x="324.2" y="207.3" font-size="10" text-anchor="middle" font-family="'Liberation Sans', sans-serif">83.5 ± 6.7</text>
<text x="404.2" y="207.3" font-size="10" text-anchor="middle" font-family="'Liberation Sans', sans-serif">83.2 ± 4.0</text>
<text x="483.7" y="207.3" font-size="10" text-anchor="middle" font-family="'Liberation Sans', sans-serif">82.7 ± 4.8</text>
</svg>
</body></html>
